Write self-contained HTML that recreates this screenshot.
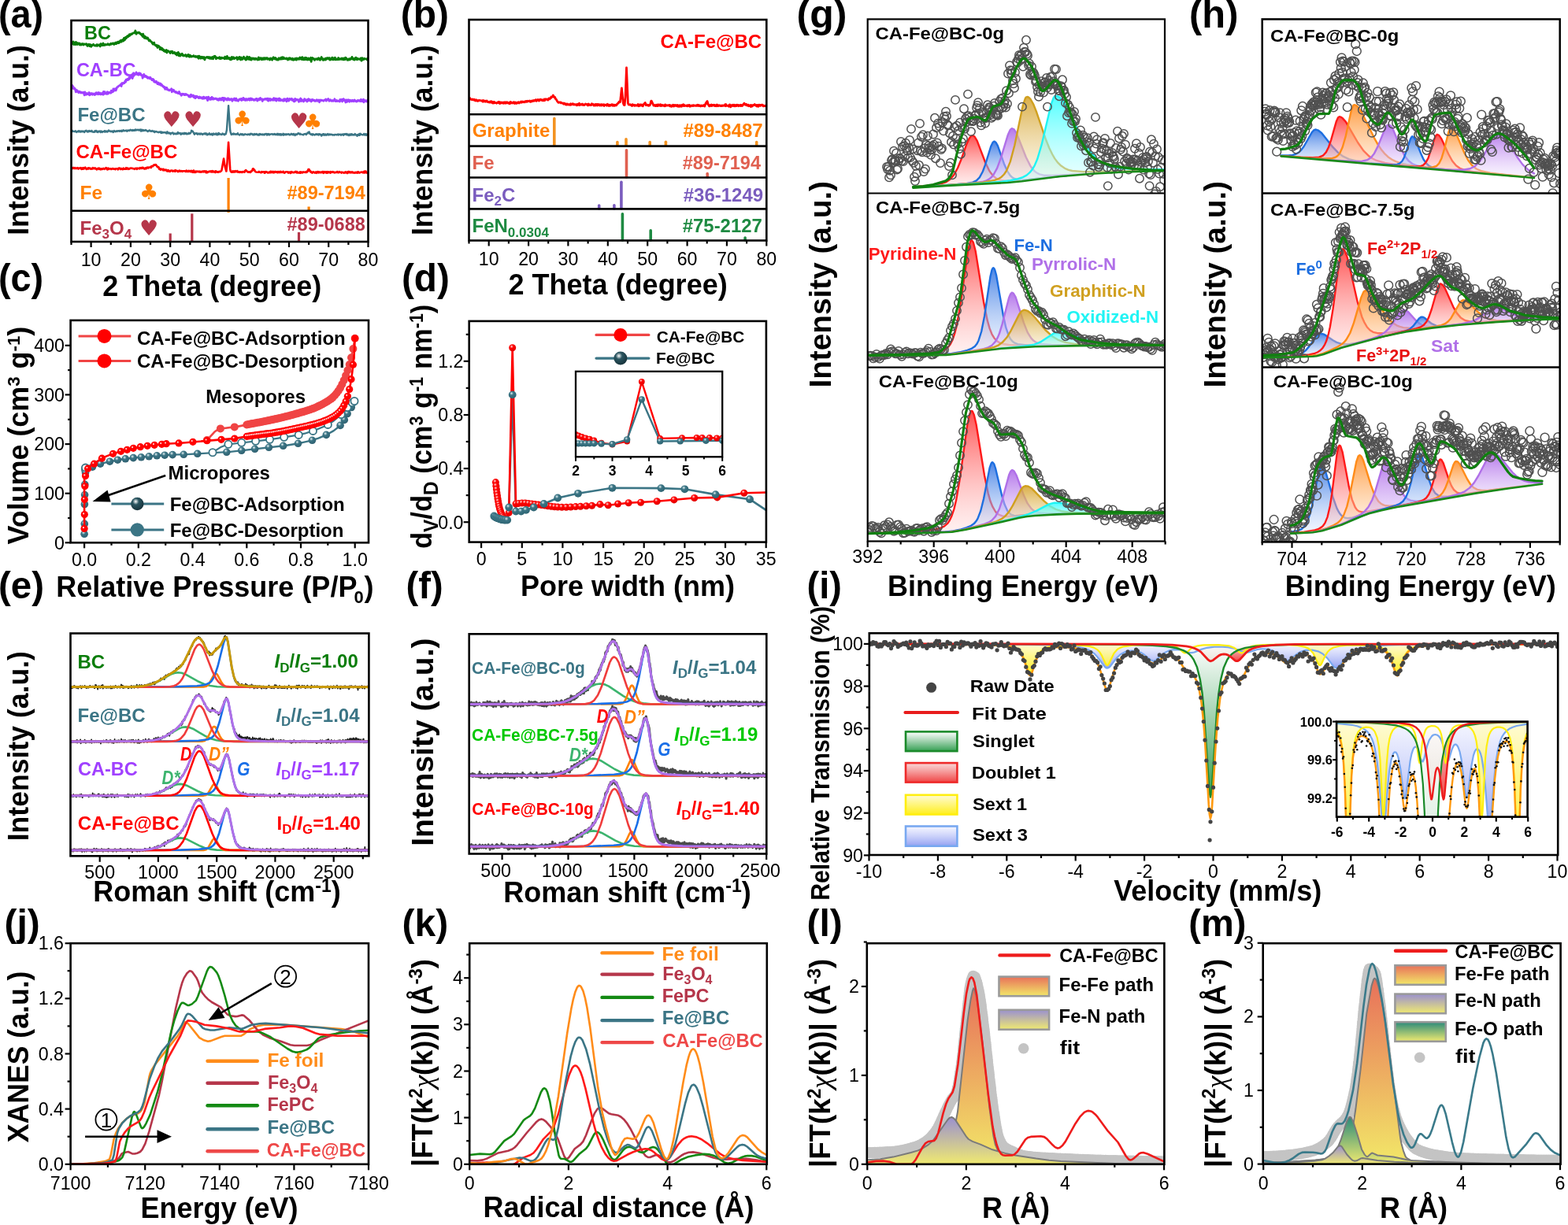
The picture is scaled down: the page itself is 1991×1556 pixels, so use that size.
<!DOCTYPE html>
<html><head><meta charset="utf-8"><title>Figure</title>
<style>html,body{margin:0;padding:0;background:#fff;}svg{display:block;}text{font-family:'Liberation Sans', Arial, sans-serif;}</style>
</head><body>
<svg xmlns="http://www.w3.org/2000/svg" width="1991" height="1556" viewBox="0 0 1991 1556">
<defs><clipPath id="cp1"><rect x="90.5" y="26" width="377" height="281"/></clipPath><clipPath id="cp2"><rect x="595.5" y="25" width="377.8" height="280.5"/></clipPath><radialGradient id="rg3" cx="0.38" cy="0.32" r="0.7"><stop offset="0" stop-color="#e8f2f4"/><stop offset="0.35" stop-color="#3b7585"/><stop offset="1" stop-color="#2f6070"/></radialGradient><radialGradient id="rg4" cx="0.38" cy="0.32" r="0.7"><stop offset="0" stop-color="#ffffff"/><stop offset="0.35" stop-color="#2a5560"/><stop offset="1" stop-color="#17323a"/></radialGradient><radialGradient id="rg5" cx="0.38" cy="0.32" r="0.7"><stop offset="0" stop-color="#ffe0e0"/><stop offset="0.35" stop-color="#ff0000"/><stop offset="1" stop-color="#e00000"/></radialGradient><radialGradient id="rg6" cx="0.38" cy="0.32" r="0.7"><stop offset="0" stop-color="#e0eef0"/><stop offset="0.35" stop-color="#3b7585"/><stop offset="1" stop-color="#2e6472"/></radialGradient><clipPath id="cp7"><rect x="595.7" y="407.9" width="377.2" height="280.7"/></clipPath><radialGradient id="rg8" cx="0.38" cy="0.32" r="0.7"><stop offset="0" stop-color="#ffffff"/><stop offset="0.35" stop-color="#2a5560"/><stop offset="1" stop-color="#17323a"/></radialGradient><clipPath id="cp9"><rect x="731" y="471.8" width="186.2" height="108.5"/></clipPath><clipPath id="cp10"><rect x="89.5" y="804.5" width="378.9" height="282.8"/></clipPath><clipPath id="cp11"><rect x="595.7" y="805.3" width="377.6" height="279.2"/></clipPath><clipPath id="cp12"><rect x="1101.7" y="24.4" width="377.3" height="221.1"/></clipPath><linearGradient id="lg13" x1="0" y1="0" x2="0" y2="1"><stop offset="0" stop-color="#ff3030" stop-opacity="0.85"/><stop offset="1" stop-color="#ffd8d8" stop-opacity="0.35"/></linearGradient><linearGradient id="lg14" x1="0" y1="0" x2="0" y2="1"><stop offset="0" stop-color="#2a6ee0" stop-opacity="0.85"/><stop offset="1" stop-color="#d8e6ff" stop-opacity="0.35"/></linearGradient><linearGradient id="lg15" x1="0" y1="0" x2="0" y2="1"><stop offset="0" stop-color="#a860e6" stop-opacity="0.85"/><stop offset="1" stop-color="#efe2ff" stop-opacity="0.35"/></linearGradient><linearGradient id="lg16" x1="0" y1="0" x2="0" y2="1"><stop offset="0" stop-color="#d4a028" stop-opacity="0.85"/><stop offset="1" stop-color="#faf2d8" stop-opacity="0.35"/></linearGradient><linearGradient id="lg17" x1="0" y1="0" x2="0" y2="1"><stop offset="0" stop-color="#30ffff" stop-opacity="0.85"/><stop offset="1" stop-color="#d8ffff" stop-opacity="0.35"/></linearGradient><marker id="mk18" markerUnits="userSpaceOnUse" viewBox="-7.7 -7.7 15.4 15.4" markerWidth="15.4" markerHeight="15.4" refX="0" refY="0" overflow="visible"><circle r="5.2" fill="none" stroke="#505050" stroke-width="1.5"/></marker><clipPath id="cp19"><rect x="1101.7" y="245.5" width="377.3" height="221.1"/></clipPath><marker id="mk20" markerUnits="userSpaceOnUse" viewBox="-7.7 -7.7 15.4 15.4" markerWidth="15.4" markerHeight="15.4" refX="0" refY="0" overflow="visible"><circle r="5.2" fill="none" stroke="#505050" stroke-width="1.5"/></marker><clipPath id="cp21"><rect x="1101.7" y="466.6" width="377.3" height="220.9"/></clipPath><marker id="mk22" markerUnits="userSpaceOnUse" viewBox="-7.7 -7.7 15.4 15.4" markerWidth="15.4" markerHeight="15.4" refX="0" refY="0" overflow="visible"><circle r="5.2" fill="none" stroke="#505050" stroke-width="1.5"/></marker><clipPath id="cp23"><rect x="1602.7" y="24.4" width="378" height="221.1"/></clipPath><linearGradient id="lg24" x1="0" y1="0" x2="0" y2="1"><stop offset="0" stop-color="#ff8a20" stop-opacity="0.85"/><stop offset="1" stop-color="#ffe6cc" stop-opacity="0.35"/></linearGradient><marker id="mk25" markerUnits="userSpaceOnUse" viewBox="-7.9 -7.9 15.8 15.8" markerWidth="15.8" markerHeight="15.8" refX="0" refY="0" overflow="visible"><circle r="5.4" fill="none" stroke="#505050" stroke-width="1.5"/></marker><clipPath id="cp26"><rect x="1602.7" y="245.5" width="378" height="221.1"/></clipPath><marker id="mk27" markerUnits="userSpaceOnUse" viewBox="-7.9 -7.9 15.8 15.8" markerWidth="15.8" markerHeight="15.8" refX="0" refY="0" overflow="visible"><circle r="5.4" fill="none" stroke="#505050" stroke-width="1.5"/></marker><clipPath id="cp28"><rect x="1602.7" y="466.6" width="378" height="221.8"/></clipPath><marker id="mk29" markerUnits="userSpaceOnUse" viewBox="-7.9 -7.9 15.8 15.8" markerWidth="15.8" markerHeight="15.8" refX="0" refY="0" overflow="visible"><circle r="5.4" fill="none" stroke="#505050" stroke-width="1.5"/></marker><linearGradient id="lg30" x1="0" y1="0" x2="0" y2="1"><stop offset="0" stop-color="#ffffff" stop-opacity="0.9"/><stop offset="1" stop-color="#2a9a4a" stop-opacity="0.95"/></linearGradient><linearGradient id="lg31" x1="0" y1="0" x2="0" y2="1"><stop offset="0" stop-color="#f8d0d0" stop-opacity="0.8"/><stop offset="1" stop-color="#ee3030" stop-opacity="0.9"/></linearGradient><linearGradient id="lg32" x1="0" y1="0" x2="0" y2="1"><stop offset="0" stop-color="#fffbd0" stop-opacity="0.9"/><stop offset="1" stop-color="#ffee10" stop-opacity="0.95"/></linearGradient><linearGradient id="lg33" x1="0" y1="0" x2="0" y2="1"><stop offset="0" stop-color="#eef0ff" stop-opacity="0.6"/><stop offset="1" stop-color="#8090f0" stop-opacity="0.85"/></linearGradient><clipPath id="cp34"><rect x="1103.8" y="804.3" width="874.4" height="281.7"/></clipPath><marker id="mk35" markerUnits="userSpaceOnUse" viewBox="-4.6 -4.6 9.2 9.2" markerWidth="9.2" markerHeight="9.2" refX="0" refY="0" overflow="visible"><circle r="2.6" fill="#444" stroke="none" stroke-width="1.0"/></marker><clipPath id="cp36"><rect x="1697.1" y="916.6" width="242.5" height="121"/></clipPath><marker id="mk37" markerUnits="userSpaceOnUse" viewBox="-3.3 -3.3 6.6 6.6" markerWidth="6.6" markerHeight="6.6" refX="0" refY="0" overflow="visible"><circle r="1.3" fill="#111" stroke="none" stroke-width="1.0"/></marker><clipPath id="cp38"><rect x="89.6" y="1198.2" width="378.4" height="280.6"/></clipPath><clipPath id="cp39"><rect x="596.2" y="1198.2" width="377.6" height="280.6"/></clipPath><linearGradient id="lg40" x1="0" y1="0" x2="0" y2="1"><stop offset="0" stop-color="#e8705a" stop-opacity="1"/><stop offset="1" stop-color="#f2e868" stop-opacity="1"/></linearGradient><linearGradient id="lg41" x1="0" y1="0" x2="0" y2="1"><stop offset="0" stop-color="#9a90d0" stop-opacity="1"/><stop offset="1" stop-color="#f0ea70" stop-opacity="1"/></linearGradient><clipPath id="cp42"><rect x="1100.8" y="1198.2" width="377.6" height="280.6"/></clipPath><marker id="mk43" markerUnits="userSpaceOnUse" viewBox="-9.2 -9.2 18.4 18.4" markerWidth="18.4" markerHeight="18.4" refX="0" refY="0" overflow="visible"><circle r="7.2" fill="#c4c4c4" stroke="none" stroke-width="1.0"/></marker><linearGradient id="lg44" x1="0" y1="0" x2="0" y2="1"><stop offset="0" stop-color="#e8705a" stop-opacity="1"/><stop offset="1" stop-color="#f2e868" stop-opacity="1"/></linearGradient><linearGradient id="lg45" x1="0" y1="0" x2="0" y2="1"><stop offset="0" stop-color="#9a90d0" stop-opacity="1"/><stop offset="1" stop-color="#f0ea70" stop-opacity="1"/></linearGradient><linearGradient id="lg46" x1="0" y1="0" x2="0" y2="1"><stop offset="0" stop-color="#2a8a7a" stop-opacity="1"/><stop offset="1" stop-color="#f0ea70" stop-opacity="1"/></linearGradient><clipPath id="cp47"><rect x="1603.7" y="1198.2" width="377.9" height="280.4"/></clipPath><marker id="mk48" markerUnits="userSpaceOnUse" viewBox="-9.2 -9.2 18.4 18.4" markerWidth="18.4" markerHeight="18.4" refX="0" refY="0" overflow="visible"><circle r="7.2" fill="#c4c4c4" stroke="none" stroke-width="1.0"/></marker></defs>
<rect x="0" y="0" width="1991" height="1556" fill="#fff"/>
<g clip-path="url(#cp1)"><path d="M90.5 56.1 91 54.1 92.1 53.8 92.7 55.6 93.2 52.8 93.7 56.6 94.3 54.4 94.8 55.4 95.4 55 95.9 56.6 96.4 53.5 98.1 56.6 98.6 54.7 99.1 55.6 99.7 55 100.7 56.5 101.3 55 101.8 57.1 102.9 56.6 103.4 57.1 104 55.7 104.5 56.2 105.1 55.5 106.1 57 106.7 55.9 107.2 56.2 108.3 55.9 109.4 56.7 109.9 55.8 111 58.4 112.6 56.2 113.2 56.4 113.7 58.6 114.8 56.6 115.8 59.2 116.4 57.4 116.9 57.9 117.5 57.6 118.5 56.3 120.2 57.9 121.2 58.2 121.8 57.5 122.3 58.1 122.9 56.6 123.4 58.3 124.5 56.9 125 57.5 125.6 57 127.2 59 127.7 55.7 128.3 55.6 129.9 57.6 131 55 132 57.5 132.6 56.9 133.1 57.3 133.6 56.4 135.3 56.8 136.3 56.5 136.9 55.7 137.4 56.6 138 56.3 138.5 57.1 139 57.1 140.7 55.3 141.2 56.2 142.3 55.3 142.8 55.6 143.4 54.9 143.9 56 144.4 54.9 145 56.4 145.5 55.6 146.1 55.7 146.6 54.1 147.7 55.6 148.2 53.9 149.3 54.5 149.8 53.1 150.9 54.7 151.4 52.9 152 53.7 152.5 51.9 153.1 52.8 153.6 51.1 154.1 53.2 155.8 50.4 156.3 51.8 156.8 52.1 157.4 48.3 157.9 50.7 158.5 50.6 159.5 47.3 160.1 48.8 161.7 45.7 162.2 46.9 162.8 46.7 163.3 45 163.9 45.7 164.4 43.7 164.9 45.1 166.5 43 167.1 43.6 169.2 41.8 170.9 41.9 171.9 39 173 43.2 174.1 41.4 175.7 41.9 176.3 41.1 176.8 41.8 177.3 41.6 177.9 42.9 178.4 42.7 179 43.7 179.5 43.4 180 44.7 180.6 44.3 181.1 46.5 181.6 43.1 183.3 48.3 183.8 46.2 184.9 47 185.4 48.8 186 47.8 186.5 49.1 187.6 48.1 189.2 51.7 189.7 50.9 190.3 50.8 190.8 52.3 192.4 53 193 54.6 193.5 54.3 194.1 56.1 195.1 55.8 195.7 54.1 196.2 56.6 197.8 58.1 198.4 57.2 198.9 58.7 199.4 57.8 200 60.5 200.5 57.9 201.6 58.4 202.7 59.6 203.2 62.7 204.3 60.4 204.8 62.9 205.9 61.4 206.5 63.6 207 63.6 207.5 62.9 208.1 64.7 208.6 63.8 209.2 65.3 209.7 64.5 210.2 65.6 211.3 63.5 211.9 66.9 212.4 64.4 212.9 64.9 213.5 64.6 215.1 65.9 216.2 67.6 217.2 65.2 218.3 66 218.9 65.3 219.4 67.7 219.9 66.7 221 67.4 221.6 66.4 222.6 68.5 223.2 68.6 223.7 67.8 224.3 70 224.8 67.3 225.9 68.5 226.4 66.4 227 70.7 228 68.2 228.6 71.1 229.1 69.9 229.7 69.8 230.2 69 230.7 69.7 231.3 68.3 231.8 70.5 232.3 69.5 233.4 71 234 70.3 235 70.4 235.6 69.6 236.7 71.8 237.2 71.1 237.7 71.3 238.3 69.8 239.4 69.4 239.9 71.9 240.4 70.7 241 72.2 241.5 70.3 243.1 72.1 243.7 71.4 245.3 71.7 245.8 70.6 246.4 71.7 247.4 71.8 248 72.3 248.5 71.3 250.7 73 251.2 71.5 252.3 74.3 252.8 71.2 254.5 72.5 255 74.2 256.1 72.2 256.6 73.5 257.2 72.4 257.7 74 258.2 73.3 258.8 74.3 259.3 72.5 259.9 75.8 260.4 73.9 262.6 72.4 263.1 73.1 263.6 72.5 264.2 73.5 264.7 72.5 265.8 74.1 266.3 72.6 266.9 74.4 267.4 73.1 267.9 74.4 268.5 73.7 269 74.4 269.6 72.5 270.6 74.7 271.7 71.6 272.8 71.2 273.3 71.6 274.4 74.7 275 73.1 275.5 73.8 277.7 73.4 278.2 74 278.7 72.6 279.3 74.6 279.8 74.5 280.3 73.5 280.9 74.4 281.4 73.1 282.5 73.9 284.7 73.3 285.2 74.7 285.7 72.1 286.3 74.2 286.8 73.7 287.4 74.5 287.9 74.4 288.4 71.4 289 74.5 290.6 73.5 291.1 74.7 291.7 73.6 292.2 75.6 292.8 74.5 293.3 75.9 294.4 72.4 294.9 74.7 295.4 74.8 296.5 72.7 297.6 74.6 298.1 73.9 299.2 73.9 299.8 73.2 300.3 73.6 300.8 72.8 301.4 75.7 301.9 73.7 302.5 74.5 303 73.2 303.5 74.8 304.1 72.4 304.6 75 305.2 74.1 305.7 76 306.2 73 307.9 75.3 308.4 73.8 308.9 74.3 309.5 72.2 311.1 75.2 311.6 73.9 312.2 76.1 312.7 75.8 313.8 72 315.4 75.2 316.5 72.4 317.6 75.7 318.1 73.9 318.6 73.6 319.2 76.1 320.3 73.9 320.8 74.6 321.9 73.9 322.4 75.4 323.5 75.1 324 74.2 324.6 75.4 325.1 74.3 326.2 75.3 326.7 75.1 327.3 76 328.3 72.9 328.9 73.3 329.4 75.6 330 74.1 330.5 74.7 331 73.6 331.6 75.3 332.1 74.1 332.7 75.7 333.2 73.9 333.7 75.4 334.8 73.8 335.4 75.4 335.9 73.6 336.4 73.7 337 75.1 337.5 73.9 338.6 74.2 339.1 73.6 339.7 75.4 341.3 74.4 342.4 76.1 343.5 74 344 75.2 345.1 74.3 345.6 76.2 346.1 74.1 346.7 74.1 347.2 72.8 348.3 74.9 348.8 73.9 349.4 75 349.9 73.5 351.5 75.9 352.1 75.1 353.2 76.1 354.2 73.7 355.3 75.1 355.9 74.2 356.4 75 356.9 73.1 358 75 358.6 72.6 359.6 74.6 360.2 73 360.7 74.6 361.2 73.9 362.9 74.8 363.4 74.1 363.9 74.7 364.5 74 365.6 76.1 367.2 73.6 367.7 75.2 368.3 73.9 368.8 73.9 369.3 75.1 369.9 74.8 371 75.9 371.5 74.1 372.6 76.2 373.7 75.3 374.2 75.8 374.7 74.1 376.4 76.1 376.9 73.9 378 75 379 74.3 379.6 75.3 380.7 73 381.2 75 382.8 73.3 383.4 75.6 383.9 72.7 385.5 75.8 386.1 75.9 386.6 73.6 387.1 74.5 387.7 73.3 388.2 75.6 388.8 73.4 389.8 75.6 390.4 74.5 390.9 76 391.5 73.9 392.5 75.5 393.1 74.6 393.6 76 394.7 73.2 395.2 78.3 395.8 75.3 396.8 73.5 397.4 74.8 397.9 74.3 398.5 75.3 399 75.1 399.5 76.4 400.1 74.9 400.6 75.2 402.2 74.6 402.8 75.7 404.4 73.7 405.5 75.8 406 74.7 406.6 76.3 407.1 74.1 407.6 74.9 408.2 72.5 408.7 74.2 410.3 76.3 410.9 74.8 411.4 76.1 411.9 75.4 412.5 75.7 413 74.4 413.6 76 414.1 73.8 414.6 75.2 415.2 73.9 415.7 74.3 416.3 73.5 417.3 75.1 418.4 73.6 419 76.1 419.5 75.1 420 75.7 420.6 75.5 421.7 73.1 422.7 75.9 423.3 73.9 423.8 75.6 424.4 74.3 424.9 75.2 425.4 73.2 426 75.9 426.5 74.8 427 75.6 427.6 75 428.1 75.6 428.7 74.8 429.2 75.5 429.7 73.5 430.8 75.5 431.9 74.7 433 75.3 433.5 74.3 434.1 75.3 434.6 74 435.7 75.8 436.2 75.8 436.8 73.9 437.3 75.6 437.8 73.9 438.4 75.5 438.9 73.2 440.5 74.7 441.1 76.2 441.6 75.7 442.2 76.3 443.2 74.6 443.8 74.7 444.3 75.9 445.9 73.7 446.5 74.8 447 72.4 447.5 74.5 448.1 74 448.6 75.5 449.2 74.5 449.7 74.6 450.2 76.1 450.8 74 451.3 75.2 451.9 73.2 452.4 75 453.5 75.7 454 74.1 454.6 75.2 455.6 74.9 456.7 75.4 457.3 75.3 457.8 74.1 458.3 73.9 458.9 77.2 459.4 76.7 459.9 73.7 460.5 75.4 461.6 75.7 462.6 74.1 463.2 74.8 465.3 74.9 466.4 76.1 467 73.9 467.5 74.6" stroke="#0a7d0a" stroke-width="2.8" fill="none" stroke-linejoin="round" stroke-linecap="round"/><path d="M90.5 109 91 109.8 91.6 108.3 92.1 112.2 92.7 109.6 93.7 112.7 94.3 111.7 95.4 113 96.4 116.8 97.5 114.5 98.1 116.3 98.6 115.6 99.7 117.7 100.2 116.2 100.7 117.1 101.3 116.5 102.4 117.9 102.9 117 104 118 105.6 117.3 106.1 118.6 106.7 118.6 107.2 120.9 107.8 116.8 108.3 119.1 109.4 120.3 110.5 118.4 111.5 119.6 112.1 118.9 112.6 119.9 113.2 117.5 113.7 120.8 114.2 120.5 114.8 118.9 115.3 119.8 116.4 118.5 117.5 120.2 118 119 118.5 119 120.2 120.5 120.7 118.8 121.2 119.8 121.8 119.6 122.3 117.7 122.9 119 124.5 119.7 125 117.5 125.6 119.4 126.6 118 127.2 119.7 127.7 119.9 128.3 118.6 128.8 119.8 129.3 118.7 129.9 119 130.4 117.9 131 120.2 131.5 116.3 132.6 119.2 133.1 116.7 133.6 118.3 135.3 119.4 136.3 116.8 136.9 119.2 137.4 119 138 117.4 138.5 118 140.1 117.3 140.7 118.2 141.2 115.1 141.7 117.3 142.8 115.6 143.4 116.5 143.9 113 144.4 115.7 145.5 112.9 146.1 113.9 146.6 112.8 147.1 115 148.7 110.8 149.8 110.3 150.9 109 152 108.7 153.6 106.9 154.1 109.6 154.7 105.6 155.2 105.6 155.8 106.5 156.3 105.4 157.9 105.5 159 102.7 159.5 104.2 160.1 101.2 160.6 102.2 161.7 100.6 162.2 101.6 162.8 100.5 163.3 101.2 163.9 98.5 164.4 100.2 165.5 98.7 166 96.9 166.5 97.6 167.6 95.1 168.2 99.5 168.7 97 169.2 97.3 169.8 94.9 170.3 95.6 171.4 94.9 172.5 93.7 173 91.9 173.6 94.2 174.1 94 174.6 94.6 175.2 93.3 175.7 95.2 176.8 92.7 177.3 94.9 178.4 93.3 179.5 95.6 180 95.3 180.6 95.8 181.1 99.2 181.6 96.5 182.2 97.4 182.7 94.4 183.3 96.7 183.8 97.3 184.9 96.3 185.4 97.6 186.5 97.2 187 98.9 187.6 99.3 188.7 98.2 189.2 99.3 190.3 99.9 190.8 98.3 193 101.7 193.5 101.8 194.1 100.4 194.6 101.2 195.1 101.1 195.7 104.1 196.2 103 197.3 104.5 198.4 103.2 200 106.6 200.5 106.4 201.1 105 201.6 106.9 202.1 107.3 202.7 106.1 203.2 107.3 203.8 106.1 204.3 108.4 205.4 107.6 206.5 109.7 207 109.3 208.1 111 208.6 110.1 209.7 113.4 210.8 111.3 211.3 112.4 211.9 111.4 212.4 113.9 212.9 113.4 213.5 114.3 214.5 114.1 215.1 114.9 216.7 113.7 217.2 114.4 217.8 112.7 218.3 116.8 218.9 113.8 219.4 115.5 220.5 114.2 221 116.1 222.1 116.4 222.6 117.3 223.2 116.4 223.7 117.5 224.3 117.9 224.8 117.3 225.9 118.5 227 118.5 227.5 116.5 228 118.8 228.6 119.3 229.1 119 230.2 121.2 230.7 119.7 231.3 120.4 231.8 119.2 232.9 119.8 233.4 119.4 234 120.5 234.5 119.7 235 120.5 235.6 119.5 236.1 119.4 236.7 120.4 237.2 120.1 238.8 121 239.9 122.8 241 121.4 241.5 123.2 242.1 120.6 242.6 120.2 243.1 122.4 244.8 122.4 245.3 121 245.8 121.6 246.4 123.8 246.9 123.7 247.4 122.3 248 124.7 248.5 122.1 249.6 123.6 250.1 122.3 251.2 123.4 251.8 123.3 252.3 124.6 252.8 124.4 253.4 123 254.5 124.3 255.5 123.6 256.6 125.1 257.2 123.9 257.7 125.2 258.2 123.1 258.8 123.1 259.3 125.1 259.9 123.9 260.4 123.8 260.9 124.5 261.5 124.1 262 125 262.6 123.5 263.6 127.7 264.7 123.1 265.2 125.4 265.8 125.4 266.3 126.2 267.4 124.4 267.9 126.3 269 123.4 269.6 125.7 270.1 124.9 270.6 126.1 271.2 124.8 271.7 125.9 272.3 125.4 272.8 125.7 273.9 124.9 275 125.9 275.5 125.7 276 126.8 276.6 125.7 277.1 126 277.7 127.3 278.2 125.5 278.7 125.9 279.3 124.9 280.3 127 280.9 125.8 281.4 126.9 282 124.6 282.5 124.4 283 125.9 283.6 124.4 284.1 128.1 285.2 124.6 285.7 125.6 286.3 125.3 286.8 126.2 287.4 125.8 288.4 127.2 289.5 124.8 290.1 126.4 290.6 125.8 291.1 127 291.7 125.8 292.2 126.7 293.8 125.6 294.9 128.3 296 125.9 296.5 126.7 297.6 124.9 298.7 127.5 299.8 125.1 300.8 127.7 301.4 126.9 301.9 127 302.5 128.2 304.1 125.9 305.2 126 305.7 126.9 306.2 125.4 306.8 127.5 307.9 125.8 308.4 126.9 308.9 124.3 310.6 126.9 311.1 125.8 311.6 127.5 312.2 125.8 312.7 126.7 313.2 125.6 313.8 127.3 314.3 126 314.9 126.7 315.9 125.3 317 127.2 317.6 125.3 318.1 124.9 319.2 127 319.7 125.3 320.8 126.5 321.3 126 322.4 127.4 323 126.3 323.5 126.3 324 127 325.1 125.5 326.2 125.3 326.7 128.1 327.3 126.3 328.3 127 328.9 125.5 329.4 126.9 330.5 124.5 331 126.2 331.6 125.4 332.7 126.7 333.2 128.5 333.7 126 334.8 126.8 335.9 126.3 336.4 125.5 337.5 126.3 338.1 125.4 338.6 125.9 339.1 125.3 339.7 127.5 340.2 125.1 340.8 128.2 341.3 126 342.4 125.5 342.9 127.2 343.5 127.5 344 125.8 344.5 126.9 345.6 126.4 346.7 127.3 347.2 124.9 347.8 124.6 348.3 126.8 348.8 126.6 349.4 127.3 349.9 125.1 351 128.1 351.5 125.5 352.1 127 352.6 126 353.2 126.4 353.7 125.5 354.2 127.8 354.8 125 355.9 126 356.4 127.8 356.9 127.1 357.5 127.4 358 126.8 359.1 127.3 359.6 128.2 360.7 125.6 361.2 127.9 362.3 125.9 362.9 126.8 363.4 126 363.9 128.8 365 125.2 365.6 127.2 366.1 126.2 366.6 128.2 367.7 125.4 368.3 126.6 368.8 126.1 369.9 126.5 370.4 125.3 371 127.3 371.5 126.3 372 126.3 373.1 128.8 373.7 126.6 374.2 128.8 374.7 125.3 375.3 127.7 375.8 126.7 376.4 127.1 376.9 126.3 378.5 126.9 379.6 129.3 380.1 126.7 380.7 127.1 381.7 125 382.3 128.6 382.8 126.1 384.4 128.2 385 127.6 385.5 129 386.6 125.7 387.1 127.5 387.7 127.5 388.2 126.7 388.8 127.1 389.3 126.9 389.8 129 390.4 126.9 390.9 126.2 391.5 127.7 392 125.8 392.5 127.9 393.1 127.9 393.6 126.7 394.7 127 395.2 129 396.3 126.4 396.8 126.4 397.4 127.5 397.9 127.5 398.5 126.9 399 127.8 399.5 127.4 400.1 128.5 401.2 127.5 401.7 127.7 402.2 126.8 402.8 128.4 403.9 127.2 404.4 127.7 404.9 127.1 405.5 129.8 406 127.2 406.6 128.1 407.1 127.9 407.6 126.9 408.2 127.6 408.7 127.3 410.9 128.3 411.4 127.3 413 126.9 413.6 126.1 414.1 128.2 416.8 125.4 417.9 128.3 418.4 128.2 419.5 126.7 420 127.7 421.1 128.3 421.7 128.4 422.2 127.5 423.3 128.3 424.4 127.6 424.9 125.8 426 128.5 426.5 127.9 427 128.6 427.6 127.4 428.7 128.5 429.7 128.1 431.4 129 431.9 126.3 432.4 127.3 433 127.5 433.5 127.4 434.1 126.3 434.6 129 435.1 126.9 435.7 127.9 436.2 125.6 436.8 127.3 437.3 127.6 437.8 127 438.9 130 439.5 127 440 127 440.5 129.4 442.2 126.7 442.7 128.5 443.2 128 443.8 129.2 444.3 127.1 444.8 127.7 445.9 127.7 446.5 128.8 447 128.6 447.5 127.3 448.6 127.7 449.2 128.7 450.2 126.9 451.9 128.7 452.9 129.1 454 127.4 454.6 128.4 455.6 127.4 457.3 128.7 458.3 126.4 458.9 128.4 459.4 127.1 459.9 128.8 460.5 127 461 127.4 461.6 126.3 462.1 129.8 462.6 127.5 464.3 127.7 464.8 128.7 465.9 128 466.4 129 467 126.8 467.5 129" stroke="#a040ff" stroke-width="2.8" fill="none" stroke-linejoin="round" stroke-linecap="round"/><path d="M90.5 167.9 92.1 166.1 92.7 166.9 93.7 167 94.8 167 95.9 166.3 96.4 167.4 97.5 167.9 98.1 167 99.7 166.2 100.2 167.5 100.7 166.4 101.3 166.4 102.4 167.7 103.4 166.5 104.5 167.3 105.6 166.6 107.2 168 107.8 166.4 108.8 166.6 109.4 165.8 109.9 166.5 110.5 166.5 111 167.6 112.1 166.2 112.6 167.3 113.7 166.1 114.2 166.7 115.3 166.6 115.8 167 116.4 165.9 117.5 167.5 119.6 167.7 120.2 166.4 120.7 167.4 121.2 166.1 121.8 166.7 122.3 166 122.9 167.5 123.4 167.7 123.9 166.9 124.5 167.9 125 166.7 126.1 167.1 126.6 166.5 127.7 168 128.3 166.5 128.8 167.4 129.3 166.9 129.9 167.9 130.4 167.2 132 167.1 132.6 166.3 133.1 167.7 133.6 166.3 134.2 167.1 134.7 167.3 135.3 166.6 136.3 167.6 138 165.5 138.5 166.5 140.1 166.5 140.7 167.2 141.2 166.7 142.3 167.3 142.8 166.5 143.9 167.9 145 166.1 146.6 167.3 148.2 166.2 148.7 166.9 149.8 166.2 150.9 166.2 151.4 166.8 152 166 153.1 166.7 154.1 165.8 154.7 166.9 155.2 165.8 155.8 166.4 156.8 165.2 157.4 166.2 159 166.1 160.1 165.5 161.2 166.8 162.2 165.5 162.8 166 163.9 165.5 164.4 166.1 165.5 164.8 167.6 166.1 168.2 165.1 168.7 165.8 169.8 165.3 170.3 165.7 171.4 164.8 171.9 165.8 172.5 164.6 173 165.2 174.1 165.3 174.6 164.7 176.3 165.5 176.8 164.7 177.3 165.2 178.4 164.6 179 166.6 180 164.7 180.6 166.2 181.1 165 182.2 166.1 182.7 165.3 184.3 165.8 184.9 165.1 187.6 167 188.7 166 189.2 166.3 189.7 165.4 191.9 166.9 193.5 166 194.1 166.7 195.1 167.1 195.7 166.6 196.2 168 197.8 166.9 201.1 168.2 202.1 167.6 202.7 167.9 203.8 167.5 204.3 168.8 204.8 167.6 205.4 168.9 205.9 167.8 207 168.6 207.5 168.2 210.2 168.1 210.8 169.3 211.3 168.4 211.9 169.4 212.4 167.3 212.9 168.7 213.5 169 214 168.6 214.5 169.4 215.6 168.8 216.7 170.4 217.2 169.2 218.3 168.8 218.9 169.1 219.4 168.5 220.5 170.4 221.6 169.5 222.6 170.1 223.2 169.5 223.7 170.3 224.8 169.3 225.3 170.1 225.9 168.1 227 169.5 227.5 168.9 228 169.3 229.1 169.1 229.7 170.8 230.7 169.4 231.3 170.1 231.8 169.3 233.4 170.3 234 168.8 234.5 169.9 235.6 169 236.1 170.1 236.7 169.2 237.2 170.4 238.8 169.7 239.4 170.1 239.9 168.8 240.4 169.7 241 169.3 241.5 169.6 242.6 167.9 243.1 165.8 244.8 166.8 246.9 170.8 247.4 169.3 248 169.6 249.6 169.2 250.1 170.2 250.7 169.5 251.2 170.8 252.3 169.6 253.4 169.8 253.9 170.8 255 169.4 256.1 170.4 256.6 169.9 257.2 171 258.8 169.8 259.9 170.2 260.4 169.2 260.9 170.5 261.5 169.5 262 170.4 262.6 169.6 263.1 171.4 263.6 170.6 264.7 170.9 265.8 169.3 266.9 170.9 267.4 170.5 268.5 171 269 169.8 270.1 171.5 271.2 169.5 271.7 170.4 272.8 170.7 273.3 170.1 273.9 170.6 274.4 169.4 275.5 171.3 276 171.2 276.6 169.8 277.1 170.7 277.7 169 278.2 170.7 279.3 170 280.9 171 282 170.7 282.5 169.6 284.1 170.7 284.7 170.5 285.2 171.3 285.7 170.1 286.8 170.2 287.9 165.3 290.1 134.1 292.2 165.3 292.8 168.4 293.8 171.1 294.4 170 295.4 170.1 296 170.7 296.5 169.6 297.1 170.6 297.6 169.9 299.2 170.8 299.8 170.3 301.4 170.5 301.9 169.2 302.5 170.4 304.1 171.6 305.7 170.1 307.3 171.2 307.9 170.2 309.5 171.5 311.1 170.3 314.3 171.2 314.9 170.4 315.4 170.8 315.9 170.4 317 171.2 318.1 169.7 318.6 170.5 319.7 169.9 321.3 171.5 321.9 170.4 323 171.2 323.5 170.1 324 170.6 325.1 170.7 325.7 169.9 326.7 171.2 327.8 171.6 328.3 170.5 328.9 171.6 330 170 330.5 171 331 170.5 331.6 170.9 332.1 170.6 332.7 171.3 333.7 170.5 334.3 171.2 335.4 170.5 335.9 171.3 336.4 170.5 338.1 169.9 339.1 171.6 339.7 170.2 340.2 170.7 340.8 170.1 341.3 170.4 341.8 171.4 342.9 170.4 343.5 170.7 345.6 170.2 346.7 171 348.3 170 348.8 170.7 349.4 170.2 349.9 171.1 351 171.1 352.1 169.8 352.6 171.2 353.2 171.3 353.7 170 354.8 171.3 355.3 170.2 355.9 171.6 356.9 170.2 357.5 171.4 358.6 170.4 359.1 171.2 359.6 169.8 360.2 171.6 360.7 170.3 361.2 170.9 361.8 170.5 362.9 171.2 363.4 170.3 363.9 171.1 366.1 170.2 367.2 171.2 367.7 170.7 368.3 171.3 369.9 169.8 371 170.9 372 170.3 372.6 171.3 373.1 169.9 374.7 171.9 375.8 170.3 376.4 171 377.4 170.9 378.5 169.3 379.6 169.5 380.7 170.8 381.2 169.8 382.3 170.6 384.4 170.9 385 171.5 386.1 170.3 387.7 170.3 388.2 169.8 388.8 171.1 390.9 168.4 391.5 168.2 392 169.2 392.5 167.4 393.6 170 395.2 171.1 395.8 170.2 396.8 171.5 397.4 170.3 399.5 171.5 401.2 170.3 402.2 171 402.8 170.3 404.4 171.4 404.9 170.3 405.5 171.1 406 170.3 407.1 170.8 408.2 172.5 408.7 171 409.8 171.4 410.3 170.2 410.9 171.2 411.4 170.2 411.9 171.7 413.6 170.5 414.1 171.7 414.6 171 415.7 171.2 416.3 170 417.3 171.4 419 170.4 419.5 171.2 421.1 170.6 422.2 171.5 422.7 171.1 424.4 171.7 425.4 170.8 427.6 171.4 428.1 170.7 428.7 171 429.2 170.4 429.7 171.5 430.3 170.7 430.8 171.1 431.4 170.6 432.4 170.6 433 171.8 434.6 170.4 436.2 171.8 436.8 170.2 437.8 170.8 438.9 170.1 440 171.3 440.5 170.1 441.6 171.4 442.7 170.7 443.2 172.1 444.3 170.5 444.8 171.4 445.4 170.4 445.9 171.4 446.5 170.3 447 171.3 447.5 170.7 448.1 171.5 449.7 171 450.2 171.5 450.8 170.1 451.3 171.2 452.9 171.4 453.5 172.8 454 171 454.6 171.4 455.1 171 455.6 171.8 456.2 170 456.7 171.8 457.8 169.8 458.9 170.9 460.5 171.4 461.6 171 462.1 169.9 463.2 171.5 464.3 170.1 464.8 170.3 465.3 171.8 465.9 170.7 467 170.6 467.5 171.3" stroke="#3b7585" stroke-width="2.4" fill="none" stroke-linejoin="round" stroke-linecap="round"/><path d="M90.5 213.6 91 213.9 91.6 213.1 92.1 214 93.2 212.9 94.3 214 95.4 213.1 95.9 214 96.4 213.7 97.5 213.9 98.1 213.2 98.6 213.9 99.1 213.5 99.7 214.5 101.3 213.3 102.4 213.9 102.9 213.2 103.4 214.9 104 214 104.5 214.7 105.1 213.3 105.6 214.7 106.1 213.2 107.2 214.2 107.8 213.9 108.3 212.7 109.9 215 111 213.8 111.5 214.4 112.1 213.4 112.6 214.3 113.2 213.3 114.8 214.4 115.3 213.9 115.8 214.7 116.4 214 117.5 214.5 118 213.2 118.5 214.1 119.6 213.7 120.2 214.2 120.7 213.4 121.2 214.4 122.3 214.3 122.9 215.4 123.4 214.4 124.5 213.8 125 214.4 125.6 213.7 126.1 214.9 126.6 213.9 127.7 215.3 128.8 214.4 129.3 215 129.9 214.3 130.4 214.7 131.5 213.9 132.6 214.8 133.6 213.8 134.2 214.1 134.7 213.2 135.3 214.1 135.8 213.9 136.3 215.4 137.4 213.7 138 214.9 138.5 214.4 140.7 214.3 141.2 215 143.4 214 144.4 214.8 146.1 214.4 146.6 215.2 147.1 214.3 149.3 214.3 149.8 215.4 150.9 213.5 151.4 214.1 152 213.6 153.1 215 153.6 214.1 154.1 214.6 154.7 214.2 155.8 215.2 156.8 213.7 157.4 214.6 159 214.8 160.1 213.2 160.6 214.7 161.7 213.6 162.2 213.6 162.8 214.8 163.3 214.3 164.4 214.6 164.9 213.8 166.5 213.6 168.2 214.1 168.7 213.9 170.9 214.9 171.4 214.1 172.5 213.8 173.6 214.8 174.1 213.7 174.6 214.4 175.2 213.8 176.8 213.7 177.3 214.3 177.9 213.1 179 213.7 179.5 213.2 180 213.9 180.6 212.9 181.1 213.6 181.6 212.8 183.3 214.5 183.8 213.9 184.3 214.1 184.9 213.3 185.4 214.3 186 213.1 187 212.5 188.1 213.5 188.7 212.6 190.3 212.7 191.4 211.9 191.9 213 192.4 211 194.1 211.3 195.1 209.7 196.2 209.2 196.8 209.7 197.8 209 200 212.3 201.1 212 201.6 212.6 202.1 214.8 202.7 214 203.8 215.7 204.3 214.7 204.8 215.1 205.9 214.9 207 216.2 207.5 214.8 208.1 216.3 208.6 215.8 209.7 216.2 210.2 215.5 210.8 216.1 211.3 215.8 211.9 217.3 212.4 217.5 213.5 216 214 217.3 214.5 216.7 215.6 217.9 217.2 216.5 218.3 217 218.9 216.6 219.4 217.7 221 216.9 222.1 217.8 222.6 216.2 223.2 217.3 224.3 216.8 225.3 217.2 225.9 218.1 227.5 216.6 228 217.6 228.6 216.9 229.7 217.6 230.7 217.1 231.8 217.8 232.3 217.3 235 217.2 235.6 218 236.7 216.5 237.7 218 238.8 217.2 239.4 218 239.9 216.9 241.5 217.9 242.1 217 242.6 216.9 243.1 218.3 243.7 217.2 244.8 218.8 245.8 216.5 246.4 219 247.4 217.8 248 219 248.5 217.6 249.1 218.4 250.1 217.5 251.8 218.3 252.3 218.3 252.8 217.5 253.9 218.7 255 217.8 255.5 218.5 256.6 218.4 257.2 217.5 258.8 218.4 259.3 217.3 260.9 218.4 261.5 217.4 262 219.3 262.6 218 263.6 219.1 264.2 218.3 265.2 217.9 265.8 218.2 266.3 217.5 267.4 218 267.9 217.5 268.5 218.5 269.6 217.1 270.1 218.4 270.6 217.6 271.2 218.3 271.7 217.7 273.3 219 273.9 217.3 275.5 218.6 276 218 277.1 218.8 278.2 217.9 279.8 218.2 281.4 216.6 284.1 201.6 285.7 211.9 287.4 217.5 288.4 207.6 290.1 180.9 292.2 214.4 292.8 217.6 293.8 218.6 294.9 218.4 295.4 217.4 296 218.6 297.1 217.3 298.1 218.5 299.2 217.1 299.8 218 300.8 218.2 301.4 217.2 301.9 218.5 302.5 218.6 304.1 218.3 304.6 218.9 305.7 218.2 307.3 219 308.4 218 310.6 218.7 311.1 216.9 311.6 216.9 312.2 216.1 314.3 218.4 314.9 218 315.4 218.7 317 218.4 318.1 219 318.6 217.6 319.2 217.7 320.3 216.8 320.8 214.7 321.3 214.2 321.9 214.4 322.4 216 323 215.6 324 217.8 325.1 218.5 328.3 218.7 328.9 218 329.4 218.6 331.6 219.3 332.1 218.2 333.2 218.7 333.7 218.2 335.4 218.3 335.9 219.7 336.4 218.5 337 219.3 337.5 218.2 338.1 218.7 338.6 218.3 340.2 219.6 341.8 218.6 342.9 219.3 343.5 217.8 344 218.5 344.5 218.1 345.1 219.1 345.6 218 346.1 219 346.7 218 347.2 218.1 347.8 219.4 349.4 217.8 350.5 218.9 351.5 218.2 352.6 219.3 353.2 218.1 353.7 218.6 354.2 218.2 354.8 219.2 356.4 217.8 356.9 219 357.5 218.5 359.1 218.9 359.6 217.8 361.2 219.6 362.9 218.3 364.5 218.3 365.6 218.7 366.1 219.7 366.6 218.6 367.2 219.2 367.7 218.5 368.8 219.9 369.3 218.4 369.9 218.1 370.4 219.2 371.5 218.6 373.1 219.3 375.3 217.9 376.4 219.3 376.9 218 378 219.3 378.5 219 379 219.5 379.6 219.1 380.1 219.5 380.7 218.4 381.2 218.3 381.7 219.7 382.3 218.9 383.4 218.5 383.9 219.5 385.5 218.4 387.7 218.9 388.8 218.2 389.3 218.9 389.8 217.6 390.4 218.1 390.9 217.3 391.5 215 392 216.1 392.5 215.1 393.1 216.8 393.6 216.8 394.1 218.2 394.7 217.8 395.2 218.9 395.8 218.8 396.3 219.6 397.4 218.3 397.9 218.9 398.5 218.5 400.1 219.6 401.2 218.4 402.2 219.8 403.3 218.1 404.4 218.2 404.9 219.4 406 218.4 407.1 219.3 408.2 218.4 409.3 219.2 409.8 218 410.3 218.1 410.9 219.8 412.5 218.1 414.1 219.5 415.2 218 415.7 219.6 416.8 219.3 417.3 218.3 419 218.9 419.5 219.7 420 218.2 421.1 218.9 422.7 218.1 423.3 218.9 423.8 218.7 424.9 219.3 425.4 218.7 427.6 219 428.1 218 429.2 219.1 430.3 219.3 430.8 218.2 431.9 218.8 433 218.8 433.5 219.6 434.1 218.7 435.1 219.1 436.2 219 436.8 219.7 438.4 218.4 438.9 219.5 439.5 218.6 440 219.1 440.5 218.6 441.1 220 442.2 218 442.7 219.1 443.2 218.2 444.3 219.3 444.8 218.3 445.4 219.1 446.5 219.3 447 218.4 447.5 219.2 448.1 218.8 448.6 219.4 449.2 219 450.2 219.6 451.3 218.9 451.9 219.3 452.4 218.9 453.5 219.7 454 218.5 454.6 218.4 455.1 219.2 455.6 218.7 456.2 219.6 458.9 218.5 459.9 218.9 460.5 218.5 461 219.5 462.6 217.6 463.2 219.5 464.3 217.5 465.9 219.7 467.5 219.9" stroke="#ff0000" stroke-width="2.6" fill="none" stroke-linejoin="round" stroke-linecap="round"/></g><line x1="290.1" y1="226" x2="290.1" y2="270" stroke="#ff8000" stroke-width="3.2" stroke-linecap="butt"/><line x1="392.1" y1="262.5" x2="392.1" y2="268" stroke="#ff8000" stroke-width="3.2" stroke-linecap="butt"/><line x1="216.2" y1="296.5" x2="216.2" y2="307" stroke="#b5364a" stroke-width="3.2" stroke-linecap="butt"/><line x1="243.8" y1="271.4" x2="243.8" y2="307" stroke="#b5364a" stroke-width="3.2" stroke-linecap="butt"/><line x1="379.5" y1="295" x2="379.5" y2="307" stroke="#b5364a" stroke-width="3.2" stroke-linecap="butt"/><line x1="90.5" y1="267.8" x2="467.5" y2="267.8" stroke="#000" stroke-width="2.4" stroke-linecap="butt"/><rect x="90.5" y="26" width="377" height="281" stroke="#000" stroke-width="2.6" fill="none"/><line x1="115.6" y1="307" x2="115.6" y2="314" stroke="#000" stroke-width="2.2" stroke-linecap="butt"/><line x1="165.9" y1="307" x2="165.9" y2="314" stroke="#000" stroke-width="2.2" stroke-linecap="butt"/><line x1="216.2" y1="307" x2="216.2" y2="314" stroke="#000" stroke-width="2.2" stroke-linecap="butt"/><line x1="266.4" y1="307" x2="266.4" y2="314" stroke="#000" stroke-width="2.2" stroke-linecap="butt"/><line x1="316.7" y1="307" x2="316.7" y2="314" stroke="#000" stroke-width="2.2" stroke-linecap="butt"/><line x1="367" y1="307" x2="367" y2="314" stroke="#000" stroke-width="2.2" stroke-linecap="butt"/><line x1="417.2" y1="307" x2="417.2" y2="314" stroke="#000" stroke-width="2.2" stroke-linecap="butt"/><line x1="467.5" y1="307" x2="467.5" y2="314" stroke="#000" stroke-width="2.2" stroke-linecap="butt"/><line x1="90.5" y1="307" x2="90.5" y2="311" stroke="#000" stroke-width="2.2" stroke-linecap="butt"/><line x1="140.8" y1="307" x2="140.8" y2="311" stroke="#000" stroke-width="2.2" stroke-linecap="butt"/><line x1="191" y1="307" x2="191" y2="311" stroke="#000" stroke-width="2.2" stroke-linecap="butt"/><line x1="241.3" y1="307" x2="241.3" y2="311" stroke="#000" stroke-width="2.2" stroke-linecap="butt"/><line x1="291.6" y1="307" x2="291.6" y2="311" stroke="#000" stroke-width="2.2" stroke-linecap="butt"/><line x1="341.8" y1="307" x2="341.8" y2="311" stroke="#000" stroke-width="2.2" stroke-linecap="butt"/><line x1="392.1" y1="307" x2="392.1" y2="311" stroke="#000" stroke-width="2.2" stroke-linecap="butt"/><line x1="442.4" y1="307" x2="442.4" y2="311" stroke="#000" stroke-width="2.2" stroke-linecap="butt"/><text x="115.6" y="337.9" font-size="23.2" font-weight="normal" fill="#000" text-anchor="middle">10</text><text x="165.9" y="337.9" font-size="23.2" font-weight="normal" fill="#000" text-anchor="middle">20</text><text x="216.2" y="337.9" font-size="23.2" font-weight="normal" fill="#000" text-anchor="middle">30</text><text x="266.4" y="337.9" font-size="23.2" font-weight="normal" fill="#000" text-anchor="middle">40</text><text x="316.7" y="337.9" font-size="23.2" font-weight="normal" fill="#000" text-anchor="middle">50</text><text x="367" y="337.9" font-size="23.2" font-weight="normal" fill="#000" text-anchor="middle">60</text><text x="417.2" y="337.9" font-size="23.2" font-weight="normal" fill="#000" text-anchor="middle">70</text><text x="467.5" y="337.9" font-size="23.2" font-weight="normal" fill="#000" text-anchor="middle">80</text><text x="107.1" y="49.6" font-size="24" font-weight="bold" fill="#0a7d0a" textLength="33.8" lengthAdjust="spacingAndGlyphs">BC</text><text x="96.9" y="97.3" font-size="24" font-weight="bold" fill="#a040ff" textLength="75.7" lengthAdjust="spacingAndGlyphs">CA-BC</text><text x="98.4" y="153.6" font-size="24" font-weight="bold" fill="#3b7585">Fe@BC</text><text x="96.5" y="201.3" font-size="24" font-weight="bold" fill="#ff0000">CA-Fe@BC</text><text x="101.5" y="253.1" font-size="24" font-weight="bold" fill="#ff8000" textLength="28.5" lengthAdjust="spacingAndGlyphs">Fe</text><text x="364.5" y="252.5" font-size="23.5" font-weight="bold" fill="#ff8000">#89-7194</text><text x="364.5" y="293.4" font-size="23.5" font-weight="bold" fill="#b5364a">#89-0688</text><text x="101.5" y="297.5" font-size="24" font-weight="bold" fill="#b5364a" text-anchor="start">Fe<tspan font-size="17" dy="5">3</tspan><tspan dy="-5">O</tspan><tspan font-size="17" dy="5">4</tspan></text><text x="217.8" y="161" font-size="27" fill="#b5364a" text-anchor="middle" style="font-family:'DejaVu Sans',sans-serif">&#9829;</text><text x="245.2" y="161" font-size="27" fill="#b5364a" text-anchor="middle" style="font-family:'DejaVu Sans',sans-serif">&#9829;</text><text x="379.5" y="163" font-size="27" fill="#b5364a" text-anchor="middle" style="font-family:'DejaVu Sans',sans-serif">&#9829;</text><text x="189.2" y="299" font-size="27" fill="#b5364a" text-anchor="middle" style="font-family:'DejaVu Sans',sans-serif">&#9829;</text><text x="307.5" y="160" font-size="27" fill="#ff8000" text-anchor="middle" style="font-family:'DejaVu Sans',sans-serif">&#9827;</text><text x="397.2" y="164" font-size="27" fill="#ff8000" text-anchor="middle" style="font-family:'DejaVu Sans',sans-serif">&#9827;</text><text x="189.2" y="253" font-size="27" fill="#ff8000" text-anchor="middle" style="font-family:'DejaVu Sans',sans-serif">&#9827;</text><text x="130.2" y="376.3" font-size="36" font-weight="bold" fill="#000">2 Theta (degree)</text><text x="36.1" y="298.8" font-size="36.6" font-weight="bold" fill="#000" textLength="241.7" lengthAdjust="spacingAndGlyphs" transform="rotate(-90 36.1 298.8)">Intensity (a.u.)</text><text x="-2.1" y="35.0" font-size="50" font-weight="bold" fill="#000" textLength="57.3" lengthAdjust="spacingAndGlyphs">(a)</text><g clip-path="url(#cp2)"><path d="M595.5 127 596.9 124.7 597.4 126.2 598.3 126.1 599.3 126.7 599.8 126 601.6 127.1 602.1 126.2 603.5 127.9 604.5 126.8 605 127.9 605.4 127.1 606.4 128.3 607.3 127.6 607.8 128 608.3 127.3 611.1 127.9 612.5 128.4 613 129.1 613.5 127.5 613.9 129.1 614.9 127.9 616.3 129.3 616.8 128.2 617.7 128.9 618.2 128 619.1 129.4 620.1 129.8 621.5 129.4 622 130.1 622.5 129 623.4 129.8 623.9 128.8 624.3 130.4 624.8 129.3 625.8 131.1 626.2 129.5 627.2 130.9 627.7 129.5 628.6 130.5 630 130.6 630.5 131.2 632.9 129.5 633.3 130.9 633.8 129.5 634.7 131.5 635.2 129.9 636.6 131 637.1 130 638.5 130.4 639 131.2 639.5 130 640.9 131 641.4 129.8 641.8 131.1 642.3 130.7 642.8 131 643.7 129.6 644.7 130.9 645.6 130.5 646.6 131.7 647 130.5 647.5 131.6 648 129.4 648.5 129.4 648.9 131 649.4 130.4 649.9 130.8 650.8 130.5 651.3 130.9 652.2 129.7 653.7 131.5 654.1 129.9 654.6 130.5 655.6 130.4 656 131.4 657 130.1 657.9 130.7 658.4 129.7 659.3 130.9 660.8 129.7 661.2 129.8 661.7 129 662.2 130.3 663.6 128.9 664.5 129.8 665.5 129.1 666.4 129.8 666.9 128.8 668.3 128.4 668.8 129.4 669.7 129 670.2 128.2 671.2 128.7 672.1 128.6 672.6 128.1 673.5 129.4 674.5 129.2 674.9 128.3 675.4 128.7 675.9 127.9 676.4 128.6 676.8 127.8 677.8 127.5 678.2 128.2 679.2 127.8 679.7 127 680.1 127.7 680.6 126.8 681.1 128.3 681.6 127.4 682.5 127.4 683 126.5 684.4 128.1 684.9 126.6 685.8 127.2 686.3 126.2 687.7 127 688.2 126.8 688.6 127.8 689.1 126.9 690.5 127.8 691 126 692 127.4 692.4 126 693.9 125.9 695.7 127.1 696.7 125 697.2 126 698.1 125.8 699.1 123.9 699.5 124.6 700 122.8 701.9 123.2 702.4 121 702.8 122.5 703.8 122.8 704.3 123.9 704.7 123.5 705.2 125.2 705.7 125.9 706.1 125.8 708 129.3 708.5 129.3 709 130.3 710.9 129.8 711.8 130.1 712.3 130.9 712.8 130.3 713.2 130.9 714.7 131.1 715.6 132.2 716.1 131 717.5 131.6 718 132.7 718.4 132.3 719.4 133.1 719.9 131.9 721.3 133 721.7 132.5 723.2 133.2 724.6 131.7 725.1 133.2 726 132.1 726.9 132.4 727.4 131.7 727.9 132.8 728.4 132.2 729.3 133.1 729.8 132.6 730.3 133 731.7 132.7 732.2 133.7 732.6 132.6 733.1 133.6 733.6 132.2 734 133.2 734.5 132.9 735.5 131.3 735.9 133.7 736.4 132.2 738.3 133 739.2 132 739.7 133.3 740.2 132.4 741.6 133.6 742.1 132.8 743 132.8 743.5 131.9 744 132.5 744.9 132.3 745.4 133.1 745.9 132.8 746.3 133.9 746.8 133.8 747.3 132 747.8 133.1 748.2 132.5 748.7 133.3 750.6 133.5 751.5 131.7 752 132.5 753 132.9 753.4 132.6 753.9 134 754.4 133.1 754.8 133.9 755.3 133 755.8 134.1 756.3 132.5 756.7 133.5 757.2 132.5 758.2 134.1 758.6 132.3 759.6 133.4 760.5 132.5 761 133.9 761.5 133.3 761.9 134 762.9 132.7 763.8 134.1 764.3 132.6 765.2 133.7 766.2 133.8 766.7 132.6 767.1 134.6 767.6 133.3 768.6 133.4 769.5 132.9 770.5 134.2 771.4 132.2 771.9 133.8 773.3 134.5 773.8 133.1 775.2 134.2 776.1 133.1 776.6 132.8 777.1 133.4 777.5 132.7 778 134.2 778.5 133.3 779.4 133.1 779.9 134.4 780.9 133.3 781.3 133.9 781.8 133.4 782.7 133.9 783.2 132.6 784.6 131.4 786.1 129.2 786.5 130 787 129.4 787.5 129.6 789.4 111.9 791.3 130.7 792.2 133.4 792.7 131.6 793.1 133.7 794.1 122.8 795.5 86 797.4 131.2 798.3 133 799.3 133.2 800.2 132.6 801.7 134 802.1 133.5 802.6 134.5 803.1 132.7 804 133.9 805 133.2 805.4 134.1 806.4 134.4 806.9 133.5 808.3 133.8 808.8 134.3 809.2 133.5 809.7 134 810.2 132.5 811.1 134.7 811.6 133.7 812.1 134.3 812.5 132.9 813 133.6 813.5 132.9 814.4 134.1 814.9 133 815.8 133.4 816.3 134.9 816.8 133.2 819.2 130.4 820.1 133.6 821.5 133 822 133.8 822.9 133.5 823.4 134.3 823.9 133.5 824.8 134 825.8 132.3 826.7 128.3 827.2 128.1 830 134.1 830.5 133.2 831.4 133.7 831.9 134.6 832.4 133.6 832.9 134.5 833.3 133.2 834.3 134.5 834.8 133.8 835.2 134.6 835.7 132.8 836.2 133.9 836.6 134 837.6 133.1 838.1 134.3 838.5 132.7 839 134.5 839.5 134.1 840 134.5 840.9 133.3 842.3 134.3 842.8 133.8 844.2 134.8 844.7 132.9 845.6 134.4 846.6 133.7 848 134.1 849.4 133.4 850.4 134.8 850.8 133.5 851.8 135.1 852.3 134.1 852.7 135.3 853.2 133.9 853.7 134.9 854.6 133.3 855.6 135.1 856 133.7 856.5 134.3 857 133.5 857.5 133.5 857.9 134.3 858.4 133.9 859.3 134.7 859.8 133.4 860.8 134 861.2 135.3 861.7 133.8 862.2 133.8 863.1 135.2 863.6 133.7 864.5 134.1 865.5 135.2 866 133.4 866.4 133.1 867.4 134.3 867.9 132.8 868.8 134.6 869.3 133.8 869.7 134.3 871.6 134.2 872.1 134.7 872.6 133.7 873.5 134.7 874 133.7 875.4 133.5 875.9 135.2 876.4 134.3 876.8 135.1 878.3 133.9 879.7 134.6 880.2 133.6 881.1 134.3 882 133.9 883 134.4 884.4 133.8 884.9 134.4 885.8 133.2 886.8 134.4 887.7 133.6 888.2 134.5 889.1 134.4 889.6 134.9 890.1 133.9 890.6 134.4 891 133.9 892 134.7 892.9 134.4 893.4 133.6 893.9 134.4 894.3 133.4 894.8 135.1 896.2 130.9 896.7 131.8 897.2 129.3 897.6 129.3 898.1 128.6 899.5 133.3 900 133.4 900.5 134.7 901 133.6 901.4 134.7 901.9 134 902.4 134.3 902.8 133.1 903.3 133 903.8 134.6 904.3 133.3 904.7 133.8 905.7 133.5 906.2 134.1 906.6 133.2 907.1 133.4 907.6 134.5 908 133.6 908.5 134.4 909.5 134.8 910.4 133 911.8 134.7 912.8 133.7 913.2 134.2 913.7 133.8 914.2 134.3 914.7 134.1 915.1 134.6 915.6 134.2 916.1 134.5 916.6 134 917 134.4 917.5 133.9 918 134.4 919.4 133.8 920.3 134.3 920.8 132.7 921.3 134.7 921.8 132.7 922.2 133.9 923.2 134.4 924.6 134 925.5 135.3 926.5 132.9 927.9 135.8 928.4 133.6 929.3 134.3 930.3 133.3 930.7 134.5 931.2 133.3 932.2 134.7 932.6 133.3 933.6 134.9 934.5 133.4 935.5 134.5 935.9 133.1 936.4 133.7 937.4 133.4 937.8 134.7 938.3 134 938.8 133.8 939.3 134.2 940.2 133.3 940.7 134.6 941.6 133.5 942.6 134.5 944 132.2 944.5 132.4 944.9 131.2 945.4 132.6 945.9 131.9 946.3 133 946.8 132.1 947.3 133.4 947.8 132.4 948.7 134.1 949.7 133.9 950.1 133.1 950.6 134.7 951.1 134.4 952 134.6 952.5 133.8 953.4 135.5 953.9 133.5 954.4 134.2 954.9 133.7 955.3 135 956.3 133.4 956.8 133.7 958.2 132.5 958.6 133.6 959.1 133.4 959.6 134.1 960.1 133.5 961 135 961.5 133.3 962 133.3 962.9 135.3 963.8 133.1 965.3 134.4 965.7 133.4 966.7 133.8 967.6 133.1 968.1 134.2 968.6 134.3 969 133.6 969.5 134.9 970.5 134.3 972.4 134.5 973.3 132.9" stroke="#ff0000" stroke-width="2.8" fill="none" stroke-linejoin="round" stroke-linecap="round"/></g><line x1="703.8" y1="150.5" x2="703.8" y2="185" stroke="#f39322" stroke-width="3.6" stroke-linecap="round"/><line x1="783.9" y1="180.6" x2="783.9" y2="185" stroke="#f39322" stroke-width="3.6" stroke-linecap="round"/><line x1="795" y1="176.7" x2="795" y2="185" stroke="#f39322" stroke-width="3.6" stroke-linecap="round"/><line x1="825.2" y1="180.6" x2="825.2" y2="185" stroke="#f39322" stroke-width="3.6" stroke-linecap="round"/><line x1="845.4" y1="180.3" x2="845.4" y2="185" stroke="#f39322" stroke-width="3.6" stroke-linecap="round"/><line x1="960.7" y1="180.6" x2="960.7" y2="185" stroke="#f39322" stroke-width="3.6" stroke-linecap="round"/><line x1="795.5" y1="190.8" x2="795.5" y2="225" stroke="#e06050" stroke-width="3.6" stroke-linecap="round"/><line x1="898.2" y1="220.5" x2="898.2" y2="225" stroke="#e06050" stroke-width="3.6" stroke-linecap="round"/><line x1="760.7" y1="261" x2="760.7" y2="265" stroke="#7a5cbe" stroke-width="3.6" stroke-linecap="round"/><line x1="779.9" y1="260.7" x2="779.9" y2="265" stroke="#7a5cbe" stroke-width="3.6" stroke-linecap="round"/><line x1="788.9" y1="231.3" x2="788.9" y2="265" stroke="#7a5cbe" stroke-width="3.6" stroke-linecap="round"/><line x1="790.4" y1="271.8" x2="790.4" y2="305" stroke="#1e8a42" stroke-width="3.6" stroke-linecap="round"/><line x1="826.2" y1="292.7" x2="826.2" y2="305" stroke="#1e8a42" stroke-width="3.6" stroke-linecap="round"/><line x1="946.1" y1="302.1" x2="946.1" y2="305" stroke="#1e8a42" stroke-width="3.6" stroke-linecap="round"/><line x1="595.5" y1="145.3" x2="973.3" y2="145.3" stroke="#000" stroke-width="2.6" stroke-linecap="butt"/><line x1="595.5" y1="185.6" x2="973.3" y2="185.6" stroke="#000" stroke-width="2.6" stroke-linecap="butt"/><line x1="595.5" y1="225.5" x2="973.3" y2="225.5" stroke="#000" stroke-width="2.6" stroke-linecap="butt"/><line x1="595.5" y1="265.4" x2="973.3" y2="265.4" stroke="#000" stroke-width="2.6" stroke-linecap="butt"/><rect x="595.5" y="25" width="377.8" height="280.5" stroke="#000" stroke-width="2.6" fill="none"/><line x1="620.7" y1="305.5" x2="620.7" y2="312.5" stroke="#000" stroke-width="2.2" stroke-linecap="butt"/><line x1="671.1" y1="305.5" x2="671.1" y2="312.5" stroke="#000" stroke-width="2.2" stroke-linecap="butt"/><line x1="721.4" y1="305.5" x2="721.4" y2="312.5" stroke="#000" stroke-width="2.2" stroke-linecap="butt"/><line x1="771.8" y1="305.5" x2="771.8" y2="312.5" stroke="#000" stroke-width="2.2" stroke-linecap="butt"/><line x1="822.2" y1="305.5" x2="822.2" y2="312.5" stroke="#000" stroke-width="2.2" stroke-linecap="butt"/><line x1="872.6" y1="305.5" x2="872.6" y2="312.5" stroke="#000" stroke-width="2.2" stroke-linecap="butt"/><line x1="922.9" y1="305.5" x2="922.9" y2="312.5" stroke="#000" stroke-width="2.2" stroke-linecap="butt"/><line x1="973.3" y1="305.5" x2="973.3" y2="312.5" stroke="#000" stroke-width="2.2" stroke-linecap="butt"/><line x1="595.5" y1="305.5" x2="595.5" y2="309.5" stroke="#000" stroke-width="2.2" stroke-linecap="butt"/><line x1="645.9" y1="305.5" x2="645.9" y2="309.5" stroke="#000" stroke-width="2.2" stroke-linecap="butt"/><line x1="696.2" y1="305.5" x2="696.2" y2="309.5" stroke="#000" stroke-width="2.2" stroke-linecap="butt"/><line x1="746.6" y1="305.5" x2="746.6" y2="309.5" stroke="#000" stroke-width="2.2" stroke-linecap="butt"/><line x1="797" y1="305.5" x2="797" y2="309.5" stroke="#000" stroke-width="2.2" stroke-linecap="butt"/><line x1="847.4" y1="305.5" x2="847.4" y2="309.5" stroke="#000" stroke-width="2.2" stroke-linecap="butt"/><line x1="897.7" y1="305.5" x2="897.7" y2="309.5" stroke="#000" stroke-width="2.2" stroke-linecap="butt"/><line x1="948.1" y1="305.5" x2="948.1" y2="309.5" stroke="#000" stroke-width="2.2" stroke-linecap="butt"/><text x="620.7" y="336.8" font-size="23.2" font-weight="normal" fill="#000" text-anchor="middle">10</text><text x="671.1" y="336.8" font-size="23.2" font-weight="normal" fill="#000" text-anchor="middle">20</text><text x="721.4" y="336.8" font-size="23.2" font-weight="normal" fill="#000" text-anchor="middle">30</text><text x="771.8" y="336.8" font-size="23.2" font-weight="normal" fill="#000" text-anchor="middle">40</text><text x="822.2" y="336.8" font-size="23.2" font-weight="normal" fill="#000" text-anchor="middle">50</text><text x="872.6" y="336.8" font-size="23.2" font-weight="normal" fill="#000" text-anchor="middle">60</text><text x="922.9" y="336.8" font-size="23.2" font-weight="normal" fill="#000" text-anchor="middle">70</text><text x="973.3" y="336.8" font-size="23.2" font-weight="normal" fill="#000" text-anchor="middle">80</text><text x="838.4" y="61.0" font-size="24" font-weight="bold" fill="#ff0000">CA-Fe@BC</text><text x="599.7" y="173.5" font-size="24" font-weight="bold" fill="#ff8000">Graphite</text><text x="867.4" y="173.5" font-size="23.5" font-weight="bold" fill="#ff8000" textLength="101.3" lengthAdjust="spacingAndGlyphs">#89-8487</text><text x="599.5" y="215.1" font-size="24" font-weight="bold" fill="#e06050">Fe</text><text x="866.7" y="215.4" font-size="23.5" font-weight="bold" fill="#e06050">#89-7194</text><text x="599.5" y="255.8" font-size="24" font-weight="bold" fill="#7a5cbe" text-anchor="start">Fe<tspan font-size="17" dy="5">2</tspan><tspan dy="-5">C</tspan></text><text x="867.7" y="255.6" font-size="23.5" font-weight="bold" fill="#7a5cbe" textLength="101.5" lengthAdjust="spacingAndGlyphs">#36-1249</text><text x="599.5" y="295.4" font-size="24" font-weight="bold" fill="#1e8a42" text-anchor="start">FeN<tspan font-size="17" dy="5.5">0.0304</tspan></text><text x="866.7" y="295.4" font-size="23.5" font-weight="bold" fill="#1e8a42" textLength="101.2" lengthAdjust="spacingAndGlyphs">#75-2127</text><text x="645.6" y="374.3" font-size="36" font-weight="bold" fill="#000">2 Theta (degree)</text><text x="548.8" y="299.1" font-size="36.6" font-weight="bold" fill="#000" textLength="242.1" lengthAdjust="spacingAndGlyphs" transform="rotate(-90 548.8 299.1)">Intensity (a.u.)</text><text x="508.8" y="35.0" font-size="50" font-weight="bold" fill="#000" textLength="61.1" lengthAdjust="spacingAndGlyphs">(b)</text><path d="M270 574.7 280.8 567.7 289 564.5 342.3 558.3 374.9 553.2 386.7 550.7 401.2 546.1 413.8 540.7 423.8 534.5 432.8 526.8 443.7 514.8 450 509.5" stroke="#3b7585" stroke-width="2.2" fill="none" stroke-linejoin="round" stroke-linecap="round"/><path d="M108.5 600.5 109.6 595 110.8 594.4 117.6 593.1 126.8 589.4 131.3 588.1 154.2 583.5 167.9 581.7 199.9 578.7 218.1 577.6 237.6 577.1 292.4 573.9 362.1 566 379.2 563.2 394 559.9 404.3 556.7 414.6 552.3 423.7 547.1 430.6 541.8 434 538.3 437.4 533.1 440.9 525.9 446.6 516.8 450 509.5" stroke="#3b7585" stroke-width="2.4" fill="none" stroke-linejoin="round" stroke-linecap="round"/><circle cx="107.1" cy="678.3" r="4.8" fill="url(#rg3)" stroke="none" stroke-width="1"/><circle cx="107.3" cy="665.4" r="4.8" fill="url(#rg3)" stroke="none" stroke-width="1"/><circle cx="107.4" cy="640.5" r="4.8" fill="url(#rg3)" stroke="none" stroke-width="1"/><circle cx="107.6" cy="628.6" r="4.8" fill="url(#rg3)" stroke="none" stroke-width="1"/><circle cx="107.8" cy="615.4" r="4.8" fill="url(#rg3)" stroke="none" stroke-width="1"/><circle cx="108.5" cy="600.5" r="4.8" fill="url(#rg3)" stroke="none" stroke-width="1"/><circle cx="109.8" cy="594.7" r="4.8" fill="url(#rg3)" stroke="none" stroke-width="1"/><circle cx="117.4" cy="593.2" r="4.8" fill="url(#rg3)" stroke="none" stroke-width="1"/><circle cx="127.4" cy="589.2" r="4.8" fill="url(#rg3)" stroke="none" stroke-width="1"/><circle cx="139.4" cy="586.2" r="4.8" fill="url(#rg3)" stroke="none" stroke-width="1"/><circle cx="149.4" cy="584.2" r="4.8" fill="url(#rg3)" stroke="none" stroke-width="1"/><circle cx="159.3" cy="582.8" r="4.8" fill="url(#rg3)" stroke="none" stroke-width="1"/><circle cx="169.3" cy="581.6" r="4.8" fill="url(#rg3)" stroke="none" stroke-width="1"/><circle cx="179.3" cy="580.8" r="4.8" fill="url(#rg3)" stroke="none" stroke-width="1"/><circle cx="189.2" cy="579.8" r="4.8" fill="url(#rg3)" stroke="none" stroke-width="1"/><circle cx="199.2" cy="578.8" r="4.8" fill="url(#rg3)" stroke="none" stroke-width="1"/><circle cx="209.1" cy="578.2" r="4.8" fill="url(#rg3)" stroke="none" stroke-width="1"/><circle cx="219.1" cy="577.6" r="4.8" fill="url(#rg3)" stroke="none" stroke-width="1"/><circle cx="233.2" cy="577.3" r="4.8" fill="url(#rg3)" stroke="none" stroke-width="1"/><circle cx="250.7" cy="576.3" r="4.8" fill="url(#rg3)" stroke="none" stroke-width="1"/><circle cx="270.0" cy="575.3" r="4.8" fill="url(#rg3)" stroke="none" stroke-width="1"/><circle cx="287.8" cy="574.3" r="4.8" fill="url(#rg3)" stroke="none" stroke-width="1"/><circle cx="306.7" cy="572.3" r="4.8" fill="url(#rg3)" stroke="none" stroke-width="1"/><circle cx="323.6" cy="570.3" r="4.8" fill="url(#rg3)" stroke="none" stroke-width="1"/><circle cx="341.4" cy="568.3" r="4.8" fill="url(#rg3)" stroke="none" stroke-width="1"/><circle cx="359.6" cy="566.3" r="4.8" fill="url(#rg3)" stroke="none" stroke-width="1"/><circle cx="378.5" cy="563.3" r="4.8" fill="url(#rg3)" stroke="none" stroke-width="1"/><circle cx="396.4" cy="559.3" r="4.8" fill="url(#rg3)" stroke="none" stroke-width="1"/><circle cx="414.3" cy="552.4" r="4.8" fill="url(#rg3)" stroke="none" stroke-width="1"/><circle cx="432.1" cy="540.4" r="4.8" fill="url(#rg3)" stroke="none" stroke-width="1"/><circle cx="437.3" cy="533.4" r="4.8" fill="url(#rg3)" stroke="none" stroke-width="1"/><circle cx="441.1" cy="525.5" r="4.8" fill="url(#rg3)" stroke="none" stroke-width="1"/><circle cx="446.2" cy="517.5" r="4.8" fill="url(#rg3)" stroke="none" stroke-width="1"/><circle cx="450.0" cy="509.5" r="4.8" fill="url(#rg3)" stroke="none" stroke-width="1"/><circle cx="270.0" cy="574.7" r="4.6" fill="#fff" stroke="#3b7585" stroke-width="1.8"/><circle cx="289.9" cy="564.3" r="4.6" fill="#fff" stroke="#3b7585" stroke-width="1.8"/><circle cx="306.7" cy="562.3" r="4.6" fill="#fff" stroke="#3b7585" stroke-width="1.8"/><circle cx="324.6" cy="560.3" r="4.6" fill="#fff" stroke="#3b7585" stroke-width="1.8"/><circle cx="342.5" cy="558.3" r="4.6" fill="#fff" stroke="#3b7585" stroke-width="1.8"/><circle cx="360.7" cy="555.3" r="4.6" fill="#fff" stroke="#3b7585" stroke-width="1.8"/><circle cx="379.2" cy="552.4" r="4.6" fill="#fff" stroke="#3b7585" stroke-width="1.8"/><circle cx="397.4" cy="547.4" r="4.6" fill="#fff" stroke="#3b7585" stroke-width="1.8"/><circle cx="416.3" cy="539.4" r="4.6" fill="#fff" stroke="#3b7585" stroke-width="1.8"/><circle cx="433.2" cy="526.5" r="4.6" fill="#fff" stroke="#3b7585" stroke-width="1.8"/><circle cx="441.1" cy="517.5" r="4.6" fill="#fff" stroke="#3b7585" stroke-width="1.8"/><circle cx="447.3" cy="511.5" r="4.6" fill="#fff" stroke="#3b7585" stroke-width="1.8"/><circle cx="450.0" cy="509.5" r="4.6" fill="#fff" stroke="#3b7585" stroke-width="1.8"/><circle cx="108.5" cy="596.6" r="4.6" fill="#fff" stroke="#3b7585" stroke-width="1.8"/><circle cx="108.5" cy="594.1" r="4.6" fill="#fff" stroke="#3b7585" stroke-width="1.8"/><path d="M262.8 559.1 272.2 548.8 276 546 278.8 544.7 302.4 541.6 344 533.5 366.6 528.2 386.5 522.7 397.8 518.9 406.3 515 417.6 508.6 423.3 504 429 497.5 432.8 491.3 436.5 483.5 441.3 470.8 445 458.3 447.9 445.7 450.7 429.8" stroke="#f04444" stroke-width="2.6" fill="none" stroke-linejoin="round" stroke-linecap="round"/><circle cx="262.8" cy="559.1" r="5.0" fill="#f04444" stroke="none" stroke-width="1"/><circle cx="279.9" cy="544.4" r="5.0" fill="#f04444" stroke="none" stroke-width="1"/><circle cx="297.8" cy="542.4" r="5.0" fill="#f04444" stroke="none" stroke-width="1"/><circle cx="313.3" cy="539.5" r="5.0" fill="#f04444" stroke="none" stroke-width="1"/><circle cx="315.6" cy="539.0" r="5.0" fill="#f04444" stroke="none" stroke-width="1"/><circle cx="317.9" cy="538.6" r="5.0" fill="#f04444" stroke="none" stroke-width="1"/><circle cx="320.2" cy="538.1" r="5.0" fill="#f04444" stroke="none" stroke-width="1"/><circle cx="322.6" cy="537.7" r="5.0" fill="#f04444" stroke="none" stroke-width="1"/><circle cx="324.9" cy="537.3" r="5.0" fill="#f04444" stroke="none" stroke-width="1"/><circle cx="327.2" cy="536.8" r="5.0" fill="#f04444" stroke="none" stroke-width="1"/><circle cx="329.6" cy="536.4" r="5.0" fill="#f04444" stroke="none" stroke-width="1"/><circle cx="331.9" cy="535.9" r="5.0" fill="#f04444" stroke="none" stroke-width="1"/><circle cx="334.2" cy="535.5" r="5.0" fill="#f04444" stroke="none" stroke-width="1"/><circle cx="336.6" cy="535.0" r="5.0" fill="#f04444" stroke="none" stroke-width="1"/><circle cx="338.9" cy="534.6" r="5.0" fill="#f04444" stroke="none" stroke-width="1"/><circle cx="341.2" cy="534.1" r="5.0" fill="#f04444" stroke="none" stroke-width="1"/><circle cx="343.5" cy="533.6" r="5.0" fill="#f04444" stroke="none" stroke-width="1"/><circle cx="345.9" cy="533.1" r="5.0" fill="#f04444" stroke="none" stroke-width="1"/><circle cx="348.2" cy="532.6" r="5.0" fill="#f04444" stroke="none" stroke-width="1"/><circle cx="350.5" cy="532.1" r="5.0" fill="#f04444" stroke="none" stroke-width="1"/><circle cx="352.9" cy="531.6" r="5.0" fill="#f04444" stroke="none" stroke-width="1"/><circle cx="355.2" cy="531.0" r="5.0" fill="#f04444" stroke="none" stroke-width="1"/><circle cx="357.5" cy="530.5" r="5.0" fill="#f04444" stroke="none" stroke-width="1"/><circle cx="359.8" cy="529.9" r="5.0" fill="#f04444" stroke="none" stroke-width="1"/><circle cx="362.2" cy="529.3" r="5.0" fill="#f04444" stroke="none" stroke-width="1"/><circle cx="364.5" cy="528.8" r="5.0" fill="#f04444" stroke="none" stroke-width="1"/><circle cx="366.8" cy="528.2" r="5.0" fill="#f04444" stroke="none" stroke-width="1"/><circle cx="369.2" cy="527.5" r="5.0" fill="#f04444" stroke="none" stroke-width="1"/><circle cx="371.5" cy="526.9" r="5.0" fill="#f04444" stroke="none" stroke-width="1"/><circle cx="373.8" cy="526.3" r="5.0" fill="#f04444" stroke="none" stroke-width="1"/><circle cx="376.2" cy="525.6" r="5.0" fill="#f04444" stroke="none" stroke-width="1"/><circle cx="378.5" cy="525.0" r="5.0" fill="#f04444" stroke="none" stroke-width="1"/><circle cx="380.8" cy="524.3" r="5.0" fill="#f04444" stroke="none" stroke-width="1"/><circle cx="383.1" cy="523.6" r="5.0" fill="#f04444" stroke="none" stroke-width="1"/><circle cx="385.5" cy="523.0" r="5.0" fill="#f04444" stroke="none" stroke-width="1"/><circle cx="387.8" cy="522.3" r="5.0" fill="#f04444" stroke="none" stroke-width="1"/><circle cx="390.1" cy="521.5" r="5.0" fill="#f04444" stroke="none" stroke-width="1"/><circle cx="392.5" cy="520.8" r="5.0" fill="#f04444" stroke="none" stroke-width="1"/><circle cx="394.8" cy="520.0" r="5.0" fill="#f04444" stroke="none" stroke-width="1"/><circle cx="397.1" cy="519.1" r="5.0" fill="#f04444" stroke="none" stroke-width="1"/><circle cx="399.5" cy="518.2" r="5.0" fill="#f04444" stroke="none" stroke-width="1"/><circle cx="401.8" cy="517.2" r="5.0" fill="#f04444" stroke="none" stroke-width="1"/><circle cx="404.1" cy="516.1" r="5.0" fill="#f04444" stroke="none" stroke-width="1"/><circle cx="406.4" cy="514.9" r="5.0" fill="#f04444" stroke="none" stroke-width="1"/><circle cx="408.8" cy="513.7" r="5.0" fill="#f04444" stroke="none" stroke-width="1"/><circle cx="411.1" cy="512.5" r="5.0" fill="#f04444" stroke="none" stroke-width="1"/><circle cx="413.4" cy="511.2" r="5.0" fill="#f04444" stroke="none" stroke-width="1"/><circle cx="415.8" cy="509.8" r="5.0" fill="#f04444" stroke="none" stroke-width="1"/><circle cx="418.1" cy="508.3" r="5.0" fill="#f04444" stroke="none" stroke-width="1"/><circle cx="420.4" cy="506.6" r="5.0" fill="#f04444" stroke="none" stroke-width="1"/><circle cx="422.7" cy="504.6" r="5.0" fill="#f04444" stroke="none" stroke-width="1"/><circle cx="425.1" cy="502.2" r="5.0" fill="#f04444" stroke="none" stroke-width="1"/><circle cx="427.4" cy="499.5" r="5.0" fill="#f04444" stroke="none" stroke-width="1"/><circle cx="429.7" cy="496.4" r="5.0" fill="#f04444" stroke="none" stroke-width="1"/><circle cx="432.1" cy="492.6" r="5.0" fill="#f04444" stroke="none" stroke-width="1"/><circle cx="434.4" cy="488.1" r="5.0" fill="#f04444" stroke="none" stroke-width="1"/><circle cx="436.7" cy="483.1" r="5.0" fill="#f04444" stroke="none" stroke-width="1"/><circle cx="439.1" cy="477.0" r="5.0" fill="#f04444" stroke="none" stroke-width="1"/><circle cx="441.4" cy="470.4" r="5.0" fill="#f04444" stroke="none" stroke-width="1"/><circle cx="443.7" cy="463.1" r="5.0" fill="#f04444" stroke="none" stroke-width="1"/><circle cx="446.0" cy="454.3" r="5.0" fill="#f04444" stroke="none" stroke-width="1"/><circle cx="448.4" cy="443.1" r="5.0" fill="#f04444" stroke="none" stroke-width="1"/><circle cx="450.7" cy="429.8" r="5.0" fill="#f04444" stroke="none" stroke-width="1"/><path d="M108.5 604.6 109.6 599.2 111.9 594.7 114.2 592.5 127.9 583.1 134.8 579.6 144 576.1 168 569.6 186.3 566.4 210.3 563.8 229.8 562.7 298.5 556.9 315.6 554 346.5 549.9 366 546.3 396.9 539.3 409.5 535.5 420.9 530.6 427.8 526.2 433.5 520.2 438.1 512.1 441.5 502.8 445 488 447.3 472.8 449.6 451.3 450.7 429.8" stroke="#ff0000" stroke-width="2.6" fill="none" stroke-linejoin="round" stroke-linecap="round"/><line x1="107.1" y1="671.4" x2="107.1" y2="601.6" stroke="#ff0000" stroke-width="2.6" stroke-linecap="butt"/><circle cx="107.1" cy="671.4" r="4.6" fill="#ff0000" stroke="none" stroke-width="1"/><circle cx="107.3" cy="653.6" r="4.6" fill="#ff0000" stroke="none" stroke-width="1"/><circle cx="107.4" cy="634.5" r="4.6" fill="#ff0000" stroke="none" stroke-width="1"/><circle cx="107.8" cy="617.6" r="4.6" fill="#ff0000" stroke="none" stroke-width="1"/><circle cx="108.5" cy="604.6" r="4.6" fill="#ff0000" stroke="none" stroke-width="1"/><circle cx="111.6" cy="595.2" r="4.6" fill="#ff0000" stroke="none" stroke-width="1"/><circle cx="119.5" cy="589.2" r="4.6" fill="#ff0000" stroke="none" stroke-width="1"/><circle cx="129.4" cy="582.2" r="4.6" fill="#ff0000" stroke="none" stroke-width="1"/><circle cx="143.5" cy="576.3" r="4.6" fill="#ff0000" stroke="none" stroke-width="1"/><circle cx="153.5" cy="573.3" r="4.6" fill="#ff0000" stroke="none" stroke-width="1"/><circle cx="161.4" cy="571.3" r="4.6" fill="#ff0000" stroke="none" stroke-width="1"/><circle cx="169.3" cy="569.3" r="4.6" fill="#ff0000" stroke="none" stroke-width="1"/><circle cx="178.2" cy="567.7" r="4.6" fill="#ff0000" stroke="none" stroke-width="1"/><circle cx="187.2" cy="566.3" r="4.6" fill="#ff0000" stroke="none" stroke-width="1"/><circle cx="196.1" cy="565.3" r="4.6" fill="#ff0000" stroke="none" stroke-width="1"/><circle cx="205.4" cy="564.3" r="4.6" fill="#ff0000" stroke="none" stroke-width="1"/><circle cx="211.2" cy="563.7" r="4.6" fill="#ff0000" stroke="none" stroke-width="1"/><circle cx="227.0" cy="562.9" r="4.6" fill="#ff0000" stroke="none" stroke-width="1"/><circle cx="244.9" cy="561.3" r="4.6" fill="#ff0000" stroke="none" stroke-width="1"/><circle cx="262.8" cy="559.7" r="4.6" fill="#ff0000" stroke="none" stroke-width="1"/><circle cx="281.0" cy="558.3" r="4.6" fill="#ff0000" stroke="none" stroke-width="1"/><circle cx="297.8" cy="557.0" r="4.6" fill="#ff0000" stroke="none" stroke-width="1"/><circle cx="313.3" cy="554.3" r="4.6" fill="#ff0000" stroke="none" stroke-width="1"/><circle cx="315.6" cy="554.0" r="4.6" fill="#ff0000" stroke="none" stroke-width="1"/><circle cx="317.9" cy="553.7" r="4.6" fill="#ff0000" stroke="none" stroke-width="1"/><circle cx="320.2" cy="553.3" r="4.6" fill="#ff0000" stroke="none" stroke-width="1"/><circle cx="322.6" cy="553.0" r="4.6" fill="#ff0000" stroke="none" stroke-width="1"/><circle cx="324.9" cy="552.7" r="4.6" fill="#ff0000" stroke="none" stroke-width="1"/><circle cx="327.2" cy="552.4" r="4.6" fill="#ff0000" stroke="none" stroke-width="1"/><circle cx="329.6" cy="552.1" r="4.6" fill="#ff0000" stroke="none" stroke-width="1"/><circle cx="331.9" cy="551.8" r="4.6" fill="#ff0000" stroke="none" stroke-width="1"/><circle cx="334.2" cy="551.5" r="4.6" fill="#ff0000" stroke="none" stroke-width="1"/><circle cx="336.6" cy="551.2" r="4.6" fill="#ff0000" stroke="none" stroke-width="1"/><circle cx="338.9" cy="550.9" r="4.6" fill="#ff0000" stroke="none" stroke-width="1"/><circle cx="341.2" cy="550.6" r="4.6" fill="#ff0000" stroke="none" stroke-width="1"/><circle cx="343.5" cy="550.3" r="4.6" fill="#ff0000" stroke="none" stroke-width="1"/><circle cx="345.9" cy="550.0" r="4.6" fill="#ff0000" stroke="none" stroke-width="1"/><circle cx="348.2" cy="549.6" r="4.6" fill="#ff0000" stroke="none" stroke-width="1"/><circle cx="350.5" cy="549.2" r="4.6" fill="#ff0000" stroke="none" stroke-width="1"/><circle cx="352.9" cy="548.8" r="4.6" fill="#ff0000" stroke="none" stroke-width="1"/><circle cx="355.2" cy="548.4" r="4.6" fill="#ff0000" stroke="none" stroke-width="1"/><circle cx="357.5" cy="548.0" r="4.6" fill="#ff0000" stroke="none" stroke-width="1"/><circle cx="359.8" cy="547.5" r="4.6" fill="#ff0000" stroke="none" stroke-width="1"/><circle cx="362.2" cy="547.0" r="4.6" fill="#ff0000" stroke="none" stroke-width="1"/><circle cx="364.5" cy="546.6" r="4.6" fill="#ff0000" stroke="none" stroke-width="1"/><circle cx="366.8" cy="546.1" r="4.6" fill="#ff0000" stroke="none" stroke-width="1"/><circle cx="369.2" cy="545.6" r="4.6" fill="#ff0000" stroke="none" stroke-width="1"/><circle cx="371.5" cy="545.1" r="4.6" fill="#ff0000" stroke="none" stroke-width="1"/><circle cx="373.8" cy="544.6" r="4.6" fill="#ff0000" stroke="none" stroke-width="1"/><circle cx="376.2" cy="544.1" r="4.6" fill="#ff0000" stroke="none" stroke-width="1"/><circle cx="378.5" cy="543.5" r="4.6" fill="#ff0000" stroke="none" stroke-width="1"/><circle cx="380.8" cy="543.0" r="4.6" fill="#ff0000" stroke="none" stroke-width="1"/><circle cx="383.1" cy="542.5" r="4.6" fill="#ff0000" stroke="none" stroke-width="1"/><circle cx="385.5" cy="542.0" r="4.6" fill="#ff0000" stroke="none" stroke-width="1"/><circle cx="387.8" cy="541.5" r="4.6" fill="#ff0000" stroke="none" stroke-width="1"/><circle cx="390.1" cy="541.0" r="4.6" fill="#ff0000" stroke="none" stroke-width="1"/><circle cx="392.5" cy="540.4" r="4.6" fill="#ff0000" stroke="none" stroke-width="1"/><circle cx="394.8" cy="539.9" r="4.6" fill="#ff0000" stroke="none" stroke-width="1"/><circle cx="397.1" cy="539.3" r="4.6" fill="#ff0000" stroke="none" stroke-width="1"/><circle cx="399.5" cy="538.7" r="4.6" fill="#ff0000" stroke="none" stroke-width="1"/><circle cx="401.8" cy="538.0" r="4.6" fill="#ff0000" stroke="none" stroke-width="1"/><circle cx="404.1" cy="537.3" r="4.6" fill="#ff0000" stroke="none" stroke-width="1"/><circle cx="406.4" cy="536.6" r="4.6" fill="#ff0000" stroke="none" stroke-width="1"/><circle cx="408.8" cy="535.8" r="4.6" fill="#ff0000" stroke="none" stroke-width="1"/><circle cx="411.1" cy="534.9" r="4.6" fill="#ff0000" stroke="none" stroke-width="1"/><circle cx="413.4" cy="534.0" r="4.6" fill="#ff0000" stroke="none" stroke-width="1"/><circle cx="415.8" cy="533.0" r="4.6" fill="#ff0000" stroke="none" stroke-width="1"/><circle cx="418.1" cy="532.0" r="4.6" fill="#ff0000" stroke="none" stroke-width="1"/><circle cx="420.4" cy="530.8" r="4.6" fill="#ff0000" stroke="none" stroke-width="1"/><circle cx="422.7" cy="529.6" r="4.6" fill="#ff0000" stroke="none" stroke-width="1"/><circle cx="425.1" cy="528.2" r="4.6" fill="#ff0000" stroke="none" stroke-width="1"/><circle cx="427.4" cy="526.5" r="4.6" fill="#ff0000" stroke="none" stroke-width="1"/><circle cx="429.7" cy="524.5" r="4.6" fill="#ff0000" stroke="none" stroke-width="1"/><circle cx="432.1" cy="522.0" r="4.6" fill="#ff0000" stroke="none" stroke-width="1"/><circle cx="434.4" cy="519.0" r="4.6" fill="#ff0000" stroke="none" stroke-width="1"/><circle cx="436.7" cy="515.0" r="4.6" fill="#ff0000" stroke="none" stroke-width="1"/><circle cx="439.1" cy="509.9" r="4.6" fill="#ff0000" stroke="none" stroke-width="1"/><circle cx="441.4" cy="503.3" r="4.6" fill="#ff0000" stroke="none" stroke-width="1"/><circle cx="443.7" cy="494.4" r="4.6" fill="#ff0000" stroke="none" stroke-width="1"/><circle cx="446.0" cy="481.7" r="4.6" fill="#ff0000" stroke="none" stroke-width="1"/><circle cx="448.4" cy="463.2" r="4.6" fill="#ff0000" stroke="none" stroke-width="1"/><circle cx="450.7" cy="429.8" r="4.6" fill="#ff0000" stroke="none" stroke-width="1"/><circle cx="105.9" cy="670.2" r="1.1" fill="#ffd0d0" stroke="none" stroke-width="1"/><circle cx="106.1" cy="652.4" r="1.1" fill="#ffd0d0" stroke="none" stroke-width="1"/><circle cx="106.2" cy="633.3" r="1.1" fill="#ffd0d0" stroke="none" stroke-width="1"/><circle cx="106.6" cy="616.4" r="1.1" fill="#ffd0d0" stroke="none" stroke-width="1"/><circle cx="107.3" cy="603.4" r="1.1" fill="#ffd0d0" stroke="none" stroke-width="1"/><circle cx="110.4" cy="594.0" r="1.1" fill="#ffd0d0" stroke="none" stroke-width="1"/><circle cx="118.3" cy="588.0" r="1.1" fill="#ffd0d0" stroke="none" stroke-width="1"/><circle cx="128.2" cy="581.0" r="1.1" fill="#ffd0d0" stroke="none" stroke-width="1"/><circle cx="142.3" cy="575.1" r="1.1" fill="#ffd0d0" stroke="none" stroke-width="1"/><circle cx="152.3" cy="572.1" r="1.1" fill="#ffd0d0" stroke="none" stroke-width="1"/><circle cx="160.2" cy="570.1" r="1.1" fill="#ffd0d0" stroke="none" stroke-width="1"/><circle cx="168.1" cy="568.1" r="1.1" fill="#ffd0d0" stroke="none" stroke-width="1"/><circle cx="177.0" cy="566.5" r="1.1" fill="#ffd0d0" stroke="none" stroke-width="1"/><circle cx="186.0" cy="565.1" r="1.1" fill="#ffd0d0" stroke="none" stroke-width="1"/><circle cx="194.9" cy="564.1" r="1.1" fill="#ffd0d0" stroke="none" stroke-width="1"/><circle cx="204.2" cy="563.1" r="1.1" fill="#ffd0d0" stroke="none" stroke-width="1"/><circle cx="210.0" cy="562.5" r="1.1" fill="#ffd0d0" stroke="none" stroke-width="1"/><circle cx="225.8" cy="561.7" r="1.1" fill="#ffd0d0" stroke="none" stroke-width="1"/><circle cx="243.7" cy="560.1" r="1.1" fill="#ffd0d0" stroke="none" stroke-width="1"/><circle cx="261.6" cy="558.5" r="1.1" fill="#ffd0d0" stroke="none" stroke-width="1"/><circle cx="279.8" cy="557.1" r="1.1" fill="#ffd0d0" stroke="none" stroke-width="1"/><circle cx="296.6" cy="555.8" r="1.1" fill="#ffd0d0" stroke="none" stroke-width="1"/><circle cx="312.1" cy="553.1" r="1.1" fill="#ffd0d0" stroke="none" stroke-width="1"/><circle cx="314.4" cy="552.8" r="1.1" fill="#ffd0d0" stroke="none" stroke-width="1"/><circle cx="316.7" cy="552.5" r="1.1" fill="#ffd0d0" stroke="none" stroke-width="1"/><circle cx="319.0" cy="552.1" r="1.1" fill="#ffd0d0" stroke="none" stroke-width="1"/><circle cx="321.4" cy="551.8" r="1.1" fill="#ffd0d0" stroke="none" stroke-width="1"/><circle cx="323.7" cy="551.5" r="1.1" fill="#ffd0d0" stroke="none" stroke-width="1"/><circle cx="326.0" cy="551.2" r="1.1" fill="#ffd0d0" stroke="none" stroke-width="1"/><circle cx="328.4" cy="550.9" r="1.1" fill="#ffd0d0" stroke="none" stroke-width="1"/><circle cx="330.7" cy="550.6" r="1.1" fill="#ffd0d0" stroke="none" stroke-width="1"/><circle cx="333.0" cy="550.3" r="1.1" fill="#ffd0d0" stroke="none" stroke-width="1"/><circle cx="335.4" cy="550.0" r="1.1" fill="#ffd0d0" stroke="none" stroke-width="1"/><circle cx="337.7" cy="549.7" r="1.1" fill="#ffd0d0" stroke="none" stroke-width="1"/><circle cx="340.0" cy="549.4" r="1.1" fill="#ffd0d0" stroke="none" stroke-width="1"/><circle cx="342.3" cy="549.1" r="1.1" fill="#ffd0d0" stroke="none" stroke-width="1"/><circle cx="344.7" cy="548.8" r="1.1" fill="#ffd0d0" stroke="none" stroke-width="1"/><circle cx="347.0" cy="548.4" r="1.1" fill="#ffd0d0" stroke="none" stroke-width="1"/><circle cx="349.3" cy="548.0" r="1.1" fill="#ffd0d0" stroke="none" stroke-width="1"/><circle cx="351.7" cy="547.6" r="1.1" fill="#ffd0d0" stroke="none" stroke-width="1"/><circle cx="354.0" cy="547.2" r="1.1" fill="#ffd0d0" stroke="none" stroke-width="1"/><circle cx="356.3" cy="546.8" r="1.1" fill="#ffd0d0" stroke="none" stroke-width="1"/><circle cx="358.6" cy="546.3" r="1.1" fill="#ffd0d0" stroke="none" stroke-width="1"/><circle cx="361.0" cy="545.8" r="1.1" fill="#ffd0d0" stroke="none" stroke-width="1"/><circle cx="363.3" cy="545.4" r="1.1" fill="#ffd0d0" stroke="none" stroke-width="1"/><circle cx="365.6" cy="544.9" r="1.1" fill="#ffd0d0" stroke="none" stroke-width="1"/><circle cx="368.0" cy="544.4" r="1.1" fill="#ffd0d0" stroke="none" stroke-width="1"/><circle cx="370.3" cy="543.9" r="1.1" fill="#ffd0d0" stroke="none" stroke-width="1"/><circle cx="372.6" cy="543.4" r="1.1" fill="#ffd0d0" stroke="none" stroke-width="1"/><circle cx="375.0" cy="542.9" r="1.1" fill="#ffd0d0" stroke="none" stroke-width="1"/><circle cx="377.3" cy="542.3" r="1.1" fill="#ffd0d0" stroke="none" stroke-width="1"/><circle cx="379.6" cy="541.8" r="1.1" fill="#ffd0d0" stroke="none" stroke-width="1"/><circle cx="381.9" cy="541.3" r="1.1" fill="#ffd0d0" stroke="none" stroke-width="1"/><circle cx="384.3" cy="540.8" r="1.1" fill="#ffd0d0" stroke="none" stroke-width="1"/><circle cx="386.6" cy="540.3" r="1.1" fill="#ffd0d0" stroke="none" stroke-width="1"/><circle cx="388.9" cy="539.8" r="1.1" fill="#ffd0d0" stroke="none" stroke-width="1"/><circle cx="391.3" cy="539.2" r="1.1" fill="#ffd0d0" stroke="none" stroke-width="1"/><circle cx="393.6" cy="538.7" r="1.1" fill="#ffd0d0" stroke="none" stroke-width="1"/><circle cx="395.9" cy="538.1" r="1.1" fill="#ffd0d0" stroke="none" stroke-width="1"/><circle cx="398.3" cy="537.5" r="1.1" fill="#ffd0d0" stroke="none" stroke-width="1"/><circle cx="400.6" cy="536.8" r="1.1" fill="#ffd0d0" stroke="none" stroke-width="1"/><circle cx="402.9" cy="536.1" r="1.1" fill="#ffd0d0" stroke="none" stroke-width="1"/><circle cx="405.2" cy="535.4" r="1.1" fill="#ffd0d0" stroke="none" stroke-width="1"/><circle cx="407.6" cy="534.6" r="1.1" fill="#ffd0d0" stroke="none" stroke-width="1"/><circle cx="409.9" cy="533.7" r="1.1" fill="#ffd0d0" stroke="none" stroke-width="1"/><circle cx="412.2" cy="532.8" r="1.1" fill="#ffd0d0" stroke="none" stroke-width="1"/><circle cx="414.6" cy="531.8" r="1.1" fill="#ffd0d0" stroke="none" stroke-width="1"/><circle cx="416.9" cy="530.8" r="1.1" fill="#ffd0d0" stroke="none" stroke-width="1"/><circle cx="419.2" cy="529.6" r="1.1" fill="#ffd0d0" stroke="none" stroke-width="1"/><circle cx="421.5" cy="528.4" r="1.1" fill="#ffd0d0" stroke="none" stroke-width="1"/><circle cx="423.9" cy="527.0" r="1.1" fill="#ffd0d0" stroke="none" stroke-width="1"/><circle cx="426.2" cy="525.3" r="1.1" fill="#ffd0d0" stroke="none" stroke-width="1"/><circle cx="428.5" cy="523.3" r="1.1" fill="#ffd0d0" stroke="none" stroke-width="1"/><circle cx="430.9" cy="520.8" r="1.1" fill="#ffd0d0" stroke="none" stroke-width="1"/><circle cx="433.2" cy="517.8" r="1.1" fill="#ffd0d0" stroke="none" stroke-width="1"/><circle cx="435.5" cy="513.8" r="1.1" fill="#ffd0d0" stroke="none" stroke-width="1"/><circle cx="437.9" cy="508.7" r="1.1" fill="#ffd0d0" stroke="none" stroke-width="1"/><circle cx="440.2" cy="502.1" r="1.1" fill="#ffd0d0" stroke="none" stroke-width="1"/><circle cx="442.5" cy="493.2" r="1.1" fill="#ffd0d0" stroke="none" stroke-width="1"/><circle cx="444.8" cy="480.5" r="1.1" fill="#ffd0d0" stroke="none" stroke-width="1"/><circle cx="447.2" cy="462.0" r="1.1" fill="#ffd0d0" stroke="none" stroke-width="1"/><rect x="89.6" y="406.9" width="378.4" height="282.4" stroke="#000" stroke-width="2.6" fill="none"/><line x1="107.1" y1="689.3" x2="107.1" y2="696.3" stroke="#000" stroke-width="2.2" stroke-linecap="butt"/><line x1="175.8" y1="689.3" x2="175.8" y2="696.3" stroke="#000" stroke-width="2.2" stroke-linecap="butt"/><line x1="244.5" y1="689.3" x2="244.5" y2="696.3" stroke="#000" stroke-width="2.2" stroke-linecap="butt"/><line x1="313.3" y1="689.3" x2="313.3" y2="696.3" stroke="#000" stroke-width="2.2" stroke-linecap="butt"/><line x1="382" y1="689.3" x2="382" y2="696.3" stroke="#000" stroke-width="2.2" stroke-linecap="butt"/><line x1="450.7" y1="689.3" x2="450.7" y2="696.3" stroke="#000" stroke-width="2.2" stroke-linecap="butt"/><line x1="141.5" y1="689.3" x2="141.5" y2="692.8" stroke="#000" stroke-width="2.2" stroke-linecap="butt"/><line x1="210.2" y1="689.3" x2="210.2" y2="692.8" stroke="#000" stroke-width="2.2" stroke-linecap="butt"/><line x1="278.9" y1="689.3" x2="278.9" y2="692.8" stroke="#000" stroke-width="2.2" stroke-linecap="butt"/><line x1="347.6" y1="689.3" x2="347.6" y2="692.8" stroke="#000" stroke-width="2.2" stroke-linecap="butt"/><line x1="416.3" y1="689.3" x2="416.3" y2="692.8" stroke="#000" stroke-width="2.2" stroke-linecap="butt"/><text x="107.1" y="719.1" font-size="23.2" font-weight="normal" fill="#000" text-anchor="middle">0.0</text><text x="175.8" y="719.1" font-size="23.2" font-weight="normal" fill="#000" text-anchor="middle">0.2</text><text x="244.5" y="719.1" font-size="23.2" font-weight="normal" fill="#000" text-anchor="middle">0.4</text><text x="313.3" y="719.1" font-size="23.2" font-weight="normal" fill="#000" text-anchor="middle">0.6</text><text x="382" y="719.1" font-size="23.2" font-weight="normal" fill="#000" text-anchor="middle">0.8</text><text x="450.7" y="719.1" font-size="23.2" font-weight="normal" fill="#000" text-anchor="middle">1.0</text><line x1="89.6" y1="689.3" x2="82.6" y2="689.3" stroke="#000" stroke-width="2.2" stroke-linecap="butt"/><line x1="89.6" y1="626.7" x2="82.6" y2="626.7" stroke="#000" stroke-width="2.2" stroke-linecap="butt"/><line x1="89.6" y1="564.1" x2="82.6" y2="564.1" stroke="#000" stroke-width="2.2" stroke-linecap="butt"/><line x1="89.6" y1="501.4" x2="82.6" y2="501.4" stroke="#000" stroke-width="2.2" stroke-linecap="butt"/><line x1="89.6" y1="438.8" x2="82.6" y2="438.8" stroke="#000" stroke-width="2.2" stroke-linecap="butt"/><line x1="89.6" y1="658" x2="86.1" y2="658" stroke="#000" stroke-width="2.2" stroke-linecap="butt"/><line x1="89.6" y1="595.4" x2="86.1" y2="595.4" stroke="#000" stroke-width="2.2" stroke-linecap="butt"/><line x1="89.6" y1="532.8" x2="86.1" y2="532.8" stroke="#000" stroke-width="2.2" stroke-linecap="butt"/><line x1="89.6" y1="470.1" x2="86.1" y2="470.1" stroke="#000" stroke-width="2.2" stroke-linecap="butt"/><text x="82" y="697.6" font-size="23.2" font-weight="normal" fill="#000" text-anchor="end">0</text><text x="82" y="635" font-size="23.2" font-weight="normal" fill="#000" text-anchor="end">100</text><text x="82" y="572.4" font-size="23.2" font-weight="normal" fill="#000" text-anchor="end">200</text><text x="82" y="509.7" font-size="23.2" font-weight="normal" fill="#000" text-anchor="end">300</text><text x="82" y="447.1" font-size="23.2" font-weight="normal" fill="#000" text-anchor="end">400</text><line x1="99.6" y1="426.9" x2="166.3" y2="426.9" stroke="#f04444" stroke-width="3" stroke-linecap="butt"/><circle cx="132.5" cy="426.9" r="9" fill="#ff0000" stroke="none" stroke-width="1"/><line x1="99.6" y1="458.4" x2="166.3" y2="458.4" stroke="#f04444" stroke-width="3" stroke-linecap="butt"/><circle cx="132.5" cy="458.4" r="9" fill="#ff0000" stroke="none" stroke-width="1"/><text x="174.0" y="437.8" font-size="24" font-weight="bold" fill="#000">CA-Fe@BC-Adsorption</text><text x="174.0" y="466.7" font-size="24" font-weight="bold" fill="#000">CA-Fe@BC-Desorption</text><line x1="141.4" y1="640" x2="208.2" y2="640" stroke="#3b7585" stroke-width="3" stroke-linecap="butt"/><circle cx="174.3" cy="640.0" r="8.2" fill="url(#rg4)" stroke="none" stroke-width="1"/><line x1="141.4" y1="672.9" x2="208.2" y2="672.9" stroke="#3b7585" stroke-width="3" stroke-linecap="butt"/><circle cx="174.3" cy="672.9" r="8.6" fill="#3b7585" stroke="none" stroke-width="1"/><text x="215.7" y="649.0" font-size="24" font-weight="bold" fill="#000">Fe@BC-Adsorption</text><text x="215.7" y="681.8" font-size="24" font-weight="bold" fill="#000">Fe@BC-Desorption</text><text x="261.3" y="511.5" font-size="24" font-weight="bold" fill="#000">Mesopores</text><text x="213.5" y="609.1" font-size="24" font-weight="bold" fill="#000">Micropores</text><line x1="210.2" y1="604.1" x2="132" y2="631" stroke="#000" stroke-width="2.6" stroke-linecap="butt"/><path d="M117.5,637 L136.5,622.5 L140.6,637.5 Z" fill="#000"/><text x="0" y="0" font-size="37" font-weight="bold" fill="#000" text-anchor="start" transform="translate(36.2 691.5) rotate(-90) scale(0.9700 1)"><tspan>Volume (cm</tspan><tspan font-size="23" dy="-11.5">3</tspan><tspan dy="11.5"> g</tspan><tspan font-size="23" dy="-11.5">-1</tspan><tspan dy="11.5">)</tspan></text><text x="71.2" y="757.6" font-size="36" font-weight="bold" fill="#000">Relative Pressure (P/P</text><text x="449.6" y="765.6" font-size="22" font-weight="bold" fill="#000" text-anchor="start">0</text><text x="462.5" y="757.6" font-size="36" font-weight="bold" fill="#000" text-anchor="start">)</text><text x="-2.1" y="370.0" font-size="50" font-weight="bold" fill="#000" textLength="57.3" lengthAdjust="spacingAndGlyphs">(c)</text><g clip-path="url(#cp7)"><path d="M627.3 655.5 631.2 658.1 636.4 659.8 644.2 660.6 646.2 644.5 650.7 501.4 655 649.6 661.7 649.6 667.9 647.9 690.6 640 708.2 632.5 734 626.8 777.4 619.8 839.4 620.1 869.4 621.3 908.6 628.1 952 634.2 977.8 651.3" stroke="#3b7585" stroke-width="2.6" fill="none" stroke-linejoin="round" stroke-linecap="round"/><path d="M629.4 612.6 633.2 640.2 634.5 646.2 637.1 653.5 640.5 658.9 643.1 660.6 646.2 651.3 650.7 441.8 655 640 658.6 639.4 666.9 639 704.1 643.8 719 644.3 751.6 642.3 761.9 640.6 772.2 641.7 798.1 638.7 834.2 636.8 881.7 632.5 910.7 631.9 944.8 626.2 977.8 625.4" stroke="#ff0000" stroke-width="2.6" fill="none" stroke-linejoin="round" stroke-linecap="round"/><circle cx="629.4" cy="612.6" r="4.5" fill="url(#rg5)" stroke="none" stroke-width="1"/><circle cx="629.9" cy="617.2" r="4.5" fill="url(#rg5)" stroke="none" stroke-width="1"/><circle cx="630.4" cy="621.5" r="4.5" fill="url(#rg5)" stroke="none" stroke-width="1"/><circle cx="630.9" cy="625.7" r="4.5" fill="url(#rg5)" stroke="none" stroke-width="1"/><circle cx="631.5" cy="629.5" r="4.5" fill="url(#rg5)" stroke="none" stroke-width="1"/><circle cx="632.0" cy="633.2" r="4.5" fill="url(#rg5)" stroke="none" stroke-width="1"/><circle cx="632.6" cy="636.8" r="4.5" fill="url(#rg5)" stroke="none" stroke-width="1"/><circle cx="633.2" cy="640.2" r="4.5" fill="url(#rg5)" stroke="none" stroke-width="1"/><circle cx="633.8" cy="643.3" r="4.5" fill="url(#rg5)" stroke="none" stroke-width="1"/><circle cx="634.5" cy="646.2" r="4.5" fill="url(#rg5)" stroke="none" stroke-width="1"/><circle cx="635.4" cy="648.7" r="4.5" fill="url(#rg5)" stroke="none" stroke-width="1"/><circle cx="636.2" cy="651.3" r="4.5" fill="url(#rg5)" stroke="none" stroke-width="1"/><circle cx="637.1" cy="653.5" r="4.5" fill="url(#rg5)" stroke="none" stroke-width="1"/><circle cx="638.2" cy="655.5" r="4.5" fill="url(#rg5)" stroke="none" stroke-width="1"/><circle cx="639.3" cy="657.4" r="4.5" fill="url(#rg5)" stroke="none" stroke-width="1"/><circle cx="640.5" cy="658.9" r="4.5" fill="url(#rg5)" stroke="none" stroke-width="1"/><circle cx="642.1" cy="660.3" r="4.5" fill="url(#rg5)" stroke="none" stroke-width="1"/><circle cx="643.1" cy="660.6" r="4.5" fill="url(#rg5)" stroke="none" stroke-width="1"/><circle cx="646.2" cy="651.3" r="4.5" fill="url(#rg5)" stroke="none" stroke-width="1"/><circle cx="650.7" cy="441.8" r="4.5" fill="url(#rg5)" stroke="none" stroke-width="1"/><circle cx="655.0" cy="640.0" r="4.5" fill="url(#rg5)" stroke="none" stroke-width="1"/><circle cx="658.6" cy="639.4" r="4.5" fill="url(#rg5)" stroke="none" stroke-width="1"/><circle cx="662.8" cy="639.0" r="4.5" fill="url(#rg5)" stroke="none" stroke-width="1"/><circle cx="666.9" cy="639.0" r="4.5" fill="url(#rg5)" stroke="none" stroke-width="1"/><circle cx="671.0" cy="639.4" r="4.5" fill="url(#rg5)" stroke="none" stroke-width="1"/><circle cx="675.1" cy="639.9" r="4.5" fill="url(#rg5)" stroke="none" stroke-width="1"/><circle cx="679.3" cy="640.6" r="4.5" fill="url(#rg5)" stroke="none" stroke-width="1"/><circle cx="683.4" cy="641.1" r="4.5" fill="url(#rg5)" stroke="none" stroke-width="1"/><circle cx="687.5" cy="641.6" r="4.5" fill="url(#rg5)" stroke="none" stroke-width="1"/><circle cx="691.7" cy="642.1" r="4.5" fill="url(#rg5)" stroke="none" stroke-width="1"/><circle cx="695.8" cy="642.8" r="4.5" fill="url(#rg5)" stroke="none" stroke-width="1"/><circle cx="699.9" cy="643.3" r="4.5" fill="url(#rg5)" stroke="none" stroke-width="1"/><circle cx="704.1" cy="643.8" r="4.5" fill="url(#rg5)" stroke="none" stroke-width="1"/><circle cx="708.2" cy="644.1" r="4.5" fill="url(#rg5)" stroke="none" stroke-width="1"/><circle cx="713.4" cy="644.3" r="4.5" fill="url(#rg5)" stroke="none" stroke-width="1"/><circle cx="719.0" cy="644.3" r="4.5" fill="url(#rg5)" stroke="none" stroke-width="1"/><circle cx="724.7" cy="644.0" r="4.5" fill="url(#rg5)" stroke="none" stroke-width="1"/><circle cx="730.9" cy="643.6" r="4.5" fill="url(#rg5)" stroke="none" stroke-width="1"/><circle cx="737.1" cy="643.3" r="4.5" fill="url(#rg5)" stroke="none" stroke-width="1"/><circle cx="744.4" cy="642.8" r="4.5" fill="url(#rg5)" stroke="none" stroke-width="1"/><circle cx="751.6" cy="642.3" r="4.5" fill="url(#rg5)" stroke="none" stroke-width="1"/><circle cx="761.9" cy="640.6" r="4.5" fill="url(#rg5)" stroke="none" stroke-width="1"/><circle cx="772.2" cy="641.7" r="4.5" fill="url(#rg5)" stroke="none" stroke-width="1"/><circle cx="784.6" cy="640.0" r="4.5" fill="url(#rg5)" stroke="none" stroke-width="1"/><circle cx="798.1" cy="638.7" r="4.5" fill="url(#rg5)" stroke="none" stroke-width="1"/><circle cx="813.6" cy="638.2" r="4.5" fill="url(#rg5)" stroke="none" stroke-width="1"/><circle cx="834.2" cy="636.8" r="4.5" fill="url(#rg5)" stroke="none" stroke-width="1"/><circle cx="855.9" cy="634.9" r="4.5" fill="url(#rg5)" stroke="none" stroke-width="1"/><circle cx="881.7" cy="632.5" r="4.5" fill="url(#rg5)" stroke="none" stroke-width="1"/><circle cx="910.7" cy="631.9" r="4.5" fill="url(#rg5)" stroke="none" stroke-width="1"/><circle cx="944.8" cy="626.2" r="4.5" fill="url(#rg5)" stroke="none" stroke-width="1"/><circle cx="627.3" cy="655.5" r="4.9" fill="url(#rg6)" stroke="none" stroke-width="1"/><circle cx="628.1" cy="656.4" r="4.9" fill="url(#rg6)" stroke="none" stroke-width="1"/><circle cx="629.2" cy="657.1" r="4.9" fill="url(#rg6)" stroke="none" stroke-width="1"/><circle cx="630.2" cy="657.6" r="4.9" fill="url(#rg6)" stroke="none" stroke-width="1"/><circle cx="631.2" cy="658.1" r="4.9" fill="url(#rg6)" stroke="none" stroke-width="1"/><circle cx="632.3" cy="658.4" r="4.9" fill="url(#rg6)" stroke="none" stroke-width="1"/><circle cx="633.3" cy="658.8" r="4.9" fill="url(#rg6)" stroke="none" stroke-width="1"/><circle cx="634.3" cy="659.1" r="4.9" fill="url(#rg6)" stroke="none" stroke-width="1"/><circle cx="635.4" cy="659.5" r="4.9" fill="url(#rg6)" stroke="none" stroke-width="1"/><circle cx="636.4" cy="659.8" r="4.9" fill="url(#rg6)" stroke="none" stroke-width="1"/><circle cx="637.4" cy="660.0" r="4.9" fill="url(#rg6)" stroke="none" stroke-width="1"/><circle cx="639.0" cy="660.3" r="4.9" fill="url(#rg6)" stroke="none" stroke-width="1"/><circle cx="640.5" cy="660.5" r="4.9" fill="url(#rg6)" stroke="none" stroke-width="1"/><circle cx="642.1" cy="660.6" r="4.9" fill="url(#rg6)" stroke="none" stroke-width="1"/><circle cx="644.2" cy="660.6" r="4.9" fill="url(#rg6)" stroke="none" stroke-width="1"/><circle cx="646.2" cy="644.5" r="4.9" fill="url(#rg6)" stroke="none" stroke-width="1"/><circle cx="650.7" cy="501.4" r="4.9" fill="url(#rg6)" stroke="none" stroke-width="1"/><circle cx="655.0" cy="649.6" r="4.9" fill="url(#rg6)" stroke="none" stroke-width="1"/><circle cx="661.7" cy="649.6" r="4.9" fill="url(#rg6)" stroke="none" stroke-width="1"/><circle cx="667.9" cy="647.9" r="4.9" fill="url(#rg6)" stroke="none" stroke-width="1"/><circle cx="677.7" cy="644.5" r="4.9" fill="url(#rg6)" stroke="none" stroke-width="1"/><circle cx="690.6" cy="640.0" r="4.9" fill="url(#rg6)" stroke="none" stroke-width="1"/><circle cx="708.2" cy="632.5" r="4.9" fill="url(#rg6)" stroke="none" stroke-width="1"/><circle cx="734.0" cy="626.8" r="4.9" fill="url(#rg6)" stroke="none" stroke-width="1"/><circle cx="777.4" cy="619.8" r="4.9" fill="url(#rg6)" stroke="none" stroke-width="1"/><circle cx="839.4" cy="620.1" r="4.9" fill="url(#rg6)" stroke="none" stroke-width="1"/><circle cx="869.4" cy="621.3" r="4.9" fill="url(#rg6)" stroke="none" stroke-width="1"/><circle cx="908.6" cy="628.1" r="4.9" fill="url(#rg6)" stroke="none" stroke-width="1"/><circle cx="952.0" cy="634.2" r="4.9" fill="url(#rg6)" stroke="none" stroke-width="1"/></g><rect x="595.7" y="407.9" width="377.2" height="280.7" stroke="#000" stroke-width="2.6" fill="none"/><line x1="611.1" y1="688.6" x2="611.1" y2="696.1" stroke="#000" stroke-width="2.2" stroke-linecap="butt"/><line x1="662.8" y1="688.6" x2="662.8" y2="696.1" stroke="#000" stroke-width="2.2" stroke-linecap="butt"/><line x1="714.4" y1="688.6" x2="714.4" y2="696.1" stroke="#000" stroke-width="2.2" stroke-linecap="butt"/><line x1="766.1" y1="688.6" x2="766.1" y2="696.1" stroke="#000" stroke-width="2.2" stroke-linecap="butt"/><line x1="817.7" y1="688.6" x2="817.7" y2="696.1" stroke="#000" stroke-width="2.2" stroke-linecap="butt"/><line x1="869.4" y1="688.6" x2="869.4" y2="696.1" stroke="#000" stroke-width="2.2" stroke-linecap="butt"/><line x1="921" y1="688.6" x2="921" y2="696.1" stroke="#000" stroke-width="2.2" stroke-linecap="butt"/><line x1="972.7" y1="688.6" x2="972.7" y2="696.1" stroke="#000" stroke-width="2.2" stroke-linecap="butt"/><line x1="636.9" y1="688.6" x2="636.9" y2="692.6" stroke="#000" stroke-width="2.2" stroke-linecap="butt"/><line x1="688.6" y1="688.6" x2="688.6" y2="692.6" stroke="#000" stroke-width="2.2" stroke-linecap="butt"/><line x1="740.2" y1="688.6" x2="740.2" y2="692.6" stroke="#000" stroke-width="2.2" stroke-linecap="butt"/><line x1="791.9" y1="688.6" x2="791.9" y2="692.6" stroke="#000" stroke-width="2.2" stroke-linecap="butt"/><line x1="843.5" y1="688.6" x2="843.5" y2="692.6" stroke="#000" stroke-width="2.2" stroke-linecap="butt"/><line x1="895.2" y1="688.6" x2="895.2" y2="692.6" stroke="#000" stroke-width="2.2" stroke-linecap="butt"/><line x1="946.8" y1="688.6" x2="946.8" y2="692.6" stroke="#000" stroke-width="2.2" stroke-linecap="butt"/><text x="611.1" y="717.5" font-size="23.2" font-weight="normal" fill="#000" text-anchor="middle">0</text><text x="662.8" y="717.5" font-size="23.2" font-weight="normal" fill="#000" text-anchor="middle">5</text><text x="714.4" y="717.5" font-size="23.2" font-weight="normal" fill="#000" text-anchor="middle">10</text><text x="766.1" y="717.5" font-size="23.2" font-weight="normal" fill="#000" text-anchor="middle">15</text><text x="817.7" y="717.5" font-size="23.2" font-weight="normal" fill="#000" text-anchor="middle">20</text><text x="869.4" y="717.5" font-size="23.2" font-weight="normal" fill="#000" text-anchor="middle">25</text><text x="921" y="717.5" font-size="23.2" font-weight="normal" fill="#000" text-anchor="middle">30</text><text x="972.7" y="717.5" font-size="23.2" font-weight="normal" fill="#000" text-anchor="middle">35</text><line x1="595.7" y1="663.2" x2="588.7" y2="663.2" stroke="#000" stroke-width="2.2" stroke-linecap="butt"/><line x1="595.7" y1="595.1" x2="588.7" y2="595.1" stroke="#000" stroke-width="2.2" stroke-linecap="butt"/><line x1="595.7" y1="527" x2="588.7" y2="527" stroke="#000" stroke-width="2.2" stroke-linecap="butt"/><line x1="595.7" y1="458.8" x2="588.7" y2="458.8" stroke="#000" stroke-width="2.2" stroke-linecap="butt"/><line x1="595.7" y1="629.1" x2="591.7" y2="629.1" stroke="#000" stroke-width="2.2" stroke-linecap="butt"/><line x1="595.7" y1="561" x2="591.7" y2="561" stroke="#000" stroke-width="2.2" stroke-linecap="butt"/><line x1="595.7" y1="492.9" x2="591.7" y2="492.9" stroke="#000" stroke-width="2.2" stroke-linecap="butt"/><line x1="595.7" y1="424.8" x2="591.7" y2="424.8" stroke="#000" stroke-width="2.2" stroke-linecap="butt"/><text x="588.5" y="671.5" font-size="23.2" font-weight="normal" fill="#000" text-anchor="end">0.0</text><text x="588.5" y="603.4" font-size="23.2" font-weight="normal" fill="#000" text-anchor="end">0.4</text><text x="588.5" y="535.3" font-size="23.2" font-weight="normal" fill="#000" text-anchor="end">0.8</text><text x="588.5" y="467.1" font-size="23.2" font-weight="normal" fill="#000" text-anchor="end">1.2</text><line x1="757" y1="425.4" x2="823.9" y2="425.4" stroke="#f04444" stroke-width="3.2" stroke-linecap="round"/><circle cx="787.9" cy="425.4" r="8.5" fill="#ff0000" stroke="none" stroke-width="1"/><line x1="757" y1="455.1" x2="823.9" y2="455.1" stroke="#3b7585" stroke-width="3.2" stroke-linecap="round"/><circle cx="787.9" cy="455.1" r="8.5" fill="url(#rg8)" stroke="none" stroke-width="1"/><text x="833.7" y="434.6" font-size="20.8" font-weight="bold" fill="#000">CA-Fe@BC</text><text x="833.1" y="462.2" font-size="20.8" font-weight="bold" fill="#000">Fe@BC</text><g clip-path="url(#cp9)"><path d="M731 552 738.9 555 748.7 557.6 763.6 562.6 777.5 564.5 796.2 560.5 814.8 484.8 838.1 556.9 884.6 556 917.2 556.5" stroke="#ff0000" stroke-width="2.4" fill="none" stroke-linejoin="round" stroke-linecap="round"/><path d="M731 563.3 754.3 563.3 777.5 564.2 796.2 558.4 814.8 507.4 838.1 560.5 917.2 559.8" stroke="#3b7585" stroke-width="2.4" fill="none" stroke-linejoin="round" stroke-linecap="round"/><circle cx="731.0" cy="552.0" r="3.9" fill="url(#rg5)" stroke="none" stroke-width="1"/><circle cx="734.7" cy="553.5" r="3.9" fill="url(#rg5)" stroke="none" stroke-width="1"/><circle cx="738.9" cy="555.0" r="3.9" fill="url(#rg5)" stroke="none" stroke-width="1"/><circle cx="743.6" cy="556.5" r="3.9" fill="url(#rg5)" stroke="none" stroke-width="1"/><circle cx="748.7" cy="557.6" r="3.9" fill="url(#rg5)" stroke="none" stroke-width="1"/><circle cx="754.3" cy="559.5" r="3.9" fill="url(#rg5)" stroke="none" stroke-width="1"/><circle cx="763.6" cy="562.6" r="3.9" fill="url(#rg5)" stroke="none" stroke-width="1"/><circle cx="777.5" cy="564.5" r="3.9" fill="url(#rg5)" stroke="none" stroke-width="1"/><circle cx="796.2" cy="560.5" r="3.9" fill="url(#rg5)" stroke="none" stroke-width="1"/><circle cx="814.8" cy="484.8" r="3.9" fill="url(#rg5)" stroke="none" stroke-width="1"/><circle cx="838.1" cy="556.9" r="3.9" fill="url(#rg5)" stroke="none" stroke-width="1"/><circle cx="866.0" cy="556.2" r="3.9" fill="url(#rg5)" stroke="none" stroke-width="1"/><circle cx="884.6" cy="556.0" r="3.9" fill="url(#rg5)" stroke="none" stroke-width="1"/><circle cx="891.6" cy="556.0" r="3.9" fill="url(#rg5)" stroke="none" stroke-width="1"/><circle cx="900.9" cy="556.0" r="3.9" fill="url(#rg5)" stroke="none" stroke-width="1"/><circle cx="910.2" cy="556.5" r="3.9" fill="url(#rg5)" stroke="none" stroke-width="1"/><circle cx="917.2" cy="556.5" r="3.9" fill="url(#rg5)" stroke="none" stroke-width="1"/><circle cx="731.0" cy="563.3" r="4.1" fill="url(#rg6)" stroke="none" stroke-width="1"/><circle cx="734.7" cy="563.3" r="4.1" fill="url(#rg6)" stroke="none" stroke-width="1"/><circle cx="738.9" cy="563.3" r="4.1" fill="url(#rg6)" stroke="none" stroke-width="1"/><circle cx="743.6" cy="563.3" r="4.1" fill="url(#rg6)" stroke="none" stroke-width="1"/><circle cx="748.7" cy="563.3" r="4.1" fill="url(#rg6)" stroke="none" stroke-width="1"/><circle cx="754.3" cy="563.3" r="4.1" fill="url(#rg6)" stroke="none" stroke-width="1"/><circle cx="763.6" cy="563.7" r="4.1" fill="url(#rg6)" stroke="none" stroke-width="1"/><circle cx="777.5" cy="564.2" r="4.1" fill="url(#rg6)" stroke="none" stroke-width="1"/><circle cx="796.2" cy="558.4" r="4.1" fill="url(#rg6)" stroke="none" stroke-width="1"/><circle cx="814.8" cy="507.4" r="4.1" fill="url(#rg6)" stroke="none" stroke-width="1"/><circle cx="838.1" cy="560.5" r="4.1" fill="url(#rg6)" stroke="none" stroke-width="1"/><circle cx="863.7" cy="560.5" r="4.1" fill="url(#rg6)" stroke="none" stroke-width="1"/><circle cx="896.3" cy="559.8" r="4.1" fill="url(#rg6)" stroke="none" stroke-width="1"/><circle cx="917.2" cy="559.8" r="4.1" fill="url(#rg6)" stroke="none" stroke-width="1"/></g><rect x="731" y="471.8" width="186.2" height="108.5" stroke="#000" stroke-width="2.3" fill="none"/><line x1="731" y1="580.3" x2="731" y2="585.8" stroke="#000" stroke-width="2" stroke-linecap="butt"/><line x1="777.5" y1="580.3" x2="777.5" y2="585.8" stroke="#000" stroke-width="2" stroke-linecap="butt"/><line x1="824.1" y1="580.3" x2="824.1" y2="585.8" stroke="#000" stroke-width="2" stroke-linecap="butt"/><line x1="870.7" y1="580.3" x2="870.7" y2="585.8" stroke="#000" stroke-width="2" stroke-linecap="butt"/><line x1="917.2" y1="580.3" x2="917.2" y2="585.8" stroke="#000" stroke-width="2" stroke-linecap="butt"/><line x1="754.3" y1="580.3" x2="754.3" y2="583.3" stroke="#000" stroke-width="2" stroke-linecap="butt"/><line x1="800.8" y1="580.3" x2="800.8" y2="583.3" stroke="#000" stroke-width="2" stroke-linecap="butt"/><line x1="847.4" y1="580.3" x2="847.4" y2="583.3" stroke="#000" stroke-width="2" stroke-linecap="butt"/><line x1="893.9" y1="580.3" x2="893.9" y2="583.3" stroke="#000" stroke-width="2" stroke-linecap="butt"/><text x="731" y="603.6" font-size="17.5" font-weight="bold" fill="#000" text-anchor="middle">2</text><text x="777.5" y="603.6" font-size="17.5" font-weight="bold" fill="#000" text-anchor="middle">3</text><text x="824.1" y="603.6" font-size="17.5" font-weight="bold" fill="#000" text-anchor="middle">4</text><text x="870.7" y="603.6" font-size="17.5" font-weight="bold" fill="#000" text-anchor="middle">5</text><text x="917.2" y="603.6" font-size="17.5" font-weight="bold" fill="#000" text-anchor="middle">6</text><text x="661.0" y="756.7" font-size="36" font-weight="bold" fill="#000">Pore width (nm)</text><text x="0" y="0" font-size="37" font-weight="bold" fill="#000" text-anchor="start" transform="translate(548.0 697.0) rotate(-90) scale(0.9340 1)"><tspan>d</tspan><tspan font-size="26" dy="8.0">V</tspan><tspan dy="-8.0">/d</tspan><tspan font-size="26" dy="8.0">D</tspan><tspan dy="-8.0"> (cm</tspan><tspan font-size="23" dy="-11.5">3</tspan><tspan dy="11.5"> g</tspan><tspan font-size="23" dy="-11.5">-1</tspan><tspan dy="11.5"> nm</tspan><tspan font-size="23" dy="-11.5">-1</tspan><tspan dy="11.5">)</tspan></text><text x="509.9" y="370.0" font-size="50" font-weight="bold" fill="#000" textLength="60.9" lengthAdjust="spacingAndGlyphs">(d)</text><g clip-path="url(#cp10)"><path d="M89.5 872.7 89.9 872.8 90.3 871.6 90.8 873.9 91.2 871.9 91.6 874.4 92.9 871.5 93.7 873.3 94.1 871.3 94.6 871 95 873.3 95.4 871.9 95.8 873.1 96.7 872.4 97.1 873.9 97.5 872.6 97.9 873.7 98.8 873.1 99.2 874.6 100 872.4 100.9 871.8 101.3 873.1 102.1 871.1 103.4 874.4 104.3 871.4 104.7 872.7 105.1 871.7 105.5 872.4 106.8 872.4 107.2 873.1 107.6 870.8 108.5 873.2 108.9 872.9 109.3 873.7 109.7 872.1 110.2 874.1 111 871.9 111.8 872.1 112.3 873.8 112.7 871.9 113.1 872.8 113.5 871.3 113.9 872.9 114.4 870.9 115.6 873 116.5 873 116.9 871.6 117.3 873.1 118.2 871.5 119 872.9 119.4 872.3 119.8 874 120.3 874.1 121.1 869.9 121.5 870.6 122 870.1 122.8 873.1 123.2 871.5 124.1 875.5 124.9 871.6 125.3 871.9 125.7 871.1 127 873.7 127.4 872.7 127.9 873.8 128.7 870.7 129.1 872.4 129.5 872.2 130 873.3 130.4 870 130.8 874.6 131.6 871.7 132.1 873.4 132.5 873.4 133.3 871.9 133.8 871.9 134.2 873.5 134.6 871.8 135 873.8 135.9 873.6 136.3 872.3 137.1 873.6 137.5 872.6 138 873.6 138.8 872.9 140.1 873.8 140.5 871.5 140.9 874.7 141.3 872.3 142.6 874.4 143 872.6 143.4 873.1 143.9 871.5 144.3 873.2 145.1 873.8 145.6 871.6 146.4 872.9 146.8 870.9 147.7 872.9 148.1 872.1 148.5 873.7 148.9 872.5 149.3 873.7 149.8 872 150.2 871.9 150.6 872.7 151 871.5 151.5 873.3 151.9 872 152.7 873.7 154 869.5 154.4 872.5 155.2 870.8 155.7 873.6 156.1 871 156.5 874.2 157.4 872.8 157.8 872.9 158.2 871.6 158.6 873.6 159 872.7 159.5 872.9 160.7 871.6 162 872.5 162.8 874.3 163.3 872.1 163.7 873.9 164.5 872.3 165.8 873.4 166.6 871 167.1 874.1 167.9 871.4 168.7 873 170 871.3 170.4 873.9 171.3 872 172.1 872 173 871.3 173.4 871.7 173.8 869.6 174.2 872.8 174.6 872.5 175.1 873.6 175.5 871.5 176.7 873.1 177.2 870 177.6 871.5 178 871.1 178.4 873.2 179.7 870 180.1 871.1 180.5 870.5 181 873.1 181.8 871.4 183.1 871.6 183.5 869.9 183.9 871.5 184.3 870.3 184.8 870.3 185.2 871.2 185.6 870.7 186 873.1 186.9 869.4 187.7 872.4 188.1 869.3 188.5 871.4 189 868.7 189.8 871.1 190.7 868 191.1 869.2 191.9 868.9 192.8 869.5 193.6 867 194 868.3 194.4 866.6 194.9 866.9 195.3 869.4 196.1 866.1 196.6 869.3 197.4 866.4 197.8 867.6 198.2 866.5 199.1 867.1 199.5 866.1 200.3 865.6 201.6 865.7 202.5 863.9 202.9 865.2 203.3 862.6 203.7 864.6 204.1 861.5 204.6 863.4 205.4 863.2 205.8 861.9 206.7 862.8 208.4 859.5 208.8 863 209.2 860.5 209.6 860.6 210.5 857.5 210.9 860.6 212.6 857.1 213 858.6 213.4 856.7 213.8 857.4 214.3 856 214.7 856.7 215.1 856 215.9 856.9 216.4 856.7 216.8 855 217.6 856 218.9 853.6 219.3 854.7 220.2 853 220.6 853.9 221 852.1 221.8 853.5 222.3 851.6 222.7 852.3 223.1 850.1 223.5 851.6 224.4 848.5 224.8 849.9 225.2 849.6 225.6 850.2 226.9 846.7 227.7 848.8 228.2 846.3 228.6 847.8 229 844.9 229.8 845.2 230.3 846.5 230.7 844.1 231.1 844.8 232 843.1 232.4 844 232.8 841.7 233.6 839.6 234.1 840.4 234.5 839.5 235.3 836.3 235.7 838.4 236.6 834.1 237 834.9 237.4 832.4 237.9 832.7 238.7 831.9 239.1 828.4 240 831.2 240.8 826.8 241.2 826.5 241.7 822.8 242.1 824.3 243.3 820 243.8 821.2 244.2 820.7 245 816.7 245.4 816.8 245.9 815.1 246.3 815.8 246.7 813.4 247.6 813.1 248.8 811.4 249.2 812.7 249.7 810.6 250.1 810.7 250.5 809.9 251.3 810.5 252.2 808.6 253 810.3 253.5 810.4 253.9 809.8 254.3 811.8 254.7 811.5 255.6 814 256 812.3 257.2 815.2 258.1 814.9 258.5 817.5 258.9 816.4 259.4 817.8 259.8 821.9 260.2 821.1 261 823.1 261.5 822.7 263.1 828.9 263.6 827.5 264 829.6 264.4 828.3 264.8 829.5 265.3 827.3 266.1 832.6 266.5 828.8 266.9 830.7 267.8 829.8 268.2 832 268.6 831.8 269 829.8 269.9 831.7 271.2 827.9 271.6 828.5 272 828.2 273.3 825.4 273.7 827 274.1 823.3 274.5 826.1 274.9 823.5 275.4 823.3 275.8 824.7 276.2 823.7 276.6 823.9 277.5 821.7 277.9 822.3 278.3 821.7 278.7 822.1 279.2 820.2 279.6 819.7 280.4 820.1 280.8 817.4 281.3 818.5 282.5 814.8 283 814.3 283.4 814.7 285.1 808.1 286.3 807.7 286.7 809.6 287.2 809.5 287.6 810.6 288 809.1 289.3 814.2 293.9 846.3 298.1 864.6 298.5 863.7 299 865.8 299.8 865.7 301.1 868.9 301.9 866.2 302.8 870.6 303.6 868.3 304 870 305.3 870 306.1 871.7 307 868.7 307.4 872.3 307.8 871 308.7 871.3 309.1 870.8 309.5 871.7 309.9 870.3 310.8 872.6 312 868.5 312.5 871.6 312.9 869.7 313.3 873 314.1 870.1 314.6 871.6 315 870.7 315.8 872.1 316.7 871 317.1 873.6 317.5 870.3 318.4 872.4 318.8 870.7 319.2 871.6 319.6 869.3 320 873 320.5 872.1 320.9 872.4 321.3 870.6 322.6 874.5 323.4 872 323.8 872.9 324.3 870.9 324.7 873.7 325.1 872.3 325.5 873.6 325.9 872.4 326.4 873 326.8 872.7 327.2 874.2 327.6 871.4 328.1 873 329.3 872.9 329.7 871.1 331 873.5 331.4 872.3 332.3 874.7 333.1 872.3 333.5 873.2 334.8 871.4 335.2 874.4 335.6 872.1 336.5 872.1 336.9 873 337.3 872.3 337.7 874.6 338.6 871.8 339 873.8 339.4 873.1 339.9 873.3 340.7 871.4 341.1 873 341.5 870.6 342 873.1 342.4 871.7 343.2 873.8 344.1 872.5 344.9 874.1 345.3 872.9 345.8 874.1 346.2 872.8 346.6 873.1 347.4 871.6 347.9 874.4 349.1 870 349.5 872.6 350 872.5 350.4 873.3 350.8 870.3 351.2 873.1 352.1 871.8 352.5 874 353.3 874 354.2 872 354.6 873.5 355 870.9 355.4 873.5 355.9 872.4 356.7 873.8 357.6 872.9 358 874.2 358.4 872.9 358.8 873.8 359.2 871.8 359.7 873.9 360.1 874 361.3 871.5 361.8 874 362.2 872.2 362.6 872.1 363 873.2 363.5 872.1 363.9 872.2 364.7 874.8 365.1 872.7 365.6 873.2 366.4 872.2 366.8 870.7 367.2 873.1 367.7 871.8 369.8 874.8 370.2 872.3 370.6 872.2 371 873.5 371.5 871.9 372.7 873.6 373.1 873.5 373.6 872 374.4 872.9 374.8 871.8 375.7 874 376.1 871.3 376.5 872.8 376.9 870.6 377.8 874.8 378.6 870.9 379 872.9 379.9 870.5 382 873.9 383.7 870.7 384.5 872.3 385.4 872.1 385.8 872.7 386.2 871 386.6 873.2 387.1 872.9 387.5 874 387.9 874 388.7 871.6 389.6 871.6 390 873.6 390.4 870.7 391.3 872.9 391.7 872.6 392.1 873.5 393 872.3 393.4 873 394.2 872.4 394.6 874.2 395.5 870.5 395.9 873.3 396.8 871.6 398 873.3 399.3 871.3 399.7 872.4 400.1 871.6 401 872.7 401.4 871.8 401.8 872.1 402.7 871.1 403.1 872.1 403.9 871.6 404.3 873 405.2 871.7 406 874.3 406.9 872 408.1 872.6 408.6 873.6 409 872.6 409.4 873.3 409.8 871.7 410.2 872.6 410.7 871.9 412.3 873.2 412.8 872 413.2 872 413.6 873.6 415.3 871.7 415.7 872.5 416.1 871.3 416.6 873.3 417 872.1 417.8 873.5 418.2 875.6 418.7 873 419.9 871.5 421.2 873.6 422 872.4 422.5 874.3 423.7 871.3 424.1 872.6 424.6 871.9 425.4 873.8 426.3 872.2 426.7 873.2 427.5 872.5 427.9 870.7 428.8 874.5 429.6 872 430 872.8 431.3 871.6 431.7 874.9 432.2 873.7 432.6 875 433 871.3 433.8 873.1 434.7 871.9 435.5 874.2 436.4 871.6 436.8 873.1 437.2 872.5 437.6 873.7 438.1 871.1 438.5 873.8 439.3 872.6 440.2 872.3 440.6 873.9 441 872.3 441.4 873.4 442.3 872.4 443.1 875.5 443.5 871.3 444.4 873.5 444.8 871.3 445.2 871.3 445.6 872.5 446.1 871.2 446.9 873.2 447.3 873.1 447.7 871.7 448.6 873.5 449.4 872.2 449.9 872.9 450.7 871.4 451.1 872.6 451.5 871.4 452 872.5 452.4 871.9 452.8 872.8 453.2 872.7 453.6 874 454.1 872.4 454.5 876.5 454.9 873.5 455.8 873.5 456.2 871.6 456.6 873.9 457.9 871.9 459.1 872.3 459.5 871 460 874.1 460.4 874.3 460.8 872.7 461.7 871.9 462.1 872.7 462.5 871.7 462.9 874.7 463.8 872.2 464.2 873.1 464.6 872.1 465 873.1 465.4 873.2 465.9 871.9 466.3 872 466.7 872.9 467.1 871.3 467.6 873.1 468 872.4 468.4 875.2" stroke="#222" stroke-width="1.8" fill="none" stroke-linejoin="round" stroke-linecap="round"/><path d="M89.5 872.7 163.7 872.6 181.8 871.6 188.5 870.3 194.4 868.4 200.8 865.5 216.8 856.5 221.4 854.9 226.1 854.3 230.7 854.8 235.7 856.6 252.2 865.8 259.4 869 266.9 871 275.8 872.2 296.9 872.7 468.4 872.7" stroke="#3cb46e" stroke-width="2.6" fill="none" stroke-linejoin="round" stroke-linecap="round"/><path d="M89.5 872.7 258.5 872.5 261.9 871.7 264.4 869.7 266.5 866.7 271.2 857.8 272.4 856.2 273.7 855.5 274.9 855.9 276.2 857.3 281.3 866.8 283.4 869.8 285.9 871.7 289.3 872.5 468.4 872.7" stroke="#ff8000" stroke-width="2.6" fill="none" stroke-linejoin="round" stroke-linecap="round"/><path d="M89.5 872.6 226.5 872.1 250.1 871.2 257.2 870.4 261.9 869.3 265.3 867.8 268.2 865.4 270.7 861.8 272.8 857.5 276.6 846 283.8 817.1 285.5 812.6 287.2 810.7 288 811.3 289.3 815.5 294.3 847.8 296.9 859.3 298.5 864 300.2 866.9 302.3 868.9 304.9 870 315 871.6 334.8 872.3 468.4 872.7" stroke="#1a6fe8" stroke-width="2.6" fill="none" stroke-linejoin="round" stroke-linecap="round"/><path d="M89.5 872.7 207.5 872.7 215.5 872.3 221 871.2 223.9 869.9 226.5 868.2 229 865.6 231.5 862 236.2 852.7 247.1 824.7 250.1 820.1 251.8 818.9 253 818.6 254.3 819 256 820.4 258.9 825.1 269.5 852.2 274.5 862.3 277.1 865.8 280 868.7 283 870.5 286.3 871.7 291.8 872.4 300.7 872.7 468.4 872.7" stroke="#f03c3c" stroke-width="2.6" fill="none" stroke-linejoin="round" stroke-linecap="round"/><path d="M89.5 872.6 169.6 872.4 181.8 871.4 191.1 869.4 197 867.1 203.7 863.5 222.7 852 228.2 847.6 231.1 844.2 234.1 839.8 245.4 816.3 248 812.5 250.1 810.5 252.6 810.2 255.1 812 257.7 815.9 264 828.6 265.7 830.6 267.4 831.3 269.5 830.3 273.7 825.7 278.7 821.5 280.8 818.4 284.6 811.2 286.7 809.2 288 810.2 289.3 814.8 294.3 847.7 296.9 859.3 299.8 866.3 301.9 868.5 304.4 869.9 314.1 871.5 334 872.3 468.4 872.7" stroke="#c99a06" stroke-width="3.0" fill="none" stroke-linejoin="round" stroke-linecap="round"/><path d="M89.5 942 89.9 943.3 90.3 940.8 90.8 942.1 91.6 942.9 92 940.9 92.5 943 92.9 941.2 93.3 942.4 95 941.1 95.4 942.9 95.8 940.8 96.2 941.1 97.1 940.3 97.5 943.3 97.9 940 98.4 943.5 99.6 940.8 100.5 941.5 100.9 941.3 101.3 942.9 102.1 939.4 102.6 944.3 103 942.1 103.4 941.9 103.8 942.7 104.7 941.7 105.5 941.9 105.9 942.9 106.4 941.3 107.2 943 107.6 939.7 108 942.4 108.5 942.3 108.9 943.8 109.3 941.4 109.7 942.9 110.6 941.1 111.4 942.6 111.8 941.3 113.1 942.8 113.5 941.4 113.9 943.4 114.4 941.4 115.2 943.1 115.6 942.9 116.1 939.3 116.5 943.9 116.9 941.7 117.3 942.2 118.6 940.9 119.8 943.2 120.7 941.3 121.5 940.7 122.4 943 123.6 940.9 124.5 941.1 124.9 943.1 125.7 941.3 126.2 941.5 126.6 941 127 943.1 127.4 941.2 127.9 944.6 128.3 942.3 128.7 941.8 129.1 942.2 129.5 941 130 942.1 130.8 941.1 131.2 942.7 131.6 940.3 132.1 942.5 132.5 941.2 133.3 942.3 134.2 941.5 134.6 942.3 135 939.6 135.4 942.8 136.3 940.7 136.7 941.3 137.1 940.7 137.5 943.4 138.8 940.6 139.2 942.6 140.1 939.9 140.5 941.4 141.3 941.9 141.8 940.6 142.2 943.7 143.4 941.7 143.9 941.8 144.3 944 144.7 941.7 145.1 942.7 145.6 939 146 942.1 146.4 940.8 146.8 942.4 147.2 942.1 147.7 942.7 148.5 940.5 148.9 943.1 149.3 941.3 150.2 940.4 150.6 942.3 151 940.2 151.5 942.9 151.9 941.5 152.3 942.1 152.7 941.9 153.1 940.6 153.6 941.1 154 938.7 154.8 942.4 155.2 940.5 156.1 942.1 156.5 940.3 156.9 940.2 157.4 943.1 158.2 940.4 158.6 942.4 159 939.9 159.5 941.8 159.9 941.2 160.3 941.4 160.7 942.7 161.1 941.8 161.6 942.3 162 942 162.4 940.5 163.3 941.9 164.1 940.1 164.5 941.6 164.9 942 165.4 940.9 166.2 942.9 166.6 939.7 167.1 942.7 167.9 941.2 168.3 941.9 168.7 939.7 169.2 939.7 170 943.1 170.4 941.2 170.8 943.4 171.3 941 171.7 940.7 172.1 941.3 172.5 940.3 173.4 942.5 174.2 940.5 174.6 943.8 175.1 941.4 175.5 943 175.9 939.3 176.7 944 177.2 940.8 177.6 940.8 178 942.5 178.4 941.9 178.9 943.2 179.7 940.9 181 942.3 181.8 939.8 182.2 940.1 182.6 942.9 183.1 941.3 183.5 942.3 184.3 941 184.8 938.6 185.2 941 186 941.8 186.4 940.6 186.9 942.9 187.3 940.5 187.7 940.2 188.1 942.1 189 938.7 189.4 941.8 189.8 940.1 190.7 941.6 191.1 940 191.9 942.1 192.3 942.3 192.8 940.4 193.2 942.1 193.6 941.8 194 940.7 194.4 940.9 195.3 938.2 195.7 941.5 196.1 938.5 196.6 941.4 197.8 937.2 198.2 941.3 198.7 937.7 199.1 939.5 199.9 938.6 200.8 936.4 201.2 938.3 202.5 940.7 203.3 937 203.7 939.7 204.6 938.2 205.8 938.2 206.2 937.6 206.7 935.2 207.9 936.9 208.8 935.4 209.6 936.5 210 934.8 210.5 935.6 211.7 934.2 212.1 935 212.6 932 213.4 933.3 214.3 931.2 215.1 934.8 216.8 929.5 217.6 930.7 218 929.2 218.5 930.5 218.9 928.5 219.3 930.8 219.7 927.3 220.2 928.7 220.6 927.4 221.4 929.1 221.8 927.5 223.5 925.5 224.4 927 224.8 925.3 225.2 925.9 225.6 924.3 226.5 923.3 226.9 923.5 227.3 921.9 228.6 920.8 229.4 919.3 230.3 921.5 231.1 916.5 231.5 919.8 232.8 914.2 233.6 914.7 234.1 913.7 234.5 914.7 234.9 910.2 235.7 911.7 236.6 908.6 237 909 237.4 908.3 237.9 905.7 238.3 905.8 239.1 902.9 239.5 903.8 240 900.4 240.4 900.1 240.8 901.2 241.2 900.5 241.7 898 243.8 893.8 245 888.9 245.4 890.8 245.9 889.2 247.1 887.4 247.6 885 248 884.8 248.4 885.8 248.8 883.4 249.2 885 250.1 883.1 250.9 884 251.8 882.3 252.2 883.2 252.6 881.4 253.5 884.1 253.9 883.1 254.3 884.6 254.7 884.2 255.6 885.2 256 884.7 257.7 890.8 258.5 890.8 258.9 894.4 259.4 892.4 260.2 893.3 261.9 898.2 262.3 898 262.7 900.3 263.1 898.5 263.6 901.6 264 899.4 264.4 901.9 265.3 903 266.1 902.2 266.9 904.2 267.4 902.5 267.8 903.9 268.6 901.1 269 902.7 269.5 898.9 270.3 903.2 270.7 900.3 271.6 902.9 272.4 901.4 272.8 901.5 273.7 904.9 274.5 903.8 274.9 904.8 275.8 905.1 276.2 904.2 277.5 908.2 277.9 906.1 278.3 907.5 279.2 904.9 279.6 905 280 903.9 280.4 905.3 281.3 901 282.1 898.5 282.5 898.5 283 895.9 283.4 896 284.6 890.4 285.1 890 285.5 891 287.2 885.8 287.6 886.1 288 888.5 288.4 887.2 289.7 891.1 290.1 891.1 291.8 904.3 292.2 903.1 293.1 906 293.9 913.8 295.6 922.4 297.3 927.5 297.7 925.8 298.5 929.5 299.4 931.2 300.2 931.3 301.1 935.3 301.5 935.7 301.9 934 302.8 934.6 303.2 938 304 933 304.4 936 304.9 936.4 305.3 935.2 306.1 937.6 306.6 935.4 307 937.7 307.4 936.1 307.8 937.4 308.2 937.3 308.7 938 309.1 936.6 310.8 937.9 311.2 936.3 312 936.5 312.5 938.7 312.9 937.1 313.3 939.3 313.7 936.1 314.1 935.9 316.2 938.7 316.7 937 317.1 936.9 317.9 939.5 318.8 938.6 319.6 940.1 320.9 936.5 321.3 939.9 321.7 938.3 322.2 938.9 322.6 938.2 323 938.5 323.4 937.5 324.3 939.4 325.5 938 327.6 939.3 328.9 937.6 329.3 939.8 330.2 939.3 330.6 937.5 331 940.2 331.4 939.3 331.8 941.8 332.3 939.1 332.7 940.5 333.5 938.7 334.4 942 334.8 939.3 335.2 940.4 336.1 938.3 336.5 940.9 336.9 941.3 337.3 940.9 337.7 941.8 338.6 939 339.4 941.7 339.9 939.8 340.3 939.7 340.7 942.4 341.1 940.2 341.5 940.9 342 940 342.4 941.2 342.8 940.9 343.2 941.6 343.6 938.3 344.1 940 344.9 939.8 345.3 940.5 345.8 939.3 346.2 940.1 346.6 938 347 939.8 347.4 939.1 347.9 942.1 348.7 941.3 349.1 942.3 349.5 941.4 350.4 942.1 350.8 940.1 351.2 941.6 351.7 940.9 352.1 942.6 352.5 941.3 353.3 941.9 353.8 940.1 354.6 942.2 355 942.1 355.4 940.4 355.9 942 356.7 939.8 357.6 941.3 358.4 941.1 358.8 941.5 359.7 940.1 360.9 941.6 361.3 940.5 361.8 941.9 362.2 940.9 362.6 942.6 363.5 941.2 363.9 942.1 364.3 941.2 365.1 942 365.6 940.9 366.4 942 367.2 940.7 367.7 942.6 368.1 942.9 368.5 940.7 368.9 942.6 369.4 942.3 369.8 943.9 370.6 941.5 371 943.2 371.5 941.4 371.9 943.1 373.1 940.2 373.6 941.9 374 940.5 374.4 942.5 374.8 940.9 375.3 943.4 375.7 941.4 376.5 942.9 378.2 941.2 378.6 942.6 379.5 941.9 379.9 942.4 380.3 941.9 380.7 943.1 381.2 941.1 381.6 942.9 382 941 382.4 941 382.8 942.6 383.7 940.5 384.1 942.1 384.5 941.5 384.9 942.8 385.4 940.8 385.8 941.7 386.2 940.3 387.5 942.7 388.3 940.7 388.7 942.2 389.2 940.9 390.4 942.6 391.3 940.9 391.7 942.8 392.5 942 393.4 942.8 394.2 940.8 395.1 943 395.5 941.9 395.9 942.2 396.3 941.7 396.8 943 397.2 941.2 397.6 942.5 398 940.9 398.9 942.5 400.5 941 401 943.3 401.8 942.2 402.2 944.1 403.1 941.5 403.5 942.6 403.9 942 404.3 942.5 404.8 942 405.2 943 405.6 940.9 406.4 941.7 406.9 940.1 408.1 943.9 409.4 940.3 409.8 942.4 410.2 941 410.7 942.6 411.1 942.1 412.3 942.3 412.8 941.6 413.2 943 413.6 940.3 414.5 943.7 414.9 943.3 415.3 939.7 415.7 942.9 416.1 941.3 416.6 942.9 417 938.8 417.4 943.4 417.8 940.2 419.9 944 420.8 939.9 421.2 942.1 422 940.9 422.5 943.3 422.9 942.3 423.3 943.4 423.7 941.2 424.1 942.9 424.6 940.4 425.4 942.7 425.8 941.4 426.7 942.4 427.5 941.7 427.9 943.7 428.4 940.6 428.8 942.5 429.2 942.6 429.6 941.2 430 942.8 430.5 940.2 431.3 941.8 432.2 940.2 433 943.6 434.3 940.9 435.1 941.7 435.5 939.6 435.9 941.8 436.4 940.8 436.8 942.6 438.1 940.3 438.5 943.6 438.9 939.9 439.3 942.3 439.7 940.1 440.6 942.4 441.4 938.7 441.8 940.8 442.7 942 443.5 939 444.4 938 445.6 940.7 446.1 938.1 446.9 940.7 448.2 937.9 448.6 939.1 449 937.5 449.9 938.6 450.3 941.2 450.7 941.1 451.1 938.8 452 937.2 452.4 940.7 452.8 938.4 453.6 938.2 454.5 939.6 455.8 938.7 456.2 940.8 456.6 940.6 457 941.1 457.4 940.3 457.9 943.1 458.3 939.2 459.1 941.9 459.5 941.2 460.4 941.8 461.2 938.7 461.7 938.5 462.1 943.6 462.5 941.4 462.9 941.3 463.3 942.9 463.8 942 464.6 941.9 465 943.5 465.9 941 467.1 941.2 467.6 943 468 941.3 468.4 942.3" stroke="#222" stroke-width="1.8" fill="none" stroke-linejoin="round" stroke-linecap="round"/><path d="M89.5 941.9 174.2 941.9 192.3 941 199.1 939.7 205 937.8 211.3 934.7 226.9 925.6 231.5 923.9 235.7 923.4 240.4 924 245 925.7 260.6 934.9 267.8 938.2 274.9 940.2 283.4 941.4 303.6 941.9 468.4 941.9" stroke="#3cb46e" stroke-width="2.6" fill="none" stroke-linejoin="round" stroke-linecap="round"/><path d="M89.5 941.9 256.4 941.7 259.8 940.9 262.3 938.8 264.8 934.8 269.5 925 270.7 923.4 272 922.9 273.3 923.5 274.5 925.2 279.2 935.1 281.3 938.5 283.8 940.7 287.6 941.7 468.4 941.9" stroke="#ff8000" stroke-width="2.6" fill="none" stroke-linejoin="round" stroke-linecap="round"/><path d="M89.5 941.9 229 941.4 252.2 940.7 264 939.2 267.4 937.9 269.9 936.1 272.4 933.1 274.5 929.2 278.3 918.3 285.1 892.4 286.7 888.8 288 887.9 288.9 888.8 290.1 892.7 295.2 919.5 298.1 930.6 299.8 934.4 301.5 936.7 303.6 938.4 306.1 939.5 316.2 940.9 336.1 941.5 468.4 941.9" stroke="#1a6fe8" stroke-width="2.6" fill="none" stroke-linejoin="round" stroke-linecap="round"/><path d="M89.5 941.9 211.3 941.9 218.9 941.6 223.9 940.8 226.9 939.7 229.4 938.1 234.1 932.8 238.3 924.8 247.6 902.4 250.5 897.8 253 896.4 255.6 897.5 258.5 901.6 268.2 924.8 272.8 933.4 275.4 936.6 277.9 938.7 280.4 940.1 283.8 941.1 296.9 941.9 468.4 941.9" stroke="#f03c3c" stroke-width="2.6" fill="none" stroke-linejoin="round" stroke-linecap="round"/><path d="M89.5 941.9 181.4 941.6 193.6 940.6 203.3 938.2 209.6 935.4 216.8 931 223.9 925.6 229 920.7 232.4 916.4 235.7 910.8 246.7 887.8 249.2 884.5 251.8 883.2 253.5 883.7 255.6 885.9 261.9 897.9 264.4 901.4 266.5 902.4 271.6 902.4 277.1 906 278.7 905.4 280.4 903 286.3 888.4 287.6 887.3 288.4 887.6 290.1 892.3 295.2 919.4 298.1 930.5 299.8 934.3 301.5 936.7 303.6 938.4 306.6 939.6 317.1 940.9 336.9 941.5 468.4 941.9" stroke="#b070e8" stroke-width="3.0" fill="none" stroke-linejoin="round" stroke-linecap="round"/><path d="M89.5 1010 90.3 1011.4 90.8 1009.7 91.2 1010 91.6 1011.7 92 1011 92.9 1012 93.3 1008.9 93.7 1011 94.1 1010 95 1010.6 95.4 1011.7 95.8 1011.7 96.7 1009.5 97.1 1012.5 98.4 1009.6 98.8 1010.1 99.2 1009.8 100 1011.6 100.9 1009.4 101.7 1011.9 102.1 1009.2 102.6 1010.2 103.4 1008.7 104.7 1013.2 105.1 1010.5 105.5 1010 106.4 1010.6 106.8 1009.7 108 1010.7 108.5 1010.7 108.9 1009.6 109.3 1010.7 110.2 1011.2 111.4 1010.1 112.7 1012.3 113.1 1010 113.5 1011.6 114.4 1009.5 115.2 1011.5 115.6 1009.9 116.5 1011.1 116.9 1009.4 117.3 1010 117.7 1007.5 118.2 1011.7 119.4 1009.3 119.8 1010.9 120.3 1009.1 121.1 1011.4 122 1010.7 122.8 1011.2 124.5 1008.7 124.9 1011.4 125.3 1011.7 125.7 1008.5 127 1011.5 127.4 1010.2 128.3 1010.6 128.7 1009.4 129.1 1011.4 129.5 1010.4 130 1012.4 130.4 1010.2 130.8 1011.7 131.2 1008.8 131.6 1012 132.1 1009 132.9 1012.2 133.3 1010.4 133.8 1010.4 135 1013 135.9 1010.3 136.3 1012.7 137.1 1009 137.5 1012.4 138 1010.1 138.4 1010.1 138.8 1011.2 139.2 1010.3 139.7 1011.7 140.5 1009 141.8 1012.6 142.2 1008.8 142.6 1008.8 143 1011.1 143.4 1010.5 143.9 1010.7 144.3 1009.3 144.7 1012.2 145.1 1009.9 145.6 1012.9 146 1010 146.4 1011.4 146.8 1009.3 147.7 1011.2 148.5 1011.8 148.9 1008.9 150.2 1012 150.6 1010.1 151.5 1011.1 152.3 1009.9 152.7 1010.6 153.1 1010 153.6 1010.6 154 1010.3 154.4 1011.2 154.8 1009.8 155.7 1010.9 156.1 1010.4 156.9 1010.8 157.8 1009.7 158.2 1012.2 159 1010.5 159.5 1011.7 159.9 1010.2 161.1 1012.4 162.4 1008.8 163.3 1012.7 163.7 1009.4 164.1 1010.4 164.5 1009.4 164.9 1011.2 165.4 1009.7 166.2 1011.8 167.1 1010.5 167.5 1011.5 167.9 1009.4 168.3 1011 168.7 1009.7 169.2 1010.8 169.6 1009.9 170 1010 170.4 1012.5 171.3 1009.8 171.7 1010.9 172.1 1009 172.5 1009.2 173 1011.3 173.8 1010 174.2 1011.2 174.6 1008.8 175.9 1011.3 176.7 1011.2 177.2 1009.7 177.6 1011.3 178.4 1008.1 178.9 1011.8 179.7 1009.3 180.5 1011.2 181.8 1009.6 182.2 1011.2 183.5 1009.9 184.3 1011.7 184.8 1011.5 185.2 1008.9 185.6 1010.6 186.9 1009.6 187.3 1008.6 187.7 1009.9 188.1 1009.1 189 1009.5 189.4 1010.8 190.2 1008.7 190.7 1009.9 191.5 1009.7 191.9 1010.6 192.8 1009 193.6 1010.3 194 1008.2 194.4 1008.1 195.3 1009.7 195.7 1007.6 196.6 1010 197 1009.2 197.8 1010.1 198.2 1006.6 198.7 1006.4 199.1 1009.8 199.5 1007 199.9 1007.6 201.2 1006.1 202 1007.2 202.9 1004.5 203.3 1007.4 204.1 1006 204.6 1006.4 205.4 1004.3 207.1 1005.1 207.5 1003.4 208.4 1004.8 209.6 1001.5 210.5 1003 210.9 1000.2 211.3 1002.1 211.7 1000.5 212.1 1001.1 212.6 1000.7 213 1002.2 213.4 1000.5 214.3 1001.4 214.7 999.7 215.1 1000 215.9 998.3 216.4 1001.3 216.8 998.5 217.2 1000.1 217.6 1000 218 998.1 218.9 999.8 220.2 995.5 220.6 995.4 221.4 997.4 223.1 993.7 223.5 994.2 223.9 993.6 224.4 994.2 225.6 991.7 226.1 993.4 227.3 990.4 227.7 990.6 228.2 987.7 229 989.9 230.3 987.8 231.1 985 231.5 984.5 232 984.7 232.4 985.7 232.8 983.5 233.2 984 234.5 981.1 234.9 978.2 235.3 979.4 235.7 978.9 236.6 975.9 237 977.5 238.3 973.4 238.7 973.8 240.4 967 240.8 967.7 241.2 966.2 241.7 966.1 242.1 963.4 243.3 959.9 243.8 960.3 244.2 957.1 245 957.8 245.9 955.2 246.3 955.5 247.1 951.2 247.6 951.6 248.4 948.4 249.2 950.5 249.7 948.4 250.1 949.6 250.5 947.4 250.9 947.6 251.3 946.9 252.2 949.7 253 947.3 254.7 949.5 255.1 949 255.6 951.4 256.4 950.6 257.2 953.1 258.5 954.4 258.9 957.6 259.4 954.9 260.6 961.1 261 961.7 261.5 961.2 261.9 962.6 262.3 965.8 263.1 966 263.6 967.6 264 965.6 265.3 970.9 265.7 969.8 266.9 972.2 267.4 970.6 267.8 971.4 268.2 970.4 269 972.2 269.5 971.7 269.9 972.6 270.3 971.9 270.7 973.2 271.2 971.7 271.6 974.7 272 972.6 272.4 973.3 272.8 972.9 273.3 975 274.1 974.4 276.6 979 277.9 976.3 278.3 978.4 278.7 975.8 279.2 975.9 279.6 978.7 280.4 973.7 280.8 974.1 281.7 971.1 282.1 971.6 283.4 966 283.8 968.3 284.2 965.1 286.7 958.2 287.2 959.4 287.6 957.4 288.4 959.4 288.9 958.3 289.7 960.2 290.1 962.7 290.5 963.1 291 962.8 293.1 976.7 295.6 986 296.9 994.7 298.1 996.4 298.5 999.8 299.8 1002 300.2 1004.2 300.7 1002.8 301.1 1004.4 302.8 1006.7 303.6 1005.6 304 1007.1 304.4 1006.9 304.9 1007.5 305.7 1009.8 306.1 1007.6 306.6 1009 307 1008.6 307.8 1009.9 308.7 1006.1 309.5 1010.2 310.3 1008.7 310.8 1010.3 312 1007.5 312.5 1010.9 312.9 1009.3 313.7 1011.7 314.1 1008.9 314.6 1011.5 315.4 1008.9 316.2 1010 316.7 1008.7 317.5 1010.4 317.9 1008.5 319.2 1011 320 1008.8 320.5 1010.5 321.3 1008.5 321.7 1008.6 322.2 1011.4 322.6 1008.8 323 1012.6 323.4 1009.5 323.8 1011.4 325.5 1010.2 325.9 1010.6 326.4 1008.4 327.2 1011.2 327.6 1010 328.1 1010.9 328.5 1010.2 328.9 1010.7 330.6 1008.9 332.3 1011.4 332.7 1008.9 333.1 1010.8 334.8 1008.8 335.6 1011.6 336.1 1009.8 336.9 1011 337.3 1009.4 337.7 1010.6 338.6 1009.6 339.9 1010.2 340.3 1011 341.5 1010.4 342 1009.5 342.4 1011.8 342.8 1010.4 343.2 1012.9 343.6 1009.3 344.5 1011.1 345.3 1010.6 345.8 1011.4 346.6 1009.7 347 1011.6 347.4 1010.5 347.9 1011.4 348.3 1009.1 348.7 1012.1 349.5 1010.3 350.4 1011.2 350.8 1010.1 351.2 1011 351.7 1009.9 352.1 1011.9 353.3 1009.1 353.8 1009 354.2 1011.5 354.6 1007.7 355 1010.4 355.4 1008.2 356.3 1011.7 356.7 1010 357.1 1010.7 357.6 1010.1 358 1011.1 358.4 1010.3 358.8 1010.3 359.2 1011.4 359.7 1010.1 360.1 1011.2 360.9 1011.7 361.3 1010.1 362.2 1012.3 363 1010.3 363.9 1010.5 364.3 1011.2 365.6 1009.7 366 1010.7 366.4 1009 366.8 1010.8 367.7 1008.9 368.1 1011.9 368.9 1009.2 369.4 1010.8 369.8 1011 370.2 1008.8 371.5 1011 371.9 1009.8 372.3 1011.1 372.7 1008.9 373.1 1011.6 374 1012.1 374.8 1009.4 375.3 1010.7 375.7 1009.5 376.1 1010.2 376.9 1010.2 377.8 1011.1 378.2 1009.9 379 1009.5 379.5 1010.4 379.9 1009.8 380.3 1011 380.7 1009.9 381.6 1012 382 1009.7 382.4 1010.8 382.8 1010.3 383.7 1010.4 384.1 1012.7 384.9 1010.6 385.4 1011.3 385.8 1010.6 386.2 1011.3 387.1 1010.3 387.9 1012.5 388.3 1010.2 389.6 1010.8 390 1011.7 390.4 1010.3 391.3 1010 392.1 1012.4 393.4 1008.9 393.8 1011 394.2 1010 394.6 1010.7 395.5 1010.4 395.9 1011.6 396.8 1009.2 397.2 1011.9 398 1010.4 398.9 1010.2 399.3 1011.6 399.7 1008.6 400.1 1009.8 401 1009.4 401.4 1011.1 401.8 1009.9 402.2 1011.1 403.5 1009.5 404.3 1011.1 404.8 1010.8 405.2 1009.1 406 1012.8 406.4 1009.5 407.7 1012 408.6 1010 409.4 1012.5 410.2 1008.7 410.7 1011.4 411.1 1010.5 412.3 1011.4 413.2 1009.7 414 1012.9 416.1 1009.1 416.6 1009.5 417 1012.6 417.8 1009.8 418.2 1010 418.7 1011.5 419.1 1010 419.5 1010 420.4 1011.5 420.8 1009.7 421.2 1011.7 422 1009.3 422.9 1012.4 423.3 1010.8 423.7 1011.8 425.4 1009.5 425.8 1011.7 426.3 1011.8 427.1 1008.9 427.9 1012.1 428.4 1010.9 428.8 1011.2 430.5 1010 430.9 1008.2 431.3 1011.5 431.7 1011.8 432.2 1010.1 432.6 1011.2 433 1009.9 433.4 1011.9 434.3 1011.5 434.7 1011.8 435.5 1009.9 435.9 1011.9 436.8 1009.9 437.2 1011.1 438.5 1010 439.7 1012.5 440.6 1010 441 1010.1 441.4 1012.5 442.3 1010.4 443.1 1012.5 443.5 1011.8 444 1012.4 444.8 1009.2 445.6 1012.5 446.5 1010 446.9 1010.8 447.3 1009.7 447.7 1012.1 448.2 1010.1 448.6 1011.3 449.4 1009.8 449.9 1010.4 450.3 1008.7 451.5 1012.2 452 1010.4 452.4 1012.1 452.8 1010 453.2 1011.3 453.6 1010.1 454.9 1011.6 455.8 1008.8 456.2 1010.5 457 1008.9 457.4 1008.9 458.7 1012.5 459.1 1009.4 459.5 1011.4 460 1009.7 460.4 1009.3 460.8 1009.9 461.2 1008.4 462.1 1011.3 462.9 1011.1 463.3 1012.7 463.8 1009.8 464.2 1010.6 464.6 1010 465 1011.3 465.9 1011.7 466.3 1010.5 466.7 1011.8 467.6 1009.3 468.4 1011.2" stroke="#222" stroke-width="1.8" fill="none" stroke-linejoin="round" stroke-linecap="round"/><path d="M89.5 1010.7 171.7 1010.7 188.5 1010 194.9 1009 200.3 1007.4 206.2 1005 220.2 997.8 224.4 996.4 228.6 995.9 232.8 996.4 237 997.7 251.3 1005 258.1 1007.8 264.8 1009.4 273.3 1010.3 292.2 1010.7 468.4 1010.7" stroke="#3cb46e" stroke-width="2.6" fill="none" stroke-linejoin="round" stroke-linecap="round"/><path d="M89.5 1010.7 258.5 1010.6 261.5 1009.9 264 1008 269.9 997.8 271.2 996.3 272.4 995.9 274.5 997.7 278.7 1005.6 280.8 1008.4 283.4 1010.1 286.3 1010.6 468.4 1010.7" stroke="#ff8000" stroke-width="2.6" fill="none" stroke-linejoin="round" stroke-linecap="round"/><path d="M89.5 1010.7 229.4 1010.3 252.6 1009.5 264.4 1008.1 267.8 1006.8 270.3 1005 272.4 1002.7 274.5 999.1 278.3 988.9 285.1 963.9 286.7 960 287.6 959 288.4 958.7 289.3 959.7 290.5 963.3 295.6 987.9 298.5 998.6 300.2 1002.5 301.9 1005 304 1006.9 307 1008.2 317.1 1009.7 337.3 1010.3 468.4 1010.7" stroke="#1a6fe8" stroke-width="2.6" fill="none" stroke-linejoin="round" stroke-linecap="round"/><path d="M89.5 1010.7 208.4 1010.7 216.8 1010.3 221.8 1009.3 224.8 1007.9 227.7 1005.7 232.4 999.5 237 989.4 247.1 961.4 250.1 956.1 251.8 954.5 253 954.1 254.3 954.3 256 955.7 258.9 960.6 269.5 989.5 274.5 1000.3 277.1 1003.9 279.6 1006.5 282.5 1008.4 285.9 1009.6 291 1010.4 299.8 1010.7 468.4 1010.7" stroke="#ff0000" stroke-width="2.6" fill="none" stroke-linejoin="round" stroke-linecap="round"/><path d="M89.5 1010.7 180.1 1010.4 192.3 1009.3 201.6 1006.8 208.8 1003.4 218.9 997.3 224.8 993.2 229 989.1 232.4 984.6 235.7 978.5 247.1 952.7 249.7 949.2 252.2 947.9 254.3 948.7 256.8 951.9 263.1 965.7 265.7 969.8 267.4 971.1 272 972.8 277.1 977.6 278.7 977.3 280.4 974.9 286.3 959.6 287.6 958.2 288.9 958.5 291 964.7 295.6 987.8 298.5 998.6 300.2 1002.5 301.9 1005 304 1006.9 307 1008.2 317.1 1009.7 337.3 1010.3 468.4 1010.7" stroke="#b070e8" stroke-width="3.0" fill="none" stroke-linejoin="round" stroke-linecap="round"/><path d="M89.5 1078.6 89.9 1080.7 90.3 1080.3 91.6 1081.4 92 1079.4 92.9 1081.6 94.1 1078.1 95.4 1080.4 96.2 1078.5 97.1 1079.8 97.5 1079.4 97.9 1081.3 98.8 1078.6 99.2 1080 100 1078.7 100.5 1080 100.9 1078.3 101.3 1079.6 101.7 1078.9 102.1 1080.3 103 1078.3 103.4 1081.3 103.8 1078.5 104.3 1082 105.1 1079.3 105.5 1080.5 106.4 1078.7 107.2 1081.9 107.6 1079.1 108 1078.9 108.5 1079.8 109.3 1079.9 109.7 1081.6 110.6 1078.2 111.8 1080.4 112.7 1079.3 113.9 1080.5 114.4 1079.4 114.8 1080.7 115.6 1079.1 116.1 1081.8 116.5 1079.5 117.3 1082.5 119.4 1077.7 119.8 1080.4 120.7 1080.1 121.1 1078.4 122.4 1080.8 122.8 1078 123.2 1081.6 123.6 1080.2 124.5 1079.3 124.9 1081.2 125.3 1078.6 126.2 1080.9 127 1080 127.4 1080.5 127.9 1079.1 128.3 1080.9 129.1 1078 129.5 1079.6 130 1078.9 130.4 1079.1 130.8 1081.8 131.2 1078.7 131.6 1080.1 132.5 1078.8 133.3 1079.7 133.8 1081.2 134.2 1079.1 134.6 1079.8 135.4 1078.9 135.9 1081.1 136.7 1078.5 137.5 1081.7 138 1077.8 138.4 1079.3 139.7 1080.5 140.1 1080.6 140.5 1079.8 141.8 1080.8 142.2 1079.8 143 1081.6 143.9 1081.6 144.3 1079.4 144.7 1080.7 145.1 1079.2 145.6 1079.6 146 1078.2 146.4 1079.2 146.8 1079.2 147.7 1081.7 148.5 1078.8 148.9 1080.4 150.2 1080.7 150.6 1078.8 151 1080.1 151.5 1079.2 152.3 1080.8 152.7 1078 153.6 1080.7 154 1078.5 155.7 1081.4 156.5 1079.5 156.9 1080.8 157.4 1078.9 157.8 1080.4 158.2 1079.1 158.6 1080.8 159 1079.8 160.3 1079.9 160.7 1080.4 161.6 1078.1 162 1079.7 162.4 1078.5 162.8 1078.5 163.3 1079.3 163.7 1078.7 165.8 1080.7 166.2 1077.9 166.6 1079.9 167.5 1078.9 167.9 1082.7 168.3 1079.5 169.2 1079.8 169.6 1080.4 170 1080.3 170.8 1078.4 173 1080.9 173.4 1079.5 174.2 1081.6 174.6 1079.9 175.9 1080.1 176.3 1081 176.7 1080.3 177.2 1080.4 177.6 1081.4 178.4 1078.9 178.9 1079.9 180.1 1079.4 180.5 1080.8 181 1079.7 181.8 1080.6 182.2 1079.8 182.6 1080.5 183.9 1077.7 184.8 1080.6 185.2 1078.2 185.6 1080.3 186 1078.9 186.9 1079 187.7 1080.4 188.1 1078.3 189 1079.9 189.4 1078.7 189.8 1079.5 190.2 1076.5 191.1 1079.5 191.5 1078.6 192.8 1079.1 193.6 1077.8 194.4 1078.2 195.3 1076.7 195.7 1078.1 196.1 1076.1 196.6 1075.8 197 1078.2 198.7 1075.1 199.5 1077.1 199.9 1075.6 200.3 1075.9 200.8 1074 201.6 1075.9 202 1075.2 202.9 1076.1 203.3 1075.4 204.6 1075.4 205.8 1072.3 206.2 1074.3 207.1 1073.5 207.5 1071.1 207.9 1072.7 208.4 1070.9 208.8 1074.9 209.6 1069.4 210 1071.9 210.5 1070.2 211.3 1072 211.7 1069.9 212.6 1069.7 213 1067.4 213.4 1070.1 214.3 1067.6 214.7 1067.3 215.1 1069 215.5 1067.4 215.9 1067.6 216.4 1068.7 216.8 1066.4 217.2 1067.2 217.6 1067.1 218.5 1065.5 218.9 1067.8 219.3 1065.5 220.2 1066.5 221.4 1064.3 221.8 1065.1 222.3 1063.5 223.1 1064.5 223.9 1062.2 224.4 1063.2 225.2 1059.7 225.6 1063.5 226.1 1060.8 226.5 1061.5 226.9 1061.3 227.3 1058.6 227.7 1059.3 228.2 1059 228.6 1057.6 229.4 1058.6 230.3 1054.8 230.7 1055.5 231.1 1054.2 232 1055.3 233.6 1049 234.5 1049.4 234.9 1047.3 235.3 1049.9 236.2 1046.6 236.6 1047.4 237 1044.1 237.4 1044.3 238.3 1040.4 238.7 1041.2 239.5 1037.5 240 1038.4 240.4 1034.9 241.2 1035.7 242.1 1030.8 242.5 1031.9 242.9 1029 243.3 1029.6 243.8 1028.9 244.6 1024.8 245 1025.9 245.4 1025.8 245.9 1022.8 247.1 1020.1 248 1020.2 248.8 1016.8 249.2 1018.1 250.5 1015.7 250.9 1017.4 251.3 1016.7 251.8 1017 252.2 1014.6 253 1016.8 253.5 1015.4 253.9 1017 254.7 1015.8 255.6 1016.7 256 1019.7 257.2 1020.7 257.7 1023.3 258.5 1022.1 260.2 1028.9 260.6 1027.4 261 1028.8 261.5 1032.3 261.9 1030.9 262.7 1032.3 263.1 1036.1 263.6 1033.9 265.7 1040.6 266.1 1038.1 266.5 1042.2 267.4 1039.3 267.8 1040.1 268.2 1039.5 269 1041.4 269.9 1041.9 270.3 1041.1 270.7 1041.9 271.2 1040.2 271.6 1042.7 272 1041.9 272.4 1041.7 272.8 1042.2 273.3 1041.9 273.7 1045 274.5 1045.5 274.9 1044 275.8 1046.2 276.2 1045.4 276.6 1046.2 277.1 1048.4 278.3 1045.1 278.7 1045.9 279.6 1045.3 280 1045.9 280.4 1045.7 281.3 1040.9 281.7 1041.3 282.1 1040.2 282.5 1041.6 283 1038 283.8 1036.4 284.6 1032.1 285.5 1032.1 287.6 1026.4 288.4 1029.4 289.7 1029 290.1 1029.7 291 1034.4 291.8 1036.2 292.2 1041.3 294.3 1050 295.2 1056.1 295.6 1056.1 296.4 1060 296.9 1064.4 297.3 1064.6 297.7 1062.9 298.5 1069.7 299.4 1069.1 299.8 1072.3 300.7 1072.4 301.1 1073.2 301.9 1072.4 302.8 1075.3 303.2 1073.9 304 1076.7 305.3 1075.5 306.1 1077.4 306.6 1076.9 307 1078.5 307.8 1076.8 308.2 1078 309.1 1077 309.5 1078.7 309.9 1076.4 310.3 1080.2 311.2 1077.3 311.6 1077.4 312.5 1080.2 312.9 1077.9 313.7 1079.5 314.6 1077.9 315.4 1080.3 316.7 1076.3 317.1 1079.4 317.5 1077.5 317.9 1078.6 319.2 1078.2 319.6 1079.5 320.5 1079 320.9 1080.9 321.3 1077.6 322.2 1080.4 322.6 1078.8 323 1080.8 324.3 1078.4 325.9 1079.6 326.4 1078.2 326.8 1079 328.1 1079.7 328.5 1078.5 329.7 1080.9 330.6 1078.6 331.4 1081.8 331.8 1079.2 332.7 1079.4 333.5 1078.3 334 1080.5 334.4 1080.2 334.8 1081 335.2 1079.2 336.1 1080.2 336.5 1079.5 336.9 1081.6 337.3 1079.3 338.6 1078 339.4 1080.4 339.9 1080.2 340.3 1078.3 340.7 1081.7 341.1 1079.1 342 1079.8 342.8 1081.8 343.6 1077.5 344.9 1080.7 345.8 1079.7 347.4 1080.9 347.9 1078.7 348.3 1079 349.5 1078.5 350 1080.4 350.4 1078.7 350.8 1080.5 351.7 1078.5 352.5 1080 352.9 1078.7 353.3 1079 353.8 1081 354.2 1079.9 354.6 1081.7 355.4 1080.1 355.9 1080.7 356.3 1078.8 356.7 1078.7 357.1 1080.4 358 1078.3 358.4 1078.4 358.8 1079.9 359.2 1079.1 359.7 1079.5 360.1 1077.8 360.9 1079.8 361.3 1079.4 362.2 1079.7 363 1080.9 363.9 1079.3 364.3 1081.2 365.1 1080.2 365.6 1081.2 366 1078.7 366.8 1079.1 367.7 1080.9 368.5 1079.5 368.9 1080.7 369.4 1079.1 369.8 1079.6 370.2 1079 370.6 1080 371 1079.1 371.9 1078.6 372.7 1081.4 373.6 1078.6 374 1080.1 374.4 1078.8 374.8 1079.6 375.7 1078.7 376.1 1080.6 376.9 1079.2 377.4 1079.3 377.8 1081.1 378.2 1078.9 378.6 1081.6 379 1080 379.5 1080 379.9 1078.9 380.7 1079.6 381.2 1078.6 382 1081.1 382.8 1078.9 383.7 1079.4 384.1 1078.9 384.9 1081.2 385.8 1077.8 386.6 1080.7 387.1 1080.6 387.5 1081.2 387.9 1079.3 388.7 1080.8 389.2 1079.4 389.6 1080.5 390.4 1079 390.8 1081.3 391.3 1077.3 391.7 1081.4 392.5 1079 393 1080.8 393.4 1080.7 393.8 1078.9 394.6 1080.6 395.1 1080.5 395.9 1077.9 396.3 1078.4 396.8 1081.6 397.2 1080.4 397.6 1082 399.3 1078.3 399.7 1081 400.5 1080.1 401 1078.5 401.4 1081.3 402.7 1077.8 403.1 1080.8 403.5 1079.1 403.9 1080.7 404.3 1078.9 404.8 1080.6 405.2 1080 405.6 1080.4 406 1079.2 406.4 1080.1 406.9 1078.5 407.7 1080.9 408.1 1079.2 408.6 1081.4 409.4 1080.1 409.8 1081.9 410.2 1079.5 410.7 1080.9 411.1 1080.1 411.5 1081.2 411.9 1078.6 412.3 1080.8 412.8 1081.1 413.2 1079 414 1081.5 414.9 1078.9 415.3 1080.2 415.7 1080.7 416.1 1080.3 417 1081.3 417.4 1078.5 417.8 1080.2 418.2 1079 418.7 1079.2 419.1 1081 419.5 1079.9 420.4 1080.4 420.8 1079.8 421.6 1082 422 1079.2 423.3 1081.2 424.1 1078.8 424.6 1081.1 425 1079 425.4 1079.3 425.8 1077.6 427.1 1081.9 427.5 1079.6 428.8 1078.6 429.2 1079.9 429.6 1079.4 430 1081.2 430.5 1081.1 430.9 1079.4 431.3 1079.8 432.2 1079.4 433 1082.1 433.4 1079 433.8 1081.1 434.7 1079.1 435.1 1080.9 435.5 1080.8 435.9 1079.9 436.4 1080.2 436.8 1077.8 437.6 1081.1 438.1 1078.6 438.5 1080 438.9 1079.4 439.3 1080.3 440.2 1077 441 1082.4 441.4 1079.6 441.8 1080.6 442.3 1079.4 443.1 1080.2 444 1077.7 444.8 1081.3 445.2 1079.5 446.5 1080.9 446.9 1078.6 448.2 1081.7 448.6 1079.6 449 1080.4 449.4 1080 449.9 1080.2 450.3 1081.2 450.7 1079.3 451.1 1080.2 451.5 1080.2 452 1079 452.4 1079.1 452.8 1081.2 453.6 1077.8 454.1 1080.8 454.9 1078 455.3 1081.9 456.2 1080.1 456.6 1079.8 457 1080.4 457.4 1079 457.9 1080.4 458.3 1078.8 458.7 1082.1 459.1 1079.8 459.5 1079.9 460 1078.8 460.4 1080.5 460.8 1078.9 461.7 1079.2 462.1 1080.7 462.5 1078.3 462.9 1081 463.3 1076 463.8 1081.4 464.2 1081.4 465 1078.8 466.7 1080.9 467.1 1078.9 467.6 1078.8 468.4 1080.1" stroke="#222" stroke-width="1.8" fill="none" stroke-linejoin="round" stroke-linecap="round"/><path d="M89.5 1080 170 1080 187.3 1079.2 193.6 1078.2 199.5 1076.5 205.8 1073.9 220.6 1066.3 224.8 1064.9 229 1064.4 233.2 1064.8 237.9 1066.3 253 1074.1 259.8 1076.9 266.9 1078.6 275.4 1079.6 295.2 1080 468.4 1080" stroke="#3cb46e" stroke-width="2.6" fill="none" stroke-linejoin="round" stroke-linecap="round"/><path d="M89.5 1080 258.5 1079.9 261.5 1079.2 264 1077.3 269.9 1067 271.2 1065.5 272.4 1065.1 274.5 1067 278.7 1074.9 280.8 1077.7 283.4 1079.3 286.3 1079.9 468.4 1080" stroke="#ff8000" stroke-width="2.6" fill="none" stroke-linejoin="round" stroke-linecap="round"/><path d="M89.5 1080 229.4 1079.6 252.6 1078.8 264.4 1077.4 267.8 1076.1 270.3 1074.3 272.4 1072 274.5 1068.4 278.3 1058.2 285.1 1033.2 286.7 1029.3 287.6 1028.3 288.4 1028 289.3 1029 290.5 1032.6 295.6 1057.2 298.5 1067.9 300.2 1071.8 301.9 1074.3 304 1076.2 307 1077.5 317.1 1079 337.3 1079.6 468.4 1080" stroke="#1a6fe8" stroke-width="2.6" fill="none" stroke-linejoin="round" stroke-linecap="round"/><path d="M89.5 1080 208.4 1080 216.8 1079.6 221.8 1078.6 224.8 1077.2 227.7 1075 232.4 1068.8 237 1058.7 247.1 1030.7 250.1 1025.4 251.8 1023.8 253 1023.4 254.3 1023.6 256 1025 258.9 1029.9 269.5 1058.8 274.5 1069.6 277.1 1073.2 279.6 1075.8 282.5 1077.7 285.9 1078.9 291 1079.7 299.8 1080 468.4 1080" stroke="#ff0000" stroke-width="2.6" fill="none" stroke-linejoin="round" stroke-linecap="round"/><path d="M89.5 1080 178.9 1079.7 191.5 1078.5 201.2 1075.7 208.8 1072.1 219.3 1065.7 224.8 1061.7 229 1057.6 232.4 1053 235.7 1046.8 246.7 1021.6 249.7 1017.4 252.2 1016.2 254.3 1017.1 256.8 1020.3 263.1 1034.4 265.7 1038.6 267.4 1040 272 1041.7 277.1 1046.8 278.7 1046.4 280.4 1044.1 286.3 1028.9 287.6 1027.5 288.9 1027.8 291 1034 295.6 1057.1 298.5 1067.9 300.2 1071.8 301.9 1074.3 304 1076.2 307 1077.5 317.1 1079 337.3 1079.6 468.4 1080" stroke="#b070e8" stroke-width="3.0" fill="none" stroke-linejoin="round" stroke-linecap="round"/></g><rect x="89.5" y="804.5" width="378.9" height="282.8" stroke="#000" stroke-width="2.6" fill="none"/><line x1="126.7" y1="1087.3" x2="126.7" y2="1094.8" stroke="#000" stroke-width="2.2" stroke-linecap="butt"/><line x1="200.9" y1="1087.3" x2="200.9" y2="1094.8" stroke="#000" stroke-width="2.2" stroke-linecap="butt"/><line x1="275.2" y1="1087.3" x2="275.2" y2="1094.8" stroke="#000" stroke-width="2.2" stroke-linecap="butt"/><line x1="349.4" y1="1087.3" x2="349.4" y2="1094.8" stroke="#000" stroke-width="2.2" stroke-linecap="butt"/><line x1="423.7" y1="1087.3" x2="423.7" y2="1094.8" stroke="#000" stroke-width="2.2" stroke-linecap="butt"/><line x1="163.8" y1="1087.3" x2="163.8" y2="1091.3" stroke="#000" stroke-width="2.2" stroke-linecap="butt"/><line x1="238.1" y1="1087.3" x2="238.1" y2="1091.3" stroke="#000" stroke-width="2.2" stroke-linecap="butt"/><line x1="312.3" y1="1087.3" x2="312.3" y2="1091.3" stroke="#000" stroke-width="2.2" stroke-linecap="butt"/><line x1="386.6" y1="1087.3" x2="386.6" y2="1091.3" stroke="#000" stroke-width="2.2" stroke-linecap="butt"/><line x1="460.8" y1="1087.3" x2="460.8" y2="1091.3" stroke="#000" stroke-width="2.2" stroke-linecap="butt"/><text x="126.7" y="1116" font-size="23.2" font-weight="normal" fill="#000" text-anchor="middle">500</text><text x="200.9" y="1116" font-size="23.2" font-weight="normal" fill="#000" text-anchor="middle">1000</text><text x="275.2" y="1116" font-size="23.2" font-weight="normal" fill="#000" text-anchor="middle">1500</text><text x="349.4" y="1116" font-size="23.2" font-weight="normal" fill="#000" text-anchor="middle">2000</text><text x="423.7" y="1116" font-size="23.2" font-weight="normal" fill="#000" text-anchor="middle">2500</text><text x="98.5" y="848.7" font-size="24" font-weight="bold" fill="#0a7d0a">BC</text><text x="98.5" y="917.0" font-size="24" font-weight="bold" fill="#3b7585">Fe@BC</text><text x="98.9" y="985.2" font-size="24" font-weight="bold" fill="#a040ff" textLength="75.9" lengthAdjust="spacingAndGlyphs">CA-BC</text><text x="98.8" y="1053.8" font-size="24" font-weight="bold" fill="#ff0000">CA-Fe@BC</text><text x="0" y="0" font-size="24" font-weight="bold" fill="#0a7d0a" text-anchor="start" transform="translate(348.5 848.3)"><tspan font-style="italic">I</tspan><tspan font-size="17" dy="5.5">D</tspan><tspan dy="-5.5">/</tspan><tspan font-style="italic">I</tspan><tspan font-size="17" dy="5.5">G</tspan><tspan dy="-5.5">=1.00</tspan></text><text x="0" y="0" font-size="24" font-weight="bold" fill="#3b7585" text-anchor="start" transform="translate(350.3 916.8)"><tspan font-style="italic">I</tspan><tspan font-size="17" dy="5.5">D</tspan><tspan dy="-5.5">/</tspan><tspan font-style="italic">I</tspan><tspan font-size="17" dy="5.5">G</tspan><tspan dy="-5.5">=1.04</tspan></text><text x="0" y="0" font-size="24" font-weight="bold" fill="#a040ff" text-anchor="start" transform="translate(350.3 984.7)"><tspan font-style="italic">I</tspan><tspan font-size="17" dy="5.5">D</tspan><tspan dy="-5.5">/</tspan><tspan font-style="italic">I</tspan><tspan font-size="17" dy="5.5">G</tspan><tspan dy="-5.5">=1.17</tspan></text><text x="0" y="0" font-size="24" font-weight="bold" fill="#ff0000" text-anchor="start" transform="translate(351.6 1053.8)"><tspan>I</tspan><tspan font-size="17" dy="5.5">D</tspan><tspan dy="-5.5">/</tspan><tspan font-style="italic">I</tspan><tspan font-size="17" dy="5.5">G</tspan><tspan dy="-5.5">=1.40</tspan></text><text x="228.9" y="965.5" font-size="24" font-weight="bold" fill="#ff0000" font-style="italic" textLength="14.3" lengthAdjust="spacingAndGlyphs">D</text><text x="265.0" y="965.5" font-size="24" font-weight="bold" fill="#ff8000" font-style="italic" textLength="25.8" lengthAdjust="spacingAndGlyphs">D”</text><text x="301.0" y="985.2" font-size="24" font-weight="bold" fill="#1a6fe8" font-style="italic" textLength="16.4" lengthAdjust="spacingAndGlyphs">G</text><text x="205.6" y="995.9" font-size="24" font-weight="bold" fill="#3cb46e" font-style="italic" textLength="22.8" lengthAdjust="spacingAndGlyphs">D*</text><text x="0" y="0" font-size="36" font-weight="bold" fill="#000" text-anchor="start" transform="translate(118.2 1145.0)"><tspan>Roman shift (cm</tspan><tspan font-size="23" dy="-12.5">-1</tspan><tspan dy="12.5">)</tspan></text><text x="36.1" y="1068.3" font-size="36.6" font-weight="bold" fill="#000" textLength="241.2" lengthAdjust="spacingAndGlyphs" transform="rotate(-90 36.1 1068.3)">Intensity (a.u.)</text><g clip-path="url(#cp11)"><path d="M595.7 895 596.5 894.3 597 895.6 597.4 894.8 598.2 895.5 598.6 891.9 599.1 895.4 599.9 894.1 600.7 895.8 601.2 895.7 601.6 892.8 602.4 896.9 602.8 894.4 604.1 895.8 604.9 891.7 605.4 895.1 606.2 894.8 606.6 895.5 607.5 893.6 607.9 894.8 609.1 892.9 609.6 894.6 610 895 610.8 894.5 611.2 896.1 612.1 896 612.5 894.4 613.3 895.4 613.8 892.2 614.2 895.1 615 895.4 615.4 892.7 615.9 892.5 616.3 895.3 617.1 893.7 618 897 618.4 896.6 618.8 891.1 619.2 894.1 620.5 895.2 620.9 891.9 621.3 895.7 622.2 891.2 622.6 895 623 894.6 623.4 895 623.8 896.1 624.7 892.7 626.4 897.8 626.8 893 627.2 896.6 628 895.1 628.5 892.4 628.9 896.4 629.3 893.4 629.7 897.3 630.1 893.5 630.6 893 631 894.2 631.8 894.3 632.2 893.2 632.7 895.4 633.1 890.8 633.5 895.3 634.8 894.7 635.2 895.7 635.6 895.2 636.4 897.7 637.7 892.5 638.1 897 638.5 894.9 639 896.8 639.4 893.6 639.8 895.2 640.2 890.4 640.6 895.7 641.1 892.8 641.5 895 641.9 895 642.3 893.7 642.7 896.1 643.2 893.4 643.6 895.3 644 893.6 644.4 893.5 644.8 897.4 645.7 894.5 646.1 895.4 646.5 893.8 647.4 894.9 647.8 893.5 648.6 895.4 649 893.3 649.5 894.8 649.9 893.4 650.3 895.4 651.1 895.2 651.6 894.4 652 897.2 652.4 894.1 653.7 896.5 654.1 894.5 654.9 893.5 655.3 894.8 656.2 893.8 656.6 895.2 657 894.4 657.4 897 658.3 894.1 658.7 894.1 659.1 894.9 660 892.7 660.4 896.2 660.8 894 661.2 897.2 662.1 893.9 662.9 896 663.3 892 663.7 896.2 664.2 896.7 664.6 894.3 665 895.8 665.4 893.4 665.8 894.6 667.1 893 668.4 895.5 669.2 893.7 669.6 893.8 670 896 670.5 894 670.9 895.6 671.3 895.2 671.7 891.1 672.1 895.4 672.6 892.4 673 895.4 673.4 892.9 673.8 894.5 674.2 894.2 674.7 891.7 675.5 895.1 676.3 895.4 676.8 892.3 677.6 895.1 678.4 891.9 679.3 894.9 679.7 891.6 680.1 894 680.5 894 681 892.4 681.4 892.2 682.2 895.3 683.1 895.1 683.5 893.8 683.9 895.5 684.3 893.4 684.7 895.8 686 893.4 686.4 895.8 687.3 892.5 688.1 896.5 688.9 892.5 689.8 896.6 690.6 893.6 691 897 691.9 891.8 692.3 895.1 693.1 893.3 694 897.1 694.4 893.5 694.8 894.1 695.2 892.6 695.7 895.5 696.1 892.7 696.9 894.5 697.3 893.2 697.8 895 698.2 892.3 699 892.8 700.3 895.5 700.7 893.2 701.5 893.1 702 894 702.4 891.6 702.8 895.3 703.2 892.4 704.5 896 705.7 893.9 706.6 890.4 707 893.8 707.4 891.3 707.8 894.7 709.1 891.8 710.4 895.6 712 890.7 712.5 892.1 712.9 889.7 713.3 893.6 714.1 890.6 715.4 895.1 715.8 891.4 716.2 891.9 716.7 891.2 717.1 893.4 717.5 889.5 718.3 890.9 718.8 893.2 719.6 888.4 720.4 891.5 721.3 887.7 722.5 890.9 723.8 886.9 724.2 891.1 724.6 890.7 725.1 883.7 725.5 886.7 726.3 885.3 726.7 888.9 727.2 888.8 727.6 884.7 728 888.4 728.4 885.1 729.7 888.2 730.1 884.3 731.4 885.1 731.8 886.5 732.2 882.9 732.6 885.6 733 881.8 733.5 884.7 735.1 880.5 736 882.3 736.4 880 736.8 882.5 737.2 879.1 737.7 878.6 738.1 881.2 738.5 877.9 739.3 880.6 740.2 876.7 741.4 880.8 741.9 874.2 742.3 876.9 743.1 873.7 744 877.8 744.4 875 745.2 874 745.6 874.6 746.1 873.4 746.5 876.6 746.9 873.2 747.7 872.8 748.2 871.2 749 872.9 749.8 869.8 751.1 869.6 751.9 865.3 752.4 870.1 753.2 866.3 754 867.1 754.5 864.9 754.9 865.2 755.3 864.8 756.1 860.3 756.6 860.8 757 859.2 757.4 861.2 757.8 858.3 758.2 858.4 759.1 856.8 759.5 854.5 759.9 856.8 760.8 850.4 761.2 852.5 761.6 852.3 762 848.2 762.4 851.1 763.3 844.7 763.7 845.9 764.5 841.7 765.4 841.5 766.2 837.7 766.6 840.2 767.1 836.4 767.5 837.3 767.9 834.5 768.3 834.7 768.7 829.1 769.2 831 769.6 827.8 770 828.2 770.8 826.1 771.3 827.4 772.1 820.8 772.5 821.2 774.6 816.8 775 818.4 776.3 815 776.7 814.5 777.1 815.4 777.6 812.2 778 814.8 778.8 814.6 779.2 813 779.7 814.5 780.5 813.6 781.3 819.4 782.6 816.9 783.4 820.8 783.9 821.8 784.3 821.7 784.7 825.8 785.1 822 785.6 826.6 786 826.9 786.4 829.5 787.7 831.8 788.1 831.2 790.6 841.7 791 845.3 791.4 841.1 791.9 846.2 793.1 848.4 793.5 851.3 794 849.3 794.4 850.5 794.8 849.1 795.2 853.2 795.6 851.5 796.1 851.1 796.5 851.5 796.9 850.6 797.3 853.3 797.7 849.2 798.6 851.7 799.4 849.1 799.8 851.5 800.7 846.6 801.9 852.3 802.4 848.6 802.8 849 803.2 852.5 803.6 851.2 804 851.6 804.9 854.9 805.3 854.6 805.7 855.5 806.6 854 807 857.4 807.4 856.1 807.8 857.3 808.2 857.2 808.7 859.2 809.5 855.8 809.9 857.8 810.3 853.8 810.8 856 811.2 851.3 811.6 854.4 812.4 847.5 812.9 847.2 813.7 843.4 814.1 844.3 814.5 838.7 815.4 834.3 815.8 835.2 816.2 834 817.5 825.2 817.9 825.3 818.3 822.6 818.7 824.3 819.2 823.6 819.6 819.9 820 824.9 820.8 822 821.7 827.5 822.1 825.5 822.9 829.3 823.8 834.3 824.2 841 824.6 842.9 825 842.3 825.5 848.2 825.9 848.2 826.7 857.8 828.8 868 829.7 869.8 830.5 876.4 830.9 874.8 832.6 882.3 833.4 878.2 834.3 883.3 834.7 883.4 835.5 885.5 836 887.4 836.8 885.7 838.1 886.3 838.5 887.9 839.3 883.9 840.2 887.9 841 885.5 841.8 888.8 842.3 884.5 843.5 888.5 843.9 886.9 844.8 886.3 845.2 887.9 845.6 887.9 846.5 884.9 846.9 887.8 847.3 885.5 847.7 888.5 848.6 887.2 849 887.6 849.4 890.2 850.7 886.4 851.1 890 851.5 889.7 851.9 887.2 852.8 889.1 853.2 889.6 853.6 888.7 854 889.3 854.4 889.1 855.3 891 856.1 889.2 856.5 891.8 857 889.8 857.4 891.5 857.8 891.2 858.2 888.3 858.6 892.4 859.1 888.7 859.9 889.7 860.3 888.9 860.7 889.2 861.2 891.7 861.6 890.3 862.8 892.5 863.3 891.5 864.1 893.3 864.5 889.7 864.9 891.5 865.4 889 866.2 893.3 866.6 893.3 867 891.3 867.5 892.5 867.9 889.9 868.3 891.4 868.7 889.9 869.6 890.8 870.4 895 870.8 890.3 871.2 890.4 872.1 892.3 872.5 894.8 872.9 891.4 873.3 893.6 873.8 888.5 874.2 891.8 874.6 891.6 875 892 875.4 893.5 875.9 893.5 876.3 892.6 877.1 894.4 877.5 892 878 894.4 878.4 890.4 878.8 892.3 879.2 892.3 879.6 893.5 880.1 892.2 880.5 893.6 881.3 894.5 881.7 893.6 882.2 894.5 883 891.6 883.4 895.1 884.7 893.7 885.1 890.8 885.5 893.7 886.8 892.8 887.2 890.9 887.6 895.1 888 892.8 888.5 893.9 888.9 892.5 889.3 894.2 890.1 894.5 890.6 892 891.4 893.2 892.2 893.5 893.1 891.4 893.9 893.8 894.3 890.2 894.8 893.7 896 896.4 896.9 893.1 897.3 894.2 898.1 892.3 898.5 896 899 891.5 899.4 892.2 899.8 892.1 900.2 897.1 900.6 893.7 901.1 893.3 901.5 895.5 902.3 894.2 903.2 891 903.6 894.2 904 892.4 904.4 894.3 904.8 892.6 905.3 896.4 906.1 894.4 906.5 897.4 906.9 892.6 907.8 896.6 908.6 892.1 909 894.6 909.5 893.1 909.9 893.2 910.3 895.1 910.7 891.7 912 895.8 912.8 892.3 914.1 893.4 914.5 890.7 914.9 893.8 915.8 895 916.2 897 916.6 894.7 917 893.7 917.4 894.5 918.3 891.3 918.7 894.3 919.1 893.5 919.5 894.5 920 891.8 920.4 894.9 921.2 892.8 921.6 895.1 922.5 892.8 923.7 892 924.2 890.7 925 894.6 926.3 893.8 926.7 891.4 927.5 896.2 928.4 893.4 928.8 895.6 929.2 891 929.6 895.6 930 893.7 930.9 893.3 931.3 895.8 931.7 891.8 932.6 895.5 933.4 892.3 933.8 895.2 934.2 890.8 934.7 894.7 935.1 891.5 935.5 893.5 935.9 892.1 936.3 892.1 936.8 893.9 937.2 892.7 937.6 896.4 938 894.1 938.4 896.2 938.9 891.5 939.7 896.4 940.1 896.2 940.5 893 941.8 895.6 942.6 892.1 943.1 892.1 943.5 895.6 944.3 894.5 944.7 892.1 945.6 894.5 946 892.5 946.4 894.8 946.8 891.7 948.1 894.9 948.5 892.5 948.9 894.8 949.4 893.4 949.8 895.7 951 892 951.5 894.5 952.3 893.1 952.7 893.4 953.1 891.8 954.4 894.7 954.8 894.8 955.2 894 956.1 896.3 956.9 895.2 957.3 890.9 957.8 894.4 958.6 893.7 959 895.5 960.3 893.9 960.7 891.3 961.1 894.6 961.5 895 962.4 891.8 962.8 897.1 963.2 893.6 963.6 895.6 964.1 893.1 964.5 895.2 964.9 892.9 965.3 896.1 966.2 892.3 967 895.4 967.4 891.3 968.3 895.2 968.7 892.8 969.5 894.6 969.9 893.4 970.4 895 971.6 892.5 972 895.3 972.5 892.3 972.9 893.4 973.3 892.3" stroke="#4a4a4a" stroke-width="3.0" fill="none" stroke-linejoin="round" stroke-linecap="round"/><path d="M595.7 894.5 687.7 894.4 700.3 894 709.1 893.1 717.1 891.4 724.2 888.7 732.2 884.2 750.7 871.7 756.6 869.3 762 868.5 767.5 869.3 772.9 871.6 791.9 884.3 799.8 888.7 807.8 891.7 817.1 893.4 826.3 894.2 840.2 894.5 973.3 894.5" stroke="#3cb46e" stroke-width="2.6" fill="none" stroke-linejoin="round" stroke-linecap="round"/><path d="M595.7 894.5 787.7 894.3 791 893.2 793.5 890.4 795.6 885.9 799.8 873.8 801.1 871.4 802.4 870.5 803.6 871.3 804.9 873.6 809.1 885.8 811.2 890.3 813.7 893.2 816.6 894.3 973.3 894.5" stroke="#ff8000" stroke-width="2.6" fill="none" stroke-linejoin="round" stroke-linecap="round"/><path d="M595.7 894.5 758.7 894 783.9 893.1 791.4 892.3 796.5 891.2 799.8 889.6 802.8 887 804.9 883.6 807 878.5 810.8 863.6 817.1 829.8 818.7 824.3 820 823 821.3 825 822.5 830.5 827.6 864 830.5 878.3 832.2 883.4 833.9 886.8 836 889.3 838.5 890.9 842.3 892.1 847.7 892.9 865.8 893.9 973.3 894.4" stroke="#1a6fe8" stroke-width="2.6" fill="none" stroke-linejoin="round" stroke-linecap="round"/><path d="M595.7 894.5 735.1 894.5 743.5 894.1 748.6 893.1 751.5 891.8 754.5 889.5 759.1 883.1 763.7 872.6 774.2 841.5 777.1 836.2 778.8 834.8 780.1 834.5 782.6 836.2 785.6 841.4 796.1 872.5 800.7 883.1 803.2 887 805.7 889.9 808.7 892 811.6 893.2 816.6 894.2 825 894.5 973.3 894.5" stroke="#f03c3c" stroke-width="2.6" fill="none" stroke-linejoin="round" stroke-linecap="round"/><path d="M595.7 894.5 696.5 894.1 711.2 892.6 717.1 891.2 723 889 730.9 884.8 739.8 878.6 748.6 871.2 754 865.1 757.8 859.2 761.2 852.3 773.4 820 775.9 815.9 778.4 814.4 779.7 814.7 780.9 815.7 783.9 820.9 791.4 844.3 794 850.1 795.2 851.5 796.5 852 800.3 849.9 801.9 849.9 803.6 851.5 807 856.9 808.2 857.8 809.1 857.6 809.9 856.7 811.2 853.9 817.5 826.7 819.2 822.6 820 822.1 820.4 822.4 821.3 824.2 822.5 829.9 827.6 863.7 830.5 878.1 832.2 883.3 833.9 886.7 836 889.3 838.9 891.1 842.7 892.1 848.1 892.9 866.2 893.9 973.3 894.4" stroke="#b070e8" stroke-width="3.0" fill="none" stroke-linejoin="round" stroke-linecap="round"/><path d="M595.7 985.8 596.1 984 597 985.2 598.6 983 599.1 985.7 599.9 986.3 600.3 982.6 600.7 982.8 601.6 986.1 602.4 983.2 603.3 985.5 603.7 984.1 604.1 984.6 604.5 986.5 604.9 984.8 605.4 985.9 605.8 985.3 607 986.6 607.5 983.8 608.3 986.8 609.1 980.6 609.6 986.5 610 985.8 610.4 987.9 611.7 983.2 612.1 986.3 612.5 984 612.9 986.3 613.8 985.4 614.2 987.8 614.6 986.5 615 987.6 615.4 984 615.9 985.3 616.3 984.9 616.7 985.2 617.1 986.9 617.5 985.1 618 985.6 618.4 987.2 619.2 983.3 619.6 983.5 620.9 988.6 621.3 986.2 621.7 987.7 622.6 984.7 623 987.8 623.4 983.3 623.8 985.8 624.3 983.9 625.1 986.6 625.5 986.3 625.9 986.9 626.4 985.3 627.2 986.3 627.6 983.3 628.5 982.9 629.3 986 629.7 983.7 630.1 985 630.6 985 631 982.8 632.2 987.5 633.9 983.2 635.2 987.3 636 983.5 636.9 987 637.3 984.8 637.7 987.4 638.1 986.4 638.5 986.8 639 984.1 639.4 986.4 640.2 982.9 641.5 986.9 641.9 982.5 642.3 985.3 642.7 984.5 643.6 985.7 644 984.8 644.4 987.1 644.8 982.7 645.3 986.1 645.7 985.4 646.5 985.6 646.9 983.5 647.4 987.9 648.2 983.3 648.6 985.8 649 985.9 649.5 983.4 650.3 987.4 650.7 982.9 651.1 983.3 651.6 986.7 652 983.5 653.2 988.6 654.1 983.2 654.5 986.1 654.9 986.3 655.8 985.8 656.6 982.8 657 986.4 657.9 983.6 658.3 985.4 658.7 983.8 659.1 985.1 659.5 984.2 660.4 986.5 660.8 983.5 661.2 983.6 661.6 985.7 662.1 984.6 662.5 987.7 662.9 985.9 663.3 986 663.7 981.5 664.2 985.6 665 983.2 665.4 985.1 666.3 985 666.7 984.1 667.9 986.5 668.4 986.8 668.8 985.8 669.2 986 669.6 987.4 670 984.5 670.9 985.5 671.3 983.7 672.6 985.1 673.4 984.8 673.8 981.7 674.2 985.8 674.7 984.8 675.1 985.3 675.5 984.9 675.9 983.6 677.2 986.3 677.6 986.3 678.9 983.7 679.3 987.2 679.7 984.3 680.1 984.2 680.5 986.8 681.4 981.6 682.2 987.6 682.6 985.1 683.1 987.7 683.5 985.3 684.7 983.8 686.4 986.4 686.8 983.9 687.7 986.5 688.1 982.7 688.9 986.8 689.4 983.8 690.2 985.7 690.6 982.7 691.5 984.4 691.9 984.1 692.3 985.6 692.7 985.6 693.1 983 693.6 983.5 694 982.9 694.4 984.8 694.8 983 695.2 984.1 695.7 983 696.1 985.5 696.5 984.2 696.9 986.2 697.3 984.8 697.8 987.1 698.2 983.1 699 986.2 700.3 983.1 700.7 987.3 701.1 981.9 701.5 985.6 702 984.4 702.4 985.9 702.8 980.1 703.6 985.6 704.1 985.3 704.5 985.7 704.9 982.8 705.3 982.8 706.2 986.8 706.6 983.8 707 984.1 707.4 982.3 707.8 984.1 708.7 983.1 709.1 984 709.5 981.5 710.8 982.9 711.2 981.4 711.6 982.6 712.5 980.1 713.3 983.3 714.1 981.8 714.6 984 715.8 980.9 716.2 982.2 716.7 979.7 717.1 979.9 717.5 982.2 718.8 979.4 719.2 979.4 720 977.8 720.4 979.1 720.9 977.2 721.7 980.4 722.1 978.8 723 977.8 723.4 980.9 724.2 977.1 725.5 977.7 725.9 973.2 726.3 976.9 728.4 972.7 728.8 973.9 729.3 971.2 730.1 974.4 730.5 970.9 730.9 972.8 731.4 972.2 731.8 973.1 733 969.4 733.5 974.1 733.9 970.7 734.3 970.2 734.7 972.6 735.1 970.7 735.6 971.1 736 967.1 736.8 970.4 737.7 967 738.9 969.4 739.3 966.9 740.2 965.8 740.6 964.3 741 968.4 742.3 962.9 743.5 965.5 744 963.7 744.8 965.8 745.2 965.6 745.6 960.2 746.9 964.3 747.3 963.9 747.7 960.3 748.2 963.2 749 957.8 749.4 959.2 749.8 956.3 750.3 959.7 750.7 957.7 751.9 956.9 752.8 955.5 753.2 958.8 753.6 954.6 754 954.5 754.5 956.5 754.9 952.9 755.3 953.1 757 949.2 757.8 950.4 758.7 945.7 759.1 947.7 759.9 944.3 760.3 944.4 760.8 939.4 761.6 943 762 938 762.9 939.3 763.3 935.7 764.5 933.5 765 929.9 765.4 930.7 766.2 927.7 766.6 927.5 767.1 922.4 767.9 923.6 769.2 916.6 769.6 916 770 917.5 770.4 913.6 770.8 914.6 772.1 908.6 772.9 910.8 773.4 907.2 774.6 902.6 775.5 903.9 775.9 903.6 776.3 900.1 777.1 901.6 777.6 897.1 779.2 902.6 780.5 898.8 781.3 902.7 782.2 899.6 782.6 903.9 783 902.5 783.4 905.7 784.7 904.2 785.6 910.6 786 911.4 786.8 910.9 788.1 917.2 788.5 915.8 789.8 923.5 790.2 922.1 790.6 922.3 792.7 931.6 793.1 931.9 793.5 929.6 794 930.1 794.4 933.4 794.8 931.8 795.2 935.2 795.6 933.2 796.5 935.7 796.9 934.2 797.7 937.7 799 934.3 801.1 934.2 801.5 936.2 801.9 935 802.4 937.8 802.8 937 803.2 937.5 803.6 936.4 804 937.2 804.5 937 804.9 940.9 805.3 938.3 805.7 938.5 806.6 942 807 937.6 807.4 940.1 807.8 939.4 808.2 941.9 809.5 937.7 809.9 940.2 811.2 935.1 811.6 937.9 812 932.2 812.4 932.9 813.7 925.9 814.5 925.7 815.4 923.1 815.8 923.3 816.2 922.4 817.1 914.9 817.5 915.7 817.9 912.5 818.3 913.1 818.7 912 819.6 913.8 820 913.5 820.4 910.1 821.3 915.4 822.1 917.2 822.5 921.1 822.9 920 824.2 924.7 826.3 943.4 830.9 966.2 831.3 966.8 832.2 966.1 832.6 969.6 833 969.1 833.4 973.8 834.3 973 835.1 975 835.5 973.7 836 974 836.4 977.5 836.8 977.3 837.2 978.1 838.1 975.3 838.5 979.4 838.9 976.8 839.3 978 839.7 976.4 840.2 979.1 840.6 975.3 841 978.5 841.4 977.9 841.8 978.5 842.3 978.3 843.1 975.7 843.5 975.8 844.4 977.5 844.8 980.1 845.2 978.6 845.6 979.2 846 977.2 846.9 976.8 847.3 978.2 847.7 977.4 848.6 982.1 849 978.4 849.4 980.2 849.8 978.4 850.7 978.1 851.1 981 851.5 977.5 851.9 978.8 852.8 979.3 853.2 981.6 854 976.7 854.4 981.6 854.9 978.7 855.3 980.4 855.7 978.1 856.1 978.4 856.5 980.4 857.4 978.3 857.8 981.3 859.1 980.2 859.5 983.3 859.9 980.5 861.6 982.9 862.4 980.4 862.8 983.2 863.3 979.3 863.7 983.9 864.1 982 864.5 982.3 864.9 979.5 866.2 983.9 866.6 979.9 867 982.9 867.5 981 867.9 981 868.3 982.3 868.7 979.8 869.1 984.4 870 980.2 870.4 983.6 870.8 983.4 871.2 980.2 872.1 985.2 872.9 982.2 873.3 984.2 873.8 982 874.2 983.7 874.6 982.2 875.4 983.7 875.9 980 876.3 984.6 877.5 981.9 878.4 984.2 878.8 983.4 879.2 984.6 879.6 980.9 880.1 985 880.9 982.6 881.7 984.9 882.2 984.9 882.6 982.9 883 983.9 883.4 982.2 885.1 985.9 885.9 982.5 886.4 983.7 887.2 981.8 887.6 981.9 888.5 986.6 888.9 983.7 889.3 985 889.7 983.5 890.1 984.3 890.6 983.8 891 981 891.4 985 892.2 983.4 893.1 986.4 893.5 983.8 893.9 983.4 894.8 985.4 896.4 982.5 897.3 984.4 897.7 983.5 898.1 984 898.5 985.7 899 984.4 899.4 984.2 899.8 985 900.2 981.9 900.6 986.4 901.1 983.6 901.9 985.5 902.3 985.3 902.7 986.3 903.6 984.3 904 984.7 904.4 986.9 904.8 984.3 905.3 985.8 905.7 983.4 906.1 985.6 906.5 983.1 906.9 986.4 907.4 982.5 909 987 909.5 983.1 909.9 983.2 910.3 986.4 910.7 985.9 911.1 982 911.6 984.2 912 983.3 912.4 985.6 912.8 983.3 913.7 987.4 914.9 984.5 915.8 984.9 916.6 984.1 917 986.6 917.9 984 919.1 984.3 919.5 985.5 920 982.9 920.4 985.7 920.8 984.4 921.6 984.6 922.1 989.1 922.5 983.6 922.9 986 923.3 982.7 924.2 985.9 925 984.5 925.4 985.9 925.8 984.4 926.3 984.8 927.1 983.2 927.5 986.3 927.9 982.2 928.4 984.6 928.8 982.4 929.2 985.8 929.6 982.8 930 983.6 930.5 982.8 930.9 986.3 931.7 984 932.6 985.5 934.2 985.1 935.1 985.7 935.9 983.3 937.2 986.3 938 982.6 938.4 984.8 939.3 984.3 939.7 981 940.1 985 940.5 983.9 941 987.2 941.4 984.2 941.8 987.7 942.2 985.4 942.6 985.1 943.1 986.8 943.5 983.5 943.9 986.9 944.3 982.9 945.2 984.8 945.6 984.6 946 982.5 946.4 987.6 946.8 984.4 947.3 985.3 947.7 984.7 948.1 986.6 948.5 983.4 949.4 986.5 949.8 986.5 950.2 985 950.6 988.5 951 982.8 951.5 987.1 951.9 984.4 952.3 985 952.7 984.2 953.6 986.3 954 984.7 954.4 986.3 954.8 984.4 955.7 986.2 956.5 984 956.9 983.6 957.3 983.8 957.8 988.8 958.2 984.5 958.6 985.7 959 983.7 959.9 986.6 961.1 983.3 961.5 987 962 986.6 962.4 988 962.8 982.9 963.2 985.5 963.6 985.2 964.1 986.2 964.5 985.1 964.9 985.7 965.3 983.3 965.7 985.2 966.6 985.4 967.4 986.5 967.8 984.5 968.3 985.2 969.1 982.1 969.5 985.6 969.9 984.7 970.8 986.5 971.2 984.5 971.6 986.5 972 983.4 972.5 985.6 972.9 984.3 973.3 986.5" stroke="#4a4a4a" stroke-width="3.0" fill="none" stroke-linejoin="round" stroke-linecap="round"/><path d="M595.7 985.4 683.9 985.3 695.7 985 704.1 984.2 711.2 982.8 717.9 980.5 725.1 976.9 742.3 966.3 747.7 964.3 752.8 963.6 757.8 964.3 762.9 966.2 780.5 977 788.1 980.7 796.1 983.2 804.9 984.6 826.7 985.4 973.3 985.4" stroke="#3cb46e" stroke-width="2.6" fill="none" stroke-linejoin="round" stroke-linecap="round"/><path d="M595.7 985.4 786.4 985.3 790.2 984.2 792.7 982 794.8 978.5 799.8 967.2 801.1 965.5 802.4 965 803.6 965.8 804.9 967.7 809.5 978.2 811.6 981.8 814.1 984.2 817.5 985.2 973.3 985.4" stroke="#ff8000" stroke-width="2.6" fill="none" stroke-linejoin="round" stroke-linecap="round"/><path d="M595.7 985.3 753.6 984.8 779.7 983.8 787.7 982.9 793.1 981.7 796.5 980.2 799.4 977.8 801.9 974.4 804.5 969.2 808.7 955.5 816.6 919.3 818.3 914.6 820 912.9 821.3 914.7 822.5 919.7 828 954.3 830.9 968.2 832.6 973.4 834.7 977.6 836.8 980.1 839.3 981.7 843.1 982.9 848.6 983.7 866.6 984.7 973.3 985.3" stroke="#1a6fe8" stroke-width="2.6" fill="none" stroke-linejoin="round" stroke-linecap="round"/><path d="M595.7 985.4 731.4 985.4 740.2 984.9 746.1 983.5 749.4 981.7 752.4 979 755.3 974.9 757.8 970.1 762.9 956.6 773.8 920 777.1 913.1 778.8 911.4 780.1 910.9 781.3 911.2 783 912.7 786.4 919.3 789.3 928 797.7 957.1 802.8 970.4 805.3 975.1 808.2 979.1 811.2 981.8 814.5 983.6 820.4 984.9 829.2 985.4 973.3 985.4" stroke="#f03c3c" stroke-width="2.6" fill="none" stroke-linejoin="round" stroke-linecap="round"/><path d="M595.7 985.3 694 984.9 708.3 983.3 714.1 981.7 719.6 979.5 728.4 974.5 744.4 963.6 749.8 959.2 753.6 955 757.4 949.1 761.2 940.9 773.4 907.1 776.3 902 778 900.6 779.2 900.4 781.8 901.9 784.3 906.2 791.9 927.7 794.4 933 796.9 935.3 801.9 936.1 807 940.4 808.7 940.2 810.3 938 812.4 932.5 817.5 915.3 819.2 912.5 820.4 912.5 821.3 914.3 822.5 919.4 828 954.3 830.9 968.2 832.6 973.4 834.7 977.6 836.8 980.1 839.3 981.7 843.1 982.9 848.6 983.7 866.6 984.7 973.3 985.3" stroke="#b070e8" stroke-width="3.0" fill="none" stroke-linejoin="round" stroke-linecap="round"/><path d="M595.7 1075.8 596.1 1077.6 596.5 1077.5 597.8 1075 598.2 1075.6 598.6 1072.5 599.1 1075.5 599.5 1074.8 600.3 1076.2 601.2 1073.9 602 1078.4 602.8 1074.2 603.3 1076.7 604.1 1073.2 604.9 1078.2 605.4 1074.9 605.8 1076.2 606.2 1075.7 606.6 1077.1 607.5 1074.2 608.3 1077.3 608.7 1077 609.1 1072.9 610 1076.4 610.4 1074.3 610.8 1076.4 611.2 1075.9 611.7 1076.9 612.9 1073.3 613.3 1075.5 614.2 1077 614.6 1074.7 615 1076.5 615.4 1075.5 615.9 1076.3 616.3 1073.2 617.1 1077.6 617.5 1075.4 618.4 1076 618.8 1074.3 619.6 1074.6 620.1 1072.8 620.5 1076.3 620.9 1073.9 621.3 1076.2 621.7 1074.7 622.2 1079.3 623 1074.6 623.4 1074 624.3 1076.9 625.1 1073 625.5 1078 626.4 1074.7 626.8 1074.8 627.2 1077.4 627.6 1074.9 628.5 1075.7 628.9 1074.1 629.3 1074 629.7 1075.9 630.1 1073.1 630.6 1076.8 631 1072.4 631.4 1076.8 631.8 1073.2 632.2 1076.8 633.1 1074 633.5 1076.2 633.9 1074.2 634.3 1076.6 635.2 1075 636.4 1074.4 636.9 1071.4 637.7 1075.1 638.5 1075.3 639 1074.9 639.4 1076.1 639.8 1072.9 640.6 1076.6 641.1 1076.4 641.5 1074.1 642.7 1076.6 643.2 1076.6 643.6 1074.7 644.4 1077.6 644.8 1074.7 645.3 1078.9 646.1 1073.2 646.9 1078.5 647.4 1076.4 647.8 1076.6 648.2 1074 648.6 1074.9 649 1073.4 649.9 1074.5 650.3 1076.9 651.1 1076.1 651.6 1077.4 652 1073.4 652.8 1078 653.2 1074 653.7 1076.6 654.1 1074.3 654.9 1076.9 655.8 1077.7 656.2 1076.4 656.6 1077.9 657 1074.7 657.4 1076.6 658.3 1074.9 659.1 1077.8 659.5 1072.9 660 1078 660.8 1074.7 661.2 1074.8 662.1 1077.2 662.5 1073.6 663.3 1075.4 663.7 1075.5 664.6 1073.5 665 1075.1 665.4 1075.2 665.8 1074.3 666.3 1078.7 666.7 1072.9 667.1 1077 667.9 1074.4 668.4 1075.5 669.2 1072.4 669.6 1075.2 670.9 1073.6 671.3 1075.3 672.1 1075.6 673 1073.8 673.4 1076.9 673.8 1074.2 675.1 1077.9 675.9 1073.8 676.3 1076.1 676.8 1073.1 677.6 1077.3 678 1074.9 678.4 1076.8 679.3 1073.8 680.5 1076.7 681 1074.5 682.6 1076.1 683.1 1074.9 683.9 1075.5 684.7 1074.3 686 1075.5 686.4 1073.9 686.8 1075.1 687.3 1073.6 687.7 1074.3 688.1 1072.7 688.5 1075.1 688.9 1075.2 689.4 1074.4 690.2 1075 691 1074 691.9 1076.9 692.7 1072.8 693.1 1075.9 693.6 1075.1 694.4 1075.3 694.8 1074.9 695.2 1073.4 696.1 1075.4 696.9 1074 697.3 1077 697.8 1072.4 698.2 1076.5 699 1072.6 699.4 1073.4 699.9 1072.9 700.7 1075 701.5 1069.3 702 1073.3 703.6 1074 704.1 1072.4 704.5 1074.7 704.9 1071.6 705.7 1075.7 706.6 1073.5 707 1074.1 707.4 1073.3 708.3 1074.4 708.7 1073.9 709.1 1074.9 709.9 1073.8 710.4 1075.8 710.8 1070.8 711.2 1075.9 712 1072.2 712.5 1072.6 712.9 1071 713.7 1073 715 1069.8 715.4 1072 715.8 1070.5 717.1 1074.2 717.5 1072.2 718.3 1074.2 719.2 1069.5 719.6 1069.7 720 1072.2 720.4 1071.3 720.9 1072 721.3 1070.1 722.5 1069.8 723 1067.2 723.4 1068.5 724.2 1068.1 724.6 1065.5 725.1 1067.9 725.5 1066.4 725.9 1068.3 726.3 1065.5 727.2 1068.8 727.6 1064.6 728 1067.7 729.3 1064.1 729.7 1064.8 730.5 1064.7 730.9 1064.2 731.8 1064.7 732.2 1061.6 732.6 1063.3 733.5 1060.2 734.3 1061.2 734.7 1063.2 736 1061.8 736.4 1059.7 736.8 1062.2 737.2 1059.2 737.7 1058.3 738.1 1058.8 738.5 1057.9 738.9 1062.7 739.3 1058.7 739.8 1057.9 741.4 1057.8 742.3 1055.4 742.7 1058.1 743.5 1054.8 744 1056 744.4 1055.5 744.8 1056.7 745.6 1054.2 746.1 1057.4 746.9 1053.2 748.2 1051.7 748.6 1054.6 749.4 1052 750.3 1053.2 751.1 1049.3 751.5 1048.6 752.4 1049 752.8 1045.6 753.2 1047.9 753.6 1047.5 755.3 1043.9 755.7 1044.7 756.6 1041 757.8 1040.3 758.2 1036.5 758.7 1037.9 759.5 1033.4 759.9 1037.8 760.3 1032.8 761.2 1033.5 761.6 1030.2 763.7 1025.5 764.1 1021.9 765.4 1023.7 767.1 1015 767.5 1015 768.3 1012.3 768.7 1008 769.2 1007.1 769.6 1007.8 770 1007.5 770.4 1005.2 770.8 1006.3 771.3 1005.4 771.7 1002.6 772.1 1002.3 773.8 996.8 774.2 998 775.5 993.5 776.7 996.2 777.1 993.3 777.6 994.6 778 992.6 778.4 992.1 778.8 993.4 779.7 991.4 780.1 993.7 780.5 992.8 780.9 993.3 781.3 996.1 782.2 993.7 782.6 994.7 783 994.3 783.4 997.7 783.9 997.5 785.1 1000.4 786 1001.1 787.7 1007.4 788.5 1007 788.9 1008.1 789.8 1014.3 790.6 1012.6 792.7 1022.3 793.1 1022 793.5 1023.7 794 1022.4 794.4 1022.6 795.6 1026.6 796.5 1025.1 797.3 1030.3 798.2 1024.2 798.6 1026.8 799.4 1026.7 800.3 1030.1 800.7 1026.4 801.1 1030.7 801.5 1027.4 802.4 1028.8 802.8 1031.3 803.2 1029.3 804 1032.1 804.9 1032 805.3 1033.1 806.1 1031.5 807 1034.6 807.4 1032.5 807.8 1034.7 808.2 1034.9 808.7 1031.6 809.5 1034.6 809.9 1031.4 810.3 1031.5 811.2 1029.7 811.6 1031.3 812.4 1025.5 812.9 1027.1 814.1 1023.2 814.5 1020.1 816.2 1016.1 817.1 1011.1 817.5 1010.6 817.9 1011.8 818.3 1009.3 819.2 1009 819.6 1009.9 820.4 1007.8 822.1 1011.1 822.9 1011 824.2 1020 824.6 1019 825.5 1027.8 826.3 1029.4 826.7 1032.1 827.1 1039.4 827.6 1039.4 828.4 1043.7 829.2 1045.6 830.5 1054.1 830.9 1053.4 833 1062.6 833.4 1063.1 833.9 1060.4 834.7 1063.4 835.1 1060.7 835.5 1066 836 1065.7 836.8 1067.5 837.2 1066.2 837.6 1067.1 838.1 1066.6 838.5 1070.9 838.9 1066.7 839.7 1065.3 840.2 1067.4 840.6 1066.7 841.4 1070.1 841.8 1064.8 842.3 1067.2 842.7 1067.5 843.1 1066.5 843.5 1069.6 844.4 1065.8 844.8 1067.4 845.2 1065.2 845.6 1067.8 846 1065.9 846.5 1068.4 846.9 1068.2 847.3 1069 847.7 1067.9 848.6 1070.3 849 1070.1 849.4 1068 849.8 1070.5 850.2 1069.6 850.7 1070.7 851.1 1068.8 851.5 1069.8 851.9 1067.7 852.3 1069.3 852.8 1068.5 853.2 1071.1 853.6 1068.9 854 1073 854.4 1068.7 854.9 1070 855.3 1068.8 855.7 1072.7 856.1 1070.5 856.5 1072.9 857 1071 858.2 1073 858.6 1070 859.1 1069.8 859.5 1071.2 859.9 1069.8 861.2 1071.9 861.6 1069.7 862 1072.2 862.4 1071.1 863.3 1072.7 863.7 1071 864.1 1073.6 864.5 1071.4 864.9 1075.3 866.6 1070.9 867 1073.4 867.5 1072.3 867.9 1073.2 869.1 1069.8 869.6 1071.4 870 1071.5 870.4 1074.3 870.8 1072.3 871.2 1073.7 872.1 1071.3 873.3 1074.6 873.8 1073.3 874.2 1073.4 874.6 1071.2 875 1074.2 875.9 1071.1 876.7 1076.2 877.5 1071.2 878 1073.7 878.8 1071.7 879.6 1076.8 880.1 1071.5 880.5 1075.3 880.9 1072.8 881.3 1072.9 881.7 1073.2 882.2 1075.9 882.6 1072.5 883.4 1077.6 883.8 1075 884.3 1075.1 884.7 1073.4 885.1 1076.2 885.5 1076.5 886.4 1072 887.2 1075 888.5 1074.1 888.9 1072.8 889.3 1075.3 889.7 1072.3 890.1 1071.7 890.6 1073.9 891 1071 891.4 1073.7 891.8 1073.7 892.2 1071.3 892.7 1075.2 893.1 1071.4 893.5 1075.4 894.3 1072.9 895.6 1075.7 896.4 1072.8 896.9 1073.9 897.3 1072.5 897.7 1074.3 898.1 1073.2 898.5 1074.3 899 1071.7 899.4 1074.9 900.2 1072.9 900.6 1076.4 901.1 1072.3 901.9 1073.8 902.7 1073.2 903.2 1074.7 903.6 1073.8 904 1075.8 904.8 1073.6 905.3 1074.9 905.7 1072.9 906.1 1075.6 906.9 1074.5 907.4 1075.5 907.8 1072.3 908.2 1072.6 908.6 1077.5 909 1073.6 910.3 1075.5 910.7 1073.8 911.1 1074.3 911.6 1073.4 912 1075.7 912.4 1076.4 912.8 1075.2 913.2 1076.6 914.1 1072.8 914.5 1074.8 915.8 1072.1 916.2 1074.9 917 1074.7 917.4 1075.8 917.9 1073.7 918.3 1074.7 919.1 1074.8 919.5 1075.6 920 1074 920.4 1077 920.8 1075.8 921.2 1077.6 922.5 1075.3 922.9 1075.6 923.3 1072.9 923.7 1074.6 925 1076.3 925.8 1073.5 926.7 1072.3 927.5 1076.2 927.9 1074 928.4 1074.6 929.2 1073 930.5 1074.7 930.9 1076.6 931.3 1074.3 931.7 1075.4 932.1 1074.7 932.6 1075.4 933 1073.4 933.4 1076.5 934.7 1073.4 935.5 1073.8 936.3 1076.9 936.8 1074.2 937.2 1075.1 937.6 1073.7 938.4 1075.3 939.3 1074.3 939.7 1075.6 940.1 1074.3 940.5 1076.4 941.4 1073.8 941.8 1075.2 942.2 1074.7 943.1 1076.4 943.5 1075 943.9 1075.7 944.3 1074.2 944.7 1075.7 945.6 1073.9 946 1076.3 946.4 1074 947.3 1075.5 948.1 1072.6 948.5 1075.1 949.4 1074.9 949.8 1076.4 950.6 1075.6 951.5 1072.9 951.9 1075.6 952.3 1075.9 952.7 1074.6 953.1 1075.6 953.6 1073.8 954.4 1075.1 954.8 1074.6 955.7 1076.7 956.9 1074.1 957.3 1074.4 957.8 1072.4 959.4 1075 960.3 1078 961.1 1073.8 961.5 1073.5 962 1076.3 962.4 1076.1 962.8 1073.1 963.2 1075.8 963.6 1073.6 964.5 1078.2 964.9 1074.6 965.3 1077.4 965.7 1074.6 966.2 1075.7 966.6 1074.9 967 1076.3 967.8 1075 968.3 1077.4 968.7 1074.9 969.1 1075.5 969.5 1073.1 970.4 1074.5 971.2 1075 971.6 1073.6 972 1076.1 972.5 1075 972.9 1075.2 973.3 1077.3" stroke="#4a4a4a" stroke-width="3.0" fill="none" stroke-linejoin="round" stroke-linecap="round"/><path d="M595.7 1075.4 684.7 1075.3 704.9 1074.3 712.5 1072.9 719.2 1070.8 726.3 1067.5 743.5 1057.8 748.6 1056 753.6 1055.4 758.7 1056 764.1 1057.9 781.3 1067.6 789.3 1071.2 796.9 1073.4 805.7 1074.7 827.6 1075.4 973.3 1075.4" stroke="#3cb46e" stroke-width="2.6" fill="none" stroke-linejoin="round" stroke-linecap="round"/><path d="M595.7 1075.4 786.4 1075.2 790.2 1074.2 792.7 1072 794.8 1068.7 799.4 1058.8 800.7 1057.1 801.9 1056.4 803.2 1056.9 804.5 1058.5 809.1 1068.2 811.6 1072.3 814.1 1074.3 817.5 1075.2 973.3 1075.4" stroke="#ff8000" stroke-width="2.6" fill="none" stroke-linejoin="round" stroke-linecap="round"/><path d="M595.7 1075.3 752.8 1074.8 779.2 1073.8 787.2 1073 792.7 1071.9 796.5 1070.4 799.4 1068.1 801.9 1064.9 804.5 1060.2 809.1 1046.4 816.6 1015.5 818.7 1010 820.4 1008.4 821.7 1009.9 822.9 1014.3 828.8 1048.5 831.8 1060.7 835.1 1068.1 837.2 1070.4 839.7 1071.9 843.5 1073 849 1073.8 867 1074.8 973.3 1075.3" stroke="#1a6fe8" stroke-width="2.6" fill="none" stroke-linejoin="round" stroke-linecap="round"/><path d="M595.7 1075.4 731.4 1075.4 740.2 1074.9 746.1 1073.6 749.4 1071.7 752.4 1069.1 755.3 1065.1 757.8 1060.4 762.9 1047.1 773.8 1011.1 777.1 1004.3 778.8 1002.6 780.1 1002.1 781.3 1002.4 783 1003.9 786.4 1010.4 789.3 1019 797.7 1047.5 802.8 1060.7 805.3 1065.3 808.2 1069.2 811.2 1071.8 814.5 1073.6 820.4 1075 829.2 1075.4 973.3 1075.4" stroke="#f03c3c" stroke-width="2.6" fill="none" stroke-linejoin="round" stroke-linecap="round"/><path d="M595.7 1075.3 695.7 1074.9 709.9 1073.3 715.8 1071.7 721.7 1069.5 730.5 1064.7 744 1056 749.4 1051.6 753.6 1046.9 757.4 1040.9 760.8 1033.6 773.4 998.6 776.3 993.5 778 992.1 779.2 991.8 781.8 993.3 784.3 997.5 791.9 1018.5 794.4 1023.8 796.5 1026.1 801.9 1028.2 807.4 1033.7 808.7 1033.7 809.5 1033.1 811.2 1030.4 818.3 1009.8 820 1007.9 821.3 1008.6 823.4 1016.1 828.4 1046.2 831.3 1059.2 833 1064.1 835.1 1068.1 837.2 1070.4 839.7 1071.9 843.5 1073 849 1073.8 867 1074.8 973.3 1075.3" stroke="#b070e8" stroke-width="3.0" fill="none" stroke-linejoin="round" stroke-linecap="round"/></g><rect x="595.7" y="805.3" width="377.6" height="279.2" stroke="#000" stroke-width="2.6" fill="none"/><line x1="637.6" y1="1084.5" x2="637.6" y2="1092" stroke="#000" stroke-width="2.2" stroke-linecap="butt"/><line x1="721.5" y1="1084.5" x2="721.5" y2="1092" stroke="#000" stroke-width="2.2" stroke-linecap="butt"/><line x1="805.4" y1="1084.5" x2="805.4" y2="1092" stroke="#000" stroke-width="2.2" stroke-linecap="butt"/><line x1="889.3" y1="1084.5" x2="889.3" y2="1092" stroke="#000" stroke-width="2.2" stroke-linecap="butt"/><line x1="973.2" y1="1084.5" x2="973.2" y2="1092" stroke="#000" stroke-width="2.2" stroke-linecap="butt"/><line x1="679.6" y1="1084.5" x2="679.6" y2="1088.5" stroke="#000" stroke-width="2.2" stroke-linecap="butt"/><line x1="763.5" y1="1084.5" x2="763.5" y2="1088.5" stroke="#000" stroke-width="2.2" stroke-linecap="butt"/><line x1="847.4" y1="1084.5" x2="847.4" y2="1088.5" stroke="#000" stroke-width="2.2" stroke-linecap="butt"/><line x1="931.2" y1="1084.5" x2="931.2" y2="1088.5" stroke="#000" stroke-width="2.2" stroke-linecap="butt"/><text x="629.6" y="1113.6" font-size="23.2" font-weight="normal" fill="#000" text-anchor="middle">500</text><text x="713.5" y="1113.6" font-size="23.2" font-weight="normal" fill="#000" text-anchor="middle">1000</text><text x="797.4" y="1113.6" font-size="23.2" font-weight="normal" fill="#000" text-anchor="middle">1500</text><text x="881.3" y="1113.6" font-size="23.2" font-weight="normal" fill="#000" text-anchor="middle">2000</text><text x="965.2" y="1113.6" font-size="23.2" font-weight="normal" fill="#000" text-anchor="middle">2500</text><text x="599.1" y="855.9" font-size="21.5" font-weight="bold" fill="#3b7585" textLength="143.6" lengthAdjust="spacingAndGlyphs">CA-Fe@BC-0g</text><text x="599.1" y="940.6" font-size="21.5" font-weight="bold" fill="#00c800" textLength="160.8" lengthAdjust="spacingAndGlyphs">CA-Fe@BC-7.5g</text><text x="599.2" y="1034.9" font-size="21.5" font-weight="bold" fill="#ff0000" textLength="154.5" lengthAdjust="spacingAndGlyphs">CA-Fe@BC-10g</text><text x="0" y="0" font-size="24" font-weight="bold" fill="#3b7585" text-anchor="start" transform="translate(854.0 855.6)"><tspan font-style="italic">I</tspan><tspan font-size="17" dy="5.5">D</tspan><tspan dy="-5.5">/</tspan><tspan font-style="italic">I</tspan><tspan font-size="17" dy="5.5">G</tspan><tspan dy="-5.5">=1.04</tspan></text><text x="0" y="0" font-size="24" font-weight="bold" fill="#00c800" text-anchor="start" transform="translate(856.0 941.2)"><tspan font-style="italic">I</tspan><tspan font-size="17" dy="5.5">D</tspan><tspan dy="-5.5">/</tspan><tspan font-style="italic">I</tspan><tspan font-size="17" dy="5.5">G</tspan><tspan dy="-5.5">=1.19</tspan></text><text x="0" y="0" font-size="24" font-weight="bold" fill="#ff0000" text-anchor="start" transform="translate(858.7 1035.3)"><tspan font-style="italic">I</tspan><tspan font-size="17" dy="5.5">D</tspan><tspan dy="-5.5">/</tspan><tspan font-style="italic">I</tspan><tspan font-size="17" dy="5.5">G</tspan><tspan dy="-5.5">=1.40</tspan></text><text x="757.7" y="918.2" font-size="24" font-weight="bold" fill="#ff0000" font-style="italic" textLength="14.7" lengthAdjust="spacingAndGlyphs">D</text><text x="792.6" y="918.8" font-size="24" font-weight="bold" fill="#ff8000" font-style="italic" textLength="26.1" lengthAdjust="spacingAndGlyphs">D”</text><text x="835.3" y="960.4" font-size="24" font-weight="bold" fill="#1a6fe8" font-style="italic" textLength="16.2" lengthAdjust="spacingAndGlyphs">G</text><text x="722.8" y="966.9" font-size="24" font-weight="bold" fill="#3cb46e" font-style="italic" textLength="23.2" lengthAdjust="spacingAndGlyphs">D*</text><text x="0" y="0" font-size="36" font-weight="bold" fill="#000" text-anchor="start" transform="translate(639.2 1145.8)"><tspan>Roman shift (cm</tspan><tspan font-size="23" dy="-12.5">-1</tspan><tspan dy="12.5">)</tspan></text><text x="550.2" y="1074.7" font-size="39.7" font-weight="bold" fill="#000" textLength="264.2" lengthAdjust="spacingAndGlyphs" transform="rotate(-90 550.2 1074.7)">Intensity (a.u.)</text><text x="515.5" y="760.0" font-size="48" font-weight="bold" fill="#000" textLength="47.1" lengthAdjust="spacingAndGlyphs">(f)</text><text x="-2.1" y="760.4" font-size="47.5" font-weight="bold" fill="#000">(e)</text><g clip-path="url(#cp12)"><path d="M1159.5 237.8 1181.8 235.5 1193.7 233.6 1200.9 231.4 1206.4 227.7 1211.2 222.2 1216 213.5 1220 203.8 1227.1 183.8 1230.3 176.5 1232.7 173.1 1235.1 172 1237.5 173.5 1240.7 178.9 1251 206 1255.8 216.1 1258.2 219.8 1261.4 223.6 1264.5 226.2 1267.7 227.8 1271.7 229 1276.5 229.6 1290 229.6 1305.1 228.3 1342.5 224 1360.8 222.4 1279.7 232 1201.7 235.9 1159.5 238.6Z" fill="url(#lg13)" stroke="none"/><path d="M1159.5 237.8 1181.8 235.5 1193.7 233.6 1200.9 231.4 1206.4 227.7 1211.2 222.2 1216 213.5 1220 203.8 1227.1 183.8 1230.3 176.5 1232.7 173.1 1235.1 172 1237.5 173.5 1240.7 178.9 1251 206 1255.8 216.1 1258.2 219.8 1261.4 223.6 1264.5 226.2 1267.7 227.8 1271.7 229 1276.5 229.6 1290 229.6 1305.1 228.3 1342.5 224 1360.8 222.4" stroke="#ff1a1a" stroke-width="2.4" fill="none" stroke-linejoin="round" stroke-linecap="round"/><path d="M1178.6 237 1227.1 233.2 1235.1 231.6 1239.9 229.3 1243.8 225.3 1247.8 218 1251 209.4 1258.2 186 1260.6 181 1262.2 179.6 1262.9 179.7 1264.5 180.9 1266.9 185.2 1274.9 207.9 1278.9 217.1 1282.8 223 1285.2 225.2 1287.6 226.6 1293.2 228.1 1301.9 228.1 1354.5 223 1297.2 230.2 1279.7 232 1178.6 237.3Z" fill="url(#lg14)" stroke="none"/><path d="M1178.6 237 1227.1 233.2 1235.1 231.6 1239.9 229.3 1243.8 225.3 1247.8 218 1251 209.4 1258.2 186 1260.6 181 1262.2 179.6 1262.9 179.7 1264.5 180.9 1266.9 185.2 1274.9 207.9 1278.9 217.1 1282.8 223 1285.2 225.2 1287.6 226.6 1293.2 228.1 1301.9 228.1 1354.5 223" stroke="#1e6fe0" stroke-width="2.4" fill="none" stroke-linejoin="round" stroke-linecap="round"/><path d="M1165.9 237.9 1237.5 232.5 1248.6 230.7 1252.6 229.3 1255.8 227.6 1259 225 1261.4 222.2 1266.1 213.6 1270.9 200.6 1279.7 171.6 1282.8 164.8 1284.4 163.4 1285.2 163.2 1287.6 164.4 1290.8 169.2 1302.7 199.5 1308.3 210.6 1310.7 214.1 1313.9 217.6 1317.1 219.9 1320.2 221.4 1326.6 222.8 1336.2 222.9 1428.5 218.1 1385.5 220.8 1348.9 223.7 1295.6 230.4 1278.1 232.2 1203.3 235.8 1165.9 238.2Z" fill="url(#lg15)" stroke="none"/><path d="M1165.9 237.9 1237.5 232.5 1248.6 230.7 1252.6 229.3 1255.8 227.6 1259 225 1261.4 222.2 1266.1 213.6 1270.9 200.6 1279.7 171.6 1282.8 164.8 1284.4 163.4 1285.2 163.2 1287.6 164.4 1290.8 169.2 1302.7 199.5 1308.3 210.6 1310.7 214.1 1313.9 217.6 1317.1 219.9 1320.2 221.4 1326.6 222.8 1336.2 222.9 1428.5 218.1" stroke="#b070e8" stroke-width="2.4" fill="none" stroke-linejoin="round" stroke-linecap="round"/><path d="M1159.5 238.2 1229.5 233.3 1247.8 231.6 1262.9 228.9 1267.7 227.2 1271.7 224.7 1274.9 221.5 1278.1 216.8 1282.8 205.4 1288.4 184.3 1298.8 134.1 1301.9 124.9 1302.7 123.7 1304.3 123 1305.9 123.4 1308.3 125.6 1312.3 132.7 1316.3 142.8 1328.2 177.8 1332.2 187.7 1336.2 196 1339.3 201.4 1343.3 206.7 1347.3 210.6 1352.1 213.8 1356.8 215.8 1361.6 217 1375.9 218.1 1477 216.4 1477 217 1425.3 218.6 1386.3 220.8 1343.3 224.3 1297.2 230.2 1278.9 232.1 1201.7 235.9 1159.5 238.6Z" fill="url(#lg16)" stroke="none"/><path d="M1159.5 238.2 1229.5 233.3 1247.8 231.6 1262.9 228.9 1267.7 227.2 1271.7 224.7 1274.9 221.5 1278.1 216.8 1282.8 205.4 1288.4 184.3 1298.8 134.1 1301.9 124.9 1302.7 123.7 1304.3 123 1305.9 123.4 1308.3 125.6 1312.3 132.7 1316.3 142.8 1328.2 177.8 1332.2 187.7 1336.2 196 1339.3 201.4 1343.3 206.7 1347.3 210.6 1352.1 213.8 1356.8 215.8 1361.6 217 1375.9 218.1 1477 216.4" stroke="#d0a020" stroke-width="2.4" fill="none" stroke-linejoin="round" stroke-linecap="round"/><path d="M1170.6 237.5 1248.6 232.8 1271.7 230.8 1282.8 229.3 1291.6 227.5 1298.8 225.1 1303.5 222.6 1307.5 219.2 1310.7 215.3 1313.9 209.8 1317.1 202.3 1322.6 183.9 1334.6 132.8 1337.7 124.3 1339.3 122.2 1340.9 121.8 1343.3 122.2 1345.7 123.7 1350.5 129 1356 138.5 1371.2 170 1379.1 184.6 1383.9 191.7 1387.9 196.7 1392.7 201.6 1397.4 205.4 1402.2 208.2 1407.8 210.6 1414.1 212.3 1421.3 213.5 1439.6 214.7 1477 215.2 1477 217 1413.3 219.1 1351.3 223.5 1294.8 230.5 1277.3 232.2 1170.6 237.8Z" fill="url(#lg17)" stroke="none"/><path d="M1170.6 237.5 1248.6 232.8 1271.7 230.8 1282.8 229.3 1291.6 227.5 1298.8 225.1 1303.5 222.6 1307.5 219.2 1310.7 215.3 1313.9 209.8 1317.1 202.3 1322.6 183.9 1334.6 132.8 1337.7 124.3 1339.3 122.2 1340.9 121.8 1343.3 122.2 1345.7 123.7 1350.5 129 1356 138.5 1371.2 170 1379.1 184.6 1383.9 191.7 1387.9 196.7 1392.7 201.6 1397.4 205.4 1402.2 208.2 1407.8 210.6 1414.1 212.3 1421.3 213.5 1439.6 214.7 1477 215.2" stroke="#20f4f4" stroke-width="2.4" fill="none" stroke-linejoin="round" stroke-linecap="round"/><path d="M1126 211.9 1128 211.9 1130 216.7 1132 203.8 1134 206.2 1136 203.8 1138 194.4 1140 214.2 1142 200.9 1144 180 1146 186.4 1148 185.1 1150 181.7 1152 191.5 1154 187.6 1156 200.1 1158 204 1160 206.8 1162 230 1164 220.5 1166 181.4 1168 156.9 1170 173.7 1172 171.3 1174 188.1 1176 184 1178 172.7 1180 187.8 1182 196.8 1184 185.4 1186 183.6 1188 201.2 1190 181.5 1192 185.7 1194 207.1 1196 188.4 1198 166.3 1200 151.4 1202 147.5 1204 159.6 1206 169.2 1208 180.3 1210 172.6 1212 161.8 1214 176 1216 183.1 1218 189.1 1220 195.7 1222 162.7 1224 138.2 1226 150.8 1228 147.8 1230 147.1 1232 153.3 1234 154.1 1236 153.7 1238 147.1 1240 136.9 1242 130.2 1244 137.5 1246 159.3 1248 151.4 1250 149.9 1252 150.1 1254 133.3 1256 136.1 1258 145.5 1260 139.4 1262 134.8 1264 145.1 1266 146.1 1268 139.8 1270 135.5 1272 137.2 1274 135.9 1276 127.8 1278 115.2 1280 93.5 1282 83.1 1284 93.5 1286 102.3 1288 111.8 1290 99.8 1292 79.8 1294 69.9 1296 76.6 1298 74.4 1300 60.6 1302 66.2 1304 68.5 1306 83.1 1308 94.2 1310 84.7 1312 91.9 1314 96.3 1316 102.6 1318 116.3 1320 108.1 1322 103.2 1324 110.3 1326 105.3 1328 108.2 1330 111.3 1332 102.4 1334 97.8 1336 97.2 1338 103.2 1340 106.6 1342 109.2 1344 114.8 1346 115.6 1348 109.9 1350 115.5 1352 119.3 1354 123.3 1356 132.8 1358 136.2 1360 143 1362 145.3 1364 141.9 1366 151 1368 174.7 1370 171.8 1372 165.5 1374 180 1376 184.9 1378 183.2 1380 180.5 1382 206.5 1384 218.7 1386 205.7 1388 210.6 1390 188.8 1392 182.6 1394 208.7 1396 209.5 1398 193.3 1400 181.9 1402 189.8 1404 200.3 1406 212.8 1408 195.1 1410 182 1412 193.9 1414 199.5 1416 211.8 1418 214.3 1420 221.5 1422 211.8 1424 187 1426 192.5 1428 204.8 1430 207.6 1432 202 1434 202.9 1436 205.3 1438 205.7 1440 210.6 1442 202.8 1444 204.3 1446 194.5 1448 186.9 1450 203.9 1452 215.6 1454 206.9 1456 199 1458 205.1 1460 192.7 1462 177.3 1464 206.7 1466 246.5 1468 243 1470 215.1 1472 220.6 1474 212.9 1476 202.9 1478 228.6 1330 135.6 1406.8 236.1 1459.6 236.1 1298 135.6 1127 215 1129 225.4 1131 222.3 1133 202.2 1135 191.7 1137 204.6 1139 215.6 1141 204.4 1143 201.1 1145 204.4 1147 205 1149 198.5 1151 188.3 1153 200.5 1155 177.9 1157 163.9 1159 189.4 1161 224.7 1163 210.8 1165 191.2 1167 209.8 1169 191.7 1171 193.3 1173 218 1175 214.6 1177 193.9 1179 185.1 1181 190.5 1183 190.3 1185 170.5 1187 149.8 1189 162.3 1191 156.6 1193 160.5 1195 190.1 1197 155.3 1199 147.9 1201 141.6 1203 158.4 1205 211.1 1207 206.6 1209 222.3 1211 183.6 1213 126.9 1215 159.8 1217 165.9 1219 155.7 1221 180.5 1223 176.2 1225 163.7 1227 155.3 1229 119.6 1231 149.4 1233 167.1 1235 154.1 1237 150.6 1239 145.8 1241 134 1243 144.2 1245 155.6 1247 142.2 1249 143.7 1251 156.6 1253 148.5 1255 139.6 1257 137 1259 149.7 1261 147.8 1263 130.9 1265 145.7 1267 146.9 1269 129 1271 125.7 1273 124.5 1275 131.5 1277 136.5 1279 131.7 1281 118.3 1283 89.1 1285 89.7 1287 106.3 1289 92 1291 78.5 1293 74.9 1295 71.6 1297 69.1 1299 84.5 1301 65.7 1303 50.8 1305 70.5 1307 80.7 1309 95.5 1311 93.9 1313 93.6 1315 103.8 1317 110.5 1319 122.9 1321 117 1323 109.5 1325 117.5 1327 104.1 1329 99 1331 107.1 1333 107.7 1335 114 1337 105.6 1339 87.7 1341 88 1343 108 1345 122.2 1347 109.2 1349 101.3 1351 114.8 1353 130.9 1355 147.2 1357 143.3 1359 142.6 1361 156.8 1363 154.3 1365 154.4 1367 168.8 1369 173.1 1371 175.6 1373 185.6 1375 171.6 1377 174.8 1379 191.2 1381 175.3 1383 181.7 1385 205.5 1387 200.2 1389 173.5 1391 148.9 1393 177.2 1395 212.2 1397 205.3 1399 188.5 1401 181.1 1403 176 1405 191.6 1407 200.3 1409 207.2 1411 214.8 1413 198.1 1415 202.2 1417 188 1419 166.7 1421 175.7 1423 189.9 1425 172.8 1427 169.9 1429 183.7 1431 200.7 1433 215.5 1435 206.7 1437 208.6 1439 202.5 1441 188.8 1443 182.2 1445 210.1 1447 226.7 1449 205.9 1451 200.2 1453 202.5 1455 199.8 1457 212.3 1459 220.5 1461 222 1463 193.8 1465 182.6 1467 198.3 1469 189.5 1471 199.8 1473 237.2 1475 250.4 1477 220.8 1479 204.4" fill="none" stroke="none" marker-start="url(#mk18)" marker-mid="url(#mk18)" marker-end="url(#mk18)"/><path d="M1159.5 238.6 1202 235.9 1279.5 232 1297.5 230.2 1344.3 224.2 1389.9 220.5 1427.1 218.5 1477 217" stroke="#1a8a1a" stroke-width="2.6" fill="none" stroke-linejoin="round" stroke-linecap="round"/><path d="M1159.5 237.3 1172.2 236.6 1185 234.6 1200.9 229.8 1204.1 227.4 1207.2 223 1209.6 218.1 1218.4 181.2 1224.8 161.6 1228.7 152.9 1230.3 151.1 1231.9 150.4 1236.7 149 1240.7 148.5 1243.1 149 1249.4 152.9 1251.8 152.9 1254.2 149.5 1258.2 140.3 1260.6 136.1 1262.9 134.7 1269.3 132.8 1271.7 131.4 1274.9 125.7 1282.8 102.6 1290.8 85.6 1295.6 77.3 1298 74.9 1299.6 74.2 1301.1 74.3 1303.5 76 1309.9 84.5 1312.3 89.8 1319.4 109.7 1322.6 114.9 1323.4 115.4 1325 115.3 1327.4 113.9 1335.4 104.7 1338.5 102.1 1340.1 101.7 1341.7 102.2 1344.1 104.7 1348.1 112.7 1357.6 138.3 1365.6 164.1 1368.8 172.4 1378.3 189.1 1383.1 195.4 1387.1 199.4 1393.4 203.4 1400.6 206.8 1408.6 209.6 1416.5 211.4 1438.8 214.4 1461.1 216 1477 216.5" stroke="#108010" stroke-width="3.2" fill="none" stroke-linejoin="round" stroke-linecap="round"/></g><g clip-path="url(#cp19)"><path d="M1103 451.1 1150.1 450.4 1179.3 448.7 1188.8 447.4 1195.4 445.9 1200.1 443.9 1203.8 440.9 1206.7 437.2 1209.5 431.6 1212.3 423.3 1214.2 416 1218.9 390.6 1229.3 317.4 1232.1 306.6 1233 305.3 1234 305.2 1235.9 308 1238.7 319 1249.1 384 1253.8 407.2 1256.6 417.1 1259.4 424.3 1262.3 429.2 1266 433.3 1269.8 435.6 1274.5 437 1281.1 438 1290.5 438.5 1414 438.3 1328.2 439.8 1292.4 441.2 1267.9 443 1213.3 449.9 1200.1 451 1103 451.6Z" fill="url(#lg13)" stroke="none"/><path d="M1103 451.1 1150.1 450.4 1179.3 448.7 1188.8 447.4 1195.4 445.9 1200.1 443.9 1203.8 440.9 1206.7 437.2 1209.5 431.6 1212.3 423.3 1214.2 416 1218.9 390.6 1229.3 317.4 1232.1 306.6 1233 305.3 1234 305.2 1235.9 308 1238.7 319 1249.1 384 1253.8 407.2 1256.6 417.1 1259.4 424.3 1262.3 429.2 1266 433.3 1269.8 435.6 1274.5 437 1281.1 438 1290.5 438.5 1414 438.3" stroke="#ff1a1a" stroke-width="2.4" fill="none" stroke-linejoin="round" stroke-linecap="round"/><path d="M1152.9 451.2 1195.4 450.3 1207.6 449.3 1218.9 447.3 1228.3 444.9 1234 442.6 1237.8 440 1240.6 436.4 1242.5 432.7 1246.2 421 1250 401.7 1257.5 351.2 1259.4 343.1 1260.4 341 1261.3 340.3 1262.3 341 1263.2 342.8 1265.1 349.6 1273.6 399.2 1277.3 416.2 1281.1 427 1283 430.4 1285.8 433.8 1288.6 435.7 1292.4 437.1 1303.7 438.4 1328.2 438.9 1381 438.7 1319.7 440 1296.2 441 1267.9 443 1203.8 450.8 1152.9 451.5Z" fill="url(#lg14)" stroke="none"/><path d="M1152.9 451.2 1195.4 450.3 1207.6 449.3 1218.9 447.3 1228.3 444.9 1234 442.6 1237.8 440 1240.6 436.4 1242.5 432.7 1246.2 421 1250 401.7 1257.5 351.2 1259.4 343.1 1260.4 341 1261.3 340.3 1262.3 341 1263.2 342.8 1265.1 349.6 1273.6 399.2 1277.3 416.2 1281.1 427 1283 430.4 1285.8 433.8 1288.6 435.7 1292.4 437.1 1303.7 438.4 1328.2 438.9 1381 438.7" stroke="#1e6fe0" stroke-width="2.4" fill="none" stroke-linejoin="round" stroke-linecap="round"/><path d="M1183.1 450.9 1203.8 450.3 1225.5 447.4 1249.1 443.1 1254.7 441.3 1259.4 438.7 1264.1 433.6 1267 428.4 1268.9 423.8 1272.6 411.6 1281.1 378.2 1283 373.6 1284.9 371.7 1286.8 372.5 1289.6 377.4 1300 410.1 1304.7 422.1 1309.4 429.7 1312.2 432.6 1315 434.5 1318.8 436 1322.6 436.9 1334.8 437.9 1359.3 438.4 1407.4 438.4 1327.3 439.8 1294.3 441.1 1267 443.2 1207.6 450.5 1183.1 451.2Z" fill="url(#lg15)" stroke="none"/><path d="M1183.1 450.9 1203.8 450.3 1225.5 447.4 1249.1 443.1 1254.7 441.3 1259.4 438.7 1264.1 433.6 1267 428.4 1268.9 423.8 1272.6 411.6 1281.1 378.2 1283 373.6 1284.9 371.7 1286.8 372.5 1289.6 377.4 1300 410.1 1304.7 422.1 1309.4 429.7 1312.2 432.6 1315 434.5 1318.8 436 1322.6 436.9 1334.8 437.9 1359.3 438.4 1407.4 438.4" stroke="#b070e8" stroke-width="2.4" fill="none" stroke-linejoin="round" stroke-linecap="round"/><path d="M1185.9 450.9 1206.7 450.1 1238.7 445.7 1256.6 442.4 1262.3 440.8 1267 438.9 1272.6 435.1 1278.3 428.8 1283 421.2 1294.3 398.9 1297.1 395.3 1300 393.8 1301.8 393.9 1304.7 394.8 1309.4 398.2 1314.1 403.2 1327.3 419 1335.8 426.9 1343.3 431.6 1352.7 434.9 1364 436.7 1381.9 437.5 1479 438 1479 438.3 1357.4 439.2 1305.6 440.5 1268.9 443 1206.7 450.5 1185.9 451.2Z" fill="url(#lg16)" stroke="none"/><path d="M1185.9 450.9 1206.7 450.1 1238.7 445.7 1256.6 442.4 1262.3 440.8 1267 438.9 1272.6 435.1 1278.3 428.8 1283 421.2 1294.3 398.9 1297.1 395.3 1300 393.8 1301.8 393.9 1304.7 394.8 1309.4 398.2 1314.1 403.2 1327.3 419 1335.8 426.9 1343.3 431.6 1352.7 434.9 1364 436.7 1381.9 437.5 1479 438" stroke="#d0a020" stroke-width="2.4" fill="none" stroke-linejoin="round" stroke-linecap="round"/><path d="M1267.9 442.8 1300.9 439.8 1313.1 437.6 1317.9 435.9 1322.6 433.6 1338.6 422.9 1341.4 421.8 1344.2 421.4 1349 421.7 1354.6 422.8 1381.9 432.4 1390.4 434.6 1399.8 436.2 1410.2 437.1 1423.4 437.6 1479 438 1479 438.3 1396.1 438.8 1328.2 439.8 1298.1 440.9 1267.9 443Z" fill="url(#lg17)" stroke="none"/><path d="M1267.9 442.8 1300.9 439.8 1313.1 437.6 1317.9 435.9 1322.6 433.6 1338.6 422.9 1341.4 421.8 1344.2 421.4 1349 421.7 1354.6 422.8 1381.9 432.4 1390.4 434.6 1399.8 436.2 1410.2 437.1 1423.4 437.6 1479 438" stroke="#20f4f4" stroke-width="2.4" fill="none" stroke-linejoin="round" stroke-linecap="round"/><path d="M1103 452 1105 451.7 1107 452 1109 455.3 1111 453.5 1113 450 1115 453.6 1117 455.6 1119 451.5 1121 451 1123 451 1125 449 1127 450.3 1129 447.4 1131 443.5 1133 446.2 1135 447.5 1137 449.2 1139 449.4 1141 445.9 1143 450.6 1145 452.9 1147 450.1 1149 447.6 1151 446.4 1153 449.3 1155 448.1 1157 448.6 1159 449.6 1161 448.2 1163 448.1 1165 452.3 1167 453.4 1169 447.6 1171 449.1 1173 448.7 1175 447.4 1177 445.8 1179 442.6 1181 446.7 1183 450.6 1185 450.4 1187 448.5 1189 447.3 1191 444.3 1193 442.7 1195 443.4 1197 445 1199 444.3 1201 436 1203 432 1205 428.9 1207 420 1209 414.6 1211 410.9 1213 404.9 1215 394.6 1217 384.6 1219 377.4 1221 366 1223 348.5 1225 331 1227 313.7 1229 300.4 1231 298 1233 298.5 1235 295.2 1237 295.4 1239 298.5 1241 297.9 1243 300.4 1245 306.7 1247 308 1249 309.8 1251 305.5 1253 303.6 1255 308.1 1257 305 1259 304.7 1261 302.1 1263 303 1265 309.8 1267 315.5 1269 315.9 1271 313.3 1273 315.2 1275 320.6 1277 324.2 1279 323.1 1281 325 1283 327.3 1285 329 1287 328.4 1289 327.1 1291 330.6 1293 332.9 1295 340 1297 349.7 1299 355.4 1301 360.1 1303 362.5 1305 367.5 1307 374.6 1309 377.9 1311 381.3 1313 386.2 1315 392.7 1317 395 1319 394.9 1321 397.8 1323 396.8 1325 399.7 1327 405.6 1329 412.1 1331 412.9 1333 409.7 1335 411.1 1337 409.1 1339 412.4 1341 417.2 1343 417.6 1345 415.6 1347 418.2 1349 418.8 1351 418.7 1353 427.2 1355 425.4 1357 421.1 1359 424.4 1361 425.6 1363 423.4 1365 425.5 1367 427.5 1369 429.1 1371 430.2 1373 433 1375 433.9 1377 430.6 1379 434.1 1381 432.6 1383 431.8 1385 437.1 1387 433.8 1389 431.9 1391 435.8 1393 437.3 1395 434.6 1397 430.6 1399 434.4 1401 437.8 1403 437.4 1405 437.7 1407 436.1 1409 436 1411 438.1 1413 436.3 1415 439.6 1417 442 1419 436.1 1421 436.5 1423 437.1 1425 437.4 1427 441.7 1429 438.5 1431 438.2 1433 440.7 1435 440.4 1437 443.4 1439 441.3 1441 436.1 1443 434.9 1445 434.8 1447 436.4 1449 438.8 1451 439.5 1453 440.5 1455 440 1457 441.3 1459 440.7 1461 443.3 1463 445 1465 438 1467 434.6 1469 437.3 1471 439 1473 439.5 1475 440.8 1477 439.3 1479 436.7" fill="none" stroke="none" marker-start="url(#mk20)" marker-mid="url(#mk20)" marker-end="url(#mk20)"/><path d="M1103 451.6 1201.1 450.9 1213.7 449.8 1271.5 442.7 1314.3 440.2 1370.9 439.1 1479 438.3" stroke="#1a8a1a" stroke-width="2.6" fill="none" stroke-linejoin="round" stroke-linecap="round"/><path d="M1103 451 1148.2 450.3 1181.2 449 1192.5 447.3 1195.4 445.4 1198.2 442.5 1201.9 437.2 1203.8 432.6 1217 386.7 1219.9 371.9 1228.3 307.8 1232.1 295.9 1234 292.9 1234.9 292.6 1237.8 294.3 1243.4 301.4 1249.1 306.9 1251.9 307.5 1258.5 305.1 1261.3 306 1278.3 322.9 1281.1 325.1 1286.8 327.7 1289.6 329.8 1291.5 333 1293.4 337.6 1300 357.7 1307.5 377.2 1310.3 382.2 1316.9 390.7 1323.5 401.5 1326.3 405 1329.2 407.2 1343.3 414.8 1355.6 423.4 1365.9 428.9 1373.5 431.9 1395.1 435.5 1409.3 436.9 1423.4 437.7 1479 438.5" stroke="#108010" stroke-width="3.2" fill="none" stroke-linejoin="round" stroke-linecap="round"/></g><g clip-path="url(#cp21)"><path d="M1103 677.1 1149.2 676 1178.4 673.9 1187.8 672.4 1194.4 670.7 1199.1 668.4 1202.9 665.2 1205.7 661.2 1208.5 655.2 1211.4 646.6 1214.2 634.9 1218.9 607.5 1228.3 539.3 1231.2 526 1233 522.1 1234 521.9 1234.9 522.7 1236.8 527 1239.6 539.2 1250 603.7 1254.7 626.5 1257.5 636.5 1260.4 643.7 1264.1 650 1267.9 653.5 1272.6 655.4 1279.2 656 1309.4 653.5 1337.6 652.6 1368.7 652 1428.1 651.8 1356.5 652.9 1308.4 655.5 1291.5 658.3 1260.4 665.6 1223.6 673.4 1205.7 676 1159.5 677.2 1103 677.6Z" fill="url(#lg13)" stroke="none"/><path d="M1103 677.1 1149.2 676 1178.4 673.9 1187.8 672.4 1194.4 670.7 1199.1 668.4 1202.9 665.2 1205.7 661.2 1208.5 655.2 1211.4 646.6 1214.2 634.9 1218.9 607.5 1228.3 539.3 1231.2 526 1233 522.1 1234 521.9 1234.9 522.7 1236.8 527 1239.6 539.2 1250 603.7 1254.7 626.5 1257.5 636.5 1260.4 643.7 1264.1 650 1267.9 653.5 1272.6 655.4 1279.2 656 1309.4 653.5 1337.6 652.6 1368.7 652 1428.1 651.8" stroke="#ff1a1a" stroke-width="2.4" fill="none" stroke-linejoin="round" stroke-linecap="round"/><path d="M1165.2 676.8 1200.1 675.6 1210.4 674.5 1218.9 672.8 1227.4 670.2 1233 667.8 1236.8 665.1 1239.6 661.8 1241.5 658.6 1245.3 648.8 1249.1 633.2 1256.6 594.4 1258.5 588.8 1259.4 587.4 1260.4 587.2 1262.3 589.5 1264.1 595 1271.7 627.6 1275.5 640.6 1279.2 648.7 1281.1 651.3 1283.9 653.6 1287.7 654.9 1292.4 655.2 1312.2 654 1364 652.4 1318.8 654.7 1302.8 656.2 1289.6 658.7 1260.4 665.6 1225.5 673 1210.4 675.6 1201 676.3 1165.2 677.1Z" fill="url(#lg14)" stroke="none"/><path d="M1165.2 676.8 1200.1 675.6 1210.4 674.5 1218.9 672.8 1227.4 670.2 1233 667.8 1236.8 665.1 1239.6 661.8 1241.5 658.6 1245.3 648.8 1249.1 633.2 1256.6 594.4 1258.5 588.8 1259.4 587.4 1260.4 587.2 1262.3 589.5 1264.1 595 1271.7 627.6 1275.5 640.6 1279.2 648.7 1281.1 651.3 1283.9 653.6 1287.7 654.9 1292.4 655.2 1312.2 654 1364 652.4" stroke="#1e6fe0" stroke-width="2.4" fill="none" stroke-linejoin="round" stroke-linecap="round"/><path d="M1188.8 676.3 1206.7 675.5 1221.7 673.1 1250 665.6 1255.7 663.4 1259.4 661 1264.1 655.9 1268.9 646.5 1272.6 635 1281.1 603.6 1283 599.2 1284.9 597.2 1285.8 597.2 1287.7 598.5 1290.5 603.5 1300 629.3 1304.7 639.4 1309.4 645.9 1312.2 648.3 1315 649.9 1320.7 651.5 1330.1 652.2 1400.8 652 1348 653.2 1307.5 655.6 1291.5 658.3 1259.4 665.8 1218.9 674.3 1205.7 676 1188.8 676.6Z" fill="url(#lg15)" stroke="none"/><path d="M1188.8 676.3 1206.7 675.5 1221.7 673.1 1250 665.6 1255.7 663.4 1259.4 661 1264.1 655.9 1268.9 646.5 1272.6 635 1281.1 603.6 1283 599.2 1284.9 597.2 1285.8 597.2 1287.7 598.5 1290.5 603.5 1300 629.3 1304.7 639.4 1309.4 645.9 1312.2 648.3 1315 649.9 1320.7 651.5 1330.1 652.2 1400.8 652" stroke="#b070e8" stroke-width="2.4" fill="none" stroke-linejoin="round" stroke-linecap="round"/><path d="M1206.7 675.7 1222.7 673.1 1254.7 665.6 1265.1 662.4 1271.7 659.2 1276.4 655.6 1281.1 650.1 1285.8 642.4 1296.2 622.2 1299 618.6 1301.8 617.2 1305.6 617.7 1310.3 620.6 1325.4 636.2 1332.9 642.6 1340.5 646.9 1348 649.2 1357.4 650.6 1372.5 651.3 1452.6 651.7 1362.1 652.7 1335.8 653.7 1310.3 655.3 1291.5 658.3 1260.4 665.6 1223.6 673.4 1206.7 676Z" fill="url(#lg16)" stroke="none"/><path d="M1206.7 675.7 1222.7 673.1 1254.7 665.6 1265.1 662.4 1271.7 659.2 1276.4 655.6 1281.1 650.1 1285.8 642.4 1296.2 622.2 1299 618.6 1301.8 617.2 1305.6 617.7 1310.3 620.6 1325.4 636.2 1332.9 642.6 1340.5 646.9 1348 649.2 1357.4 650.6 1372.5 651.3 1452.6 651.7" stroke="#d0a020" stroke-width="2.4" fill="none" stroke-linejoin="round" stroke-linecap="round"/><path d="M1258.5 665.7 1290.5 657.6 1304.7 653.5 1316 648.9 1332 640.4 1338.6 638.7 1345.2 638.8 1351.8 639.6 1383.8 647.2 1403.6 650.1 1428.1 651.3 1479 651.7 1479 652 1366.9 652.6 1316 654.9 1305.6 655.8 1295.2 657.5 1258.5 666Z" fill="url(#lg17)" stroke="none"/><path d="M1258.5 665.7 1290.5 657.6 1304.7 653.5 1316 648.9 1332 640.4 1338.6 638.7 1345.2 638.8 1351.8 639.6 1383.8 647.2 1403.6 650.1 1428.1 651.3 1479 651.7" stroke="#20f4f4" stroke-width="2.4" fill="none" stroke-linejoin="round" stroke-linecap="round"/><path d="M1103 672.7 1105 669.9 1107 667.9 1109 668.4 1111 671.1 1113 671.1 1115 669.9 1117 675.7 1119 677.4 1121 671.3 1123 667.3 1125 669.5 1127 666.4 1129 663.3 1131 668.9 1133 671 1135 674.8 1137 673.9 1139 666.8 1141 666.5 1143 669.4 1145 671.5 1147 677.2 1149 676.8 1151 671.6 1153 674.9 1155 674.6 1157 673.8 1159 675 1161 675.7 1163 671.1 1165 670.9 1167 673.9 1169 672.1 1171 671.3 1173 674.7 1175 670.3 1177 669.3 1179 672.3 1181 672 1183 676.1 1185 674 1187 672 1189 674 1191 669.2 1193 660.7 1195 658.9 1197 660.8 1199 657.2 1201 653.8 1203 651.1 1205 639.7 1207 630.8 1209 624.2 1211 614.9 1213 608.6 1215 603.9 1217 593.9 1219 578.5 1221 562.5 1223 548.1 1225 534.1 1227 523.7 1229 514.1 1231 501 1233 495 1235 497.6 1237 497.5 1239 499.9 1241 502.9 1243 507.4 1245 515.7 1247 525.1 1249 524.7 1251 522.1 1253 523.9 1255 525.2 1257 528.5 1259 532.4 1261 537.4 1263 538.8 1265 540.5 1267 547.6 1269 552.1 1271 554.9 1273 550.7 1275 551.5 1277 554 1279 546.8 1281 548.1 1283 547.8 1285 549.3 1287 551.1 1289 551.4 1291 551.9 1293 553.1 1295 558.6 1297 561.7 1299 569.9 1301 577.6 1303 580.6 1305 581.2 1307 587.7 1309 600.2 1311 601.8 1313 602.3 1315 600.4 1317 601.5 1319 607.1 1321 613.2 1323 620.1 1325 621.2 1327 621.8 1329 625.8 1331 625 1333 623.2 1335 628.6 1337 629.2 1339 628.3 1341 627.4 1343 627.5 1345 632 1347 628.6 1349 627.2 1351 631.5 1353 632.6 1355 639.3 1357 639.2 1359 639.4 1361 644.1 1363 641.4 1365 639.7 1367 640.9 1369 639.5 1371 641.4 1373 642.7 1375 641.9 1377 638.7 1379 637.2 1381 644.6 1383 644.7 1385 645 1387 647.2 1389 649.6 1391 654.6 1393 653.3 1395 650.7 1397 650.9 1399 651.4 1401 654.6 1403 661.2 1405 655.3 1407 646.8 1409 653.8 1411 653.9 1413 647.5 1415 655.9 1417 658.9 1419 653.4 1421 653.2 1423 655.5 1425 654.3 1427 657.5 1429 662.4 1431 658.1 1433 655.1 1435 655.6 1437 659.7 1439 666 1441 667.1 1443 663.2 1445 659.5 1447 659.9 1449 658.9 1451 656.5 1453 660 1455 660.5 1457 655.7 1459 650.2 1461 652.8 1463 656.7 1465 657.4 1467 657 1469 653.4 1471 655.6 1473 658.8 1475 650.7 1477 644.2 1479 649.5" fill="none" stroke="none" marker-start="url(#mk22)" marker-mid="url(#mk22)" marker-end="url(#mk22)"/><path d="M1103 677.6 1167.1 677.1 1208.6 675.8 1226.2 672.8 1260.2 665.6 1294.1 657.8 1304.2 656 1314.3 655 1341.9 653.4 1368.3 652.6 1479 652" stroke="#1a8a1a" stroke-width="2.6" fill="none" stroke-linejoin="round" stroke-linecap="round"/><path d="M1103 677.6 1121.8 677.2 1140.7 675.9 1159.5 673.8 1177.4 671 1183.1 669.3 1188.8 666.5 1194.4 662.5 1199.1 657.9 1201 654.5 1203.8 646.8 1210.4 623.1 1214.2 604.9 1218.9 578.4 1226.4 524.4 1231.2 506.6 1233 502.1 1234 500.9 1234.9 500.5 1235.9 501 1237.8 503.6 1244.4 519.6 1249.1 528.1 1250.9 530.6 1252.8 532.1 1261.3 537.1 1263.2 539.7 1267.9 548.8 1269.8 551.3 1270.7 551.9 1272.6 552 1286.8 550.8 1289.6 552.3 1293.4 556.6 1298.1 564.1 1307.5 592.6 1314.1 606.7 1320.7 617.7 1323.5 620.7 1327.3 623.4 1335.8 627.7 1349.9 632.9 1370.6 641.6 1387.6 647.2 1396.1 649.4 1401.7 650 1424.3 650.6 1479 651.2" stroke="#108010" stroke-width="3.2" fill="none" stroke-linejoin="round" stroke-linecap="round"/></g><rect x="1101.7" y="24.4" width="377.3" height="663.1" stroke="#000" stroke-width="2.2" fill="none"/><line x1="1101.7" y1="245.5" x2="1479" y2="245.5" stroke="#000" stroke-width="2.2" stroke-linecap="butt"/><line x1="1101.7" y1="466.6" x2="1479" y2="466.6" stroke="#000" stroke-width="2.2" stroke-linecap="butt"/><line x1="1101.7" y1="687.5" x2="1101.7" y2="695" stroke="#000" stroke-width="2.2" stroke-linecap="butt"/><text x="1101.7" y="715.3" font-size="23.2" font-weight="normal" fill="#000" text-anchor="middle">392</text><line x1="1185.7" y1="687.5" x2="1185.7" y2="695" stroke="#000" stroke-width="2.2" stroke-linecap="butt"/><text x="1185.7" y="715.3" font-size="23.2" font-weight="normal" fill="#000" text-anchor="middle">396</text><line x1="1269.7" y1="687.5" x2="1269.7" y2="695" stroke="#000" stroke-width="2.2" stroke-linecap="butt"/><text x="1269.7" y="715.3" font-size="23.2" font-weight="normal" fill="#000" text-anchor="middle">400</text><line x1="1353.7" y1="687.5" x2="1353.7" y2="695" stroke="#000" stroke-width="2.2" stroke-linecap="butt"/><text x="1353.7" y="715.3" font-size="23.2" font-weight="normal" fill="#000" text-anchor="middle">404</text><line x1="1437.7" y1="687.5" x2="1437.7" y2="695" stroke="#000" stroke-width="2.2" stroke-linecap="butt"/><text x="1437.7" y="715.3" font-size="23.2" font-weight="normal" fill="#000" text-anchor="middle">408</text><line x1="1143.7" y1="687.5" x2="1143.7" y2="691.5" stroke="#000" stroke-width="2.2" stroke-linecap="butt"/><line x1="1227.7" y1="687.5" x2="1227.7" y2="691.5" stroke="#000" stroke-width="2.2" stroke-linecap="butt"/><line x1="1311.7" y1="687.5" x2="1311.7" y2="691.5" stroke="#000" stroke-width="2.2" stroke-linecap="butt"/><line x1="1395.7" y1="687.5" x2="1395.7" y2="691.5" stroke="#000" stroke-width="2.2" stroke-linecap="butt"/><line x1="1479.7" y1="687.5" x2="1479.7" y2="691.5" stroke="#000" stroke-width="2.2" stroke-linecap="butt"/><text x="1111.5" y="50.2" font-size="21.5" font-weight="bold" fill="#000" textLength="163.7" lengthAdjust="spacingAndGlyphs">CA-Fe@BC-0g</text><text x="1112.0" y="271.2" font-size="21.5" font-weight="bold" fill="#000" textLength="183.4" lengthAdjust="spacingAndGlyphs">CA-Fe@BC-7.5g</text><text x="1115.8" y="491.8" font-size="21.5" font-weight="bold" fill="#000" textLength="177.0" lengthAdjust="spacingAndGlyphs">CA-Fe@BC-10g</text><text x="1102.7" y="330.2" font-size="21.5" font-weight="bold" fill="#ff1a1a" textLength="111.7" lengthAdjust="spacingAndGlyphs">Pyridine-N</text><text x="1287.4" y="318.9" font-size="21.5" font-weight="bold" fill="#1e6fe0" textLength="49.4" lengthAdjust="spacingAndGlyphs">Fe-N</text><text x="1309.9" y="342.8" font-size="21.5" font-weight="bold" fill="#b070e8" textLength="107.2" lengthAdjust="spacingAndGlyphs">Pyrrolic-N</text><text x="1333.1" y="376.7" font-size="21.5" font-weight="bold" fill="#d0a020" textLength="121.6" lengthAdjust="spacingAndGlyphs">Graphitic-N</text><text x="1354.5" y="410.1" font-size="21.5" font-weight="bold" fill="#20f4f4" textLength="116.6" lengthAdjust="spacingAndGlyphs">Oxidized-N</text><text x="1127.0" y="756.7" font-size="36" font-weight="bold" fill="#000">Binding Energy (eV)</text><text x="1055.3" y="492.6" font-size="39.7" font-weight="bold" fill="#000" textLength="262.6" lengthAdjust="spacingAndGlyphs" transform="rotate(-90 1055.3 492.6)">Intensity (a.u.)</text><text x="1011.5" y="35.0" font-size="50" font-weight="bold" fill="#000">(g)</text><g clip-path="url(#cp23)"><path d="M1626.6 197.4 1635.5 197.5 1641.1 197 1645.1 195.8 1649.2 193.5 1652.4 190.4 1655.6 186 1666.1 167.7 1668.5 165.1 1670.9 164.5 1674.1 165.7 1678.2 169 1692.7 187.2 1699.1 193.9 1705.5 198.7 1712.8 202.1 1721.7 204.4 1735.3 206.5 1804.6 213.4 1626.6 198.4Z" fill="url(#lg14)" stroke="none"/><path d="M1626.6 197.4 1635.5 197.5 1641.1 197 1645.1 195.8 1649.2 193.5 1652.4 190.4 1655.6 186 1666.1 167.7 1668.5 165.1 1670.9 164.5 1674.1 165.7 1678.2 169 1692.7 187.2 1699.1 193.9 1705.5 198.7 1712.8 202.1 1721.7 204.4 1735.3 206.5 1804.6 213.4" stroke="#1e6fe0" stroke-width="2.4" fill="none" stroke-linejoin="round" stroke-linecap="round"/><path d="M1626.6 198.1 1651.6 199.8 1666.9 200.3 1674.9 199.7 1679.8 197.7 1683.8 193.4 1687 187 1690.2 177.6 1696.7 154.6 1699.1 149.2 1700.7 148.2 1702.3 148.6 1704.7 150.1 1708.8 154.6 1724.1 181 1731.3 191.4 1738.6 198.6 1742.6 201.3 1747.4 203.7 1758.7 207 1778 209.9 1814.3 213.8 1876.3 219.5 1626.6 198.4Z" fill="url(#lg13)" stroke="none"/><path d="M1626.6 198.1 1651.6 199.8 1666.9 200.3 1674.9 199.7 1679.8 197.7 1683.8 193.4 1687 187 1690.2 177.6 1696.7 154.6 1699.1 149.2 1700.7 148.2 1702.3 148.6 1704.7 150.1 1708.8 154.6 1724.1 181 1731.3 191.4 1738.6 198.6 1742.6 201.3 1747.4 203.7 1758.7 207 1778 209.9 1814.3 213.8 1876.3 219.5" stroke="#ff1a1a" stroke-width="2.4" fill="none" stroke-linejoin="round" stroke-linecap="round"/><path d="M1628.2 198.2 1662 200.7 1681.4 201.5 1691.8 200.9 1695.1 200 1697.5 198.6 1699.9 196.4 1701.5 194.1 1704.7 187 1708.8 172.6 1716 139.6 1718.4 133.7 1720 133.2 1721.7 133.8 1724.1 135.6 1728.9 142.3 1745 175.3 1749.8 183.9 1753.9 189.9 1757.9 194.8 1762.7 199.4 1767.6 202.7 1772.4 205.1 1778.8 207.3 1786.1 209 1811.1 212.6 1857.8 217.5 1938.3 224.9 1628.2 198.5Z" fill="url(#lg24)" stroke="none"/><path d="M1628.2 198.2 1662 200.7 1681.4 201.5 1691.8 200.9 1695.1 200 1697.5 198.6 1699.9 196.4 1701.5 194.1 1704.7 187 1708.8 172.6 1716 139.6 1718.4 133.7 1720 133.2 1721.7 133.8 1724.1 135.6 1728.9 142.3 1745 175.3 1749.8 183.9 1753.9 189.9 1757.9 194.8 1762.7 199.4 1767.6 202.7 1772.4 205.1 1778.8 207.3 1786.1 209 1811.1 212.6 1857.8 217.5 1938.3 224.9" stroke="#ff8c1a" stroke-width="2.4" fill="none" stroke-linejoin="round" stroke-linecap="round"/><path d="M1665.3 201.4 1699.1 203.9 1719.2 205 1729.7 204.7 1736.1 203.2 1741 200 1745 194.9 1749.8 185.4 1758.7 163.2 1761.1 159.4 1763.5 158.2 1766 159.7 1768.4 163.3 1778.8 188.6 1783.7 198 1788.5 204.3 1793.3 208 1800.6 210.8 1811.9 212.9 1834.4 215.6 1872.3 219.2 1665.3 201.7Z" fill="url(#lg15)" stroke="none"/><path d="M1665.3 201.4 1699.1 203.9 1719.2 205 1729.7 204.7 1736.1 203.2 1741 200 1745 194.9 1749.8 185.4 1758.7 163.2 1761.1 159.4 1763.5 158.2 1766 159.7 1768.4 163.3 1778.8 188.6 1783.7 198 1788.5 204.3 1793.3 208 1800.6 210.8 1811.9 212.9 1834.4 215.6 1872.3 219.2" stroke="#b070e8" stroke-width="2.4" fill="none" stroke-linejoin="round" stroke-linecap="round"/><path d="M1741 207.9 1768.4 209.4 1774 208.9 1777.2 207.6 1780.5 204.5 1782.9 200.2 1790.9 176.6 1792.5 173.8 1793.3 173.3 1795 174 1797.4 177.7 1804.6 196.1 1807.8 202.9 1811.1 207.5 1814.3 210.5 1819.1 212.8 1825.6 214.2 1861.8 218.3 1741 208.2Z" fill="url(#lg14)" stroke="none"/><path d="M1741 207.9 1768.4 209.4 1774 208.9 1777.2 207.6 1780.5 204.5 1782.9 200.2 1790.9 176.6 1792.5 173.8 1793.3 173.3 1795 174 1797.4 177.7 1804.6 196.1 1807.8 202.9 1811.1 207.5 1814.3 210.5 1819.1 212.8 1825.6 214.2 1861.8 218.3" stroke="#1e6fe0" stroke-width="2.4" fill="none" stroke-linejoin="round" stroke-linecap="round"/><path d="M1764.3 209.9 1796.6 211.7 1803 211.3 1807 209.8 1810.3 206.7 1813.5 200.9 1821.5 175.9 1823.1 172.3 1824.8 170.8 1827.2 171.9 1830.4 176.4 1839.3 195.7 1844.1 204.5 1848.9 210.3 1853.8 213.8 1860.2 216.2 1870.7 218.1 1922.2 223.5 1764.3 210.2Z" fill="url(#lg13)" stroke="none"/><path d="M1764.3 209.9 1796.6 211.7 1803 211.3 1807 209.8 1810.3 206.7 1813.5 200.9 1821.5 175.9 1823.1 172.3 1824.8 170.8 1827.2 171.9 1830.4 176.4 1839.3 195.7 1844.1 204.5 1848.9 210.3 1853.8 213.8 1860.2 216.2 1870.7 218.1 1922.2 223.5" stroke="#ff1a1a" stroke-width="2.4" fill="none" stroke-linejoin="round" stroke-linecap="round"/><path d="M1774.8 210.8 1811.9 212.9 1819.1 212.5 1824 210.8 1827.2 207.6 1830.4 201.2 1833.6 190.7 1839.3 168 1840.9 163.6 1842.5 162 1844.9 163.2 1848.1 167.8 1859.4 194.3 1864.2 203.5 1869.1 210 1874.7 214.5 1881.9 217.5 1892.4 219.6 1913.4 222.2 1948 225.6 1948 226 1774.8 211.1Z" fill="url(#lg24)" stroke="none"/><path d="M1774.8 210.8 1811.9 212.9 1819.1 212.5 1824 210.8 1827.2 207.6 1830.4 201.2 1833.6 190.7 1839.3 168 1840.9 163.6 1842.5 162 1844.9 163.2 1848.1 167.8 1859.4 194.3 1864.2 203.5 1869.1 210 1874.7 214.5 1881.9 217.5 1892.4 219.6 1913.4 222.2 1948 225.6" stroke="#ff8c1a" stroke-width="2.4" fill="none" stroke-linejoin="round" stroke-linecap="round"/><path d="M1769.2 210.3 1815.9 214 1844.1 215.6 1857.8 215.7 1866.6 214.2 1873.1 210.9 1878.7 205.3 1884.4 196.7 1896.4 173.5 1899.7 169.6 1901.3 168.6 1902.9 168.3 1904.5 168.7 1906.9 170 1910.9 174.3 1915 180.3 1926.3 199.2 1933.5 209.1 1940.8 216.1 1948 220.4 1948 226 1769.2 210.6Z" fill="url(#lg15)" stroke="none"/><path d="M1769.2 210.3 1815.9 214 1844.1 215.6 1857.8 215.7 1866.6 214.2 1873.1 210.9 1878.7 205.3 1884.4 196.7 1896.4 173.5 1899.7 169.6 1901.3 168.6 1902.9 168.3 1904.5 168.7 1906.9 170 1910.9 174.3 1915 180.3 1926.3 199.2 1933.5 209.1 1940.8 216.1 1948 220.4" stroke="#b070e8" stroke-width="2.4" fill="none" stroke-linejoin="round" stroke-linecap="round"/><path d="M1606 141.9 1607.6 144.7 1609.2 159.4 1610.8 148.5 1612.4 140.2 1614 152.7 1615.6 150 1617.2 142.3 1618.8 143.4 1620.4 175.6 1622 175.2 1623.6 149.1 1625.2 143.3 1626.8 155.3 1628.4 162 1630 155.3 1631.6 150.5 1633.2 143.3 1634.8 148 1636.4 156.2 1638 169.4 1639.6 178.3 1641.2 186.2 1642.8 183.2 1644.4 184.4 1646 189.5 1647.6 177.3 1649.2 169.9 1650.8 153.9 1652.4 140.3 1654 135 1655.6 152 1657.2 166.1 1658.8 157.5 1660.4 159.1 1662 148.2 1663.6 136.7 1665.2 133 1666.8 134.5 1668.4 133.9 1670 133.2 1671.6 130 1673.2 123.6 1674.8 130.6 1676.4 136.1 1678 131.9 1679.6 117.7 1681.2 128.9 1682.8 130.5 1684.4 118.9 1686 124.4 1687.6 122 1689.2 127.5 1690.8 133.9 1692.4 121 1694 101.4 1695.6 96.7 1697.2 99.4 1698.8 104.5 1700.4 93.4 1702 78.8 1703.6 73.4 1705.2 77.7 1706.8 78.5 1708.4 84.5 1710 105 1711.6 102.5 1713.2 99.5 1714.8 80.9 1716.4 77.7 1718 97.2 1719.6 88.7 1721.2 56.2 1722.8 65 1724.4 101.4 1726 125 1727.6 128.7 1729.2 111.5 1730.8 105.5 1732.4 112.6 1734 137.7 1735.6 150.5 1737.2 140 1738.8 123.8 1740.4 135.8 1742 168.7 1743.6 156.5 1745.2 143.3 1746.8 161 1748.4 154.9 1750 143.5 1751.6 146.6 1753.2 151.2 1754.8 151.5 1756.4 144.4 1758 133.3 1759.6 138.6 1761.2 125.3 1762.8 128.2 1764.4 146.6 1766 135.8 1767.6 121.1 1769.2 117.4 1770.8 136.8 1772.4 140.9 1774 139.8 1775.6 135.5 1777.2 132.3 1778.8 161.4 1780.4 173.8 1782 180.2 1783.6 164.8 1785.2 137.8 1786.8 143 1788.4 144.5 1790 150.1 1791.6 143.3 1793.2 126.7 1794.8 139.3 1796.4 129.1 1798 109.1 1799.6 138.9 1801.2 171.2 1802.8 181.2 1804.4 182 1806 161.4 1807.6 154.6 1809.2 166.7 1810.8 167.8 1812.4 158.4 1814 153.1 1815.6 163.1 1817.2 164.8 1818.8 151.1 1820.4 138.4 1822 141.5 1823.6 143.1 1825.2 143 1826.8 130.5 1828.4 124.5 1830 130 1831.6 128.8 1833.2 133.1 1834.8 129 1836.4 126.3 1838 139.3 1839.6 158.1 1841.2 146.5 1842.8 137.9 1844.4 158.1 1846 167.1 1847.6 160.3 1849.2 137.8 1850.8 150.9 1852.4 164.9 1854 159.2 1855.6 161.6 1857.2 157.5 1858.8 167.4 1860.4 165.9 1862 177.4 1863.6 185.6 1865.2 184.2 1866.8 188.9 1868.4 186.7 1870 183.5 1871.6 180.9 1873.2 173.9 1874.8 184.1 1876.4 197.5 1878 192.9 1879.6 168 1881.2 145.6 1882.8 161.2 1884.4 181.1 1886 178.5 1887.6 160.7 1889.2 153 1890.8 152.8 1892.4 155.4 1894 166.7 1895.6 171.8 1897.2 151.1 1898.8 149.2 1900.4 170.3 1902 162.5 1903.6 141 1905.2 150.6 1906.8 158.4 1908.4 165.2 1910 166.1 1911.6 161.6 1913.2 169.7 1914.8 176.8 1916.4 177.3 1918 176.2 1919.6 186.4 1921.2 165.7 1922.8 168.5 1924.4 183.6 1926 174.1 1927.6 186.9 1929.2 192.6 1930.8 184.5 1932.4 171.9 1934 173.6 1935.6 188 1937.2 183.6 1938.8 198.1 1940.4 227.6 1942 214 1943.6 195.1 1945.2 181 1946.8 188.9 1948.4 193.1 1950 203 1951.6 199.5 1953.2 196.3 1954.8 209.3 1956.4 207.2 1958 205.8 1959.6 202.4 1961.2 200.8 1962.8 208.7 1964.4 210.7 1966 214.1 1967.6 209.6 1969.2 208.2 1970.8 211 1972.4 198.1 1974 199.9 1975.6 194.8 1977.2 187.6 1978.8 195.9 1980.4 194.1 1606.8 138.3 1608.4 145.9 1610 165.4 1611.6 154.2 1613.2 160.9 1614.8 173.5 1616.4 172.8 1618 140.6 1619.6 142.3 1621.2 192.7 1622.8 177.5 1624.4 163.9 1626 167.5 1627.6 170.6 1629.2 178.9 1630.8 170.1 1632.4 153.5 1634 156.5 1635.6 150.2 1637.2 154.6 1638.8 170.7 1640.4 173.3 1642 172.3 1643.6 168.6 1645.2 152.7 1646.8 166.3 1648.4 181.3 1650 167.2 1651.6 176.2 1653.2 172.6 1654.8 160.2 1656.4 148.7 1658 146.8 1659.6 154.9 1661.2 150.7 1662.8 145.4 1664.4 140.4 1666 132.1 1667.6 130.1 1669.2 129.1 1670.8 117.6 1672.4 116.5 1674 132.9 1675.6 139.3 1677.2 145.7 1678.8 126.2 1680.4 122 1682 124.8 1683.6 118.4 1685.2 132.6 1686.8 121.9 1688.4 117 1690 105.1 1691.6 114.9 1693.2 136.4 1694.8 124.1 1696.4 112.3 1698 111.3 1699.6 119.6 1701.2 105.6 1702.8 86.6 1704.4 91.8 1706 99.8 1707.6 99.6 1709.2 114.2 1710.8 136.2 1712.4 116.4 1714 79.4 1715.6 91.8 1717.2 107.7 1718.8 77.6 1720.4 78.9 1722 108.7 1723.6 105.2 1725.2 110.8 1726.8 122.3 1728.4 121.1 1730 139.7 1731.6 124.9 1733.2 111 1734.8 122.7 1736.4 118 1738 133.5 1739.6 142.8 1741.2 136.5 1742.8 145.8 1744.4 145.6 1746 136.8 1747.6 128.8 1749.2 116.1 1750.8 128.8 1752.4 158.3 1754 162.1 1755.6 152.6 1757.2 138.7 1758.8 116.2 1760.4 118.7 1762 132 1763.6 125.9 1765.2 118.2 1766.8 147.6 1768.4 157.4 1770 127.2 1771.6 139.8 1773.2 156.3 1774.8 147.2 1776.4 148.4 1778 186.5 1779.6 178.8 1781.2 173 1782.8 187.7 1784.4 148.2 1786 151 1787.6 142.9 1789.2 133.4 1790.8 142.1 1792.4 112 1794 116.3 1795.6 150 1797.2 158.6 1798.8 160.9 1800.4 161.8 1802 160.1 1803.6 170.2 1805.2 181.9 1806.8 176 1808.4 153.8 1810 161.9 1811.6 190.8 1813.2 186.9 1814.8 182.3 1816.4 174 1818 149.7 1819.6 133.4 1821.2 129.8 1822.8 131.2 1824.4 129.2 1826 122.4 1827.6 116.6 1829.2 128.9 1830.8 157.2 1832.4 153.2 1834 149.1 1835.6 151.1 1837.2 151.7 1838.8 166.6 1840.4 132.5 1842 121.3 1843.6 143 1845.2 156.7 1846.8 154.9 1848.4 132.9 1850 129.4 1851.6 148.1 1853.2 137.6 1854.8 128.7 1856.4 168.7 1858 163.1 1859.6 161.1 1861.2 162.5 1862.8 149.7 1864.4 170.2 1866 194.9 1867.6 186.3 1869.2 176.3 1870.8 195.4 1872.4 202.7 1874 202.6 1875.6 199.1 1877.2 178.2 1878.8 195.4 1880.4 203.7 1882 171.7 1883.6 163.6 1885.2 170 1886.8 178.2 1888.4 177.3 1890 173.7 1891.6 155.5 1893.2 190 1894.8 192.9 1896.4 144.3 1898 144.5 1899.6 129.5 1901.2 129.1 1902.8 143 1904.4 138.6 1906 152.4 1907.6 160.4 1909.2 170.1 1910.8 174.4 1912.4 157.3 1914 170.3 1915.6 187.6 1917.2 179.2 1918.8 176 1920.4 187.1 1922 175 1923.6 163.7 1925.2 167.8 1926.8 170.7 1928.4 178.7 1930 162.3 1931.6 177.4 1933.2 194.5 1934.8 181 1936.4 187.2 1938 188.5 1939.6 189.9 1941.2 180.7 1942.8 183.9 1944.4 189.9 1946 178.7 1947.6 218.8 1949.2 234.9 1950.8 199.9 1952.4 185.8 1954 181.2 1955.6 194.2 1957.2 213.8 1958.8 224.7 1960.4 207.2 1962 208.3 1963.6 216 1965.2 207.4 1966.8 221.5 1968.4 215.6 1970 225 1971.6 245.4 1973.2 232.3 1974.8 205.3 1976.4 191.2 1978 193.3 1979.6 220 1981.2 233.2" fill="none" stroke="none" marker-start="url(#mk25)" marker-mid="url(#mk25)" marker-end="url(#mk25)"/><path d="M1626.6 198.4 1948 226" stroke="#1a8a1a" stroke-width="2.6" fill="none" stroke-linejoin="round" stroke-linecap="round"/><path d="M1626.6 189.6 1632.2 189.1 1637.9 187.8 1645.9 184.9 1648.3 183.5 1652.4 177.8 1662 157.5 1666.1 151.4 1671.7 146.5 1674.9 144.7 1687 144.4 1687.8 143.8 1690.2 137.5 1695.9 115.3 1698.3 110.7 1702.3 104.8 1704.7 102.5 1706.3 101.8 1716.8 101.7 1718.4 102 1720 103 1724.9 108.6 1727.3 114.7 1731.3 128.4 1738.6 147.3 1741.8 152.9 1747.4 157.6 1749.8 158.2 1751.5 157.4 1753.9 154.3 1759.5 144.9 1761.9 143.1 1763.5 143.5 1766 145.6 1770.8 152.3 1776.4 166.5 1778 169.5 1779.6 170.8 1781.3 170.2 1782.9 168.4 1790.9 153.8 1792.5 152.2 1794.1 152.1 1796.6 155.9 1802.2 170.5 1807 177.7 1808.6 179.2 1810.3 179.5 1811.1 178.8 1812.7 175.5 1819.1 152.2 1821.5 146.5 1822.3 145.8 1828.8 144.2 1840.1 143.1 1841.7 144.1 1843.3 146.6 1859.4 179.1 1862.6 183.2 1869.1 188.6 1873.9 190.8 1876.3 190.8 1878.7 189.9 1883.6 186.2 1893.2 175.5 1897.3 171.8 1901.3 169.7 1905.3 169.9 1908.5 171.3 1911.8 173.5 1921.4 181.1 1927.1 186.4 1937.5 198.5 1948 213.5" stroke="#108010" stroke-width="3.2" fill="none" stroke-linejoin="round" stroke-linecap="round"/></g><g clip-path="url(#cp26)"><path d="M1604 453.8 1637 452.8 1644.5 451.9 1650.2 450.4 1653.9 448.4 1657.7 445.4 1662.4 439.9 1671.8 426.6 1674.7 424.3 1676.6 423.8 1679.4 424.1 1682.2 425.2 1692.6 432.3 1697.3 434.9 1702.9 436.7 1708.6 437.3 1714.3 436.9 1721.8 435.6 1768 424.6 1703.9 441.7 1681.3 449.8 1671.8 452.2 1667.1 452.8 1645.5 453.5 1604 454.1Z" fill="url(#lg14)" stroke="none"/><path d="M1604 453.8 1637 452.8 1644.5 451.9 1650.2 450.4 1653.9 448.4 1657.7 445.4 1662.4 439.9 1671.8 426.6 1674.7 424.3 1676.6 423.8 1679.4 424.1 1682.2 425.2 1692.6 432.3 1697.3 434.9 1702.9 436.7 1708.6 437.3 1714.3 436.9 1721.8 435.6 1768 424.6" stroke="#1e6fe0" stroke-width="2.4" fill="none" stroke-linejoin="round" stroke-linecap="round"/><path d="M1604 453.6 1638.9 452.6 1662.4 450.4 1668.1 449.3 1672.8 447.5 1676.6 445 1679.4 442.1 1682.2 437.6 1684.1 433.3 1686.9 424 1688.8 415.5 1692.6 392.4 1701.1 327.3 1702.9 319 1703.9 316.9 1704.8 316.3 1705.8 316.6 1707.7 318.9 1710.5 326.3 1713.3 337.2 1723.7 383.5 1729.3 402.4 1732.2 409.1 1735.9 415.5 1739.7 419.5 1743.5 421.8 1749.1 423.2 1757.6 423.2 1801 417.6 1836.8 413.6 1863.1 411.3 1909.3 408.1 1837.7 414.2 1808.5 417.8 1783 421.8 1759.5 426.8 1730.3 434.4 1702.9 441.9 1680.3 450.1 1670.9 452.4 1642.6 453.6 1604 454.1Z" fill="url(#lg13)" stroke="none"/><path d="M1604 453.6 1638.9 452.6 1662.4 450.4 1668.1 449.3 1672.8 447.5 1676.6 445 1679.4 442.1 1682.2 437.6 1684.1 433.3 1686.9 424 1688.8 415.5 1692.6 392.4 1701.1 327.3 1702.9 319 1703.9 316.9 1704.8 316.3 1705.8 316.6 1707.7 318.9 1710.5 326.3 1713.3 337.2 1723.7 383.5 1729.3 402.4 1732.2 409.1 1735.9 415.5 1739.7 419.5 1743.5 421.8 1749.1 423.2 1757.6 423.2 1801 417.6 1836.8 413.6 1863.1 411.3 1909.3 408.1" stroke="#ff1a1a" stroke-width="2.4" fill="none" stroke-linejoin="round" stroke-linecap="round"/><path d="M1623.8 453.7 1655.8 452.6 1671.8 451.3 1678.4 449.5 1686.9 446.2 1697.3 441.2 1703.9 437.1 1706.7 434.7 1709.5 431.4 1714.3 423 1719 410.2 1728.4 377.6 1731.2 371.1 1732.2 369.9 1734 369.1 1735.9 369.2 1737.8 369.9 1742.5 374.3 1758.5 398.9 1766.1 407.8 1769.9 411 1773.6 413.3 1777.4 414.9 1782.1 416.1 1789.6 416.8 1800 416.6 1859.4 411.4 1931 406.7 1850 412.9 1821.7 416.1 1794.4 419.9 1769.9 424.5 1741.6 431.4 1702.9 441.9 1681.3 449.8 1672.8 452.1 1662.4 453 1623.8 454Z" fill="url(#lg24)" stroke="none"/><path d="M1623.8 453.7 1655.8 452.6 1671.8 451.3 1678.4 449.5 1686.9 446.2 1697.3 441.2 1703.9 437.1 1706.7 434.7 1709.5 431.4 1714.3 423 1719 410.2 1728.4 377.6 1731.2 371.1 1732.2 369.9 1734 369.1 1735.9 369.2 1737.8 369.9 1742.5 374.3 1758.5 398.9 1766.1 407.8 1769.9 411 1773.6 413.3 1777.4 414.9 1782.1 416.1 1789.6 416.8 1800 416.6 1859.4 411.4 1931 406.7" stroke="#ff8c1a" stroke-width="2.4" fill="none" stroke-linejoin="round" stroke-linecap="round"/><path d="M1702 441.9 1741.6 430.3 1749.1 427.5 1754.8 424.6 1759.5 421.1 1763.3 417.3 1767 412.4 1776.5 398.4 1779.3 395.4 1782.1 393.8 1784.9 394.1 1787.8 395.9 1797.2 406.3 1801.9 410.6 1805.7 412.8 1810.4 414.4 1815.1 414.9 1821.7 414.9 1862.2 411.5 1816 416.8 1780.2 422.3 1750.1 429.2 1702 442.2Z" fill="url(#lg15)" stroke="none"/><path d="M1702 441.9 1741.6 430.3 1749.1 427.5 1754.8 424.6 1759.5 421.1 1763.3 417.3 1767 412.4 1776.5 398.4 1779.3 395.4 1782.1 393.8 1784.9 394.1 1787.8 395.9 1797.2 406.3 1801.9 410.6 1805.7 412.8 1810.4 414.4 1815.1 414.9 1821.7 414.9 1862.2 411.5" stroke="#b070e8" stroke-width="2.4" fill="none" stroke-linejoin="round" stroke-linecap="round"/><path d="M1768.9 424.4 1783 421 1789.6 418.3 1794.4 414.2 1801.9 404.5 1804.7 402.6 1806.6 402.7 1808.5 403.5 1817.9 411.2 1823.6 413.6 1831.1 414.1 1848.1 412.8 1799.1 419.2 1768.9 424.7Z" fill="url(#lg14)" stroke="none"/><path d="M1768.9 424.4 1783 421 1789.6 418.3 1794.4 414.2 1801.9 404.5 1804.7 402.6 1806.6 402.7 1808.5 403.5 1817.9 411.2 1823.6 413.6 1831.1 414.1 1848.1 412.8" stroke="#1e6fe0" stroke-width="2.4" fill="none" stroke-linejoin="round" stroke-linecap="round"/><path d="M1750.1 428.9 1798.1 417.5 1803.8 415.5 1807.5 413.1 1811.3 408.7 1814.1 403.3 1817.9 392.5 1825.5 365.5 1827.3 361.5 1828.3 360.6 1829.2 360.4 1832.1 362.1 1834.9 366.4 1845.2 389.6 1850 397.9 1854.7 403.4 1860.3 407 1867.9 408.7 1878.2 409 1947 405.9 1866.9 411.5 1829.2 415.2 1785.9 421.3 1768.9 424.7 1750.1 429.2Z" fill="url(#lg13)" stroke="none"/><path d="M1750.1 428.9 1798.1 417.5 1803.8 415.5 1807.5 413.1 1811.3 408.7 1814.1 403.3 1817.9 392.5 1825.5 365.5 1827.3 361.5 1828.3 360.6 1829.2 360.4 1832.1 362.1 1834.9 366.4 1845.2 389.6 1850 397.9 1854.7 403.4 1860.3 407 1867.9 408.7 1878.2 409 1947 405.9" stroke="#ff1a1a" stroke-width="2.4" fill="none" stroke-linejoin="round" stroke-linecap="round"/><path d="M1790.6 420.2 1824.5 414.5 1830.2 413.2 1834.9 411.2 1838.6 408.5 1842.4 404.2 1853.7 384.5 1855.6 382.3 1857.5 381.3 1860.3 381.6 1864.1 383.6 1877.3 396.8 1882.9 401.4 1887.6 404 1893.3 405.9 1899.9 406.9 1909.3 407.1 1964.9 405.2 1912.2 408.2 1858.4 412.2 1824.5 415.7 1790.6 420.5Z" fill="url(#lg24)" stroke="none"/><path d="M1790.6 420.2 1824.5 414.5 1830.2 413.2 1834.9 411.2 1838.6 408.5 1842.4 404.2 1853.7 384.5 1855.6 382.3 1857.5 381.3 1860.3 381.6 1864.1 383.6 1877.3 396.8 1882.9 401.4 1887.6 404 1893.3 405.9 1899.9 406.9 1909.3 407.1 1964.9 405.2" stroke="#ff8c1a" stroke-width="2.4" fill="none" stroke-linejoin="round" stroke-linecap="round"/><path d="M1820.7 415.9 1855.6 411.4 1867.9 408.7 1873.5 406.4 1878.2 403.6 1893.3 392.1 1896.1 390.7 1899 390 1902.7 390.2 1906.5 391.4 1924.4 400.5 1930.1 402.6 1935.7 403.9 1948.9 405 1980 404.7 1980 405.1 1940.4 406.5 1893.3 409.5 1853.7 412.6 1820.7 416.2Z" fill="url(#lg15)" stroke="none"/><path d="M1820.7 415.9 1855.6 411.4 1867.9 408.7 1873.5 406.4 1878.2 403.6 1893.3 392.1 1896.1 390.7 1899 390 1902.7 390.2 1906.5 391.4 1924.4 400.5 1930.1 402.6 1935.7 403.9 1948.9 405 1980 404.7" stroke="#b070e8" stroke-width="2.4" fill="none" stroke-linejoin="round" stroke-linecap="round"/><path d="M1604 453.8 1605.6 446.5 1607.2 444.7 1608.8 447.1 1610.4 445.6 1612 452.1 1613.6 458.9 1615.2 460 1616.8 449.8 1618.4 453.9 1620 453.7 1621.6 453.2 1623.2 456.3 1624.8 450.4 1626.4 454.2 1628 448.8 1629.6 438.4 1631.2 438.6 1632.8 437.8 1634.4 428.8 1636 437.7 1637.6 454.2 1639.2 452.5 1640.8 442.1 1642.4 435.9 1644 445.8 1645.6 455.7 1647.2 447.4 1648.8 447.2 1650.4 443.6 1652 433.1 1653.6 429.3 1655.2 419.5 1656.8 420.6 1658.4 424.6 1660 425.1 1661.6 433.5 1663.2 432 1664.8 427.5 1666.4 423.7 1668 420.8 1669.6 425.4 1671.2 419.8 1672.8 419.1 1674.4 418 1676 402.7 1677.6 395.2 1679.2 377.7 1680.8 366.2 1682.4 384.3 1684 390.3 1685.6 385.7 1687.2 379.3 1688.8 364.3 1690.4 355.6 1692 351.3 1693.6 341.9 1695.2 337.9 1696.8 330.2 1698.4 320.4 1700 320.5 1701.6 303.1 1703.2 289.6 1704.8 297 1706.4 295.1 1708 288.5 1709.6 303.1 1711.2 310.8 1712.8 308.9 1714.4 305.2 1716 320.2 1717.6 335.4 1719.2 334.9 1720.8 342.1 1722.4 352.4 1724 352 1725.6 342 1727.2 342.9 1728.8 352.4 1730.4 345.2 1732 337.3 1733.6 337 1735.2 341.5 1736.8 362.4 1738.4 361.9 1740 357 1741.6 368.1 1743.2 373.5 1744.8 381.1 1746.4 379.6 1748 371.9 1749.6 373.2 1751.2 380.3 1752.8 384.5 1754.4 383.5 1756 380.9 1757.6 396.4 1759.2 402.6 1760.8 387.9 1762.4 402.6 1764 406.4 1765.6 388.7 1767.2 389.3 1768.8 397.9 1770.4 395.1 1772 381.7 1773.6 373.4 1775.2 372.5 1776.8 385.1 1778.4 396.6 1780 379.9 1781.6 360.8 1783.2 360.7 1784.8 368 1786.4 373.6 1788 372.6 1789.6 369.6 1791.2 377.7 1792.8 377.4 1794.4 365.5 1796 369.5 1797.6 372.7 1799.2 363.2 1800.8 372.2 1802.4 382.3 1804 376.9 1805.6 365.3 1807.2 353.1 1808.8 352.5 1810.4 358 1812 356.3 1813.6 353.4 1815.2 350.7 1816.8 354.5 1818.4 358 1820 355.4 1821.6 352.5 1823.2 341.2 1824.8 331.9 1826.4 336.5 1828 344.4 1829.6 340.3 1831.2 344.7 1832.8 346 1834.4 345.1 1836 351.8 1837.6 354.8 1839.2 359.8 1840.8 351 1842.4 340.6 1844 349 1845.6 361.4 1847.2 363.7 1848.8 346.1 1850.4 343.9 1852 359.3 1853.6 361.1 1855.2 363.5 1856.8 379.3 1858.4 368.6 1860 352.9 1861.6 361.4 1863.2 366.5 1864.8 373.2 1866.4 379.5 1868 378.6 1869.6 380.1 1871.2 379.7 1872.8 367.1 1874.4 382.1 1876 404.4 1877.6 396.9 1879.2 388.7 1880.8 382.1 1882.4 374.5 1884 377.4 1885.6 384.1 1887.2 379.6 1888.8 376.3 1890.4 381.6 1892 382.7 1893.6 389.4 1895.2 387.1 1896.8 386.1 1898.4 393.8 1900 396.2 1901.6 393.7 1903.2 383.8 1904.8 368.4 1906.4 359.9 1908 371.5 1909.6 386.6 1911.2 392.4 1912.8 384.8 1914.4 375.3 1916 390.3 1917.6 396.1 1919.2 381.8 1920.8 374.1 1922.4 383.8 1924 400.6 1925.6 402.9 1927.2 407.9 1928.8 396.1 1930.4 392.8 1932 407.8 1933.6 404.2 1935.2 400.3 1936.8 399.4 1938.4 401.6 1940 397.7 1941.6 387.7 1943.2 394.7 1944.8 393.1 1946.4 385 1948 392.6 1949.6 395.4 1951.2 386.3 1952.8 383.8 1954.4 391.6 1956 390.5 1957.6 384.2 1959.2 385 1960.8 383.4 1962.4 392 1964 396.5 1965.6 398.6 1967.2 396.7 1968.8 387.7 1970.4 385.7 1972 398.4 1973.6 413.2 1975.2 411.3 1976.8 412.6 1978.4 402.5 1980 390.9 1981.6 396.6 1604.8 450.1 1606.4 448.3 1608 441.7 1609.6 429.8 1611.2 434.9 1612.8 443.6 1614.4 440.2 1616 448.1 1617.6 439.5 1619.2 436.4 1620.8 464.4 1622.4 456 1624 446.4 1625.6 450.9 1627.2 454.4 1628.8 463.1 1630.4 433.5 1632 434.1 1633.6 450.6 1635.2 434.8 1636.8 434.4 1638.4 444.6 1640 441 1641.6 429.8 1643.2 435.8 1644.8 438.6 1646.4 443.2 1648 440.7 1649.6 428.8 1651.2 440.2 1652.8 426.3 1654.4 435.1 1656 455.3 1657.6 422.4 1659.2 405.5 1660.8 406.9 1662.4 410.9 1664 416.1 1665.6 424.4 1667.2 420.1 1668.8 414.5 1670.4 409.8 1672 386.8 1673.6 391.5 1675.2 402.3 1676.8 396.9 1678.4 380.6 1680 372.9 1681.6 379.7 1683.2 378.3 1684.8 376 1686.4 375.5 1688 376.3 1689.6 367.5 1691.2 353.9 1692.8 349.8 1694.4 334.7 1696 308.2 1697.6 316.5 1699.2 307 1700.8 295 1702.4 301.6 1704 299.1 1705.6 298.7 1707.2 293.8 1708.8 293.7 1710.4 311.3 1712 307.4 1713.6 313.5 1715.2 334.8 1716.8 312.6 1718.4 313.8 1720 320.6 1721.6 320.2 1723.2 321.1 1724.8 335.3 1726.4 345.8 1728 343.1 1729.6 343.1 1731.2 337.2 1732.8 341.3 1734.4 354.5 1736 359.7 1737.6 359.9 1739.2 364.9 1740.8 362.2 1742.4 379.7 1744 391.4 1745.6 381 1747.2 384.4 1748.8 382.1 1750.4 388.3 1752 377.1 1753.6 379.4 1755.2 395.3 1756.8 393.6 1758.4 396.3 1760 384.2 1761.6 373.6 1763.2 362.4 1764.8 372.8 1766.4 398.9 1768 398 1769.6 378.9 1771.2 372.5 1772.8 385 1774.4 400.4 1776 387.3 1777.6 361.9 1779.2 371.9 1780.8 391.8 1782.4 390 1784 381.4 1785.6 374.5 1787.2 374.6 1788.8 385.9 1790.4 383.1 1792 371.4 1793.6 367.2 1795.2 366.8 1796.8 369.9 1798.4 363.8 1800 365.8 1801.6 372.4 1803.2 360.9 1804.8 345.7 1806.4 344.9 1808 360.7 1809.6 361.7 1811.2 366.3 1812.8 365.1 1814.4 358.4 1816 356.2 1817.6 348.5 1819.2 360.5 1820.8 368.9 1822.4 363.5 1824 349.3 1825.6 330.8 1827.2 332.9 1828.8 333.4 1830.4 329.9 1832 326.4 1833.6 342.5 1835.2 341.9 1836.8 327.2 1838.4 355.5 1840 356.9 1841.6 353.4 1843.2 363.2 1844.8 360.6 1846.4 357.6 1848 349.1 1849.6 339.2 1851.2 348.1 1852.8 359.6 1854.4 354.2 1856 355.6 1857.6 367.9 1859.2 369.1 1860.8 365.4 1862.4 387 1864 385.9 1865.6 366 1867.2 375.2 1868.8 380 1870.4 379.5 1872 383.9 1873.6 381.6 1875.2 379.8 1876.8 377.9 1878.4 381 1880 377.1 1881.6 373.5 1883.2 376.3 1884.8 382.7 1886.4 398.6 1888 393.5 1889.6 390.6 1891.2 400.2 1892.8 376.7 1894.4 360.1 1896 384.2 1897.6 366.9 1899.2 362.2 1900.8 372.2 1902.4 357.2 1904 379.6 1905.6 380.2 1907.2 381.6 1908.8 394.8 1910.4 385.5 1912 371.4 1913.6 375.6 1915.2 383.1 1916.8 373.3 1918.4 391.2 1920 391.8 1921.6 380.7 1923.2 384.9 1924.8 379.5 1926.4 374.1 1928 384 1929.6 406.4 1931.2 399.2 1932.8 387.1 1934.4 395.8 1936 396.8 1937.6 397.8 1939.2 395.7 1940.8 400.6 1942.4 404.4 1944 396.3 1945.6 390.2 1947.2 384.4 1948.8 407.5 1950.4 417.6 1952 404 1953.6 397.9 1955.2 395.3 1956.8 396.5 1958.4 399.3 1960 407.2 1961.6 399.8 1963.2 392.1 1964.8 392.9 1966.4 396.8 1968 399 1969.6 390.6 1971.2 391.6 1972.8 398.5 1974.4 379.9 1976 363.9 1977.6 371.8 1979.2 381.4 1980.8 400.4" fill="none" stroke="none" marker-start="url(#mk27)" marker-mid="url(#mk27)" marker-end="url(#mk27)"/><path d="M1604 454.1 1645.5 453.5 1666.9 452.8 1671.9 452.2 1680.7 450 1703.3 441.8 1756.2 427.6 1785.1 421.4 1817.8 416.6 1853 412.7 1898.3 409.1 1942.3 406.4 1980 405.1" stroke="#1a8a1a" stroke-width="2.6" fill="none" stroke-linejoin="round" stroke-linecap="round"/><path d="M1604 451.6 1623.8 450.6 1642.6 447.5 1646.4 445.2 1656.8 435.5 1661.5 430.3 1665.3 425.1 1668.1 420.4 1671.8 411.2 1681.3 381.9 1688.8 360.1 1692.6 347.4 1698.2 322.2 1702 308.9 1703.9 303.5 1704.8 301.9 1705.8 301.4 1707.7 303.3 1709.5 307.9 1720.9 346.3 1721.8 347.7 1722.7 348.1 1730.3 349.7 1733.1 351.1 1735.9 356.4 1741.6 371 1748.2 384.3 1751.9 390.4 1754.8 392.6 1764.2 394.8 1768 394.9 1769.9 394.1 1779.3 385.3 1791.5 380.4 1796.2 377.5 1805.7 369.3 1814.1 359.7 1820.7 353.8 1824.5 351.1 1827.3 350.3 1829.2 350.7 1832.1 352.7 1839.6 361.4 1842.4 364 1850.9 368.2 1854.7 370.8 1866.9 383.2 1874.5 388.3 1879.2 390.6 1882 391.3 1884.8 391.1 1894.2 387 1899 386.4 1904.6 388.1 1916.9 394.6 1935.7 400.1 1942.3 401.2 1958.3 402.9 1980 403.9" stroke="#108010" stroke-width="3.2" fill="none" stroke-linejoin="round" stroke-linecap="round"/></g><g clip-path="url(#cp28)"><path d="M1639.2 675.6 1647.2 674.3 1652.8 671.9 1656.8 668.1 1660 662.4 1663.2 653.4 1665.6 644.1 1674.4 600.6 1676.8 593.6 1678.4 592.2 1679.2 592.3 1680.8 593.9 1683.2 599 1692.7 632.2 1697.5 645.6 1699.9 650.3 1702.3 653.7 1704.7 656 1707.9 657.7 1711.1 658.2 1715.9 657.8 1737.5 651.1 1751.1 647.9 1774.3 643.3 1812.6 636.8 1767.1 645.3 1741.5 651.4 1730.3 655.2 1702.3 667 1676.8 674.7 1666.4 676.3 1639.2 677.6Z" fill="url(#lg14)" stroke="none"/><path d="M1639.2 675.6 1647.2 674.3 1652.8 671.9 1656.8 668.1 1660 662.4 1663.2 653.4 1665.6 644.1 1674.4 600.6 1676.8 593.6 1678.4 592.2 1679.2 592.3 1680.8 593.9 1683.2 599 1692.7 632.2 1697.5 645.6 1699.9 650.3 1702.3 653.7 1704.7 656 1707.9 657.7 1711.1 658.2 1715.9 657.8 1737.5 651.1 1751.1 647.9 1774.3 643.3 1812.6 636.8" stroke="#1e6fe0" stroke-width="2.4" fill="none" stroke-linejoin="round" stroke-linecap="round"/><path d="M1639.2 676.9 1656 675.8 1669.6 673.5 1674.4 671.8 1677.6 669.9 1680 667.8 1682.4 664.4 1685.6 656.6 1688.8 642.7 1691.2 627.4 1697.5 577.2 1699.1 569 1699.9 566.7 1700.7 565.8 1701.5 566 1702.3 567 1704.7 574.4 1712.7 617.6 1716.7 634.4 1720.7 644.3 1723.1 647.6 1725.5 649.4 1729.5 650.4 1735.1 650 1820.6 635.3 1768.7 645 1742.3 651.1 1730.3 655.2 1702.3 667 1676.8 674.7 1666.4 676.3 1639.2 677.6Z" fill="url(#lg13)" stroke="none"/><path d="M1639.2 676.9 1656 675.8 1669.6 673.5 1674.4 671.8 1677.6 669.9 1680 667.8 1682.4 664.4 1685.6 656.6 1688.8 642.7 1691.2 627.4 1697.5 577.2 1699.1 569 1699.9 566.7 1700.7 565.8 1701.5 566 1702.3 567 1704.7 574.4 1712.7 617.6 1716.7 634.4 1720.7 644.3 1723.1 647.6 1725.5 649.4 1729.5 650.4 1735.1 650 1820.6 635.3" stroke="#ff1a1a" stroke-width="2.4" fill="none" stroke-linejoin="round" stroke-linecap="round"/><path d="M1639.2 677.2 1662.4 675.9 1669.6 675.1 1676 673.7 1684.8 670.8 1693.5 667.1 1698.3 664.3 1702.3 660.6 1706.3 654.2 1710.3 643.4 1714.3 626.7 1722.3 586.3 1724.7 579.5 1726.3 578.3 1727.1 578.4 1728.7 579.9 1731.1 584.8 1740.7 616.2 1745.5 628.9 1750.3 636.8 1753.5 639.7 1756.7 641.4 1759.9 642.3 1764.7 642.6 1779.1 641.3 1808.6 637 1857.4 628.9 1776.7 643.4 1747.9 649.7 1732.7 654.3 1701.5 667.3 1676 674.9 1664 676.5 1639.2 677.6Z" fill="url(#lg24)" stroke="none"/><path d="M1639.2 677.2 1662.4 675.9 1669.6 675.1 1676 673.7 1684.8 670.8 1693.5 667.1 1698.3 664.3 1702.3 660.6 1706.3 654.2 1710.3 643.4 1714.3 626.7 1722.3 586.3 1724.7 579.5 1726.3 578.3 1727.1 578.4 1728.7 579.9 1731.1 584.8 1740.7 616.2 1745.5 628.9 1750.3 636.8 1753.5 639.7 1756.7 641.4 1759.9 642.3 1764.7 642.6 1779.1 641.3 1808.6 637 1857.4 628.9" stroke="#ff8c1a" stroke-width="2.4" fill="none" stroke-linejoin="round" stroke-linecap="round"/><path d="M1658.4 676.6 1668.8 675.7 1676 674.4 1699.9 667 1709.5 663 1719.9 657.8 1727.9 653.2 1732.7 649.6 1737.5 644 1742.3 635 1746.3 623.9 1755.1 593.5 1757.5 588 1759.1 586.2 1759.9 585.9 1762.3 586.9 1765.5 591.8 1775.9 617.6 1780.7 626.7 1785.5 632.4 1787.9 634.2 1791.1 635.6 1798.3 636.7 1811 635.8 1880.6 625.2 1783.1 642.3 1755.1 647.9 1735.9 653.1 1704.7 666.1 1685.6 672.3 1672 675.7 1658.4 676.9Z" fill="url(#lg15)" stroke="none"/><path d="M1658.4 676.6 1668.8 675.7 1676 674.4 1699.9 667 1709.5 663 1719.9 657.8 1727.9 653.2 1732.7 649.6 1737.5 644 1742.3 635 1746.3 623.9 1755.1 593.5 1757.5 588 1759.1 586.2 1759.9 585.9 1762.3 586.9 1765.5 591.8 1775.9 617.6 1780.7 626.7 1785.5 632.4 1787.9 634.2 1791.1 635.6 1798.3 636.7 1811 635.8 1880.6 625.2" stroke="#b070e8" stroke-width="2.4" fill="none" stroke-linejoin="round" stroke-linecap="round"/><path d="M1717.5 660.4 1738.3 651.8 1772.7 641.9 1777.5 639.8 1781.5 636.7 1785.5 630.9 1788.7 623 1791.9 611.8 1798.3 584.6 1800.6 577.8 1802.2 575.9 1803.8 576.5 1806.2 581.1 1814.2 608.7 1818.2 619.6 1822.2 626.2 1826.2 629.3 1831.8 630.7 1840.6 630.4 1895.8 622.9 1836.6 632.8 1763.1 646.2 1738.3 652.3 1717.5 660.7Z" fill="url(#lg14)" stroke="none"/><path d="M1717.5 660.4 1738.3 651.8 1772.7 641.9 1777.5 639.8 1781.5 636.7 1785.5 630.9 1788.7 623 1791.9 611.8 1798.3 584.6 1800.6 577.8 1802.2 575.9 1803.8 576.5 1806.2 581.1 1814.2 608.7 1818.2 619.6 1822.2 626.2 1826.2 629.3 1831.8 630.7 1840.6 630.4 1895.8 622.9" stroke="#1e6fe0" stroke-width="2.4" fill="none" stroke-linejoin="round" stroke-linecap="round"/><path d="M1763.9 645.7 1800.6 637.7 1807 635.4 1811 632.5 1814.2 628 1816.6 622.6 1819.8 612.2 1825.4 589.9 1827 585.5 1828.6 583.4 1830.2 583.9 1832.6 588 1839.8 609.4 1843 617.1 1846.2 622.3 1850.2 625.6 1855 627 1862.2 626.9 1906.9 621.2 1843.8 631.5 1763.9 646Z" fill="url(#lg13)" stroke="none"/><path d="M1763.9 645.7 1800.6 637.7 1807 635.4 1811 632.5 1814.2 628 1816.6 622.6 1819.8 612.2 1825.4 589.9 1827 585.5 1828.6 583.4 1830.2 583.9 1832.6 588 1839.8 609.4 1843 617.1 1846.2 622.3 1850.2 625.6 1855 627 1862.2 626.9 1906.9 621.2" stroke="#ff1a1a" stroke-width="2.4" fill="none" stroke-linejoin="round" stroke-linecap="round"/><path d="M1777.5 643 1815 635.4 1823 632.9 1827.8 630.3 1831.8 626 1835 620.4 1838.2 612.3 1845.4 590.6 1847 587.5 1848.6 586 1851 586.5 1853.4 589.2 1863 608.5 1867 615 1871 619.3 1875.8 621.9 1881.4 622.9 1890.2 622.6 1941.3 616.6 1866.2 627.8 1777.5 643.3Z" fill="url(#lg24)" stroke="none"/><path d="M1777.5 643 1815 635.4 1823 632.9 1827.8 630.3 1831.8 626 1835 620.4 1838.2 612.3 1845.4 590.6 1847 587.5 1848.6 586 1851 586.5 1853.4 589.2 1863 608.5 1867 615 1871 619.3 1875.8 621.9 1881.4 622.9 1890.2 622.6 1941.3 616.6" stroke="#ff8c1a" stroke-width="2.4" fill="none" stroke-linejoin="round" stroke-linecap="round"/><path d="M1770.3 644.4 1839 631 1851.8 627.7 1859.8 624.3 1866.2 619.6 1871.8 613.1 1877.4 604 1888.6 582.4 1891.8 578 1895 576 1899 576.4 1903 579 1906.9 583.2 1920.5 600.1 1925.3 604.7 1930.1 608.1 1935.7 610.8 1941.3 612.3 1948.5 613 1958.1 612.9 1958.1 614.8 1916.5 620.2 1874.2 626.5 1770.3 644.7Z" fill="url(#lg15)" stroke="none"/><path d="M1770.3 644.4 1839 631 1851.8 627.7 1859.8 624.3 1866.2 619.6 1871.8 613.1 1877.4 604 1888.6 582.4 1891.8 578 1895 576 1899 576.4 1903 579 1906.9 583.2 1920.5 600.1 1925.3 604.7 1930.1 608.1 1935.7 610.8 1941.3 612.3 1948.5 613 1958.1 612.9" stroke="#b070e8" stroke-width="2.4" fill="none" stroke-linejoin="round" stroke-linecap="round"/><path d="M1604 686.4 1605.6 694.5 1607.2 680.7 1608.8 669.9 1610.4 690.2 1612 710.1 1613.6 700.8 1615.2 690.7 1616.8 680.7 1618.4 673.9 1620 684.8 1621.6 682.3 1623.2 683.4 1624.8 682.9 1626.4 688.2 1628 676.8 1629.6 680 1631.2 684.1 1632.8 682.3 1634.4 698.4 1636 700 1637.6 689.8 1639.2 671.4 1640.8 664.9 1642.4 672.3 1644 672 1645.6 662.7 1647.2 665.1 1648.8 652.6 1650.4 634.5 1652 649 1653.6 661.5 1655.2 659.2 1656.8 661.6 1658.4 648.8 1660 635.9 1661.6 641.6 1663.2 632.5 1664.8 623.5 1666.4 618.5 1668 601.1 1669.6 591.5 1671.2 590.4 1672.8 588.5 1674.4 580.3 1676 589.2 1677.6 597.4 1679.2 583.9 1680.8 580.8 1682.4 588.6 1684 584.3 1685.6 574.9 1687.2 567.6 1688.8 571.7 1690.4 573.4 1692 568.1 1693.6 559.3 1695.2 544.9 1696.8 546.4 1698.4 545.9 1700 541.7 1701.6 529.5 1703.2 530.1 1704.8 542.8 1706.4 549.7 1708 543.3 1709.6 541.5 1711.2 545.5 1712.8 544.3 1714.4 535.7 1716 546 1717.6 547.1 1719.2 539.6 1720.8 534.7 1722.4 532.5 1724 543.8 1725.6 544.4 1727.2 533.2 1728.8 535.6 1730.4 553.3 1732 558.7 1733.6 543.6 1735.2 547.8 1736.8 559.3 1738.4 560.9 1740 578.6 1741.6 584.4 1743.2 576.7 1744.8 567.1 1746.4 573.8 1748 582.6 1749.6 564.5 1751.2 562.3 1752.8 560.7 1754.4 542.6 1756 556.5 1757.6 573.6 1759.2 569.3 1760.8 561.9 1762.4 562.9 1764 573.6 1765.6 582.7 1767.2 598.3 1768.8 610.1 1770.4 600.2 1772 596.3 1773.6 606.2 1775.2 618.4 1776.8 612.5 1778.4 605.4 1780 619.3 1781.6 619.3 1783.2 596 1784.8 587 1786.4 609.9 1788 601.6 1789.6 586.7 1791.2 590.5 1792.8 584 1794.4 586.6 1796 588.6 1797.6 581.7 1799.2 582.6 1800.8 575.4 1802.4 564.7 1804 566.3 1805.6 552.7 1807.2 565.1 1808.8 563.9 1810.4 553.9 1812 566.5 1813.6 578.2 1815.2 587.5 1816.8 585 1818.4 581.7 1820 562.1 1821.6 564.2 1823.2 562.4 1824.8 540.9 1826.4 543.1 1828 560.4 1829.6 557.9 1831.2 544.2 1832.8 541.7 1834.4 546 1836 540.5 1837.6 539.9 1839.2 543.4 1840.8 537.9 1842.4 545.9 1844 557 1845.6 558.4 1847.2 548 1848.8 547.4 1850.4 547.1 1852 543.6 1853.6 559.9 1855.2 566.6 1856.8 553.7 1858.4 564.2 1860 579 1861.6 573.6 1863.2 569.1 1864.8 572.7 1866.4 579.1 1868 577.2 1869.6 578.3 1871.2 580.7 1872.8 586.7 1874.4 578.4 1876 577.6 1877.6 569.2 1879.2 567.3 1880.8 573.8 1882.4 564.3 1884 569.1 1885.6 577.9 1887.2 579.5 1888.8 567.3 1890.4 563.4 1892 567.1 1893.6 569 1895.2 570.4 1896.8 572.7 1898.4 566.4 1900 555.5 1901.6 543.2 1903.2 551.1 1904.8 551 1906.4 555.9 1908 563.2 1909.6 559.3 1911.2 548.1 1912.8 552.9 1914.4 563.3 1916 567.2 1917.6 571 1919.2 581.1 1920.8 567.8 1922.4 550.2 1924 557.1 1925.6 569.8 1927.2 578.1 1928.8 588.3 1930.4 588.1 1932 584 1933.6 585.1 1935.2 590.8 1936.8 585.4 1938.4 582.9 1940 599.6 1941.6 598.5 1943.2 591.4 1944.8 573.5 1946.4 567.1 1948 576.8 1949.6 568.5 1951.2 573.6 1952.8 580.8 1954.4 576.4 1956 569.5 1957.6 572.7 1959.2 583.6 1960.8 584.2 1962.4 591.3 1964 590 1965.6 578.9 1967.2 573.7 1968.8 569.6 1970.4 562.9 1972 563.9 1973.6 567.2 1975.2 567.7 1976.8 561.8 1978.4 555.1 1980 568.3 1981.6 574.2 1604.8 686.3 1606.4 676.5 1608 670.2 1609.6 681.3 1611.2 700.5 1612.8 701 1614.4 688.9 1616 675.7 1617.6 660 1619.2 674.9 1620.8 696.4 1622.4 705.7 1624 694.9 1625.6 694.8 1627.2 702.7 1628.8 705.3 1630.4 694.1 1632 671.2 1633.6 661.8 1635.2 665.8 1636.8 688.1 1638.4 688 1640 662.8 1641.6 682.6 1643.2 691.8 1644.8 658.4 1646.4 651.4 1648 647.7 1649.6 647 1651.2 649.9 1652.8 654.2 1654.4 664.7 1656 653.2 1657.6 645.7 1659.2 650 1660.8 633.9 1662.4 628.4 1664 622.6 1665.6 614.9 1667.2 622.8 1668.8 605.6 1670.4 603.1 1672 629.6 1673.6 615.8 1675.2 593 1676.8 592.4 1678.4 585.4 1680 584.3 1681.6 579.3 1683.2 592.8 1684.8 604.2 1686.4 574 1688 568.4 1689.6 574.4 1691.2 570.9 1692.8 560 1694.4 552.9 1696 550.5 1697.6 526.7 1699.2 497.8 1700.8 492.6 1702.4 522.5 1704 531.5 1705.6 537.6 1707.2 531.4 1708.8 516.2 1710.4 524.8 1712 537.4 1713.6 545.2 1715.2 534.3 1716.8 519.4 1718.4 526 1720 528.6 1721.6 535.4 1723.2 539.6 1724.8 531.6 1726.4 540.4 1728 548.8 1729.6 552.1 1731.2 557.4 1732.8 563.9 1734.4 564.6 1736 561.7 1737.6 558 1739.2 568.8 1740.8 577.8 1742.4 577.8 1744 575.3 1745.6 561.1 1747.2 567.3 1748.8 555.7 1750.4 561.9 1752 585.6 1753.6 584.5 1755.2 565.6 1756.8 549.4 1758.4 575.7 1760 593.7 1761.6 586.2 1763.2 586.3 1764.8 576.7 1766.4 582.2 1768 609 1769.6 597.6 1771.2 589.9 1772.8 595.9 1774.4 586.5 1776 598.8 1777.6 623.2 1779.2 612.6 1780.8 595.2 1782.4 606.1 1784 598 1785.6 578.2 1787.2 593.4 1788.8 596.3 1790.4 592.8 1792 596.2 1793.6 575.8 1795.2 568.3 1796.8 572.8 1798.4 564.1 1800 557.4 1801.6 557.3 1803.2 546.8 1804.8 541.9 1806.4 558.1 1808 573.7 1809.6 583.6 1811.2 595.3 1812.8 576 1814.4 572.5 1816 604.3 1817.6 604.4 1819.2 594.3 1820.8 588.4 1822.4 572.1 1824 559.2 1825.6 545.7 1827.2 540.9 1828.8 558.2 1830.4 564.8 1832 541.9 1833.6 527.3 1835.2 527.8 1836.8 541.8 1838.4 562.7 1840 562.2 1841.6 542 1843.2 544.2 1844.8 568.7 1846.4 560.6 1848 549.7 1849.6 561.8 1851.2 564.9 1852.8 556.7 1854.4 561.4 1856 573.4 1857.6 565.1 1859.2 572.7 1860.8 588.9 1862.4 563.1 1864 560.7 1865.6 575 1867.2 556.6 1868.8 562.9 1870.4 589.2 1872 581.4 1873.6 574.3 1875.2 580.3 1876.8 580.6 1878.4 573.6 1880 574.9 1881.6 559.6 1883.2 546.2 1884.8 554.3 1886.4 542.5 1888 564.2 1889.6 575.1 1891.2 568.3 1892.8 581.1 1894.4 578.9 1896 560.6 1897.6 545.2 1899.2 570.9 1900.8 563.1 1902.4 567.3 1904 566.6 1905.6 547.2 1907.2 541.6 1908.8 548.7 1910.4 574.1 1912 579.7 1913.6 557.5 1915.2 559.4 1916.8 574.8 1918.4 558.1 1920 549.3 1921.6 547.4 1923.2 552.3 1924.8 575.8 1926.4 571 1928 572.1 1929.6 569.9 1931.2 558.8 1932.8 561.4 1934.4 562.4 1936 574.7 1937.6 585.2 1939.2 602.7 1940.8 589.6 1942.4 547.5 1944 557.8 1945.6 586.3 1947.2 569.6 1948.8 566.4 1950.4 583.2 1952 563.2 1953.6 568.6 1955.2 575.6 1956.8 587.8 1958.4 599.9 1960 576.9 1961.6 555.6 1963.2 570.4 1964.8 592.3 1966.4 579.3 1968 581.4 1969.6 593.4 1971.2 581.5 1972.8 572.8 1974.4 586 1976 594 1977.6 586.4 1979.2 574.3 1980.8 590.1" fill="none" stroke="none" marker-start="url(#mk29)" marker-mid="url(#mk29)" marker-end="url(#mk29)"/><path d="M1639.2 677.6 1666.9 676.3 1678.7 674.2 1703.2 666.7 1728.8 655.8 1738.4 652.3 1753.3 648.4 1771.5 644.5 1874.9 626.4 1916.5 620.2 1958.1 614.8" stroke="#1a8a1a" stroke-width="2.6" fill="none" stroke-linejoin="round" stroke-linecap="round"/><path d="M1639.2 667.5 1643.2 666.7 1647.2 664.7 1652 661 1654.4 657.7 1657.6 650.7 1662.4 636.8 1669.6 600.7 1672 593.2 1676 586.5 1679.2 582.9 1682.4 580.7 1688.8 578.7 1689.6 578.3 1690.4 576.7 1692 569.8 1696.7 538.7 1698.3 532.1 1699.1 530.8 1699.9 530.9 1701.5 533.2 1707.1 549.6 1708.7 552.7 1711.9 554 1722.3 555.9 1724.7 557.7 1727.9 561.6 1732.7 569.5 1739.1 589.1 1741.5 593.3 1743.1 593.3 1745.5 591.9 1752.7 583.6 1755.1 581.6 1757.5 580.9 1759.1 581.6 1761.5 584.2 1763.9 588.3 1774.3 610.8 1776.7 614.3 1779.1 616 1780.7 615.9 1781.5 615.3 1784.7 609.8 1787.9 600.7 1795.9 574 1798.3 568 1800.6 564.2 1802.2 563.3 1803 563.4 1805.4 565.9 1813.4 583.9 1815.8 587.6 1817.4 588.4 1819 587.3 1820.6 584.1 1827.8 563 1829.4 561 1830.2 560.8 1833.4 561.4 1836.6 562.8 1846.2 569.2 1850.2 573.8 1860.6 589.5 1863.8 593 1866.2 594.4 1868.6 594.6 1871.8 593.3 1875.8 589.8 1887 577.4 1891 574.9 1894.2 574.8 1897.4 576.4 1900.6 579.4 1914.9 599.5 1918.1 603 1921.3 605.4 1929.3 607.5 1939.7 609.5 1949.3 610.6 1958.1 611" stroke="#108010" stroke-width="3.2" fill="none" stroke-linejoin="round" stroke-linecap="round"/></g><rect x="1602.7" y="24.4" width="378" height="664" stroke="#000" stroke-width="2.5" fill="none"/><line x1="1602.7" y1="245.5" x2="1980.7" y2="245.5" stroke="#000" stroke-width="2.5" stroke-linecap="butt"/><line x1="1602.7" y1="466.6" x2="1980.7" y2="466.6" stroke="#000" stroke-width="2.5" stroke-linecap="butt"/><line x1="1640.5" y1="688.4" x2="1640.5" y2="695.9" stroke="#000" stroke-width="2.2" stroke-linecap="butt"/><text x="1640.5" y="717.8" font-size="23.2" font-weight="normal" fill="#000" text-anchor="middle">704</text><line x1="1716.1" y1="688.4" x2="1716.1" y2="695.9" stroke="#000" stroke-width="2.2" stroke-linecap="butt"/><text x="1716.1" y="717.8" font-size="23.2" font-weight="normal" fill="#000" text-anchor="middle">712</text><line x1="1791.7" y1="688.4" x2="1791.7" y2="695.9" stroke="#000" stroke-width="2.2" stroke-linecap="butt"/><text x="1791.7" y="717.8" font-size="23.2" font-weight="normal" fill="#000" text-anchor="middle">720</text><line x1="1867.3" y1="688.4" x2="1867.3" y2="695.9" stroke="#000" stroke-width="2.2" stroke-linecap="butt"/><text x="1867.3" y="717.8" font-size="23.2" font-weight="normal" fill="#000" text-anchor="middle">728</text><line x1="1942.9" y1="688.4" x2="1942.9" y2="695.9" stroke="#000" stroke-width="2.2" stroke-linecap="butt"/><text x="1942.9" y="717.8" font-size="23.2" font-weight="normal" fill="#000" text-anchor="middle">736</text><line x1="1602.7" y1="688.4" x2="1602.7" y2="692.4" stroke="#000" stroke-width="2.2" stroke-linecap="butt"/><line x1="1678.3" y1="688.4" x2="1678.3" y2="692.4" stroke="#000" stroke-width="2.2" stroke-linecap="butt"/><line x1="1753.9" y1="688.4" x2="1753.9" y2="692.4" stroke="#000" stroke-width="2.2" stroke-linecap="butt"/><line x1="1829.5" y1="688.4" x2="1829.5" y2="692.4" stroke="#000" stroke-width="2.2" stroke-linecap="butt"/><line x1="1905.1" y1="688.4" x2="1905.1" y2="692.4" stroke="#000" stroke-width="2.2" stroke-linecap="butt"/><line x1="1980.7" y1="688.4" x2="1980.7" y2="692.4" stroke="#000" stroke-width="2.2" stroke-linecap="butt"/><text x="1613.0" y="52.7" font-size="21.5" font-weight="bold" fill="#000" textLength="163.3" lengthAdjust="spacingAndGlyphs">CA-Fe@BC-0g</text><text x="1613.0" y="273.7" font-size="21.5" font-weight="bold" fill="#000" textLength="183.5" lengthAdjust="spacingAndGlyphs">CA-Fe@BC-7.5g</text><text x="1616.8" y="491.8" font-size="21.5" font-weight="bold" fill="#000" textLength="177.1" lengthAdjust="spacingAndGlyphs">CA-Fe@BC-10g</text><text x="0" y="0" font-size="21.5" font-weight="bold" fill="#1e6fe0" text-anchor="start" transform="translate(1645.4 349.1)"><tspan>Fe</tspan><tspan font-size="15" dy="-8.0">0</tspan></text><text x="0" y="0" font-size="21.5" font-weight="bold" fill="#e81010" text-anchor="start" transform="translate(1735.9 322.7)"><tspan>Fe</tspan><tspan font-size="15" dy="-8.0">2+</tspan><tspan dy="8.0">2P</tspan><tspan font-size="15" dy="5.0">1/2</tspan></text><text x="0" y="0" font-size="21.5" font-weight="bold" fill="#e81010" text-anchor="start" transform="translate(1722.0 459.1)"><tspan>Fe</tspan><tspan font-size="15" dy="-8.0">3+</tspan><tspan dy="8.0">2P</tspan><tspan font-size="15" dy="5.0">1/2</tspan></text><text x="1816.9" y="446.5" font-size="21.5" font-weight="bold" fill="#b070e8" textLength="35.8" lengthAdjust="spacingAndGlyphs">Sat</text><text x="1631.8" y="756.7" font-size="36" font-weight="bold" fill="#000">Binding Energy (eV)</text><text x="1556.3" y="492.6" font-size="39.7" font-weight="bold" fill="#000" textLength="262.6" lengthAdjust="spacingAndGlyphs" transform="rotate(-90 1556.3 492.6)">Intensity (a.u.)</text><text x="1510.1" y="35.0" font-size="50" font-weight="bold" fill="#000" textLength="62.3" lengthAdjust="spacingAndGlyphs">(h)</text><g clip-path="url(#cp34)"><path d="M1283.3 818.4 1346.2 819.7 1363.1 820.9 1374.6 822.9 1382.3 825.6 1388.8 829.7 1393.7 834.7 1401.9 846.1 1404.1 848.1 1405.8 848.7 1407.4 848.3 1409.6 846.6 1417.2 836.5 1421.6 832.1 1426.5 828.9 1432.5 826.9 1439.7 826.5 1446.8 828.1 1452.2 831.1 1461 838.4 1463.2 839.4 1464.8 839.5 1468.1 838.1 1479 829 1482.8 827 1487.2 825.7 1492.1 825 1497.6 825.2 1502 826.1 1510.2 828.8 1513.4 829.2 1516.7 828.5 1525.5 824.8 1531.5 823 1539.1 821.9 1547.9 821.5 1556.6 821.9 1564.3 823 1569.7 824.6 1578.5 828.3 1581.8 829 1585 828.7 1593.8 825.7 1598.7 824.6 1604.7 824.3 1610.7 825.1 1615.1 826.3 1619.5 828.5 1623.3 831.2 1630.4 837.6 1632.6 838.9 1634.2 839.3 1635.9 839.1 1638.1 838 1646.8 830.6 1652.8 827.4 1660.5 825.7 1668.7 826 1675.2 828 1680.7 831.3 1685.6 836.3 1693.3 846.5 1695.5 848.2 1697.1 848.5 1698.7 847.9 1700.9 845.9 1708.6 835.3 1714 829.6 1720.6 825.5 1728.3 822.9 1739.7 820.9 1756.1 819.7 1818.4 818.4 1818.4 817.9 1283.3 817.9Z" fill="url(#lg33)" stroke="none"/><path d="M1240.1 818.4 1261.5 819 1275.1 819.9 1283.9 821.4 1290.4 823.9 1294.8 827.4 1298.6 833.1 1301.4 839.7 1305.7 853.7 1306.8 856.1 1307.9 857 1309 856.3 1310.1 854.2 1316.7 834.6 1318.9 830.6 1321.6 827.1 1325.4 824.2 1329.8 822.3 1335.8 820.9 1344 819.9 1358.2 819.4 1373 819.8 1382.3 820.8 1388.8 822.6 1393.2 825.1 1396.5 828.6 1399.2 833.1 1403.6 842.7 1404.7 844.4 1405.8 845.1 1406.9 844.7 1408 843.2 1414.5 829.7 1418.9 824.8 1422.2 822.9 1426.5 821.3 1438.6 819.6 1466.4 818.9 1478.5 819.2 1486.7 820 1491 820.9 1494.9 822.4 1497.6 824.2 1502.5 828.7 1504.7 829.6 1506.9 828.7 1511.8 824.2 1515.6 821.9 1521.1 820.3 1528.2 819.4 1547.3 819.2 1560.5 820.4 1567 822.7 1574.1 828.7 1576.3 829.6 1578.5 828.7 1583.4 824.2 1586.1 822.4 1590 820.9 1594.9 819.9 1604.2 819.1 1618.9 818.9 1635.9 819.2 1647.4 819.9 1657.2 821.9 1661 823.5 1663.8 825.5 1667.6 830 1673.6 842.6 1674.7 844.3 1675.8 845.1 1676.9 844.7 1678 843.3 1682.9 832.6 1685.6 828.3 1688.9 825 1693.3 822.5 1700.4 820.7 1710.2 819.7 1726.1 819.4 1740.3 820.1 1747.9 821.1 1753.4 822.6 1757.8 824.7 1761 827.5 1763.8 831.1 1766 835.4 1772 853.6 1773.1 856 1774.2 857 1775.3 856.4 1776.4 854.2 1781.3 838.8 1784 832.4 1787.8 827.1 1792.2 823.8 1798.8 821.3 1807.5 819.9 1821.2 819 1842.5 818.4 1842.5 817.9 1240.1 817.9Z" fill="url(#lg32)" stroke="none"/><path d="M1464.3 818.4 1496 819.6 1506.3 820.8 1514 822.5 1519.5 824.6 1523.8 827.3 1527.7 830.7 1534.2 838.2 1535.9 839.4 1537.5 839.8 1540.2 838.7 1547.9 832.6 1550.6 831.4 1553.9 830.9 1556.6 831.2 1559.4 832.1 1562.6 834.2 1568.1 838.9 1569.7 839.7 1571.4 839.7 1574.1 838 1580.1 831 1584 827.5 1588.9 824.5 1594.3 822.5 1602 820.8 1612.4 819.6 1643.5 818.4 1643.5 817.9 1464.3 817.9Z" fill="url(#lg31)" stroke="none"/><path d="M1400.3 818.4 1456.6 819.5 1473.5 820.4 1486.1 821.7 1496 823.7 1503.6 826.6 1509.6 830.5 1514 835.3 1517.8 842 1521.1 851.1 1523.8 862.8 1526 876.5 1529.8 915.9 1535.3 1002.4 1536.4 1011.2 1536.9 1012.6 1538 1008.6 1539.1 996.9 1544.1 917.4 1547.9 877.3 1550.1 863.4 1552.8 851.5 1556.1 842.2 1559.9 835.5 1564.3 830.6 1570.3 826.6 1577.9 823.8 1587.8 821.7 1600.4 820.4 1617.3 819.5 1673.6 818.4 1673.6 817.9 1400.3 817.9Z" fill="url(#lg30)" stroke="none"/><path d="M1103.5 818 1299.7 818.6 1338 819.3 1360.9 820.7 1369.1 821.8 1375.7 823.2 1381.2 825.1 1385.5 827.3 1389.4 830.1 1392.6 833.4 1402.5 846.7 1404.1 848.1 1405.8 848.7 1407.4 848.3 1409.6 846.6 1417.8 835.9 1422.7 831.2 1429.3 827.8 1436.4 826.5 1442.4 826.9 1448.4 828.8 1452.8 831.5 1461 838.4 1464.3 839.6 1465.9 839.3 1468.1 838.1 1475.7 831.3 1480.1 828.4 1485 826.3 1490.5 825.1 1498.7 825.4 1510.2 828.8 1513.4 829.2 1516.7 828.5 1526 824.6 1532.6 822.8 1541.9 821.7 1552.3 821.6 1559.4 822.2 1565.4 823.3 1570.3 824.8 1578.5 828.3 1582.3 829 1585.6 828.5 1596.5 825 1600.9 824.4 1605.8 824.4 1612.4 825.4 1617.8 827.5 1622.8 830.8 1631 838 1633.1 839.1 1634.8 839.3 1638.1 838 1646.3 831.1 1651.7 827.8 1658.3 825.9 1665.9 825.7 1673.6 827.3 1679.6 830.5 1685.1 835.7 1693.3 846.5 1695.5 848.2 1697.1 848.5 1698.7 847.9 1700.4 846.5 1709.7 833.9 1712.9 830.5 1716.8 827.6 1721.1 825.2 1726.6 823.3 1740.8 820.8 1762.7 819.4 1798.8 818.6 1977.5 818" stroke="#78a8f0" stroke-width="2.2" fill="none" stroke-linejoin="round" stroke-linecap="round"/><path d="M1103.5 818 1242.9 818.5 1266.9 819.2 1281.1 820.8 1286.1 822 1290.4 823.9 1293.7 826.3 1296.4 829.4 1300.3 836.7 1306.3 855 1307.9 857 1309 856.3 1310.1 854.2 1316.7 834.6 1318.9 830.6 1321.6 827.1 1325.4 824.2 1330.3 822.1 1336.9 820.7 1346.2 819.8 1360.4 819.4 1373.5 819.8 1382.3 820.8 1388.8 822.6 1393.2 825.1 1396.5 828.6 1399.2 833.1 1403.6 842.7 1404.7 844.4 1405.8 845.1 1406.9 844.7 1408 843.2 1414.5 829.7 1418.9 824.8 1422.2 822.9 1426.5 821.3 1438.6 819.6 1466.4 818.9 1478.5 819.2 1486.7 820 1491 820.9 1494.9 822.4 1497.6 824.2 1502.5 828.7 1504.7 829.6 1506.9 828.7 1511.8 824.2 1515.6 821.9 1521.1 820.3 1528.2 819.4 1547.3 819.2 1560.5 820.4 1567 822.7 1574.1 828.7 1576.3 829.6 1578.5 828.7 1583.4 824.2 1586.1 822.4 1590 820.9 1594.9 819.9 1604.2 819.1 1618.9 818.9 1635.9 819.2 1647.4 819.9 1657.2 821.9 1661 823.5 1663.8 825.5 1667.6 830 1673.6 842.6 1674.7 844.3 1675.8 845.1 1676.9 844.7 1678 843.3 1682.9 832.6 1685.6 828.3 1688.9 825 1693.3 822.5 1700.4 820.7 1710.2 819.7 1726.1 819.4 1740.3 820.1 1747.9 821.1 1753.4 822.6 1757.8 824.7 1761 827.5 1763.8 831.1 1766 835.4 1772 853.6 1773.1 856 1774.2 857 1775.3 856.4 1776.4 854.2 1781.8 837.3 1784 832.4 1786.2 829 1788.9 826 1792.2 823.8 1796 822.1 1801 820.8 1815.2 819.3 1839.2 818.5 1977.5 818" stroke="#ffee10" stroke-width="2.2" fill="none" stroke-linejoin="round" stroke-linecap="round"/><path d="M1103.5 818 1345.6 818.2 1437.5 818.9 1463.2 819.7 1480.6 821 1493.2 823 1502.5 826.1 1506.9 828.5 1510.2 831 1512.9 833.9 1515.6 837.8 1520 847.6 1523.8 862.8 1526.6 880.8 1528.7 902.1 1534.8 995.4 1535.9 1007.7 1536.9 1012.6 1538 1008.6 1539.1 996.9 1545.1 903.5 1547.3 881.7 1550.1 863.4 1553.9 847.9 1558.3 838 1561 834 1564.3 830.6 1567.6 828.2 1571.9 825.9 1581.2 822.9 1594.3 820.9 1612.4 819.7 1638.1 818.9 1731.5 818.2 1977.5 818" stroke="#1a8a2a" stroke-width="2.4" fill="none" stroke-linejoin="round" stroke-linecap="round"/><path d="M1103.5 818.2 1239.6 818.9 1265.8 819.8 1280.6 821.4 1285.5 822.6 1289.9 824.5 1293.2 826.7 1295.9 829.6 1299.7 836.3 1305.7 854.7 1306.8 857.1 1307.9 858.1 1309 857.4 1310.1 855.2 1315 839.9 1317.8 833.6 1321 829 1325.4 825.6 1332.5 823.1 1342.4 822 1356 822.2 1368.1 823.7 1375.2 825.6 1381.2 828.3 1386.1 832 1389.9 836.4 1392.6 840.8 1395.4 846.8 1398.1 854.6 1403 871.7 1404.7 875.6 1405.8 876.6 1406.9 876.1 1408.5 872.7 1414.5 852.8 1418.3 843.6 1423.3 836.3 1426 833.8 1429.3 831.7 1433.1 830.2 1437.5 829.5 1441.8 829.7 1445.7 830.5 1451.1 833.2 1460.4 841.2 1464.3 843 1467.5 842.2 1475.7 836 1480.6 833.5 1486.1 832.9 1491.6 834.4 1494.3 836.2 1497 839 1504.7 850.6 1506.3 851.8 1511.8 854.2 1515.6 857.9 1519.5 865 1522.7 876.2 1525.5 891.9 1528.2 917 1530.4 946.3 1534.8 1021.9 1535.9 1034.8 1536.9 1039.8 1538 1035.8 1539.1 1023.6 1543.5 948.2 1546.2 912.3 1549 888.8 1550.6 879.1 1552.8 869.8 1554.4 864.8 1556.6 860.2 1558.8 857.5 1561 856.3 1562.6 856.3 1564.8 857.4 1571.9 863.8 1574.1 864.4 1575.8 863.6 1577.9 860.8 1584.5 847.9 1588.9 841 1593.8 835.6 1598.7 832.3 1602.5 830.7 1606.9 829.9 1611.3 829.8 1615.1 830.4 1621.7 833.4 1631.5 841.4 1634.8 842.3 1638.1 841 1645.2 835.1 1649.5 832.5 1654.5 831.1 1659.4 831.6 1663.2 833.7 1666.5 837.2 1669.2 842 1674.1 854 1675.2 855.7 1676.3 856.4 1678 855.6 1682.9 848.8 1685.1 847.5 1686.7 847.5 1688.4 848.1 1694.9 852.5 1696.6 852.6 1698.2 852 1700.9 849.2 1707.5 839.2 1711.3 834.3 1715.7 830.4 1721.1 827.2 1727.2 825.1 1734.3 823.8 1741.9 823.4 1749 823.8 1753.4 824.8 1757.2 826.4 1760 828.3 1762.7 831.2 1766.5 838.3 1772 855 1773.1 857.4 1774.2 858.4 1775.3 857.7 1776.4 855.6 1781.8 838.5 1784 833.6 1786.2 830.1 1788.9 827.1 1792.2 824.8 1796.6 822.9 1801.5 821.6 1816.3 819.9 1842.5 819 1977.5 818.2" stroke="#ff9a10" stroke-width="2.6" fill="none" stroke-linejoin="round" stroke-linecap="round"/><path d="M1103.5 817.9 1414.5 818.1 1463.2 818.4 1488.3 819.1 1506.3 820.8 1512.9 822.2 1517.8 823.9 1521.6 825.8 1524.9 828.1 1534.2 838.2 1535.9 839.4 1537.5 839.8 1540.2 838.7 1547.9 832.6 1550.6 831.4 1553.9 830.9 1556.6 831.2 1559.4 832.1 1562.6 834.2 1568.1 838.9 1569.7 839.7 1571.4 839.7 1574.1 838 1582.9 828.4 1586.1 826 1590 824 1595.4 822.2 1602 820.8 1620 819.1 1644.1 818.4 1691.1 818.1 1977.5 817.9" stroke="#ee1c1c" stroke-width="2.8" fill="none" stroke-linejoin="round" stroke-linecap="round"/><path d="M1103.5 819.2 1105.2 817.1 1107 818.2 1108.7 815.6 1110.5 817.7 1112.2 816.6 1114 820.7 1115.7 821.3 1117.5 818.3 1119.2 821 1121 818.5 1122.7 815.7 1124.5 815.7 1126.2 818.4 1128 819.7 1129.7 817.6 1131.5 823.6 1133.2 819.6 1135 814.5 1136.7 816.6 1138.5 817.9 1140.2 821.6 1142 820 1143.7 819.3 1145.5 818 1147.2 817.1 1148.9 818.5 1150.7 816.2 1152.4 819.8 1154.2 823 1155.9 814.8 1157.7 823.6 1159.4 820.3 1161.2 815.9 1162.9 819.8 1164.7 820.2 1166.4 819.2 1168.2 814.2 1169.9 817.2 1171.7 820.9 1173.4 820.5 1175.2 820.6 1176.9 823.3 1178.7 818.8 1180.4 820.3 1182.2 819 1183.9 819.4 1185.7 820.6 1187.4 816.5 1189.2 814 1190.9 819.4 1192.6 814.4 1194.4 822.4 1196.1 818.8 1197.9 818.4 1199.6 818.6 1201.4 821.5 1203.1 815.4 1204.9 817.3 1206.6 817.2 1208.4 824.9 1210.1 821 1211.9 821.4 1213.6 817.2 1215.4 817.1 1217.1 818 1218.9 822.5 1220.6 815.2 1222.4 820 1224.1 815.9 1225.9 817.9 1227.6 817.1 1229.4 816.9 1231.1 818.3 1232.9 821.2 1234.6 818 1236.3 818.5 1238.1 816.7 1239.8 822.1 1241.6 818.8 1243.3 820.3 1245.1 814.6 1246.8 819.5 1248.6 822.8 1250.3 819.7 1252.1 816.8 1253.8 817.4 1255.6 820.3 1257.3 820.9 1259.1 822.1 1260.8 818.1 1262.6 818.1 1264.3 817.7 1266.1 825.8 1267.8 820.1 1269.6 819.6 1271.3 815.7 1273.1 819.4 1274.8 820.8 1276.6 819.9 1278.3 820.1 1280 817 1281.8 823.5 1283.5 829 1285.3 825.2 1287 821.6 1288.8 823.7 1290.5 825 1292.3 825.1 1294 825.9 1295.8 829.4 1297.5 831.1 1299.3 838.3 1301 839.5 1302.8 847.2 1304.5 853.4 1306.3 854.6 1308 862.9 1309.8 857.2 1311.5 847.4 1313.3 845.5 1315 840.2 1316.8 833.8 1318.5 830.6 1320.3 832.4 1322 829.6 1323.7 828.7 1325.5 825 1327.2 823.5 1329 825.2 1330.7 824.4 1332.5 824.9 1334.2 824.3 1336 821.9 1337.7 823 1339.5 818.3 1341.2 820.3 1343 819.1 1344.7 817.2 1346.5 823.4 1348.2 817.5 1350 818.8 1351.7 821.3 1353.5 821.3 1355.2 818.5 1357 820.8 1358.7 820.3 1360.5 824.9 1362.2 824.2 1364 819.8 1365.7 827.5 1367.4 826.3 1369.2 825.2 1370.9 825.7 1372.7 830.6 1374.4 826.2 1376.2 826.3 1377.9 825.7 1379.7 829.3 1381.4 829.1 1383.2 830.3 1384.9 828.5 1386.7 834.2 1388.4 836.7 1390.2 839.2 1391.9 839.7 1393.7 841.7 1395.4 849.6 1397.2 846.8 1398.9 857.5 1400.7 862.1 1402.4 868 1404.2 876.5 1405.9 876.4 1407.7 875 1409.4 871.5 1411.1 863.7 1412.9 860.7 1414.6 855.1 1416.4 848.2 1418.1 844.5 1419.9 838.9 1421.6 841.6 1423.4 840.4 1425.1 835.3 1426.9 833.2 1428.6 832.6 1430.4 831.6 1432.1 827.9 1433.9 830 1435.6 833 1437.4 829.2 1439.1 829 1440.9 829.8 1442.6 825.2 1444.4 826.8 1446.1 831.4 1447.9 833.3 1449.6 833.7 1451.4 835.3 1453.1 838.8 1454.8 835.5 1456.6 840.6 1458.3 838.7 1460.1 843 1461.8 843.7 1463.6 846.3 1465.3 845.3 1467.1 841.6 1468.8 842.1 1470.6 838.5 1472.3 831.9 1474.1 840.2 1475.8 834.1 1477.6 831.8 1479.3 837.5 1481.1 833.1 1482.8 833.2 1484.6 831.9 1486.3 828.5 1488.1 831.8 1489.8 834.6 1491.6 835.2 1493.3 837.2 1495.1 835.9 1496.8 835 1498.5 841.5 1500.3 841.4 1502 850.5 1503.8 850 1505.5 852.4 1507.3 852 1509 853.1 1510.8 853 1512.5 858.7 1514.3 855.5 1516 858.5 1517.8 858.5 1519.5 867.1 1521.3 868.5 1523 874.5 1524.8 886.2 1526.5 900.1 1528.3 916.5 1530 940.1 1531.8 966 1533.5 998.4 1535.3 1028.4 1537 1043.8 1538.8 1030.8 1540.5 1000.2 1542.2 969.2 1544 942 1545.7 925.1 1547.5 902.8 1549.2 881.9 1551 879.6 1552.7 868 1554.5 867 1556.2 865.3 1558 860.7 1559.7 854.8 1561.5 856 1563.2 855.8 1565 859 1566.7 858.7 1568.5 860.2 1570.2 862.7 1572 865.4 1573.7 868.6 1575.5 861.8 1577.2 861.1 1579 859.3 1580.7 859.3 1582.5 848.2 1584.2 851.6 1585.9 843.8 1587.7 841.9 1589.4 844.1 1591.2 838.3 1592.9 831.1 1594.7 835.3 1596.4 836.9 1598.2 833.7 1599.9 832.3 1601.7 829.7 1603.4 828.8 1605.2 831.8 1606.9 832.1 1608.7 828.2 1610.4 826 1612.2 833.8 1613.9 830.3 1615.7 828.1 1617.4 835.2 1619.2 832.4 1620.9 829.7 1622.7 832.9 1624.4 837.5 1626.2 834.4 1627.9 833.7 1629.6 837.9 1631.4 838.3 1633.1 841.1 1634.9 842.1 1636.6 846.4 1638.4 839.7 1640.1 835.9 1641.9 841.9 1643.6 839.1 1645.4 837.1 1647.1 833.6 1648.9 834.1 1650.6 830.8 1652.4 831.7 1654.1 834 1655.9 828.9 1657.6 831.6 1659.4 830.2 1661.1 840 1662.9 834.6 1664.6 838 1666.4 837.9 1668.1 836.1 1669.9 842.7 1671.6 847.4 1673.3 854.2 1675.1 854.6 1676.8 852.3 1678.6 851.1 1680.3 855.5 1682.1 848.5 1683.8 846.1 1685.6 844 1687.3 849.4 1689.1 852 1690.8 848.7 1692.6 851.8 1694.3 852.4 1696.1 856.8 1697.8 852.6 1699.6 849.6 1701.3 847 1703.1 850.5 1704.8 845.2 1706.6 839.3 1708.3 838.7 1710.1 836.3 1711.8 831.5 1713.6 835.8 1715.3 832 1717 826.4 1718.8 830.6 1720.5 829.5 1722.3 825 1724 829.8 1725.8 827.2 1727.5 824.1 1729.3 824.7 1731 825.4 1732.8 824.7 1734.5 825.3 1736.3 820.2 1738 825.7 1739.8 824.6 1741.5 820.7 1743.3 824.3 1745 822.2 1746.8 827.4 1748.5 826.8 1750.3 817.8 1752 822.4 1753.8 826.8 1755.5 827.1 1757.3 825.7 1759 825.1 1760.7 834.7 1762.5 832.4 1764.2 831.7 1766 839 1767.7 836 1769.5 845 1771.2 854.6 1773 855.9 1774.7 856.5 1776.5 853.1 1778.2 851.6 1780 844.6 1781.7 841.9 1783.5 835.9 1785.2 834.7 1787 832.3 1788.7 822.1 1790.5 823.2 1792.2 825.3 1794 826.4 1795.7 826.2 1797.5 823.4 1799.2 821.2 1801 820 1802.7 819.4 1804.4 819.8 1806.2 820.4 1807.9 818.3 1809.7 819 1811.4 819.1 1813.2 823.1 1814.9 819.9 1816.7 819.3 1818.4 820 1820.2 818.1 1821.9 818.3 1823.7 819 1825.4 822.3 1827.2 818.3 1828.9 823.4 1830.7 820.3 1832.4 816.5 1834.2 818.5 1835.9 817.4 1837.7 820.2 1839.4 815.2 1841.2 817.3 1842.9 822 1844.7 816 1846.4 817 1848.1 821.9 1849.9 818.8 1851.6 822.2 1853.4 821.2 1855.1 822.8 1856.9 820.3 1858.6 817.1 1860.4 819.3 1862.1 816.1 1863.9 818.7 1865.6 818 1867.4 819.1 1869.1 820.9 1870.9 822 1872.6 821.9 1874.4 819.9 1876.1 818.6 1877.9 819.9 1879.6 817.3 1881.4 818.8 1883.1 818.9 1884.9 818.7 1886.6 817.3 1888.4 816.5 1890.1 817.8 1891.8 817.3 1893.6 814.7 1895.3 823.3 1897.1 817.4 1898.8 817.3 1900.6 820.3 1902.3 821.6 1904.1 816.2 1905.8 816.4 1907.6 820.6 1909.3 821.1 1911.1 815.8 1912.8 819 1914.6 819.4 1916.3 814.9 1918.1 816.4 1919.8 819.6 1921.6 822.2 1923.3 822.2 1925.1 818.7 1926.8 821.7 1928.6 817.1 1930.3 815.4 1932.1 815.3 1933.8 815.5 1935.5 816 1937.3 818.4 1939 819.6 1940.8 818.6 1942.5 818.8 1944.3 821.1 1946 818.1 1947.8 814.4 1949.5 816.8 1951.3 818.6 1953 818.6 1954.8 814.9 1956.5 820.5 1958.3 817.8 1960 815 1961.8 821 1963.5 820.3 1965.3 818.2 1967 819.4 1968.8 816.2 1970.5 820.8 1972.3 817.3 1974 816.2 1975.8 818 1977.5 821.6" fill="none" stroke="none" marker-start="url(#mk35)" marker-mid="url(#mk35)" marker-end="url(#mk35)"/><circle cx="1536.1" cy="1067.1" r="2.6" fill="#444" stroke="none" stroke-width="1"/></g><rect x="1103.8" y="804.3" width="874.4" height="281.7" stroke="#000" stroke-width="2.6" fill="none"/><line x1="1103.8" y1="1086.4" x2="1096.8" y2="1086.4" stroke="#000" stroke-width="2.2" stroke-linecap="butt"/><text x="1096" y="1094.7" font-size="23.2" font-weight="normal" fill="#000" text-anchor="end">90</text><line x1="1103.8" y1="1032.7" x2="1096.8" y2="1032.7" stroke="#000" stroke-width="2.2" stroke-linecap="butt"/><text x="1096" y="1041" font-size="23.2" font-weight="normal" fill="#000" text-anchor="end">92</text><line x1="1103.8" y1="979" x2="1096.8" y2="979" stroke="#000" stroke-width="2.2" stroke-linecap="butt"/><text x="1096" y="987.3" font-size="23.2" font-weight="normal" fill="#000" text-anchor="end">94</text><line x1="1103.8" y1="925.3" x2="1096.8" y2="925.3" stroke="#000" stroke-width="2.2" stroke-linecap="butt"/><text x="1096" y="933.6" font-size="23.2" font-weight="normal" fill="#000" text-anchor="end">96</text><line x1="1103.8" y1="871.6" x2="1096.8" y2="871.6" stroke="#000" stroke-width="2.2" stroke-linecap="butt"/><text x="1096" y="879.9" font-size="23.2" font-weight="normal" fill="#000" text-anchor="end">98</text><line x1="1103.8" y1="817.9" x2="1096.8" y2="817.9" stroke="#000" stroke-width="2.2" stroke-linecap="butt"/><text x="1096" y="826.2" font-size="23.2" font-weight="normal" fill="#000" text-anchor="end">100</text><line x1="1103.8" y1="1059.5" x2="1099.8" y2="1059.5" stroke="#000" stroke-width="2.2" stroke-linecap="butt"/><line x1="1103.8" y1="1005.9" x2="1099.8" y2="1005.9" stroke="#000" stroke-width="2.2" stroke-linecap="butt"/><line x1="1103.8" y1="952.1" x2="1099.8" y2="952.1" stroke="#000" stroke-width="2.2" stroke-linecap="butt"/><line x1="1103.8" y1="898.5" x2="1099.8" y2="898.5" stroke="#000" stroke-width="2.2" stroke-linecap="butt"/><line x1="1103.8" y1="844.8" x2="1099.8" y2="844.8" stroke="#000" stroke-width="2.2" stroke-linecap="butt"/><line x1="1103.5" y1="1086" x2="1103.5" y2="1093.5" stroke="#000" stroke-width="2.2" stroke-linecap="butt"/><text x="1103.5" y="1115.3" font-size="23.2" font-weight="normal" fill="#000" text-anchor="middle">-10</text><line x1="1190.9" y1="1086" x2="1190.9" y2="1093.5" stroke="#000" stroke-width="2.2" stroke-linecap="butt"/><text x="1190.9" y="1115.3" font-size="23.2" font-weight="normal" fill="#000" text-anchor="middle">-8</text><line x1="1278.3" y1="1086" x2="1278.3" y2="1093.5" stroke="#000" stroke-width="2.2" stroke-linecap="butt"/><text x="1278.3" y="1115.3" font-size="23.2" font-weight="normal" fill="#000" text-anchor="middle">-6</text><line x1="1365.7" y1="1086" x2="1365.7" y2="1093.5" stroke="#000" stroke-width="2.2" stroke-linecap="butt"/><text x="1365.7" y="1115.3" font-size="23.2" font-weight="normal" fill="#000" text-anchor="middle">-4</text><line x1="1453.1" y1="1086" x2="1453.1" y2="1093.5" stroke="#000" stroke-width="2.2" stroke-linecap="butt"/><text x="1453.1" y="1115.3" font-size="23.2" font-weight="normal" fill="#000" text-anchor="middle">-2</text><line x1="1540.5" y1="1086" x2="1540.5" y2="1093.5" stroke="#000" stroke-width="2.2" stroke-linecap="butt"/><text x="1540.5" y="1115.3" font-size="23.2" font-weight="normal" fill="#000" text-anchor="middle">0</text><line x1="1627.9" y1="1086" x2="1627.9" y2="1093.5" stroke="#000" stroke-width="2.2" stroke-linecap="butt"/><text x="1627.9" y="1115.3" font-size="23.2" font-weight="normal" fill="#000" text-anchor="middle">2</text><line x1="1715.3" y1="1086" x2="1715.3" y2="1093.5" stroke="#000" stroke-width="2.2" stroke-linecap="butt"/><text x="1715.3" y="1115.3" font-size="23.2" font-weight="normal" fill="#000" text-anchor="middle">4</text><line x1="1802.7" y1="1086" x2="1802.7" y2="1093.5" stroke="#000" stroke-width="2.2" stroke-linecap="butt"/><text x="1802.7" y="1115.3" font-size="23.2" font-weight="normal" fill="#000" text-anchor="middle">6</text><line x1="1890.1" y1="1086" x2="1890.1" y2="1093.5" stroke="#000" stroke-width="2.2" stroke-linecap="butt"/><text x="1890.1" y="1115.3" font-size="23.2" font-weight="normal" fill="#000" text-anchor="middle">8</text><line x1="1977.5" y1="1086" x2="1977.5" y2="1093.5" stroke="#000" stroke-width="2.2" stroke-linecap="butt"/><text x="1977.5" y="1115.3" font-size="23.2" font-weight="normal" fill="#000" text-anchor="middle">10</text><line x1="1147.2" y1="1086" x2="1147.2" y2="1090" stroke="#000" stroke-width="2.2" stroke-linecap="butt"/><line x1="1234.6" y1="1086" x2="1234.6" y2="1090" stroke="#000" stroke-width="2.2" stroke-linecap="butt"/><line x1="1322" y1="1086" x2="1322" y2="1090" stroke="#000" stroke-width="2.2" stroke-linecap="butt"/><line x1="1409.4" y1="1086" x2="1409.4" y2="1090" stroke="#000" stroke-width="2.2" stroke-linecap="butt"/><line x1="1496.8" y1="1086" x2="1496.8" y2="1090" stroke="#000" stroke-width="2.2" stroke-linecap="butt"/><line x1="1584.2" y1="1086" x2="1584.2" y2="1090" stroke="#000" stroke-width="2.2" stroke-linecap="butt"/><line x1="1671.6" y1="1086" x2="1671.6" y2="1090" stroke="#000" stroke-width="2.2" stroke-linecap="butt"/><line x1="1759" y1="1086" x2="1759" y2="1090" stroke="#000" stroke-width="2.2" stroke-linecap="butt"/><line x1="1846.4" y1="1086" x2="1846.4" y2="1090" stroke="#000" stroke-width="2.2" stroke-linecap="butt"/><line x1="1933.8" y1="1086" x2="1933.8" y2="1090" stroke="#000" stroke-width="2.2" stroke-linecap="butt"/><circle cx="1182.6" cy="873.3" r="6.5" fill="#444" stroke="none" stroke-width="1"/><text x="1231.8" y="878.6" font-size="21.5" font-weight="bold" fill="#000" textLength="107.0" lengthAdjust="spacingAndGlyphs">Raw Date</text><line x1="1149.4" y1="904.9" x2="1216" y2="904.9" stroke="#e81c1c" stroke-width="4" stroke-linecap="round"/><text x="1233.9" y="913.6" font-size="21.5" font-weight="bold" fill="#000" textLength="94.9" lengthAdjust="spacingAndGlyphs">Fit Date</text><rect x="1150" y="929.4" width="65.4" height="24.7" stroke="#1a8a2a" stroke-width="2.6" fill="url(#lg30)"/><rect x="1150" y="969.1" width="65.4" height="24.5" stroke="#ee2a2a" stroke-width="2.6" fill="url(#lg31)"/><rect x="1150" y="1009.8" width="65.4" height="24.7" stroke="#ffee10" stroke-width="2.6" fill="url(#lg32)"/><rect x="1150" y="1049.5" width="65.4" height="25.2" stroke="#78a8f0" stroke-width="2.6" fill="url(#lg33)"/><text x="1235.0" y="948.8" font-size="21.5" font-weight="bold" fill="#000" textLength="78.7" lengthAdjust="spacingAndGlyphs">Singlet</text><text x="1234.1" y="988.5" font-size="21.5" font-weight="bold" fill="#000" textLength="106.8" lengthAdjust="spacingAndGlyphs">Doublet 1</text><text x="1235.0" y="1028.7" font-size="21.5" font-weight="bold" fill="#000" textLength="69.1" lengthAdjust="spacingAndGlyphs">Sext 1</text><text x="1235.0" y="1067.6" font-size="21.5" font-weight="bold" fill="#000" textLength="69.9" lengthAdjust="spacingAndGlyphs">Sext 3</text><rect x="1697.1" y="916.6" width="242.5" height="121.0" fill="#fff"/><g clip-path="url(#cp36)"><path d="M1697.8 918.9 1716.4 920.8 1723.1 922.3 1728.3 924.1 1732.8 926.6 1736.4 929.7 1739.4 933.6 1741.9 938.2 1743.9 943.7 1745.7 950.5 1748.7 968.6 1751.2 992.5 1755.2 1046.7 1756 1053.3 1756.8 1055.6 1757.6 1053.2 1758.5 1046.8 1762.1 1000 1764.1 980 1766.5 965.1 1769.2 957.1 1770.8 955.3 1772.4 955.5 1774 957.8 1775.6 962.5 1778.3 976.6 1782.3 1009.5 1783.1 1013.3 1783.9 1014.4 1784.7 1012.5 1785.5 1007.9 1790.6 966.6 1792.4 957.6 1794.4 951.6 1795.6 949.6 1796.9 948.7 1798.1 948.8 1799.3 949.9 1801.3 954.1 1804.9 965.9 1805.8 967.3 1806.6 967.5 1808.2 964 1812 947.9 1814.7 940.2 1818.1 935 1820.1 933.5 1822.3 933 1824.6 933.5 1826.6 934.8 1828.4 937 1830 939.9 1832.6 947.5 1836.5 963.3 1838.1 966.7 1838.9 966.4 1839.7 964.9 1843.6 951.9 1846 946.8 1847.4 945.6 1848.8 945.7 1850.2 946.9 1851.4 948.9 1853.5 954.6 1855.5 964.2 1860.7 1006.9 1861.6 1011.4 1862.4 1013.3 1863.2 1012.2 1864 1008.3 1868.2 973.6 1870.9 959.6 1872.7 954.3 1874.5 951.7 1875.5 951.2 1876.5 951.4 1878.3 953.4 1880 957.2 1881.4 962.5 1883.8 977.2 1886 999.1 1889.7 1046.2 1890.7 1053.7 1891.1 1054.8 1891.5 1054.8 1893.1 1043.9 1896.7 994.5 1899 971.5 1901.6 954.1 1905 941.1 1907.2 935.9 1909.7 932 1912.7 928.6 1916.3 925.8 1920.6 923.7 1925.8 922 1940.2 919.6 1940.2 916.6 1697.8 916.6Z" fill="url(#lg33)" stroke="none"/><path d="M1697.8 927.5 1700.4 932.6 1702.7 940.1 1704.5 950.9 1705.9 964.8 1707.7 995.8 1710.5 1079.6 1711.5 1093.4 1712.6 1079.1 1715.6 991.1 1717.8 958.3 1719.4 945.8 1721.7 936.2 1724.5 929.8 1728.1 925.8 1731.2 924.3 1734.6 923.6 1738 923.8 1741.3 924.9 1743.7 926.8 1745.7 929.4 1748.7 937.2 1750.8 948.2 1752.4 964.2 1755.8 1030.7 1756.8 1039.4 1757.8 1028.9 1760.7 971.2 1762.7 948.7 1764.3 938.9 1766.1 932.5 1768.6 927.6 1771.8 924.2 1774.4 922.7 1777.5 921.7 1784.7 921.1 1790.2 922.5 1792.2 923.8 1794 925.9 1796.3 930.5 1797.9 936.9 1801.5 965.9 1802.5 969.3 1803.3 966.1 1805.8 944.8 1807.6 934.3 1810 927.3 1811.6 925 1813.4 923.4 1817.7 922 1822.3 922.4 1825.8 924.4 1828.4 928.1 1830 932.7 1831.4 939.3 1834.5 964.7 1835.5 969.3 1836.5 965.9 1840.1 936.9 1841.9 929.9 1844.2 925.6 1846.2 923.5 1848.6 922.1 1851.7 921.3 1855.3 921 1859.1 921.3 1862.8 922.2 1865.8 923.6 1868.2 925.6 1870.9 929.3 1872.9 934.3 1874.5 940.9 1875.9 950.3 1877.7 971.2 1880.6 1028.9 1881.6 1039.4 1882.6 1030.6 1886 964.2 1887.6 948.2 1889.7 937.2 1891.1 932.7 1892.9 929.1 1894.9 926.5 1897.5 924.7 1901 923.6 1904.6 923.6 1908.3 924.5 1911.3 926.4 1914.7 930.8 1917.4 937.5 1919.4 947 1921 960.3 1923.2 995.5 1926 1079.1 1927.1 1093.4 1928.1 1079.6 1930.9 995.8 1932.7 964.8 1934.1 950.9 1935.8 941.1 1937.8 933.6 1940.2 928.4 1940.2 916.6 1697.8 916.6Z" fill="url(#lg32)" stroke="none"/><path d="M1697.8 916.8 1748.7 917.3 1775.2 918.2 1789.2 920 1793.8 921.6 1797.7 923.7 1801.5 927.4 1804.5 932.2 1807.2 938.8 1809.2 946.6 1812 964.7 1815.9 1006.1 1817.3 1015.2 1817.9 1015.2 1818.7 1011.9 1822.7 981.2 1824 976.7 1824.6 975.6 1825.4 975.1 1826.8 977.3 1828 982.3 1831.6 1010.6 1832.8 1015.5 1833.5 1014.6 1834.3 1009.7 1838.1 968.1 1841.1 947.5 1843 940.1 1845.2 933.9 1847.8 929 1851 925.2 1854.5 922.7 1858.7 920.8 1864.2 919.4 1871.3 918.5 1894.9 917.4 1940.2 916.9 1697.8 916.6Z" fill="url(#lg31)" stroke="none"/><path d="M1697.8 917.3 1734.2 918 1757.2 919.3 1772.6 921.4 1778.5 923 1783.3 924.9 1787.6 927.4 1791 930.4 1794 934.2 1796.7 938.8 1798.9 944.2 1800.9 951.2 1804.1 969 1806.8 995.5 1808.8 1031.6 1810.4 1080 1811.8 1149 1813.8 1329.9 1816.7 1758 1817.5 1795.2 1818.5 1708.1 1821.1 1306 1822.9 1149.2 1824.4 1080.1 1826 1031.7 1828 995.6 1830.8 967.5 1834.1 950.4 1836.1 943.7 1838.3 938.4 1840.9 933.9 1844 930.2 1847.6 927.2 1852.1 924.7 1857.1 922.7 1863 921.3 1878.7 919.2 1902.6 917.9 1940.2 917.2 1940.2 916.6 1697.8 916.6Z" fill="url(#lg30)" stroke="none"/><path d="M1697.8 918.9 1716.4 920.8 1723.1 922.3 1728.3 924.1 1732.8 926.6 1736.4 929.7 1739.4 933.6 1741.9 938.2 1743.9 943.7 1745.7 950.5 1748.7 968.6 1751.2 992.5 1755.2 1046.7 1756 1053.3 1756.8 1055.6 1757.6 1053.2 1758.5 1046.8 1762.1 1000 1764.1 980 1766.5 965.1 1769.2 957.1 1770.8 955.3 1772.4 955.5 1774 957.8 1775.6 962.5 1778.3 976.6 1782.3 1009.5 1783.1 1013.3 1783.9 1014.4 1784.7 1012.5 1785.5 1007.9 1790.6 966.6 1792.4 957.6 1794.4 951.6 1795.6 949.6 1796.9 948.7 1798.1 948.8 1799.3 949.9 1801.3 954.1 1804.9 965.9 1805.8 967.3 1806.6 967.5 1808.2 964 1812 947.9 1814.7 940.2 1818.1 935 1820.1 933.5 1822.3 933 1824.6 933.5 1826.6 934.8 1828.4 937 1830 939.9 1832.6 947.5 1836.5 963.3 1838.1 966.7 1838.9 966.4 1839.7 964.9 1843.6 951.9 1846 946.8 1847.4 945.6 1848.8 945.7 1850.2 946.9 1851.4 948.9 1853.5 954.6 1855.5 964.2 1860.7 1006.9 1861.6 1011.4 1862.4 1013.3 1863.2 1012.2 1864 1008.3 1868.2 973.6 1870.9 959.6 1872.7 954.3 1874.5 951.7 1875.5 951.2 1876.5 951.4 1878.3 953.4 1880 957.2 1881.4 962.5 1883.8 977.2 1886 999.1 1889.7 1046.2 1890.7 1053.7 1891.1 1054.8 1891.5 1054.8 1893.1 1043.9 1896.7 994.5 1899 971.5 1901.6 954.1 1905 941.1 1907.2 935.9 1909.7 932 1912.7 928.6 1916.3 925.8 1920.6 923.7 1925.8 922 1940.2 919.6" stroke="#78a8f0" stroke-width="2.2" fill="none" stroke-linejoin="round" stroke-linecap="round"/><path d="M1697.8 927.5 1700.4 932.6 1702.7 940.1 1704.5 950.9 1705.9 964.8 1707.7 995.8 1710.5 1079.6 1711.5 1093.4 1712.6 1079.1 1715.6 991.1 1717.8 958.3 1719.4 945.8 1721.7 936.2 1724.5 929.8 1728.1 925.8 1731.2 924.3 1734.6 923.6 1738 923.8 1741.3 924.9 1743.7 926.8 1745.7 929.4 1748.7 937.2 1750.8 948.2 1752.4 964.2 1755.8 1030.7 1756.8 1039.4 1757.8 1028.9 1760.7 971.2 1762.7 948.7 1764.3 938.9 1766.1 932.5 1768.6 927.6 1771.8 924.2 1774.4 922.7 1777.5 921.7 1784.7 921.1 1790.2 922.5 1792.2 923.8 1794 925.9 1796.3 930.5 1797.9 936.9 1801.5 965.9 1802.5 969.3 1803.3 966.1 1805.8 944.8 1807.6 934.3 1810 927.3 1811.6 925 1813.4 923.4 1817.7 922 1822.3 922.4 1825.8 924.4 1828.4 928.1 1830 932.7 1831.4 939.3 1834.5 964.7 1835.5 969.3 1836.5 965.9 1840.1 936.9 1841.9 929.9 1844.2 925.6 1846.2 923.5 1848.6 922.1 1851.7 921.3 1855.3 921 1859.1 921.3 1862.8 922.2 1865.8 923.6 1868.2 925.6 1870.9 929.3 1872.9 934.3 1874.5 940.9 1875.9 950.3 1877.7 971.2 1880.6 1028.9 1881.6 1039.4 1882.6 1030.6 1886 964.2 1887.6 948.2 1889.7 937.2 1891.1 932.7 1892.9 929.1 1894.9 926.5 1897.5 924.7 1901 923.6 1904.6 923.6 1908.3 924.5 1911.3 926.4 1914.7 930.8 1917.4 937.5 1919.4 947 1921 960.3 1923.2 995.5 1926 1079.1 1927.1 1093.4 1928.1 1079.6 1930.9 995.8 1932.7 964.8 1934.1 950.9 1935.8 941.1 1937.8 933.6 1940.2 928.4" stroke="#ffee10" stroke-width="2.2" fill="none" stroke-linejoin="round" stroke-linecap="round"/><path d="M1697.8 917.3 1734.2 918 1757.2 919.3 1772.6 921.4 1778.5 923 1783.3 924.9 1787.6 927.4 1791 930.4 1794 934.2 1796.7 938.8 1798.9 944.2 1800.9 951.2 1804.1 969 1806.8 995.5 1808.8 1031.6 1810.4 1080 1811.8 1149 1813.8 1329.9 1816.7 1758 1817.5 1795.2 1818.5 1708.1 1821.1 1306 1822.9 1149.2 1824.4 1080.1 1826 1031.7 1828 995.6 1830.8 967.5 1834.1 950.4 1836.1 943.7 1838.3 938.4 1840.9 933.9 1844 930.2 1847.6 927.2 1852.1 924.7 1857.1 922.7 1863 921.3 1878.7 919.2 1902.6 917.9 1940.2 917.2" stroke="#1a8a2a" stroke-width="2.2" fill="none" stroke-linejoin="round" stroke-linecap="round"/><path d="M1697.8 930.7 1700.4 936 1702.7 943.7 1704.5 954.7 1705.9 968.7 1707.7 999.9 1710.5 1084.1 1711.5 1098.1 1712.6 1083.9 1716.2 985 1718 962.2 1720.2 948 1722.3 941.3 1724.9 936.9 1728.1 934.9 1731.8 935.2 1735.6 937.8 1738.8 942.2 1741.7 948.6 1743.9 956.5 1745.9 967.1 1747.5 979.4 1750.4 1015 1752.6 1064.6 1755.8 1169.4 1756.8 1181.9 1757.8 1167.9 1760.7 1076.8 1762.7 1029.5 1765.1 996.4 1768 977.1 1769.8 971.2 1771.6 968.9 1772.6 969 1773.4 969.7 1775.2 973.9 1777.9 986.9 1782.1 1022.6 1783.7 1029.8 1784.5 1029.2 1785.3 1025.9 1789.4 996.1 1790.6 989.9 1792 985.5 1792.8 984.3 1793.6 984.1 1795 986.1 1796.5 991.5 1797.7 999.5 1799.3 1016.7 1802.5 1065 1803.3 1070.6 1806 1081.9 1807.8 1100.9 1809.6 1137.9 1811 1190.4 1813.4 1378.3 1816.5 1855.5 1817.5 1918.5 1818.3 1856.1 1820.7 1456.7 1822.3 1279.7 1824.6 1155.4 1826 1116.3 1827.6 1094.3 1828.6 1089.9 1829 1089.8 1829.6 1091.4 1833.5 1123.7 1834.3 1126.5 1835.1 1124.7 1836.3 1110.6 1840.3 1035.7 1843 1002.9 1844.8 988.1 1846.6 978.5 1848.6 972.3 1849.6 970.7 1850.8 970 1852.1 970.7 1853.3 972.7 1855.5 980.8 1857.3 992.2 1860.7 1020.7 1861.6 1025 1862.4 1026.8 1863.2 1025.6 1864 1021.7 1867.6 992.6 1869.6 981.4 1870.9 977.6 1872.1 976.2 1873.3 977 1874.3 979.8 1875.9 989.3 1877.3 1005 1880.8 1079.4 1881.4 1088.3 1882 1090.6 1884.6 1058.1 1885.8 1050.2 1886.4 1049.9 1887.2 1052.5 1890.3 1072.6 1891.1 1073.7 1891.9 1070.6 1893.1 1058.6 1897.9 991 1899.8 974.6 1902 961 1904.2 952.3 1906.6 946.3 1909.5 942.5 1912.3 941.3 1913.9 941.9 1915.3 943.3 1917.8 948.8 1919.6 957.3 1921.2 970.7 1923.2 1002.9 1926 1085.7 1927.1 1099.7 1928.1 1085.6 1930.9 1001.2 1932.7 969.8 1934.1 955.7 1935.8 945.6 1937.8 937.9 1940.2 932.4" stroke="#ff9a10" stroke-width="2.4" fill="none" stroke-linejoin="round" stroke-linecap="round"/><path d="M1697.8 916.8 1748.7 917.3 1775.2 918.2 1789.2 920 1793.8 921.6 1797.7 923.7 1801.5 927.4 1804.5 932.2 1807.2 938.8 1809.2 946.6 1812 964.7 1815.9 1006.1 1817.3 1015.2 1817.9 1015.2 1818.7 1011.9 1822.7 981.2 1824 976.7 1824.6 975.6 1825.4 975.1 1826.8 977.3 1828 982.3 1831.6 1010.6 1832.8 1015.5 1833.5 1014.6 1834.3 1009.7 1838.1 968.1 1841.1 947.5 1843 940.1 1845.2 933.9 1847.8 929 1851 925.2 1854.5 922.7 1858.7 920.8 1864.2 919.4 1871.3 918.5 1894.9 917.4 1940.2 916.9" stroke="#ee1c1c" stroke-width="2.4" fill="none" stroke-linejoin="round" stroke-linecap="round"/><path d="M1697.8 930.8 1698.7 935.1 1699.6 935.6 1700.5 930.1 1701.4 946.7 1702.3 937.5 1703.3 955.1 1704.2 951.1 1705.1 963.4 1706 961.2 1706.9 983 1707.8 999.7 1708.7 1026.7 1709.6 1054.8 1710.5 1082.3 1711.4 1104.1 1712.3 1097.2 1713.3 1067.8 1714.2 1033.8 1715.1 1010.3 1716 994.6 1716.9 975.7 1717.8 972.1 1718.7 952.5 1719.6 955.3 1720.5 943.5 1721.4 948.9 1722.3 946.7 1723.3 952.3 1724.2 935.8 1725.1 933 1726 939.2 1726.9 931.1 1727.8 932.5 1728.7 942.5 1729.6 941.2 1730.5 929.8 1731.4 933.9 1732.3 932.2 1733.3 930 1734.2 935.1 1735.1 947.5 1736 941 1736.9 942 1737.8 939.1 1738.7 933.3 1739.6 944.4 1740.5 944.8 1741.4 947.3 1742.3 960.5 1743.2 957 1744.2 957.5 1745.1 967.1 1746 962.5 1746.9 981.1 1747.8 988.9 1748.7 985.3 1749.6 999.9 1750.5 1015.8 1751.4 1036.2 1752.3 1053.6 1753.2 1081.9 1754.2 1115 1755.1 1142.6 1756 1176.1 1756.9 1179.7 1757.8 1166.2 1758.7 1142.9 1759.6 1110.8 1760.5 1074.2 1761.4 1053.6 1762.3 1041.8 1763.2 1015.1 1764.2 1000.7 1765.1 995.7 1766 994.3 1766.9 983.2 1767.8 976.1 1768.7 960.3 1769.6 973.5 1770.5 967.6 1771.4 970.7 1772.3 966.6 1773.2 976.9 1774.2 972 1775.1 974.7 1776 966.8 1776.9 986.2 1777.8 996.5 1778.7 997 1779.6 1008.9 1780.5 1004.6 1781.4 1013.6 1782.3 1027.5 1783.2 1030.1 1784.2 1029.9 1785.1 1026.6 1786 1013.6 1786.9 1020 1787.8 1010 1788.7 998.3 1789.6 996.1 1790.5 981.2 1791.4 984.3 1792.3 991.8 1793.2 983.3 1794.2 990.1 1795.1 983 1796 980.4 1796.9 992.5 1797.8 1007.3 1798.7 1012.4 1799.6 1027.1 1800.5 1036.1 1801.4 1045.6 1802.3 1061.8 1803.2 1064.7 1804.2 1084.7 1805.1 1071.9 1806 1085.2 1806.9 1087.4 1807.8 1106.7 1808.7 1113 1809.6 1144.6 1810.5 1168.1 1811.4 1210.6 1812.3 1273.8 1813.2 1355.1 1814.2 1477.4 1815.1 1610.4 1816 1771.3 1816.9 1904.1 1817.8 1908.4 1818.7 1792.4 1819.6 1642.7 1820.5 1491.6 1821.4 1371.1 1822.3 1280.2 1823.2 1216.7 1824.2 1166.3 1825.1 1138.3 1826 1115.6 1826.9 1097.2 1827.8 1097.6 1828.7 1089.2 1829.6 1100.6 1830.5 1091.3 1831.4 1114.1 1832.3 1116.9 1833.2 1126.5 1834.1 1116.4 1835.1 1124.1 1836 1111.1 1836.9 1107.2 1837.8 1075.2 1838.7 1060.1 1839.6 1053.8 1840.5 1033.4 1841.4 1011.3 1842.3 1015 1843.2 999.9 1844.1 981.7 1845.1 982.9 1846 976 1846.9 964.5 1847.8 977.9 1848.7 969.8 1849.6 969.1 1850.5 974.2 1851.4 979.8 1852.3 968.1 1853.2 972.6 1854.1 968.6 1855.1 970.4 1856 973.3 1856.9 987.6 1857.8 986.4 1858.7 996.1 1859.6 1022.1 1860.5 1018.4 1861.4 1024.2 1862.3 1012.8 1863.2 1024.8 1864.1 1022.9 1865.1 1007.3 1866 1004.6 1866.9 1007.8 1867.8 991.2 1868.7 976.9 1869.6 983.1 1870.5 983.6 1871.4 980.6 1872.3 979.1 1873.2 971.8 1874.1 974.1 1875.1 982.9 1876 986 1876.9 994 1877.8 1010.5 1878.7 1037.3 1879.6 1058 1880.5 1071.4 1881.4 1089.3 1882.3 1077.9 1883.2 1081 1884.1 1065.7 1885.1 1045.8 1886 1049.7 1886.9 1054.9 1887.8 1051 1888.7 1059.7 1889.6 1070.3 1890.5 1082.6 1891.4 1077.5 1892.3 1058.6 1893.2 1059.2 1894.1 1044.9 1895.1 1030.9 1896 1015.5 1896.9 996.9 1897.8 994.4 1898.7 975.2 1899.6 968.1 1900.5 973.2 1901.4 968 1902.3 968.3 1903.2 953.2 1904.1 947.4 1905.1 945.3 1906 949.2 1906.9 944.2 1907.8 944.7 1908.7 942 1909.6 947.8 1910.5 938.2 1911.4 943.9 1912.3 937.4 1913.2 940.1 1914.1 947.3 1915.1 937.4 1916 942.4 1916.9 953.2 1917.8 946.2 1918.7 953.9 1919.6 956.4 1920.5 967.8 1921.4 968.5 1922.3 993.5 1923.2 1003 1924.1 1035.5 1925 1053.5 1926 1078.5 1926.9 1098.5 1927.8 1103 1928.7 1062.3 1929.6 1044.1 1930.5 1019.3 1931.4 992.4 1932.3 974.1 1933.2 970.2 1934.1 955.8 1935 944.6 1936 943 1936.9 941.6 1937.8 941.1 1938.7 937.8 1939.6 932" fill="none" stroke="none" marker-start="url(#mk37)" marker-mid="url(#mk37)" marker-end="url(#mk37)"/></g><rect x="1697.1" y="916.6" width="242.5" height="121" stroke="#000" stroke-width="2.6" fill="none"/><line x1="1697.1" y1="916.6" x2="1692.1" y2="916.6" stroke="#000" stroke-width="2.2" stroke-linecap="butt"/><text x="1692" y="922.6" font-size="16.5" font-weight="bold" fill="#000" text-anchor="end">100.0</text><line x1="1697.1" y1="965.1" x2="1692.1" y2="965.1" stroke="#000" stroke-width="2.2" stroke-linecap="butt"/><text x="1692" y="971.1" font-size="16.5" font-weight="bold" fill="#000" text-anchor="end">99.6</text><line x1="1697.1" y1="1013.6" x2="1692.1" y2="1013.6" stroke="#000" stroke-width="2.2" stroke-linecap="butt"/><text x="1692" y="1019.6" font-size="16.5" font-weight="bold" fill="#000" text-anchor="end">99.2</text><line x1="1697.1" y1="940.9" x2="1694.1" y2="940.9" stroke="#000" stroke-width="2" stroke-linecap="butt"/><line x1="1697.1" y1="989.4" x2="1694.1" y2="989.4" stroke="#000" stroke-width="2" stroke-linecap="butt"/><line x1="1697.8" y1="1037.6" x2="1697.8" y2="1043.6" stroke="#000" stroke-width="2.2" stroke-linecap="butt"/><text x="1697.8" y="1063.3" font-size="17.5" font-weight="bold" fill="#000" text-anchor="middle">-6</text><line x1="1738.2" y1="1037.6" x2="1738.2" y2="1043.6" stroke="#000" stroke-width="2.2" stroke-linecap="butt"/><text x="1738.2" y="1063.3" font-size="17.5" font-weight="bold" fill="#000" text-anchor="middle">-4</text><line x1="1778.6" y1="1037.6" x2="1778.6" y2="1043.6" stroke="#000" stroke-width="2.2" stroke-linecap="butt"/><text x="1778.6" y="1063.3" font-size="17.5" font-weight="bold" fill="#000" text-anchor="middle">-2</text><line x1="1819" y1="1037.6" x2="1819" y2="1043.6" stroke="#000" stroke-width="2.2" stroke-linecap="butt"/><text x="1819" y="1063.3" font-size="17.5" font-weight="bold" fill="#000" text-anchor="middle">0</text><line x1="1859.4" y1="1037.6" x2="1859.4" y2="1043.6" stroke="#000" stroke-width="2.2" stroke-linecap="butt"/><text x="1859.4" y="1063.3" font-size="17.5" font-weight="bold" fill="#000" text-anchor="middle">2</text><line x1="1899.8" y1="1037.6" x2="1899.8" y2="1043.6" stroke="#000" stroke-width="2.2" stroke-linecap="butt"/><text x="1899.8" y="1063.3" font-size="17.5" font-weight="bold" fill="#000" text-anchor="middle">4</text><line x1="1940.2" y1="1037.6" x2="1940.2" y2="1043.6" stroke="#000" stroke-width="2.2" stroke-linecap="butt"/><text x="1940.2" y="1063.3" font-size="17.5" font-weight="bold" fill="#000" text-anchor="middle">6</text><line x1="1718" y1="1037.6" x2="1718" y2="1041.1" stroke="#000" stroke-width="2" stroke-linecap="butt"/><line x1="1758.4" y1="1037.6" x2="1758.4" y2="1041.1" stroke="#000" stroke-width="2" stroke-linecap="butt"/><line x1="1798.8" y1="1037.6" x2="1798.8" y2="1041.1" stroke="#000" stroke-width="2" stroke-linecap="butt"/><line x1="1839.2" y1="1037.6" x2="1839.2" y2="1041.1" stroke="#000" stroke-width="2" stroke-linecap="butt"/><line x1="1879.6" y1="1037.6" x2="1879.6" y2="1041.1" stroke="#000" stroke-width="2" stroke-linecap="butt"/><line x1="1920" y1="1037.6" x2="1920" y2="1041.1" stroke="#000" stroke-width="2" stroke-linecap="butt"/><text x="1414.2" y="1144.2" font-size="36" font-weight="bold" fill="#000">Velocity (mm/s)</text><text x="1052.8" y="1143.7" font-size="33" font-weight="bold" fill="#000" textLength="373.7" lengthAdjust="spacingAndGlyphs" transform="rotate(-90 1052.8 1143.7)">Relative Transmission (%)</text><text x="1024.5" y="760.0" font-size="48" font-weight="bold" fill="#000" textLength="44.4" lengthAdjust="spacingAndGlyphs">(i)</text><g clip-path="url(#cp38)"><path d="M89.6 1478.8 105.4 1478.4 119.9 1477.3 133.2 1475.1 138.9 1472.8 140.8 1466.9 144.6 1446.8 147.1 1439.5 149.6 1434.1 155.3 1426.1 161 1420.6 165.4 1417.8 174.9 1414.3 178 1412.2 179.3 1410.7 181.2 1407 183.7 1400.1 189.4 1368.2 190.7 1363.4 192.6 1359.1 197 1351.9 225.4 1316.1 229.2 1310.3 233 1301.1 234.9 1298.2 236.8 1298.6 239.3 1300.8 253.2 1318.1 258.9 1321.3 264 1322.7 267.7 1322.1 281 1317 285.4 1315.8 306.3 1315.6 309.4 1313.9 317.7 1307.1 328.4 1302.9 335.3 1301.7 362.5 1301.8 433.3 1307 440.8 1308.3 449 1310.4 468 1317.4" stroke="#ff8c1a" stroke-width="2.6" fill="none" stroke-linejoin="round" stroke-linecap="round"/><path d="M89.6 1478.8 125.6 1478 136.3 1476.8 143.9 1474.9 149 1472.6 150.9 1471.1 154.7 1465.3 156.6 1464.3 162.9 1463 167.9 1465.4 171.1 1465.5 174.3 1464.7 178 1463 180.6 1460.2 184.4 1452.6 189.4 1437.2 202 1390.8 205.8 1373 222.9 1281.9 228.6 1257.7 231.1 1248.8 233.6 1242.4 237.4 1236.3 240.6 1233.4 242.5 1233.5 244.4 1234.9 249.4 1241.9 251.3 1246 255.7 1258.8 257 1261.3 260.2 1265.3 264 1269.2 269 1273 280.4 1279.3 288.6 1288.5 293 1290.2 298.7 1291.1 301.2 1291 306.9 1289.4 309.4 1289.8 316.4 1295.7 325.9 1307.1 330.9 1312 334.7 1314.9 342.3 1318.4 356.8 1322.8 368.8 1327.2 373.9 1328 389.7 1328 393.5 1327.3 406.7 1321 468 1296.4" stroke="#b5364a" stroke-width="2.6" fill="none" stroke-linejoin="round" stroke-linecap="round"/><path d="M89.6 1478.8 131.9 1477.7 142.7 1476.4 150.2 1474.3 152.8 1472.6 155.3 1470.1 157.2 1465.6 167.3 1419.9 168.6 1415.3 169.8 1412.5 170.5 1412.1 171.1 1412.4 172.4 1414.3 179.3 1432.1 180.6 1433.2 181.8 1432.6 183.1 1431.2 185.6 1426.8 190.7 1415.8 200.2 1386.4 205.2 1366.7 217.2 1311 221.6 1295.2 225.4 1284.3 229.2 1276 231.1 1273.7 233 1273.9 238.1 1276.9 239.9 1277 243.7 1275.4 248.8 1270.9 251.3 1265.5 262.7 1233.9 264.6 1230 266.5 1228.1 269 1228.6 271.5 1230.7 275.3 1235.4 277.2 1239 280.4 1247.9 285.4 1264.7 291.8 1289.1 295.5 1297.3 299.3 1302.7 305.6 1307.8 310.1 1310 312.6 1310.4 327.1 1310.5 330.9 1311.3 335.3 1313.1 343.6 1317.2 365 1332 371.3 1335.5 375.1 1336.6 378.9 1336.6 383.3 1335.5 389.7 1333.1 393.5 1330.4 404.2 1319 406.7 1317.5 411.8 1315.9 421.9 1313.7 438.9 1311.3 454.7 1309.5 468 1308.7" stroke="#148a14" stroke-width="2.6" fill="none" stroke-linejoin="round" stroke-linecap="round"/><path d="M89.6 1478.8 109.8 1478.4 129.4 1477.2 136.3 1476 142.7 1473.5 144.6 1467.2 149 1439.1 150.9 1433.5 155.3 1426.5 160.4 1421.3 165.4 1417.5 174.9 1413 178.7 1409.6 180.6 1405.6 182.5 1399.6 190 1370.6 195.7 1355.3 200.8 1343.6 205.8 1335.1 215.9 1323.2 227.3 1307.9 230.5 1302.7 236.2 1290.3 237.4 1288.5 238.7 1287.7 241.2 1288.2 243.7 1290.2 257.6 1305.9 260.8 1307.3 267.1 1308.5 272.2 1308.5 291.1 1305.2 306.3 1306.9 310.1 1305.8 319.5 1301.8 329.7 1300.3 337.2 1299.9 407.4 1305.2 433.9 1308.8 468 1312.2" stroke="#3b7585" stroke-width="2.6" fill="none" stroke-linejoin="round" stroke-linecap="round"/><path d="M89.6 1478.8 131.9 1477.7 140.1 1476.8 146.5 1475.2 148.3 1469.5 152.1 1450 154.7 1444.4 158.5 1438.3 162.9 1433.2 166 1430.7 175.5 1425.1 178 1422.7 179.9 1419.8 183.1 1412.5 189.4 1394.5 193.8 1384.6 215.3 1340.5 229.2 1315.5 235.5 1300.5 237.4 1297.4 238.7 1296.4 243.1 1296.8 249.4 1298.1 259.5 1301.7 274.7 1303.4 284.8 1305.2 293 1307 300.6 1309.6 304.4 1310.4 322.1 1310.3 336 1306.9 355.6 1305.2 365.7 1303.6 369.5 1303.4 375.8 1304 384.6 1305.8 400.4 1312.3 406.7 1313.9 428.2 1315.6 468 1315.7" stroke="#ff1a1a" stroke-width="2.6" fill="none" stroke-linejoin="round" stroke-linecap="round"/></g><rect x="89.6" y="1198.2" width="378.4" height="280.6" stroke="#000" stroke-width="2.6" fill="none"/><line x1="89.6" y1="1478.8" x2="82.6" y2="1478.8" stroke="#000" stroke-width="2.2" stroke-linecap="butt"/><text x="81" y="1486.8" font-size="23.2" font-weight="normal" fill="#000" text-anchor="end">0.0</text><line x1="89.6" y1="1408.6" x2="82.6" y2="1408.6" stroke="#000" stroke-width="2.2" stroke-linecap="butt"/><text x="81" y="1416.6" font-size="23.2" font-weight="normal" fill="#000" text-anchor="end">0.4</text><line x1="89.6" y1="1338.5" x2="82.6" y2="1338.5" stroke="#000" stroke-width="2.2" stroke-linecap="butt"/><text x="81" y="1346.5" font-size="23.2" font-weight="normal" fill="#000" text-anchor="end">0.8</text><line x1="89.6" y1="1268.3" x2="82.6" y2="1268.3" stroke="#000" stroke-width="2.2" stroke-linecap="butt"/><text x="81" y="1276.3" font-size="23.2" font-weight="normal" fill="#000" text-anchor="end">1.2</text><line x1="89.6" y1="1198.2" x2="82.6" y2="1198.2" stroke="#000" stroke-width="2.2" stroke-linecap="butt"/><text x="81" y="1206.2" font-size="23.2" font-weight="normal" fill="#000" text-anchor="end">1.6</text><line x1="89.6" y1="1443.7" x2="85.6" y2="1443.7" stroke="#000" stroke-width="2.2" stroke-linecap="butt"/><line x1="89.6" y1="1373.6" x2="85.6" y2="1373.6" stroke="#000" stroke-width="2.2" stroke-linecap="butt"/><line x1="89.6" y1="1303.4" x2="85.6" y2="1303.4" stroke="#000" stroke-width="2.2" stroke-linecap="butt"/><line x1="89.6" y1="1233.2" x2="85.6" y2="1233.2" stroke="#000" stroke-width="2.2" stroke-linecap="butt"/><line x1="89.6" y1="1478.8" x2="89.6" y2="1486.3" stroke="#000" stroke-width="2.2" stroke-linecap="butt"/><text x="89.6" y="1511.1" font-size="23.2" font-weight="normal" fill="#000" text-anchor="middle">7100</text><line x1="184.2" y1="1478.8" x2="184.2" y2="1486.3" stroke="#000" stroke-width="2.2" stroke-linecap="butt"/><text x="184.2" y="1511.1" font-size="23.2" font-weight="normal" fill="#000" text-anchor="middle">7120</text><line x1="278.8" y1="1478.8" x2="278.8" y2="1486.3" stroke="#000" stroke-width="2.2" stroke-linecap="butt"/><text x="278.8" y="1511.1" font-size="23.2" font-weight="normal" fill="#000" text-anchor="middle">7140</text><line x1="373.4" y1="1478.8" x2="373.4" y2="1486.3" stroke="#000" stroke-width="2.2" stroke-linecap="butt"/><text x="373.4" y="1511.1" font-size="23.2" font-weight="normal" fill="#000" text-anchor="middle">7160</text><line x1="468" y1="1478.8" x2="468" y2="1486.3" stroke="#000" stroke-width="2.2" stroke-linecap="butt"/><text x="468" y="1511.1" font-size="23.2" font-weight="normal" fill="#000" text-anchor="middle">7180</text><line x1="136.9" y1="1478.8" x2="136.9" y2="1482.8" stroke="#000" stroke-width="2.2" stroke-linecap="butt"/><line x1="231.5" y1="1478.8" x2="231.5" y2="1482.8" stroke="#000" stroke-width="2.2" stroke-linecap="butt"/><line x1="326.1" y1="1478.8" x2="326.1" y2="1482.8" stroke="#000" stroke-width="2.2" stroke-linecap="butt"/><line x1="420.7" y1="1478.8" x2="420.7" y2="1482.8" stroke="#000" stroke-width="2.2" stroke-linecap="butt"/><line x1="263.5" y1="1347.8" x2="326.8" y2="1347.8" stroke="#ff8c1a" stroke-width="4.4" stroke-linecap="round"/><line x1="263.5" y1="1375.8" x2="326.8" y2="1375.8" stroke="#b5364a" stroke-width="4.4" stroke-linecap="round"/><line x1="263.5" y1="1404.3" x2="326.8" y2="1404.3" stroke="#148a14" stroke-width="4.4" stroke-linecap="round"/><line x1="263.5" y1="1434.3" x2="326.8" y2="1434.3" stroke="#3b7585" stroke-width="4.4" stroke-linecap="round"/><line x1="263.5" y1="1462.3" x2="326.8" y2="1462.3" stroke="#ee4848" stroke-width="4.4" stroke-linecap="round"/><text x="339.4" y="1354.7" font-size="23.4" font-weight="bold" fill="#ff8c1a" textLength="71.8" lengthAdjust="spacingAndGlyphs">Fe foil</text><text x="340" y="1383.4" font-size="23.4" font-weight="bold" fill="#b5364a" text-anchor="start">Fe<tspan font-size="16" dy="5">3</tspan><tspan dy="-5">O</tspan><tspan font-size="16" dy="5">4</tspan></text><text x="339.5" y="1410.6" font-size="23.4" font-weight="bold" fill="#b5364a">FePC</text><text x="339.4" y="1439.9" font-size="23.4" font-weight="bold" fill="#3b7585" textLength="85.6" lengthAdjust="spacingAndGlyphs">Fe@BC</text><text x="338.8" y="1469.2" font-size="23.4" font-weight="bold" fill="#ee4848">CA-Fe@BC</text><circle cx="134.9" cy="1422.1" r="13.5" fill="none" stroke="#000" stroke-width="1.8"/><text x="134.9" y="1431.5" font-size="26" font-weight="normal" fill="#000" text-anchor="middle">1</text><circle cx="362.6" cy="1240.2" r="13.5" fill="none" stroke="#000" stroke-width="1.8"/><text x="362.6" y="1249.6" font-size="26" font-weight="normal" fill="#000" text-anchor="middle">2</text><line x1="108.1" y1="1443.7" x2="202" y2="1443.7" stroke="#000" stroke-width="2.6" stroke-linecap="butt"/><path d="M218,1443.7 L199.5,1435.3 L199.5,1452.1 Z" fill="#000"/><line x1="344.8" y1="1249.1" x2="279" y2="1287.5" stroke="#000" stroke-width="2.6" stroke-linecap="butt"/><path d="M264.6,1296.1 L277.5,1279.2 L285.5,1292.9 Z" fill="#000"/><text x="178.4" y="1546.8" font-size="36" font-weight="bold" fill="#000">Energy (eV)</text><text x="35.6" y="1451.3" font-size="36.3" font-weight="bold" fill="#000" textLength="217.7" lengthAdjust="spacingAndGlyphs" transform="rotate(-90 35.6 1451.3)">XANES (a.u.)</text><text x="5.4" y="1189.0" font-size="48" font-weight="bold" fill="#000">(j)</text><g clip-path="url(#cp39)"><path d="M596.2 1474.1 606.3 1474.4 613.2 1473.4 618.2 1471.6 632.7 1464.4 645.3 1461.8 650.3 1459.8 653.5 1457.5 656.6 1454.3 669.2 1438.5 680.6 1425.6 684.3 1422.4 687.5 1421.4 690 1422.2 693.2 1424.6 699.4 1431.6 703.2 1436.7 708.3 1446.5 716.4 1468.6 718.3 1471.4 720.2 1471.9 722.7 1469.8 729.7 1459.3 737.2 1453.6 740.4 1449.9 744.1 1442 751.1 1423.2 754.8 1414.4 758.6 1408.6 759.9 1407.7 761.8 1407.1 764.9 1408.1 773.1 1414.2 776.3 1415.3 785.1 1416.8 788.2 1418.5 792 1421.7 795.8 1426.3 800.2 1433.2 815.9 1463.3 819.7 1468.1 822.8 1470 825.4 1470 832.3 1467.2 835.4 1467.1 838.6 1468.7 846.8 1475.4 848.6 1476.2 851.2 1476.4 856.2 1474.4 865.6 1467.5 869.4 1465.4 874.5 1463.8 880.1 1463.4 888.3 1464.7 905.9 1470.6 913.5 1472.2 921.7 1472.6 939.3 1471.7 947.5 1471.9 958.2 1473.1 973.3 1475.8" stroke="#b5364a" stroke-width="2.6" fill="none" stroke-linejoin="round" stroke-linecap="round"/><path d="M596.2 1467 609.4 1465.6 622 1466.2 625.2 1465.5 628.3 1463.4 640.3 1449.2 649.7 1443.1 652.9 1440.2 664.8 1423.1 667.3 1421 673 1417.4 675.5 1414.7 679.3 1407.6 686.9 1387.3 689.4 1383.2 691.3 1382.2 693.2 1383.5 695 1387.1 698.2 1398.6 700.7 1412.9 706.4 1452.5 709.5 1467.6 710.8 1470.4 712 1471.7 717.1 1472 723.4 1475.6 725.3 1475.8 727.8 1474.4 735.3 1466.1 744.1 1459.1 747.3 1454.7 754.2 1441.2 756.1 1438.9 758 1438 760.5 1439.2 763 1442.3 766.2 1448.4 774.4 1467.5 776.9 1471.5 779.4 1473.2 781.3 1472.9 783.2 1471.4 791.4 1460.7 793.9 1458.5 796.4 1457.2 798.9 1456.8 802.1 1457.4 811.5 1463 815.3 1464.1 818.4 1463.2 826 1457.9 829.1 1456.9 832.3 1457.7 835.4 1460.4 838.6 1464.6 845.5 1476.4 847.4 1478.6 849.3 1479.9 854.3 1479.6 864.4 1473.3 873.2 1469.6 882.6 1467.4 894 1465.9 900.3 1466.2 905.9 1467.7 910.3 1469.9 919.8 1476.4 924.2 1477.8 929.2 1476.9 941.8 1470 945.6 1468.6 949.4 1468 954.4 1468.1 959.4 1469 973.3 1474.1" stroke="#148a14" stroke-width="2.6" fill="none" stroke-linejoin="round" stroke-linecap="round"/><path d="M596.2 1478.8 608.8 1477.1 618.2 1476.6 626.4 1477.4 637.1 1480 650.3 1479.9 654.7 1477.6 664.2 1470.6 673.6 1467 677.4 1464.5 681.2 1460 690 1446.8 699.4 1437.4 703.2 1431.1 708.9 1415 719 1377.6 722.7 1365.4 726.5 1356.8 728.4 1354.4 730.3 1353.5 732.2 1354 734.7 1356.8 737.2 1361.8 739.7 1368.9 743.5 1382.9 753.6 1426.6 756.7 1437.9 760.5 1449 764.3 1457.9 768.7 1465.9 772.5 1470.8 776.3 1473.8 779.4 1474.8 783.2 1474.2 796.4 1466.8 804 1463.3 812.8 1460.2 819.1 1459.2 822.8 1459.6 826.6 1460.9 830.4 1463.5 840.5 1472.4 843.6 1473.7 846.1 1473.6 848.6 1472.1 851.2 1469.3 860.6 1454.5 865.6 1448.6 868.8 1446.1 871.9 1444.5 875.1 1443.6 878.2 1443.3 884.5 1444.4 890.8 1447.3 897.8 1452.1 914.1 1465.3 919.2 1468.3 924.2 1470.4 931.7 1472.3 943.1 1473.9 973.3 1475.8" stroke="#ff1a1a" stroke-width="2.6" fill="none" stroke-linejoin="round" stroke-linecap="round"/><path d="M596.2 1478.8 613.2 1478.4 625.8 1477.3 635.9 1475.6 659.8 1470.5 664.8 1471 673.6 1474.6 676.8 1474.5 679.9 1472.6 683.1 1468.7 691.9 1451.8 695 1447.3 696.3 1446.4 697.6 1446.2 702.6 1448 704.5 1446.7 706.4 1442.8 708.9 1432.4 718.3 1373.5 724.6 1342.2 727.8 1330.6 730.3 1323.7 732.8 1319.3 734.1 1318.1 735.3 1317.7 737.2 1318.3 739.7 1321.4 744.1 1332.4 749.2 1351.7 761.1 1408.9 767.4 1434.4 771.2 1446.5 774.4 1454.6 777.5 1460.4 780.7 1463.6 782.5 1464.1 785.1 1463.3 793.2 1455.8 796.4 1454.1 798.9 1454.3 805.8 1458.1 807.7 1458 809 1457.3 812.1 1452.5 819.7 1434.7 821.6 1432.1 823.5 1431.3 825.4 1432.6 827.9 1436.6 836.7 1459.4 841.1 1468.5 843 1471.1 844.9 1472.6 846.8 1473.1 848.6 1472.3 850.5 1470.2 853.1 1465.6 857.5 1453.2 861.2 1439 870.1 1401.4 873.8 1388.3 877.6 1379.8 878.9 1378.4 880.8 1377.7 882.6 1378.8 884.5 1381.4 888.3 1390.4 892.7 1405.7 904.7 1453.3 908.5 1463.8 912.2 1469.8 914.1 1471.4 916 1472.2 917.9 1472.3 920.4 1471.5 924.8 1468.2 936.2 1456.8 939.3 1454.7 942.5 1453.9 945.6 1454.6 948.7 1456.5 958.8 1465.5 962.6 1468.2 967 1470.1 973.3 1471.7" stroke="#3b7585" stroke-width="2.6" fill="none" stroke-linejoin="round" stroke-linecap="round"/><path d="M596.2 1477 606.9 1477.8 615.1 1477.6 627 1475.9 639.6 1474.9 649.1 1472.1 652.2 1471.7 656.6 1472.8 666.1 1478.2 669.9 1478.8 684.3 1473.8 687.5 1471.6 690 1468.3 693.2 1462.2 696.3 1453.7 699.4 1442.4 702.6 1428.6 708.9 1393 720.2 1312.5 725.3 1281.6 727.8 1269.6 730.3 1260.3 732.8 1254.3 734.1 1252.6 735.3 1251.9 736.6 1252.2 737.8 1253.4 740.4 1258.6 742.9 1267.5 745.4 1279.8 749.2 1304.2 759.3 1381.8 764.9 1413.8 769.3 1432.4 775.6 1455.7 778.1 1462.8 780.7 1466.7 781.9 1466.9 783.8 1465.1 790.1 1451 793.2 1446.5 796.4 1445.4 802.1 1446.6 804.6 1446.6 806.5 1445.9 808.4 1444.3 811.5 1439 819.1 1420.9 821.6 1417.3 823.5 1416.6 824.7 1417.2 826.6 1419.4 829.8 1426.3 839.8 1460 843 1468.3 844.9 1471.2 846.1 1472.1 847.4 1471.8 848.6 1470.5 851.8 1462.4 855.6 1445.9 867.5 1374.7 871.9 1352.1 874.5 1342.2 876.3 1336.9 878.2 1333.5 880.1 1332.3 882 1333.4 883.9 1336.6 885.8 1341.6 888.3 1350.8 893.3 1376 904.7 1443.5 908.5 1459.2 910.3 1464.4 912.2 1467.9 914.1 1470.1 916 1471.1 917.9 1471 920.4 1469.5 924.8 1464.5 936.8 1446.2 939.9 1443.1 943.1 1441.9 945.6 1442.4 948.7 1444.4 962.6 1459.9 967 1463.3 973.3 1467" stroke="#ff8c1a" stroke-width="2.6" fill="none" stroke-linejoin="round" stroke-linecap="round"/></g><rect x="596.2" y="1198.2" width="377.6" height="280.6" stroke="#000" stroke-width="2.6" fill="none"/><line x1="596.2" y1="1478.8" x2="589.2" y2="1478.8" stroke="#000" stroke-width="2.2" stroke-linecap="butt"/><text x="588" y="1486.8" font-size="23.2" font-weight="normal" fill="#000" text-anchor="end">0</text><line x1="596.2" y1="1419.6" x2="589.2" y2="1419.6" stroke="#000" stroke-width="2.2" stroke-linecap="butt"/><text x="588" y="1427.6" font-size="23.2" font-weight="normal" fill="#000" text-anchor="end">1</text><line x1="596.2" y1="1360.5" x2="589.2" y2="1360.5" stroke="#000" stroke-width="2.2" stroke-linecap="butt"/><text x="588" y="1368.5" font-size="23.2" font-weight="normal" fill="#000" text-anchor="end">2</text><line x1="596.2" y1="1301.3" x2="589.2" y2="1301.3" stroke="#000" stroke-width="2.2" stroke-linecap="butt"/><text x="588" y="1309.3" font-size="23.2" font-weight="normal" fill="#000" text-anchor="end">3</text><line x1="596.2" y1="1242.2" x2="589.2" y2="1242.2" stroke="#000" stroke-width="2.2" stroke-linecap="butt"/><text x="588" y="1250.2" font-size="23.2" font-weight="normal" fill="#000" text-anchor="end">4</text><line x1="596.2" y1="1449.2" x2="592.2" y2="1449.2" stroke="#000" stroke-width="2.2" stroke-linecap="butt"/><line x1="596.2" y1="1390.1" x2="592.2" y2="1390.1" stroke="#000" stroke-width="2.2" stroke-linecap="butt"/><line x1="596.2" y1="1330.9" x2="592.2" y2="1330.9" stroke="#000" stroke-width="2.2" stroke-linecap="butt"/><line x1="596.2" y1="1271.8" x2="592.2" y2="1271.8" stroke="#000" stroke-width="2.2" stroke-linecap="butt"/><line x1="596.2" y1="1212.6" x2="592.2" y2="1212.6" stroke="#000" stroke-width="2.2" stroke-linecap="butt"/><line x1="596.2" y1="1478.8" x2="596.2" y2="1486.3" stroke="#000" stroke-width="2.2" stroke-linecap="butt"/><text x="596.2" y="1511.1" font-size="23.2" font-weight="normal" fill="#000" text-anchor="middle">0</text><line x1="721.9" y1="1478.8" x2="721.9" y2="1486.3" stroke="#000" stroke-width="2.2" stroke-linecap="butt"/><text x="721.9" y="1511.1" font-size="23.2" font-weight="normal" fill="#000" text-anchor="middle">2</text><line x1="847.6" y1="1478.8" x2="847.6" y2="1486.3" stroke="#000" stroke-width="2.2" stroke-linecap="butt"/><text x="847.6" y="1511.1" font-size="23.2" font-weight="normal" fill="#000" text-anchor="middle">4</text><line x1="973.3" y1="1478.8" x2="973.3" y2="1486.3" stroke="#000" stroke-width="2.2" stroke-linecap="butt"/><text x="973.3" y="1511.1" font-size="23.2" font-weight="normal" fill="#000" text-anchor="middle">6</text><line x1="659.1" y1="1478.8" x2="659.1" y2="1482.8" stroke="#000" stroke-width="2.2" stroke-linecap="butt"/><line x1="784.8" y1="1478.8" x2="784.8" y2="1482.8" stroke="#000" stroke-width="2.2" stroke-linecap="butt"/><line x1="910.5" y1="1478.8" x2="910.5" y2="1482.8" stroke="#000" stroke-width="2.2" stroke-linecap="butt"/><line x1="764.5" y1="1210.4" x2="828.4" y2="1210.4" stroke="#ff8c1a" stroke-width="4.4" stroke-linecap="round"/><line x1="764.5" y1="1237.6" x2="828.4" y2="1237.6" stroke="#b5364a" stroke-width="4.4" stroke-linecap="round"/><line x1="764.5" y1="1266.9" x2="828.4" y2="1266.9" stroke="#148a14" stroke-width="4.4" stroke-linecap="round"/><line x1="764.5" y1="1296.1" x2="828.4" y2="1296.1" stroke="#3b7585" stroke-width="4.4" stroke-linecap="round"/><line x1="764.5" y1="1324.1" x2="828.4" y2="1324.1" stroke="#ee4848" stroke-width="4.4" stroke-linecap="round"/><text x="840.6" y="1219.8" font-size="23.4" font-weight="bold" fill="#ff8c1a" textLength="72.1" lengthAdjust="spacingAndGlyphs">Fe foil</text><text x="841.2" y="1245.2" font-size="23.4" font-weight="bold" fill="#b5364a" text-anchor="start">Fe<tspan font-size="16" dy="5">3</tspan><tspan dy="-5">O</tspan><tspan font-size="16" dy="5">4</tspan></text><text x="840.7" y="1273.2" font-size="23.4" font-weight="bold" fill="#b5364a">FePC</text><text x="840.7" y="1301.2" font-size="23.4" font-weight="bold" fill="#3b7585" textLength="85.5" lengthAdjust="spacingAndGlyphs">Fe@BC</text><text x="841.2" y="1330.0" font-size="23.4" font-weight="bold" fill="#ee4848" textLength="127.6" lengthAdjust="spacingAndGlyphs">CA-Fe@BC</text><text x="613.5" y="1545.5" font-size="36" font-weight="bold" fill="#000">Radical distance (Å)</text><text x="0" y="0" font-size="36.5" font-weight="bold" transform="translate(548.9 1482.0) rotate(-90) scale(0.9985 1)"><tspan>|FT(k</tspan><tspan font-size="23" dy="-12.5">2</tspan><tspan style="font-family:'Liberation Serif',serif;font-style:italic;font-weight:normal" dy="12.5">χ</tspan><tspan>(k))| (Å</tspan><tspan font-size="23" dy="-12.5">-3</tspan><tspan dy="12.5">)</tspan></text><text x="510.5" y="1189.0" font-size="48" font-weight="bold" fill="#000">(k)</text><g clip-path="url(#cp42)"><path d="M1101.3 1464.1 1104.5 1464.1 1107.7 1464.1 1110.9 1464 1114.1 1463.9 1117.3 1463.8 1120.5 1463.7 1123.7 1463.5 1126.9 1463.3 1130.1 1463.2 1133.3 1463 1136.5 1462.7 1139.6 1462.3 1142.8 1461.8 1145.9 1461.2 1149.1 1460.5 1152.2 1459.7 1155.3 1458.9 1158.3 1458 1161.4 1457.1 1164.4 1456.1 1167.4 1454.9 1170.3 1453.5 1173 1451.9 1175.7 1450.1 1178.3 1448.2 1180.7 1446.1 1182.9 1443.8 1185 1441.4 1187 1438.9 1188.9 1436.3 1190.6 1433.6 1192.1 1430.8 1193.5 1427.9 1194.8 1425 1196.1 1422.1 1197.5 1419.2 1198.8 1416.3 1200.2 1413.4 1201.6 1410.5 1202.9 1407.6 1204.3 1404.7 1205.7 1401.8 1207.2 1399 1208.9 1396.3 1210.9 1393.8 1212.9 1391.3 1214.4 1388.4 1215.4 1385.4 1216.1 1382.3 1216.7 1379.2 1217.3 1376 1217.8 1372.9 1218.4 1369.7 1218.8 1366.5 1219.3 1363.4 1219.8 1360.2 1220.3 1357 1220.7 1353.9 1221.2 1350.7 1221.6 1347.5 1222 1344.3 1222.3 1341.2 1222.7 1338 1223 1334.8 1223.4 1331.6 1223.7 1328.4 1224 1325.3 1224.3 1322.1 1224.7 1318.9 1225 1315.7 1225.3 1312.5 1225.7 1309.3 1226 1306.2 1226.4 1303 1226.7 1299.8 1227.1 1296.6 1227.4 1293.4 1227.8 1290.3 1228.1 1287.1 1228.5 1283.9 1228.8 1280.7 1229.1 1277.5 1229.5 1274.3 1229.8 1271.2 1230.1 1268 1230.5 1264.8 1230.9 1261.6 1231.3 1258.5 1231.7 1255.3 1232.2 1252.1 1232.8 1249 1233.6 1245.9 1234.5 1242.8 1235.7 1239.9 1237.9 1241.2 1239 1244.2 1239.9 1247.3 1240.7 1250.4 1241.4 1253.5 1242.1 1256.6 1242.8 1259.7 1243.5 1262.9 1244 1266 1244.5 1269.2 1244.9 1272.4 1245.4 1275.5 1245.8 1278.7 1246.2 1281.9 1246.6 1285.1 1247 1288.2 1247.4 1291.4 1247.8 1294.6 1248.1 1297.8 1248.5 1300.9 1248.9 1304.1 1249.3 1307.3 1249.7 1310.5 1250.1 1313.7 1250.4 1316.8 1250.8 1320 1251.1 1323.2 1251.5 1326.4 1251.8 1329.6 1252.1 1332.7 1252.5 1335.9 1252.8 1339.1 1253.2 1342.3 1253.5 1345.5 1253.9 1348.7 1254.2 1351.8 1254.6 1355 1254.9 1358.2 1255.3 1361.4 1255.7 1364.5 1256 1367.7 1256.4 1370.9 1256.8 1374.1 1257.1 1377.3 1257.5 1380.4 1257.9 1383.6 1258.2 1386.8 1258.6 1390 1259 1393.2 1259.4 1396.3 1259.8 1399.5 1260.2 1402.7 1260.7 1405.8 1261.1 1409 1261.6 1412.2 1262.1 1415.3 1262.6 1418.5 1263.1 1421.7 1263.6 1424.8 1264.1 1428 1264.6 1431.1 1265.2 1434.3 1265.8 1437.4 1266.5 1440.6 1267.3 1443.6 1268.4 1446.7 1269.7 1449.6 1271.1 1452.4 1272.9 1455.1 1275.2 1457.3 1277.9 1459.1 1280.7 1460.6 1283.6 1461.9 1286.5 1463.3 1289.4 1464.6 1292.4 1465.9 1295.4 1467 1298.4 1467.9 1301.6 1468.5 1304.7 1468.9 1307.9 1469.3 1311.1 1469.6 1314.3 1469.9 1317.5 1470.2 1320.7 1470.4 1323.9 1470.6 1327 1470.8 1330.2 1471 1333.4 1471.2 1336.6 1471.3 1339.8 1471.5 1343 1471.6 1346.2 1471.7 1349.4 1471.9 1352.6 1472 1355.8 1472.2 1359 1472.3 1362.2 1472.5 1365.4 1472.6 1368.6 1472.7 1371.8 1472.9 1375 1473 1378.2 1473.1 1381.4 1473.2 1384.6 1473.4 1387.8 1473.5 1391 1473.6 1394.2 1473.7 1397.4 1473.8 1400.6 1473.9 1403.8 1474 1407 1474.1 1410.2 1474.2 1413.4 1474.2 1416.6 1474.3 1419.8 1474.4 1423 1474.5 1426.2 1474.5 1429.4 1474.6 1432.6 1474.7 1435.8 1474.7 1439 1474.8 1442.2 1474.9 1445.4 1474.9 1448.6 1475 1451.8 1475.1 1455 1475.1 1458.2 1475.2 1461.4 1475.2 1464.6 1475.3 1467.8 1475.3 1471 1475.3 1474.2 1475.4 1477.4 1475.4" fill="none" stroke="none" marker-start="url(#mk43)" marker-mid="url(#mk43)" marker-end="url(#mk43)"/><path d="M1101.3 1475.4 1117.7 1474.9 1136.6 1473.4 1161.8 1470.1 1173.1 1467.9 1184.5 1464 1195.8 1458.3 1202.1 1453.2 1207.2 1446.5 1209.7 1441.2 1212.2 1432.2 1216 1412.1 1228.6 1296.1 1232.4 1270.6 1234.9 1258.6 1236.1 1255.3 1237.4 1256.8 1239.9 1266.3 1242.4 1282.5 1247.5 1324.2 1256.3 1406.5 1261.3 1442.2 1263.9 1454.2 1266.4 1459.9 1270.2 1464.8 1277.7 1468.9 1286.5 1471.5 1301.7 1473.5 1320.6 1475.1 1345.8 1476.3 1396.2 1477.7 1478.1 1478.8 1101.3 1478.8Z" fill="url(#lg40)" stroke="none"/><path d="M1101.3 1475.4 1117.7 1474.9 1136.6 1473.4 1161.8 1470.1 1173.1 1467.9 1184.5 1464 1195.8 1458.3 1202.1 1453.2 1207.2 1446.5 1209.7 1441.2 1212.2 1432.2 1216 1412.1 1228.6 1296.1 1232.4 1270.6 1234.9 1258.6 1236.1 1255.3 1237.4 1256.8 1239.9 1266.3 1242.4 1282.5 1247.5 1324.2 1256.3 1406.5 1261.3 1442.2 1263.9 1454.2 1266.4 1459.9 1270.2 1464.8 1277.7 1468.9 1286.5 1471.5 1301.7 1473.5 1320.6 1475.1 1345.8 1476.3 1396.2 1477.7 1478.1 1478.8" stroke="#7a7a7a" stroke-width="2.0" fill="none" stroke-linejoin="round" stroke-linecap="round"/><path d="M1101.3 1473.2 1117.7 1472.2 1134.1 1469.6 1156.7 1464 1165.6 1461.4 1170.6 1459.2 1178.2 1454.4 1184.5 1449.1 1203.4 1422.2 1205.9 1419.7 1208.4 1419 1210.9 1420.3 1213.5 1423.1 1227.3 1444.2 1229.8 1447 1234.9 1449.9 1245 1453.6 1260.1 1460.3 1276.5 1464.9 1289.1 1467.4 1315.5 1471.6 1331.9 1473.7 1347 1475.1 1416.4 1477.9 1478.1 1478.8 1101.3 1478.8Z" fill="url(#lg41)" stroke="none"/><path d="M1101.3 1473.2 1117.7 1472.2 1134.1 1469.6 1156.7 1464 1165.6 1461.4 1170.6 1459.2 1178.2 1454.4 1184.5 1449.1 1203.4 1422.2 1205.9 1419.7 1208.4 1419 1210.9 1420.3 1213.5 1423.1 1227.3 1444.2 1229.8 1447 1234.9 1449.9 1245 1453.6 1260.1 1460.3 1276.5 1464.9 1289.1 1467.4 1315.5 1471.6 1331.9 1473.7 1347 1475.1 1416.4 1477.9 1478.1 1478.8" stroke="#7a7a7a" stroke-width="2.0" fill="none" stroke-linejoin="round" stroke-linecap="round"/><path d="M1101.3 1476.5 1112.6 1474.9 1121.4 1474.6 1129.6 1475.7 1138.4 1478.8 1157.3 1478.8 1159.8 1476.8 1162.9 1472.7 1171.8 1456.7 1174.9 1452.4 1178.7 1450 1186.2 1448.9 1188.7 1445.9 1191.3 1439.1 1197.5 1414.4 1201.3 1402 1204.5 1394.9 1209.5 1387.6 1212 1379.6 1216.4 1352 1224 1285.2 1227.1 1261.9 1230.3 1246.6 1231.5 1243.3 1233.4 1241.3 1235.3 1242.8 1237.2 1247.8 1240.3 1264.1 1254.8 1389.7 1260.4 1430.6 1263 1443.8 1265.5 1453.8 1268 1460.6 1271.1 1465.6 1273.7 1467.3 1276.2 1467.8 1285 1467.4 1288.1 1466.4 1291.9 1462.8 1302 1447.5 1305.1 1445 1308.9 1443.9 1321.5 1443.3 1325.9 1444.1 1329.6 1446.8 1336.6 1454.3 1339.7 1457.1 1342.9 1458.5 1345.4 1458 1349.1 1455 1352.9 1449.9 1365.5 1427.2 1371.2 1418.7 1376.8 1412.9 1380 1411.3 1382.5 1410.9 1385 1411.4 1387.5 1412.7 1390.7 1415.4 1393.8 1418.9 1407 1436.9 1419.6 1451 1429.7 1468.5 1433.4 1472.8 1435.3 1473.4 1437.2 1473 1439.7 1471.4 1446.6 1465.3 1449.2 1464.3 1451.7 1464.1 1457.3 1465.7 1478.1 1475.4" stroke="#ee1c1c" stroke-width="2.6" fill="none" stroke-linejoin="round" stroke-linecap="round"/></g><rect x="1100.8" y="1198.2" width="377.6" height="280.6" stroke="#000" stroke-width="2.6" fill="none"/><line x1="1100.8" y1="1478.8" x2="1093.8" y2="1478.8" stroke="#000" stroke-width="2.2" stroke-linecap="butt"/><text x="1091" y="1486.8" font-size="23.2" font-weight="normal" fill="#000" text-anchor="end">0</text><line x1="1100.8" y1="1365.9" x2="1093.8" y2="1365.9" stroke="#000" stroke-width="2.2" stroke-linecap="butt"/><text x="1091" y="1373.9" font-size="23.2" font-weight="normal" fill="#000" text-anchor="end">1</text><line x1="1100.8" y1="1253" x2="1093.8" y2="1253" stroke="#000" stroke-width="2.2" stroke-linecap="butt"/><text x="1091" y="1261" font-size="23.2" font-weight="normal" fill="#000" text-anchor="end">2</text><line x1="1100.8" y1="1422.3" x2="1096.8" y2="1422.3" stroke="#000" stroke-width="2.2" stroke-linecap="butt"/><line x1="1100.8" y1="1309.4" x2="1096.8" y2="1309.4" stroke="#000" stroke-width="2.2" stroke-linecap="butt"/><line x1="1100.8" y1="1196.5" x2="1096.8" y2="1196.5" stroke="#000" stroke-width="2.2" stroke-linecap="butt"/><line x1="1101.3" y1="1478.8" x2="1101.3" y2="1486.3" stroke="#000" stroke-width="2.2" stroke-linecap="butt"/><text x="1101.3" y="1511.1" font-size="23.2" font-weight="normal" fill="#000" text-anchor="middle">0</text><line x1="1226.9" y1="1478.8" x2="1226.9" y2="1486.3" stroke="#000" stroke-width="2.2" stroke-linecap="butt"/><text x="1226.9" y="1511.1" font-size="23.2" font-weight="normal" fill="#000" text-anchor="middle">2</text><line x1="1352.5" y1="1478.8" x2="1352.5" y2="1486.3" stroke="#000" stroke-width="2.2" stroke-linecap="butt"/><text x="1352.5" y="1511.1" font-size="23.2" font-weight="normal" fill="#000" text-anchor="middle">4</text><line x1="1478.1" y1="1478.8" x2="1478.1" y2="1486.3" stroke="#000" stroke-width="2.2" stroke-linecap="butt"/><text x="1478.1" y="1511.1" font-size="23.2" font-weight="normal" fill="#000" text-anchor="middle">6</text><line x1="1164.1" y1="1478.8" x2="1164.1" y2="1482.8" stroke="#000" stroke-width="2.2" stroke-linecap="butt"/><line x1="1289.7" y1="1478.8" x2="1289.7" y2="1482.8" stroke="#000" stroke-width="2.2" stroke-linecap="butt"/><line x1="1415.3" y1="1478.8" x2="1415.3" y2="1482.8" stroke="#000" stroke-width="2.2" stroke-linecap="butt"/><line x1="1269.5" y1="1213.4" x2="1332" y2="1213.4" stroke="#ee1c1c" stroke-width="4.4" stroke-linecap="round"/><text x="1345.2" y="1222.3" font-size="23.4" font-weight="bold" fill="#000">CA-Fe@BC</text><rect x="1268.5" y="1240.6" width="63.6" height="24.6" stroke="#9a9a9a" stroke-width="2.6" fill="url(#lg40)"/><text x="1344.6" y="1259.2" font-size="23.4" font-weight="bold" fill="#000" textLength="120.5" lengthAdjust="spacingAndGlyphs">Fe-Fe path</text><rect x="1268.5" y="1282.8" width="63.6" height="24.9" stroke="#9a9a9a" stroke-width="2.6" fill="url(#lg41)"/><text x="1344.6" y="1298.7" font-size="23.4" font-weight="bold" fill="#000" textLength="109.8" lengthAdjust="spacingAndGlyphs">Fe-N path</text><circle cx="1299.7" cy="1331.8" r="6.8" fill="#c4c4c4" stroke="none" stroke-width="1"/><text x="1345.7" y="1339.4" font-size="23.4" font-weight="bold" fill="#000" textLength="25.5" lengthAdjust="spacingAndGlyphs">fit</text><text x="1247.1" y="1546.8" font-size="36" font-weight="bold" fill="#000">R (Å)</text><text x="1024.5" y="1189.0" font-size="48" font-weight="bold" fill="#000">(l)</text><text x="0" y="0" font-size="36.5" font-weight="bold" transform="translate(1054.3 1483.0) rotate(-90) scale(1.0037 1)"><tspan>|FT(k</tspan><tspan font-size="23" dy="-12.5">2</tspan><tspan style="font-family:'Liberation Serif',serif;font-style:italic;font-weight:normal" dy="12.5">χ</tspan><tspan>(k))| (Å</tspan><tspan font-size="23" dy="-12.5">-3</tspan><tspan dy="12.5">)</tspan></text><g clip-path="url(#cp47)"><path d="M1604.2 1469.2 1607.4 1469.2 1610.6 1469.1 1613.8 1469 1617 1468.8 1620.2 1468.6 1623.4 1468.4 1626.6 1468.2 1629.8 1467.9 1632.9 1467.6 1636.1 1467.3 1639.3 1467 1642.5 1466.6 1645.7 1466.2 1648.8 1465.7 1652 1465.2 1655.1 1464.6 1658.3 1464 1661.4 1463.2 1664.5 1462.5 1667.6 1461.6 1670.6 1460.5 1673.5 1459.2 1676.3 1457.6 1679 1455.9 1681.6 1454 1684.1 1452 1686.5 1449.9 1688.5 1447.5 1690.3 1444.8 1692 1442.1 1693.6 1439.3 1695.2 1436.5 1696.9 1433.8 1698.8 1431.3 1701 1428.9 1703.3 1426.7 1705.7 1424.6 1707.9 1422.2 1709.8 1419.7 1711.4 1416.9 1712.7 1414 1713.8 1411 1714.8 1408 1715.7 1404.9 1716.5 1401.8 1717.3 1398.7 1718.1 1395.6 1718.8 1392.5 1719.5 1389.3 1720.1 1386.2 1720.8 1383.1 1721.3 1379.9 1721.8 1376.8 1722.3 1373.6 1722.7 1370.4 1723.2 1367.2 1723.6 1364.1 1724 1360.9 1724.4 1357.7 1724.8 1354.5 1725.1 1351.4 1725.5 1348.2 1725.9 1345 1726.2 1341.8 1726.6 1338.7 1727 1335.5 1727.3 1332.3 1727.6 1329.1 1727.9 1325.9 1728.2 1322.7 1728.5 1319.5 1728.8 1316.4 1729.1 1313.2 1729.4 1310 1729.6 1306.8 1729.9 1303.6 1730.2 1300.4 1730.5 1297.2 1730.8 1294 1731.1 1290.9 1731.4 1287.7 1731.7 1284.5 1732 1281.3 1732.3 1278.1 1732.7 1274.9 1733 1271.8 1733.4 1268.6 1733.8 1265.4 1734.1 1262.2 1734.5 1259 1734.8 1255.9 1735.2 1252.7 1735.6 1249.5 1735.9 1246.3 1736.3 1243.2 1736.8 1240 1737.3 1236.8 1737.9 1233.7 1739 1230.7 1741.9 1231.5 1744.3 1233.7 1746 1236.3 1746.9 1239.4 1747.5 1242.6 1748.1 1245.7 1748.6 1248.9 1749 1252 1749.5 1255.2 1749.9 1258.4 1750.3 1261.6 1750.7 1264.7 1751.1 1267.9 1751.6 1271.1 1752 1274.2 1752.4 1277.4 1752.8 1280.6 1753.2 1283.8 1753.5 1286.9 1753.9 1290.1 1754.2 1293.3 1754.6 1296.5 1754.9 1299.7 1755.3 1302.9 1755.6 1306 1755.9 1309.2 1756.3 1312.4 1756.6 1315.6 1756.9 1318.8 1757.3 1321.9 1757.6 1325.1 1758 1328.3 1758.4 1331.5 1758.7 1334.7 1759.1 1337.8 1759.5 1341 1759.8 1344.2 1760.2 1347.4 1760.5 1350.6 1760.9 1353.7 1761.3 1356.9 1761.6 1360.1 1762 1363.3 1762.4 1366.4 1762.8 1369.6 1763.3 1372.8 1763.7 1376 1764.2 1379.1 1764.7 1382.3 1765.2 1385.5 1765.7 1388.6 1766.2 1391.8 1766.7 1394.9 1767.3 1398.1 1767.9 1401.2 1768.5 1404.4 1769.2 1407.5 1770 1410.6 1770.8 1413.7 1771.7 1416.7 1772.7 1419.8 1773.8 1422.8 1775 1425.8 1776.2 1428.7 1777.6 1431.6 1779 1434.5 1780.5 1437.3 1782.1 1440.1 1783.8 1442.8 1785.6 1445.5 1787.5 1448 1789.5 1450.5 1791.5 1453 1793.6 1455.4 1795.8 1457.7 1798.4 1459.6 1801.3 1461 1804.2 1462.3 1807.2 1463.3 1810.3 1464.3 1813.4 1465.2 1816.5 1465.9 1819.6 1466.6 1822.8 1467.1 1825.9 1467.7 1829.1 1468.2 1832.2 1468.7 1835.4 1469.2 1838.6 1469.6 1841.7 1470 1844.9 1470.3 1848.1 1470.6 1851.3 1470.9 1854.5 1471.1 1857.7 1471.2 1860.9 1471.4 1864.1 1471.5 1867.3 1471.7 1870.5 1471.8 1873.7 1471.9 1876.9 1472 1880.1 1472.1 1883.3 1472.2 1886.5 1472.3 1889.7 1472.4 1892.9 1472.4 1896.1 1472.5 1899.3 1472.6 1902.5 1472.7 1905.7 1472.7 1908.9 1472.8 1912.1 1472.9 1915.3 1472.9 1918.5 1473 1921.7 1473.1 1924.9 1473.1 1928.1 1473.2 1931.3 1473.2 1934.5 1473.3 1937.7 1473.4 1940.9 1473.4 1944.1 1473.5 1947.3 1473.5 1950.5 1473.6 1953.7 1473.6 1956.9 1473.7 1960.1 1473.7 1963.3 1473.7 1966.5 1473.8 1969.7 1473.8 1972.9 1473.8 1976.1 1473.9 1979.3 1473.9" fill="none" stroke="none" marker-start="url(#mk48)" marker-mid="url(#mk48)" marker-end="url(#mk48)"/><path d="M1604.2 1476.7 1642 1475.6 1671 1473.6 1683.6 1472.3 1691.2 1471.1 1698.7 1469.1 1701.2 1467.5 1705 1462.8 1708.8 1455.5 1712.6 1446 1717.6 1430.5 1718.9 1424.7 1721.4 1408.5 1727.7 1357.6 1735.3 1287.2 1741.6 1252.1 1744.1 1244.1 1745.3 1242.7 1746.6 1243.4 1747.9 1245.5 1750.4 1253.2 1756.7 1281.8 1760.5 1308.2 1778.1 1445.3 1779.4 1452.3 1781.9 1461.6 1784.4 1468.4 1785.7 1470.5 1790.7 1473.7 1795.8 1475.3 1815.9 1476.8 1884 1478 1981 1478.6 1604.2 1478.6Z" fill="url(#lg44)" stroke="none"/><path d="M1604.2 1476.7 1642 1475.6 1671 1473.6 1683.6 1472.3 1691.2 1471.1 1698.7 1469.1 1701.2 1467.5 1705 1462.8 1708.8 1455.5 1712.6 1446 1717.6 1430.5 1718.9 1424.7 1721.4 1408.5 1727.7 1357.6 1735.3 1287.2 1741.6 1252.1 1744.1 1244.1 1745.3 1242.7 1746.6 1243.4 1747.9 1245.5 1750.4 1253.2 1756.7 1281.8 1760.5 1308.2 1778.1 1445.3 1779.4 1452.3 1781.9 1461.6 1784.4 1468.4 1785.7 1470.5 1790.7 1473.7 1795.8 1475.3 1815.9 1476.8 1884 1478 1981 1478.6" stroke="#7a7a7a" stroke-width="2.0" fill="none" stroke-linejoin="round" stroke-linecap="round"/><path d="M1604.2 1476.7 1634.4 1476 1669.7 1473.7 1682.3 1472.1 1692.4 1469.1 1694.9 1466 1697.5 1460.5 1702.5 1448.2 1710.1 1424.5 1712.6 1419.6 1713.8 1418.7 1715.1 1419.1 1716.4 1420.8 1718.9 1426.8 1723.9 1442.3 1729 1459.9 1732.7 1466.6 1735.3 1469.1 1736.5 1469.2 1741.6 1464.8 1742.8 1464.6 1749.1 1467.5 1769.3 1469.5 1785.7 1473 1792 1473.9 1836.1 1476 1882.7 1477.4 1930.6 1478.3 1981 1478.6 1604.2 1478.6Z" fill="url(#lg46)" stroke="none"/><path d="M1604.2 1476.7 1634.4 1476 1669.7 1473.7 1682.3 1472.1 1692.4 1469.1 1694.9 1466 1697.5 1460.5 1702.5 1448.2 1710.1 1424.5 1712.6 1419.6 1713.8 1418.7 1715.1 1419.1 1716.4 1420.8 1718.9 1426.8 1723.9 1442.3 1729 1459.9 1732.7 1466.6 1735.3 1469.1 1736.5 1469.2 1741.6 1464.8 1742.8 1464.6 1749.1 1467.5 1769.3 1469.5 1785.7 1473 1792 1473.9 1836.1 1476 1882.7 1477.4 1930.6 1478.3 1981 1478.6" stroke="#7a7a7a" stroke-width="2.0" fill="none" stroke-linejoin="round" stroke-linecap="round"/><path d="M1604.2 1477.7 1624.4 1477.3 1645.8 1476.3 1668.5 1474.7 1678.6 1473.2 1682.3 1471.9 1687.4 1468.5 1692.4 1464.3 1698.7 1456.7 1701.2 1455.2 1702.5 1455.5 1703.8 1456.5 1710.1 1466.3 1715.1 1471.7 1717.6 1473.9 1720.1 1474.8 1722.7 1474.3 1727.7 1471.6 1730.2 1471.1 1749.1 1474 1770.5 1475.7 1788.2 1476.6 1882.7 1478.1 1981 1478.6 1604.2 1478.6Z" fill="url(#lg45)" stroke="none"/><path d="M1604.2 1477.7 1624.4 1477.3 1645.8 1476.3 1668.5 1474.7 1678.6 1473.2 1682.3 1471.9 1687.4 1468.5 1692.4 1464.3 1698.7 1456.7 1701.2 1455.2 1702.5 1455.5 1703.8 1456.5 1710.1 1466.3 1715.1 1471.7 1717.6 1473.9 1720.1 1474.8 1722.7 1474.3 1727.7 1471.6 1730.2 1471.1 1749.1 1474 1770.5 1475.7 1788.2 1476.6 1882.7 1478.1 1981 1478.6" stroke="#7a7a7a" stroke-width="2.0" fill="none" stroke-linejoin="round" stroke-linecap="round"/><path d="M1604.2 1473.9 1617.4 1476.6 1622.4 1477 1627.5 1476.8 1632.5 1475.7 1637.5 1473.7 1641.3 1471.5 1648.9 1465.9 1653.3 1463.9 1657 1463.5 1667.1 1463.7 1671.5 1464.2 1677.2 1465.5 1679.7 1464.9 1682.2 1462.5 1684.1 1459 1691.6 1437.7 1695.4 1429.9 1697.3 1427.7 1698.6 1427.1 1703 1427.5 1704.8 1427 1707.4 1424 1709.9 1418.4 1712.4 1410.4 1718.1 1384.6 1723.1 1351 1731.3 1278.9 1735 1251 1738.8 1231.3 1740.7 1225.8 1742 1224.2 1742.6 1224 1744.5 1226.1 1747 1233.4 1750.8 1249.3 1754.5 1268.8 1758.9 1297.9 1769 1377.5 1775.3 1415.1 1778.4 1428.7 1782.2 1441 1786.6 1451.1 1790.4 1456.7 1791.7 1457.6 1792.9 1457.8 1794.8 1456.6 1796.7 1453.3 1801.1 1442.6 1803 1440.4 1804.2 1440.3 1805.5 1440.9 1809.3 1444.7 1811.2 1445.8 1812.4 1445.6 1814.3 1443.8 1816.2 1440.4 1818.7 1433.9 1826.9 1407.9 1828.8 1404.6 1830 1403.7 1830.7 1403.8 1831.9 1404.9 1833.2 1407.3 1835.7 1414.8 1843.9 1450.8 1847 1462.4 1848.9 1467.1 1850.2 1468.9 1851.4 1469.6 1852.7 1468.8 1855.2 1463.3 1858.3 1450.3 1870.3 1382.3 1878.5 1342.8 1883.5 1324.7 1885.4 1320.9 1887.3 1319.3 1889.2 1320.3 1891 1323.6 1892.9 1329.1 1895.4 1339.2 1899.9 1363.2 1912.4 1444.6 1915.6 1459.5 1918.7 1468.3 1920 1469.8 1921.2 1470.4 1923.8 1469.2 1938.2 1453.1 1946.4 1441.7 1948.3 1439.9 1950.2 1439.2 1952.7 1440 1955.2 1442.4 1964 1454.9 1969 1460.4 1974.1 1464.2 1981 1467.4" stroke="#3a7a8a" stroke-width="2.6" fill="none" stroke-linejoin="round" stroke-linecap="round"/></g><rect x="1603.7" y="1198.2" width="377.9" height="280.4" stroke="#000" stroke-width="2.6" fill="none"/><line x1="1603.7" y1="1478.6" x2="1596.7" y2="1478.6" stroke="#000" stroke-width="2.2" stroke-linecap="butt"/><text x="1592" y="1486.6" font-size="23.2" font-weight="normal" fill="#000" text-anchor="end">0</text><line x1="1603.7" y1="1385" x2="1596.7" y2="1385" stroke="#000" stroke-width="2.2" stroke-linecap="butt"/><text x="1592" y="1393" font-size="23.2" font-weight="normal" fill="#000" text-anchor="end">1</text><line x1="1603.7" y1="1291.4" x2="1596.7" y2="1291.4" stroke="#000" stroke-width="2.2" stroke-linecap="butt"/><text x="1592" y="1299.4" font-size="23.2" font-weight="normal" fill="#000" text-anchor="end">2</text><line x1="1603.7" y1="1197.8" x2="1596.7" y2="1197.8" stroke="#000" stroke-width="2.2" stroke-linecap="butt"/><text x="1592" y="1205.8" font-size="23.2" font-weight="normal" fill="#000" text-anchor="end">3</text><line x1="1603.7" y1="1431.8" x2="1599.7" y2="1431.8" stroke="#000" stroke-width="2.2" stroke-linecap="butt"/><line x1="1603.7" y1="1338.2" x2="1599.7" y2="1338.2" stroke="#000" stroke-width="2.2" stroke-linecap="butt"/><line x1="1603.7" y1="1244.6" x2="1599.7" y2="1244.6" stroke="#000" stroke-width="2.2" stroke-linecap="butt"/><line x1="1604.2" y1="1478.6" x2="1604.2" y2="1486.1" stroke="#000" stroke-width="2.2" stroke-linecap="butt"/><text x="1604.2" y="1511.1" font-size="23.2" font-weight="normal" fill="#000" text-anchor="middle">0</text><line x1="1729.8" y1="1478.6" x2="1729.8" y2="1486.1" stroke="#000" stroke-width="2.2" stroke-linecap="butt"/><text x="1729.8" y="1511.1" font-size="23.2" font-weight="normal" fill="#000" text-anchor="middle">2</text><line x1="1855.4" y1="1478.6" x2="1855.4" y2="1486.1" stroke="#000" stroke-width="2.2" stroke-linecap="butt"/><text x="1855.4" y="1511.1" font-size="23.2" font-weight="normal" fill="#000" text-anchor="middle">4</text><line x1="1981" y1="1478.6" x2="1981" y2="1486.1" stroke="#000" stroke-width="2.2" stroke-linecap="butt"/><text x="1981" y="1511.1" font-size="23.2" font-weight="normal" fill="#000" text-anchor="middle">6</text><line x1="1667" y1="1478.6" x2="1667" y2="1482.6" stroke="#000" stroke-width="2.2" stroke-linecap="butt"/><line x1="1792.6" y1="1478.6" x2="1792.6" y2="1482.6" stroke="#000" stroke-width="2.2" stroke-linecap="butt"/><line x1="1918.2" y1="1478.6" x2="1918.2" y2="1482.6" stroke="#000" stroke-width="2.2" stroke-linecap="butt"/><line x1="1772" y1="1207.8" x2="1836" y2="1207.8" stroke="#ee1c1c" stroke-width="4.4" stroke-linecap="round"/><text x="1847.6" y="1216.5" font-size="23.4" font-weight="bold" fill="#000">CA-Fe@BC</text><rect x="1771.4" y="1226.2" width="64.4" height="24.6" stroke="#9a9a9a" stroke-width="2.6" fill="url(#lg44)"/><text x="1847.0" y="1245.2" font-size="23.4" font-weight="bold" fill="#000" textLength="120.5" lengthAdjust="spacingAndGlyphs">Fe-Fe path</text><rect x="1771.4" y="1262.6" width="64.4" height="24.6" stroke="#9a9a9a" stroke-width="2.6" fill="url(#lg45)"/><text x="1847.0" y="1279.1" font-size="23.4" font-weight="bold" fill="#000" textLength="109.8" lengthAdjust="spacingAndGlyphs">Fe-N path</text><rect x="1771.4" y="1298.2" width="64.4" height="24.6" stroke="#9a9a9a" stroke-width="2.6" fill="url(#lg46)"/><text x="1846.9" y="1314.7" font-size="23.4" font-weight="bold" fill="#000" textLength="112.6" lengthAdjust="spacingAndGlyphs">Fe-O path</text><circle cx="1802.7" cy="1343.2" r="6.8" fill="#c4c4c4" stroke="none" stroke-width="1"/><text x="1848.1" y="1350.3" font-size="23.4" font-weight="bold" fill="#000" textLength="25.5" lengthAdjust="spacingAndGlyphs">fit</text><text x="1752.1" y="1546.8" font-size="36" font-weight="bold" fill="#000">R (Å)</text><text x="1509.3" y="1189.0" font-size="48" font-weight="bold" fill="#000" textLength="73.1" lengthAdjust="spacingAndGlyphs">(m)</text><text x="0" y="0" font-size="36.5" font-weight="bold" transform="translate(1555.9 1483.0) rotate(-90) scale(1.0037 1)"><tspan>|FT(k</tspan><tspan font-size="23" dy="-12.5">2</tspan><tspan style="font-family:'Liberation Serif',serif;font-style:italic;font-weight:normal" dy="12.5">χ</tspan><tspan>(k))| (Å</tspan><tspan font-size="23" dy="-12.5">-3</tspan><tspan dy="12.5">)</tspan></text>
</svg></body></html>
